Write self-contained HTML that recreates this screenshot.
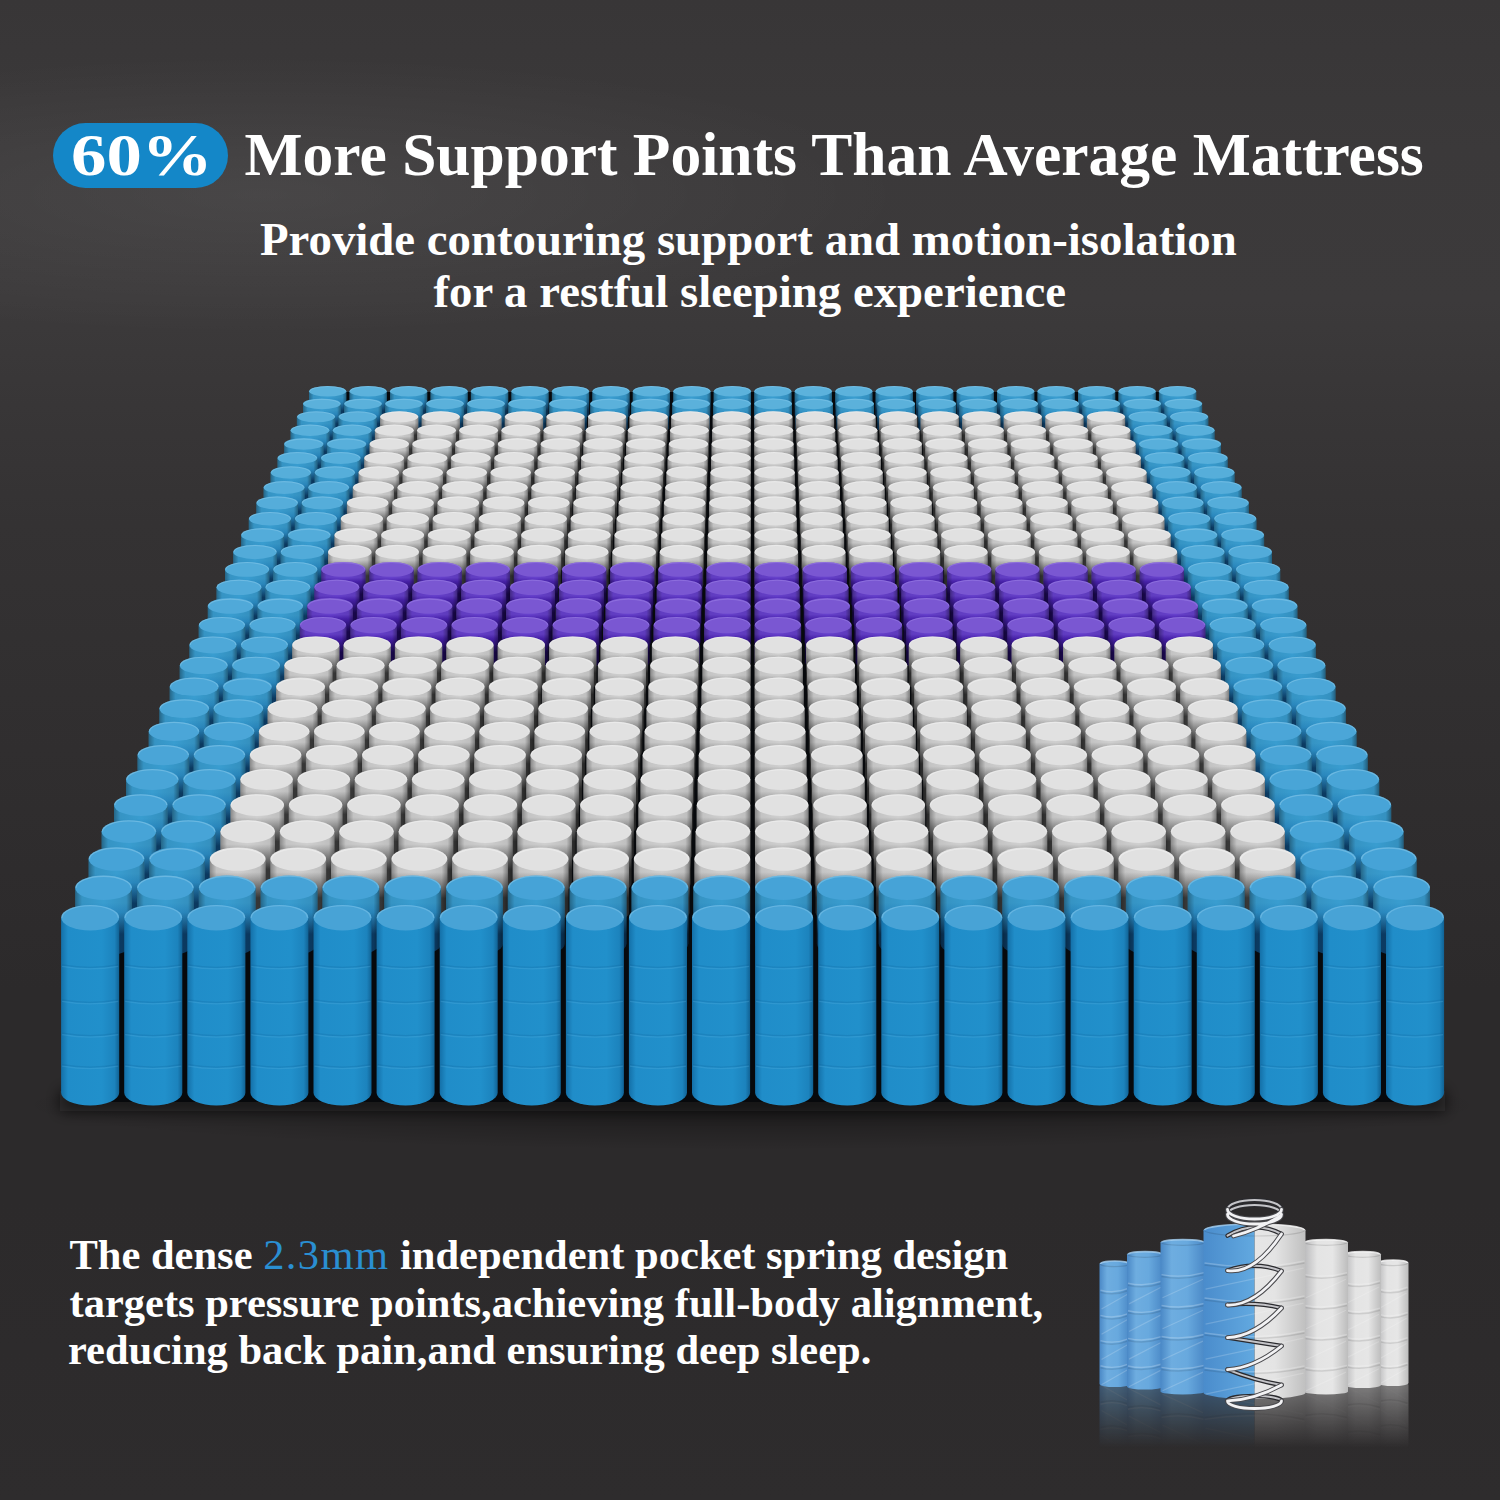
<!DOCTYPE html>
<html><head><meta charset="utf-8"><style>
html,body{margin:0;padding:0}
body{width:1500px;height:1500px;position:relative;overflow:hidden;
background:radial-gradient(ellipse 650px 140px at 260px 195px,rgba(255,255,255,0.065),rgba(255,255,255,0) 100%),linear-gradient(180deg,#383637 0%,#3b393a 10%,#3c3a3b 20%,#383637 27%,#343233 35%,#302e2f 50%,#2c2a2b 66%,#2c2a2b 80%,#2e2c2d 100%);
font-family:"Liberation Serif",serif;color:#fff}
.t{position:absolute;white-space:nowrap;font-weight:bold;line-height:1}
#pill{position:absolute;left:53px;top:123px;width:175px;height:65px;border-radius:33px;background:#1487c8}
</style></head><body>
<svg width="1500" height="1500" viewBox="0 0 1500 1500" style="position:absolute;left:0;top:0"><defs><linearGradient id="sb" x1="0" y1="0" x2="0" y2="1"><stop offset="0" stop-color="#399dd0"/><stop offset="0.22" stop-color="#399dd0"/><stop offset="0.36" stop-color="#2c8fc8"/><stop offset="0.68" stop-color="#0c3d66"/></linearGradient><linearGradient id="sw" x1="0" y1="0" x2="0" y2="1"><stop offset="0" stop-color="#d0d0d0"/><stop offset="0.2" stop-color="#d0d0d0"/><stop offset="0.3" stop-color="#ababab"/><stop offset="0.6" stop-color="#3a3a3a"/></linearGradient><linearGradient id="sp" x1="0" y1="0" x2="0" y2="1"><stop offset="0" stop-color="#6640cc"/><stop offset="0.2" stop-color="#6640cc"/><stop offset="0.3" stop-color="#4a22b0"/><stop offset="0.6" stop-color="#1a0850"/></linearGradient><linearGradient id="hs" x1="0" y1="0" x2="1" y2="0"><stop offset="0" stop-color="#000" stop-opacity="0.35"/><stop offset="0.12" stop-color="#000" stop-opacity="0.06"/><stop offset="0.5" stop-color="#000" stop-opacity="0"/><stop offset="0.9" stop-color="#000" stop-opacity="0.08"/><stop offset="1" stop-color="#000" stop-opacity="0.4"/></linearGradient><linearGradient id="fr" x1="0" y1="0" x2="1" y2="0"><stop offset="0" stop-color="#1470a8"/><stop offset="0.12" stop-color="#208dc9"/><stop offset="0.7" stop-color="#2190cb"/><stop offset="0.92" stop-color="#1c83bd"/><stop offset="1" stop-color="#116294"/></linearGradient><linearGradient id="ib" x1="0" y1="0" x2="1" y2="0"><stop offset="0" stop-color="#4a88c6"/><stop offset="0.25" stop-color="#6eade0"/><stop offset="0.6" stop-color="#68a9de"/><stop offset="1" stop-color="#4a88c6"/></linearGradient><linearGradient id="iw" x1="0" y1="0" x2="1" y2="0"><stop offset="0" stop-color="#b9b9bb"/><stop offset="0.3" stop-color="#e4e4e4"/><stop offset="0.65" stop-color="#e6e6e6"/><stop offset="1" stop-color="#bdbdbd"/></linearGradient><linearGradient id="ibh" x1="0" y1="0" x2="1" y2="0"><stop offset="0" stop-color="#4a8ccc"/><stop offset="0.5" stop-color="#62a9e0"/><stop offset="1" stop-color="#7ab6e4"/></linearGradient><linearGradient id="iwh" x1="0" y1="0" x2="1" y2="0"><stop offset="0" stop-color="#c9c9cb"/><stop offset="0.3" stop-color="#e8e8e8"/><stop offset="0.7" stop-color="#e4e4e4"/><stop offset="1" stop-color="#c0c0c0"/></linearGradient><linearGradient id="rf" x1="0" y1="0" x2="0" y2="1"><stop offset="0.1" stop-color="#fff" stop-opacity="0.42"/><stop offset="0.85" stop-color="#fff" stop-opacity="0"/></linearGradient><mask id="rfm" maskUnits="userSpaceOnUse" x="1090" y="1380" width="330" height="80"><rect x="1090" y="1380" width="330" height="80" fill="url(#rf)"/></mask><linearGradient id="spr" x1="0" y1="0" x2="1" y2="0"><stop offset="0" stop-color="#8a8a8c"/><stop offset="0.3" stop-color="#f2f2f2"/><stop offset="0.6" stop-color="#cfcfd1"/><stop offset="1" stop-color="#7d7d80"/></linearGradient><filter id="blur6" x="-10%" y="-100%" width="120%" height="300%"><feGaussianBlur stdDeviation="7.5"/></filter><radialGradient id="shadow" cx="0.5" cy="0.5" r="0.5"><stop offset="0" stop-color="#000" stop-opacity="0.38"/><stop offset="1" stop-color="#000" stop-opacity="0"/></radialGradient></defs><ellipse cx="752" cy="1105" rx="740" ry="45" fill="url(#shadow)"/><rect x="60.2" y="1090.9" width="1384.9" height="20" fill="#0e0d0e" fill-opacity="0.75" filter="url(#blur6)"/><polygon points="327.7,391.9 1177.5,391.9 1415.0,924.9 1415.0,1101.9 90.2,1101.9 90.2,924.9" fill="#07090c"/><path d="M309.0,391.2L309.0,414.9A18.6,5.2 0 0 0 346.3,414.9L346.3,391.2Z" fill="url(#sb)"/><path d="M309.0,391.2L309.0,414.9A18.6,5.2 0 0 0 346.3,414.9L346.3,391.2Z" fill="url(#hs)"/><ellipse cx="327.7" cy="391.2" rx="18.6" ry="5.2" fill="#5cb2dc"/><path d="M309.8,391.2A17.8,4.6 0 0 1 345.5,391.2" fill="none" stroke="#86c8ea" stroke-opacity="0.55" stroke-width="0.90"/><path d="M349.5,391.2L349.5,414.9A18.6,5.2 0 0 0 386.8,414.9L386.8,391.2Z" fill="url(#sb)"/><path d="M349.5,391.2L349.5,414.9A18.6,5.2 0 0 0 386.8,414.9L386.8,391.2Z" fill="url(#hs)"/><ellipse cx="368.1" cy="391.2" rx="18.6" ry="5.2" fill="#5cb2dc"/><path d="M350.3,391.2A17.8,4.6 0 0 1 386.0,391.2" fill="none" stroke="#86c8ea" stroke-opacity="0.55" stroke-width="0.90"/><path d="M390.0,391.2L390.0,414.9A18.6,5.2 0 0 0 427.2,414.9L427.2,391.2Z" fill="url(#sb)"/><path d="M390.0,391.2L390.0,414.9A18.6,5.2 0 0 0 427.2,414.9L427.2,391.2Z" fill="url(#hs)"/><ellipse cx="408.6" cy="391.2" rx="18.6" ry="5.2" fill="#5cb2dc"/><path d="M390.8,391.2A17.8,4.6 0 0 1 426.4,391.2" fill="none" stroke="#86c8ea" stroke-opacity="0.55" stroke-width="0.90"/><path d="M430.5,391.2L430.5,414.9A18.6,5.2 0 0 0 467.7,414.9L467.7,391.2Z" fill="url(#sb)"/><path d="M430.5,391.2L430.5,414.9A18.6,5.2 0 0 0 467.7,414.9L467.7,391.2Z" fill="url(#hs)"/><ellipse cx="449.1" cy="391.2" rx="18.6" ry="5.2" fill="#5cb2dc"/><path d="M431.3,391.2A17.8,4.6 0 0 1 466.9,391.2" fill="none" stroke="#86c8ea" stroke-opacity="0.55" stroke-width="0.90"/><path d="M470.9,391.2L470.9,414.9A18.6,5.2 0 0 0 508.2,414.9L508.2,391.2Z" fill="url(#sb)"/><path d="M470.9,391.2L470.9,414.9A18.6,5.2 0 0 0 508.2,414.9L508.2,391.2Z" fill="url(#hs)"/><ellipse cx="489.5" cy="391.2" rx="18.6" ry="5.2" fill="#5cb2dc"/><path d="M471.7,391.2A17.8,4.6 0 0 1 507.4,391.2" fill="none" stroke="#86c8ea" stroke-opacity="0.55" stroke-width="0.90"/><path d="M511.4,391.2L511.4,414.9A18.6,5.2 0 0 0 548.6,414.9L548.6,391.2Z" fill="url(#sb)"/><path d="M511.4,391.2L511.4,414.9A18.6,5.2 0 0 0 548.6,414.9L548.6,391.2Z" fill="url(#hs)"/><ellipse cx="530.0" cy="391.2" rx="18.6" ry="5.2" fill="#5cb2dc"/><path d="M512.2,391.2A17.8,4.6 0 0 1 547.8,391.2" fill="none" stroke="#86c8ea" stroke-opacity="0.55" stroke-width="0.90"/><path d="M551.9,391.2L551.9,414.9A18.6,5.2 0 0 0 589.1,414.9L589.1,391.2Z" fill="url(#sb)"/><path d="M551.9,391.2L551.9,414.9A18.6,5.2 0 0 0 589.1,414.9L589.1,391.2Z" fill="url(#hs)"/><ellipse cx="570.5" cy="391.2" rx="18.6" ry="5.2" fill="#5cb2dc"/><path d="M552.7,391.2A17.8,4.6 0 0 1 588.3,391.2" fill="none" stroke="#86c8ea" stroke-opacity="0.55" stroke-width="0.90"/><path d="M592.3,391.2L592.3,414.9A18.6,5.2 0 0 0 629.6,414.9L629.6,391.2Z" fill="url(#sb)"/><path d="M592.3,391.2L592.3,414.9A18.6,5.2 0 0 0 629.6,414.9L629.6,391.2Z" fill="url(#hs)"/><ellipse cx="611.0" cy="391.2" rx="18.6" ry="5.2" fill="#5cb2dc"/><path d="M593.1,391.2A17.8,4.6 0 0 1 628.8,391.2" fill="none" stroke="#86c8ea" stroke-opacity="0.55" stroke-width="0.90"/><path d="M632.8,391.2L632.8,414.9A18.6,5.2 0 0 0 670.0,414.9L670.0,391.2Z" fill="url(#sb)"/><path d="M632.8,391.2L632.8,414.9A18.6,5.2 0 0 0 670.0,414.9L670.0,391.2Z" fill="url(#hs)"/><ellipse cx="651.4" cy="391.2" rx="18.6" ry="5.2" fill="#5cb2dc"/><path d="M633.6,391.2A17.8,4.6 0 0 1 669.2,391.2" fill="none" stroke="#86c8ea" stroke-opacity="0.55" stroke-width="0.90"/><path d="M673.3,391.2L673.3,414.9A18.6,5.2 0 0 0 710.5,414.9L710.5,391.2Z" fill="url(#sb)"/><path d="M673.3,391.2L673.3,414.9A18.6,5.2 0 0 0 710.5,414.9L710.5,391.2Z" fill="url(#hs)"/><ellipse cx="691.9" cy="391.2" rx="18.6" ry="5.2" fill="#5cb2dc"/><path d="M674.1,391.2A17.8,4.6 0 0 1 709.7,391.2" fill="none" stroke="#86c8ea" stroke-opacity="0.55" stroke-width="0.90"/><path d="M713.7,391.2L713.7,414.9A18.6,5.2 0 0 0 751.0,414.9L751.0,391.2Z" fill="url(#sb)"/><path d="M713.7,391.2L713.7,414.9A18.6,5.2 0 0 0 751.0,414.9L751.0,391.2Z" fill="url(#hs)"/><ellipse cx="732.4" cy="391.2" rx="18.6" ry="5.2" fill="#5cb2dc"/><path d="M714.5,391.2A17.8,4.6 0 0 1 750.2,391.2" fill="none" stroke="#86c8ea" stroke-opacity="0.55" stroke-width="0.90"/><path d="M754.2,391.2L754.2,414.9A18.6,5.2 0 0 0 791.5,414.9L791.5,391.2Z" fill="url(#sb)"/><path d="M754.2,391.2L754.2,414.9A18.6,5.2 0 0 0 791.5,414.9L791.5,391.2Z" fill="url(#hs)"/><ellipse cx="772.8" cy="391.2" rx="18.6" ry="5.2" fill="#5cb2dc"/><path d="M755.0,391.2A17.8,4.6 0 0 1 790.7,391.2" fill="none" stroke="#86c8ea" stroke-opacity="0.55" stroke-width="0.90"/><path d="M794.7,391.2L794.7,414.9A18.6,5.2 0 0 0 831.9,414.9L831.9,391.2Z" fill="url(#sb)"/><path d="M794.7,391.2L794.7,414.9A18.6,5.2 0 0 0 831.9,414.9L831.9,391.2Z" fill="url(#hs)"/><ellipse cx="813.3" cy="391.2" rx="18.6" ry="5.2" fill="#5cb2dc"/><path d="M795.5,391.2A17.8,4.6 0 0 1 831.1,391.2" fill="none" stroke="#86c8ea" stroke-opacity="0.55" stroke-width="0.90"/><path d="M835.2,391.2L835.2,414.9A18.6,5.2 0 0 0 872.4,414.9L872.4,391.2Z" fill="url(#sb)"/><path d="M835.2,391.2L835.2,414.9A18.6,5.2 0 0 0 872.4,414.9L872.4,391.2Z" fill="url(#hs)"/><ellipse cx="853.8" cy="391.2" rx="18.6" ry="5.2" fill="#5cb2dc"/><path d="M836.0,391.2A17.8,4.6 0 0 1 871.6,391.2" fill="none" stroke="#86c8ea" stroke-opacity="0.55" stroke-width="0.90"/><path d="M875.6,391.2L875.6,414.9A18.6,5.2 0 0 0 912.9,414.9L912.9,391.2Z" fill="url(#sb)"/><path d="M875.6,391.2L875.6,414.9A18.6,5.2 0 0 0 912.9,414.9L912.9,391.2Z" fill="url(#hs)"/><ellipse cx="894.2" cy="391.2" rx="18.6" ry="5.2" fill="#5cb2dc"/><path d="M876.4,391.2A17.8,4.6 0 0 1 912.1,391.2" fill="none" stroke="#86c8ea" stroke-opacity="0.55" stroke-width="0.90"/><path d="M916.1,391.2L916.1,414.9A18.6,5.2 0 0 0 953.3,414.9L953.3,391.2Z" fill="url(#sb)"/><path d="M916.1,391.2L916.1,414.9A18.6,5.2 0 0 0 953.3,414.9L953.3,391.2Z" fill="url(#hs)"/><ellipse cx="934.7" cy="391.2" rx="18.6" ry="5.2" fill="#5cb2dc"/><path d="M916.9,391.2A17.8,4.6 0 0 1 952.5,391.2" fill="none" stroke="#86c8ea" stroke-opacity="0.55" stroke-width="0.90"/><path d="M956.6,391.2L956.6,414.9A18.6,5.2 0 0 0 993.8,414.9L993.8,391.2Z" fill="url(#sb)"/><path d="M956.6,391.2L956.6,414.9A18.6,5.2 0 0 0 993.8,414.9L993.8,391.2Z" fill="url(#hs)"/><ellipse cx="975.2" cy="391.2" rx="18.6" ry="5.2" fill="#5cb2dc"/><path d="M957.4,391.2A17.8,4.6 0 0 1 993.0,391.2" fill="none" stroke="#86c8ea" stroke-opacity="0.55" stroke-width="0.90"/><path d="M997.0,391.2L997.0,414.9A18.6,5.2 0 0 0 1034.3,414.9L1034.3,391.2Z" fill="url(#sb)"/><path d="M997.0,391.2L997.0,414.9A18.6,5.2 0 0 0 1034.3,414.9L1034.3,391.2Z" fill="url(#hs)"/><ellipse cx="1015.7" cy="391.2" rx="18.6" ry="5.2" fill="#5cb2dc"/><path d="M997.8,391.2A17.8,4.6 0 0 1 1033.5,391.2" fill="none" stroke="#86c8ea" stroke-opacity="0.55" stroke-width="0.90"/><path d="M1037.5,391.2L1037.5,414.9A18.6,5.2 0 0 0 1074.7,414.9L1074.7,391.2Z" fill="url(#sb)"/><path d="M1037.5,391.2L1037.5,414.9A18.6,5.2 0 0 0 1074.7,414.9L1074.7,391.2Z" fill="url(#hs)"/><ellipse cx="1056.1" cy="391.2" rx="18.6" ry="5.2" fill="#5cb2dc"/><path d="M1038.3,391.2A17.8,4.6 0 0 1 1073.9,391.2" fill="none" stroke="#86c8ea" stroke-opacity="0.55" stroke-width="0.90"/><path d="M1078.0,391.2L1078.0,414.9A18.6,5.2 0 0 0 1115.2,414.9L1115.2,391.2Z" fill="url(#sb)"/><path d="M1078.0,391.2L1078.0,414.9A18.6,5.2 0 0 0 1115.2,414.9L1115.2,391.2Z" fill="url(#hs)"/><ellipse cx="1096.6" cy="391.2" rx="18.6" ry="5.2" fill="#5cb2dc"/><path d="M1078.8,391.2A17.8,4.6 0 0 1 1114.4,391.2" fill="none" stroke="#86c8ea" stroke-opacity="0.55" stroke-width="0.90"/><path d="M1118.4,391.2L1118.4,414.9A18.6,5.2 0 0 0 1155.7,414.9L1155.7,391.2Z" fill="url(#sb)"/><path d="M1118.4,391.2L1118.4,414.9A18.6,5.2 0 0 0 1155.7,414.9L1155.7,391.2Z" fill="url(#hs)"/><ellipse cx="1137.1" cy="391.2" rx="18.6" ry="5.2" fill="#5cb2dc"/><path d="M1119.2,391.2A17.8,4.6 0 0 1 1154.9,391.2" fill="none" stroke="#86c8ea" stroke-opacity="0.55" stroke-width="0.90"/><path d="M1158.9,391.2L1158.9,414.9A18.6,5.2 0 0 0 1196.2,414.9L1196.2,391.2Z" fill="url(#sb)"/><path d="M1158.9,391.2L1158.9,414.9A18.6,5.2 0 0 0 1196.2,414.9L1196.2,391.2Z" fill="url(#hs)"/><ellipse cx="1177.5" cy="391.2" rx="18.6" ry="5.2" fill="#5cb2dc"/><path d="M1159.7,391.2A17.8,4.6 0 0 1 1195.4,391.2" fill="none" stroke="#86c8ea" stroke-opacity="0.55" stroke-width="0.90"/><path d="M303.1,403.8L303.1,428.2A18.9,5.4 0 0 0 340.8,428.2L340.8,403.8Z" fill="url(#sb)"/><path d="M303.1,403.8L303.1,428.2A18.9,5.4 0 0 0 340.8,428.2L340.8,403.8Z" fill="url(#hs)"/><ellipse cx="321.9" cy="403.8" rx="18.9" ry="5.4" fill="#5bb1db"/><path d="M303.9,403.8A18.1,4.8 0 0 1 340.0,403.8" fill="none" stroke="#86c8ea" stroke-opacity="0.55" stroke-width="0.91"/><path d="M344.1,403.8L344.1,428.2A18.9,5.4 0 0 0 381.8,428.2L381.8,403.8Z" fill="url(#sb)"/><path d="M344.1,403.8L344.1,428.2A18.9,5.4 0 0 0 381.8,428.2L381.8,403.8Z" fill="url(#hs)"/><ellipse cx="363.0" cy="403.8" rx="18.9" ry="5.4" fill="#5bb1db"/><path d="M344.9,403.8A18.1,4.8 0 0 1 381.0,403.8" fill="none" stroke="#86c8ea" stroke-opacity="0.55" stroke-width="0.91"/><path d="M385.1,403.8L385.1,428.2A18.9,5.4 0 0 0 422.8,428.2L422.8,403.8Z" fill="url(#sb)"/><path d="M385.1,403.8L385.1,428.2A18.9,5.4 0 0 0 422.8,428.2L422.8,403.8Z" fill="url(#hs)"/><ellipse cx="404.0" cy="403.8" rx="18.9" ry="5.4" fill="#5bb1db"/><path d="M385.9,403.8A18.1,4.8 0 0 1 422.0,403.8" fill="none" stroke="#86c8ea" stroke-opacity="0.55" stroke-width="0.91"/><path d="M426.1,403.8L426.1,428.2A18.9,5.4 0 0 0 463.9,428.2L463.9,403.8Z" fill="url(#sb)"/><path d="M426.1,403.8L426.1,428.2A18.9,5.4 0 0 0 463.9,428.2L463.9,403.8Z" fill="url(#hs)"/><ellipse cx="445.0" cy="403.8" rx="18.9" ry="5.4" fill="#5bb1db"/><path d="M426.9,403.8A18.1,4.8 0 0 1 463.1,403.8" fill="none" stroke="#86c8ea" stroke-opacity="0.55" stroke-width="0.91"/><path d="M467.1,403.8L467.1,428.2A18.9,5.4 0 0 0 504.9,428.2L504.9,403.8Z" fill="url(#sb)"/><path d="M467.1,403.8L467.1,428.2A18.9,5.4 0 0 0 504.9,428.2L504.9,403.8Z" fill="url(#hs)"/><ellipse cx="486.0" cy="403.8" rx="18.9" ry="5.4" fill="#5bb1db"/><path d="M467.9,403.8A18.1,4.8 0 0 1 504.1,403.8" fill="none" stroke="#86c8ea" stroke-opacity="0.55" stroke-width="0.91"/><path d="M508.2,403.8L508.2,428.2A18.9,5.4 0 0 0 545.9,428.2L545.9,403.8Z" fill="url(#sb)"/><path d="M508.2,403.8L508.2,428.2A18.9,5.4 0 0 0 545.9,428.2L545.9,403.8Z" fill="url(#hs)"/><ellipse cx="527.0" cy="403.8" rx="18.9" ry="5.4" fill="#5bb1db"/><path d="M509.0,403.8A18.1,4.8 0 0 1 545.1,403.8" fill="none" stroke="#86c8ea" stroke-opacity="0.55" stroke-width="0.91"/><path d="M549.2,403.8L549.2,428.2A18.9,5.4 0 0 0 586.9,428.2L586.9,403.8Z" fill="url(#sb)"/><path d="M549.2,403.8L549.2,428.2A18.9,5.4 0 0 0 586.9,428.2L586.9,403.8Z" fill="url(#hs)"/><ellipse cx="568.0" cy="403.8" rx="18.9" ry="5.4" fill="#5bb1db"/><path d="M550.0,403.8A18.1,4.8 0 0 1 586.1,403.8" fill="none" stroke="#86c8ea" stroke-opacity="0.55" stroke-width="0.91"/><path d="M590.2,403.8L590.2,428.2A18.9,5.4 0 0 0 627.9,428.2L627.9,403.8Z" fill="url(#sb)"/><path d="M590.2,403.8L590.2,428.2A18.9,5.4 0 0 0 627.9,428.2L627.9,403.8Z" fill="url(#hs)"/><ellipse cx="609.0" cy="403.8" rx="18.9" ry="5.4" fill="#5bb1db"/><path d="M591.0,403.8A18.1,4.8 0 0 1 627.1,403.8" fill="none" stroke="#86c8ea" stroke-opacity="0.55" stroke-width="0.91"/><path d="M631.2,403.8L631.2,428.2A18.9,5.4 0 0 0 668.9,428.2L668.9,403.8Z" fill="url(#sb)"/><path d="M631.2,403.8L631.2,428.2A18.9,5.4 0 0 0 668.9,428.2L668.9,403.8Z" fill="url(#hs)"/><ellipse cx="650.1" cy="403.8" rx="18.9" ry="5.4" fill="#5bb1db"/><path d="M632.0,403.8A18.1,4.8 0 0 1 668.1,403.8" fill="none" stroke="#86c8ea" stroke-opacity="0.55" stroke-width="0.91"/><path d="M672.2,403.8L672.2,428.2A18.9,5.4 0 0 0 709.9,428.2L709.9,403.8Z" fill="url(#sb)"/><path d="M672.2,403.8L672.2,428.2A18.9,5.4 0 0 0 709.9,428.2L709.9,403.8Z" fill="url(#hs)"/><ellipse cx="691.1" cy="403.8" rx="18.9" ry="5.4" fill="#5bb1db"/><path d="M673.0,403.8A18.1,4.8 0 0 1 709.1,403.8" fill="none" stroke="#86c8ea" stroke-opacity="0.55" stroke-width="0.91"/><path d="M713.2,403.8L713.2,428.2A18.9,5.4 0 0 0 751.0,428.2L751.0,403.8Z" fill="url(#sb)"/><path d="M713.2,403.8L713.2,428.2A18.9,5.4 0 0 0 751.0,428.2L751.0,403.8Z" fill="url(#hs)"/><ellipse cx="732.1" cy="403.8" rx="18.9" ry="5.4" fill="#5bb1db"/><path d="M714.0,403.8A18.1,4.8 0 0 1 750.2,403.8" fill="none" stroke="#86c8ea" stroke-opacity="0.55" stroke-width="0.91"/><path d="M754.2,403.8L754.2,428.2A18.9,5.4 0 0 0 792.0,428.2L792.0,403.8Z" fill="url(#sb)"/><path d="M754.2,403.8L754.2,428.2A18.9,5.4 0 0 0 792.0,428.2L792.0,403.8Z" fill="url(#hs)"/><ellipse cx="773.1" cy="403.8" rx="18.9" ry="5.4" fill="#5bb1db"/><path d="M755.0,403.8A18.1,4.8 0 0 1 791.2,403.8" fill="none" stroke="#86c8ea" stroke-opacity="0.55" stroke-width="0.91"/><path d="M795.3,403.8L795.3,428.2A18.9,5.4 0 0 0 833.0,428.2L833.0,403.8Z" fill="url(#sb)"/><path d="M795.3,403.8L795.3,428.2A18.9,5.4 0 0 0 833.0,428.2L833.0,403.8Z" fill="url(#hs)"/><ellipse cx="814.1" cy="403.8" rx="18.9" ry="5.4" fill="#5bb1db"/><path d="M796.1,403.8A18.1,4.8 0 0 1 832.2,403.8" fill="none" stroke="#86c8ea" stroke-opacity="0.55" stroke-width="0.91"/><path d="M836.3,403.8L836.3,428.2A18.9,5.4 0 0 0 874.0,428.2L874.0,403.8Z" fill="url(#sb)"/><path d="M836.3,403.8L836.3,428.2A18.9,5.4 0 0 0 874.0,428.2L874.0,403.8Z" fill="url(#hs)"/><ellipse cx="855.1" cy="403.8" rx="18.9" ry="5.4" fill="#5bb1db"/><path d="M837.1,403.8A18.1,4.8 0 0 1 873.2,403.8" fill="none" stroke="#86c8ea" stroke-opacity="0.55" stroke-width="0.91"/><path d="M877.3,403.8L877.3,428.2A18.9,5.4 0 0 0 915.0,428.2L915.0,403.8Z" fill="url(#sb)"/><path d="M877.3,403.8L877.3,428.2A18.9,5.4 0 0 0 915.0,428.2L915.0,403.8Z" fill="url(#hs)"/><ellipse cx="896.2" cy="403.8" rx="18.9" ry="5.4" fill="#5bb1db"/><path d="M878.1,403.8A18.1,4.8 0 0 1 914.2,403.8" fill="none" stroke="#86c8ea" stroke-opacity="0.55" stroke-width="0.91"/><path d="M918.3,403.8L918.3,428.2A18.9,5.4 0 0 0 956.0,428.2L956.0,403.8Z" fill="url(#sb)"/><path d="M918.3,403.8L918.3,428.2A18.9,5.4 0 0 0 956.0,428.2L956.0,403.8Z" fill="url(#hs)"/><ellipse cx="937.2" cy="403.8" rx="18.9" ry="5.4" fill="#5bb1db"/><path d="M919.1,403.8A18.1,4.8 0 0 1 955.2,403.8" fill="none" stroke="#86c8ea" stroke-opacity="0.55" stroke-width="0.91"/><path d="M959.3,403.8L959.3,428.2A18.9,5.4 0 0 0 997.0,428.2L997.0,403.8Z" fill="url(#sb)"/><path d="M959.3,403.8L959.3,428.2A18.9,5.4 0 0 0 997.0,428.2L997.0,403.8Z" fill="url(#hs)"/><ellipse cx="978.2" cy="403.8" rx="18.9" ry="5.4" fill="#5bb1db"/><path d="M960.1,403.8A18.1,4.8 0 0 1 996.2,403.8" fill="none" stroke="#86c8ea" stroke-opacity="0.55" stroke-width="0.91"/><path d="M1000.3,403.8L1000.3,428.2A18.9,5.4 0 0 0 1038.1,428.2L1038.1,403.8Z" fill="url(#sb)"/><path d="M1000.3,403.8L1000.3,428.2A18.9,5.4 0 0 0 1038.1,428.2L1038.1,403.8Z" fill="url(#hs)"/><ellipse cx="1019.2" cy="403.8" rx="18.9" ry="5.4" fill="#5bb1db"/><path d="M1001.1,403.8A18.1,4.8 0 0 1 1037.3,403.8" fill="none" stroke="#86c8ea" stroke-opacity="0.55" stroke-width="0.91"/><path d="M1041.3,403.8L1041.3,428.2A18.9,5.4 0 0 0 1079.1,428.2L1079.1,403.8Z" fill="url(#sb)"/><path d="M1041.3,403.8L1041.3,428.2A18.9,5.4 0 0 0 1079.1,428.2L1079.1,403.8Z" fill="url(#hs)"/><ellipse cx="1060.2" cy="403.8" rx="18.9" ry="5.4" fill="#5bb1db"/><path d="M1042.1,403.8A18.1,4.8 0 0 1 1078.3,403.8" fill="none" stroke="#86c8ea" stroke-opacity="0.55" stroke-width="0.91"/><path d="M1082.4,403.8L1082.4,428.2A18.9,5.4 0 0 0 1120.1,428.2L1120.1,403.8Z" fill="url(#sb)"/><path d="M1082.4,403.8L1082.4,428.2A18.9,5.4 0 0 0 1120.1,428.2L1120.1,403.8Z" fill="url(#hs)"/><ellipse cx="1101.2" cy="403.8" rx="18.9" ry="5.4" fill="#5bb1db"/><path d="M1083.2,403.8A18.1,4.8 0 0 1 1119.3,403.8" fill="none" stroke="#86c8ea" stroke-opacity="0.55" stroke-width="0.91"/><path d="M1123.4,403.8L1123.4,428.2A18.9,5.4 0 0 0 1161.1,428.2L1161.1,403.8Z" fill="url(#sb)"/><path d="M1123.4,403.8L1123.4,428.2A18.9,5.4 0 0 0 1161.1,428.2L1161.1,403.8Z" fill="url(#hs)"/><ellipse cx="1142.2" cy="403.8" rx="18.9" ry="5.4" fill="#5bb1db"/><path d="M1124.2,403.8A18.1,4.8 0 0 1 1160.3,403.8" fill="none" stroke="#86c8ea" stroke-opacity="0.55" stroke-width="0.91"/><path d="M1164.4,403.8L1164.4,428.2A18.9,5.4 0 0 0 1202.1,428.2L1202.1,403.8Z" fill="url(#sb)"/><path d="M1164.4,403.8L1164.4,428.2A18.9,5.4 0 0 0 1202.1,428.2L1202.1,403.8Z" fill="url(#hs)"/><ellipse cx="1183.3" cy="403.8" rx="18.9" ry="5.4" fill="#5bb1db"/><path d="M1165.2,403.8A18.1,4.8 0 0 1 1201.3,403.8" fill="none" stroke="#86c8ea" stroke-opacity="0.55" stroke-width="0.91"/><path d="M296.9,416.8L296.9,441.9A19.1,5.5 0 0 0 335.2,441.9L335.2,416.8Z" fill="url(#sb)"/><path d="M296.9,416.8L296.9,441.9A19.1,5.5 0 0 0 335.2,441.9L335.2,416.8Z" fill="url(#hs)"/><ellipse cx="316.1" cy="416.8" rx="19.1" ry="5.5" fill="#5ab0db"/><path d="M297.7,416.8A18.3,4.9 0 0 1 334.4,416.8" fill="none" stroke="#86c8ea" stroke-opacity="0.55" stroke-width="0.92"/><path d="M338.5,416.8L338.5,441.9A19.1,5.5 0 0 0 376.8,441.9L376.8,416.8Z" fill="url(#sb)"/><path d="M338.5,416.8L338.5,441.9A19.1,5.5 0 0 0 376.8,441.9L376.8,416.8Z" fill="url(#hs)"/><ellipse cx="357.6" cy="416.8" rx="19.1" ry="5.5" fill="#5ab0db"/><path d="M339.3,416.8A18.3,4.9 0 0 1 376.0,416.8" fill="none" stroke="#86c8ea" stroke-opacity="0.55" stroke-width="0.92"/><path d="M380.1,416.8L380.1,441.9A19.1,5.5 0 0 0 418.3,441.9L418.3,416.8Z" fill="url(#sw)"/><path d="M380.1,416.8L380.1,441.9A19.1,5.5 0 0 0 418.3,441.9L418.3,416.8Z" fill="url(#hs)"/><ellipse cx="399.2" cy="416.8" rx="19.1" ry="5.5" fill="#e1e1e1"/><path d="M380.9,416.8A18.3,4.9 0 0 1 417.5,416.8" fill="none" stroke="#f2f2f2" stroke-opacity="0.55" stroke-width="0.92"/><path d="M421.7,416.8L421.7,441.9A19.1,5.5 0 0 0 459.9,441.9L459.9,416.8Z" fill="url(#sw)"/><path d="M421.7,416.8L421.7,441.9A19.1,5.5 0 0 0 459.9,441.9L459.9,416.8Z" fill="url(#hs)"/><ellipse cx="440.8" cy="416.8" rx="19.1" ry="5.5" fill="#e1e1e1"/><path d="M422.5,416.8A18.3,4.9 0 0 1 459.1,416.8" fill="none" stroke="#f2f2f2" stroke-opacity="0.55" stroke-width="0.92"/><path d="M463.2,416.8L463.2,441.9A19.1,5.5 0 0 0 501.5,441.9L501.5,416.8Z" fill="url(#sw)"/><path d="M463.2,416.8L463.2,441.9A19.1,5.5 0 0 0 501.5,441.9L501.5,416.8Z" fill="url(#hs)"/><ellipse cx="482.4" cy="416.8" rx="19.1" ry="5.5" fill="#e1e1e1"/><path d="M464.0,416.8A18.3,4.9 0 0 1 500.7,416.8" fill="none" stroke="#f2f2f2" stroke-opacity="0.55" stroke-width="0.92"/><path d="M504.8,416.8L504.8,441.9A19.1,5.5 0 0 0 543.1,441.9L543.1,416.8Z" fill="url(#sw)"/><path d="M504.8,416.8L504.8,441.9A19.1,5.5 0 0 0 543.1,441.9L543.1,416.8Z" fill="url(#hs)"/><ellipse cx="523.9" cy="416.8" rx="19.1" ry="5.5" fill="#e1e1e1"/><path d="M505.6,416.8A18.3,4.9 0 0 1 542.3,416.8" fill="none" stroke="#f2f2f2" stroke-opacity="0.55" stroke-width="0.92"/><path d="M546.4,416.8L546.4,441.9A19.1,5.5 0 0 0 584.6,441.9L584.6,416.8Z" fill="url(#sw)"/><path d="M546.4,416.8L546.4,441.9A19.1,5.5 0 0 0 584.6,441.9L584.6,416.8Z" fill="url(#hs)"/><ellipse cx="565.5" cy="416.8" rx="19.1" ry="5.5" fill="#e1e1e1"/><path d="M547.2,416.8A18.3,4.9 0 0 1 583.8,416.8" fill="none" stroke="#f2f2f2" stroke-opacity="0.55" stroke-width="0.92"/><path d="M588.0,416.8L588.0,441.9A19.1,5.5 0 0 0 626.2,441.9L626.2,416.8Z" fill="url(#sw)"/><path d="M588.0,416.8L588.0,441.9A19.1,5.5 0 0 0 626.2,441.9L626.2,416.8Z" fill="url(#hs)"/><ellipse cx="607.1" cy="416.8" rx="19.1" ry="5.5" fill="#e1e1e1"/><path d="M588.8,416.8A18.3,4.9 0 0 1 625.4,416.8" fill="none" stroke="#f2f2f2" stroke-opacity="0.55" stroke-width="0.92"/><path d="M629.5,416.8L629.5,441.9A19.1,5.5 0 0 0 667.8,441.9L667.8,416.8Z" fill="url(#sw)"/><path d="M629.5,416.8L629.5,441.9A19.1,5.5 0 0 0 667.8,441.9L667.8,416.8Z" fill="url(#hs)"/><ellipse cx="648.7" cy="416.8" rx="19.1" ry="5.5" fill="#e1e1e1"/><path d="M630.3,416.8A18.3,4.9 0 0 1 667.0,416.8" fill="none" stroke="#f2f2f2" stroke-opacity="0.55" stroke-width="0.92"/><path d="M671.1,416.8L671.1,441.9A19.1,5.5 0 0 0 709.4,441.9L709.4,416.8Z" fill="url(#sw)"/><path d="M671.1,416.8L671.1,441.9A19.1,5.5 0 0 0 709.4,441.9L709.4,416.8Z" fill="url(#hs)"/><ellipse cx="690.2" cy="416.8" rx="19.1" ry="5.5" fill="#e1e1e1"/><path d="M671.9,416.8A18.3,4.9 0 0 1 708.6,416.8" fill="none" stroke="#f2f2f2" stroke-opacity="0.55" stroke-width="0.92"/><path d="M712.7,416.8L712.7,441.9A19.1,5.5 0 0 0 750.9,441.9L750.9,416.8Z" fill="url(#sw)"/><path d="M712.7,416.8L712.7,441.9A19.1,5.5 0 0 0 750.9,441.9L750.9,416.8Z" fill="url(#hs)"/><ellipse cx="731.8" cy="416.8" rx="19.1" ry="5.5" fill="#e1e1e1"/><path d="M713.5,416.8A18.3,4.9 0 0 1 750.1,416.8" fill="none" stroke="#f2f2f2" stroke-opacity="0.55" stroke-width="0.92"/><path d="M754.3,416.8L754.3,441.9A19.1,5.5 0 0 0 792.5,441.9L792.5,416.8Z" fill="url(#sw)"/><path d="M754.3,416.8L754.3,441.9A19.1,5.5 0 0 0 792.5,441.9L792.5,416.8Z" fill="url(#hs)"/><ellipse cx="773.4" cy="416.8" rx="19.1" ry="5.5" fill="#e1e1e1"/><path d="M755.1,416.8A18.3,4.9 0 0 1 791.7,416.8" fill="none" stroke="#f2f2f2" stroke-opacity="0.55" stroke-width="0.92"/><path d="M795.8,416.8L795.8,441.9A19.1,5.5 0 0 0 834.1,441.9L834.1,416.8Z" fill="url(#sw)"/><path d="M795.8,416.8L795.8,441.9A19.1,5.5 0 0 0 834.1,441.9L834.1,416.8Z" fill="url(#hs)"/><ellipse cx="815.0" cy="416.8" rx="19.1" ry="5.5" fill="#e1e1e1"/><path d="M796.6,416.8A18.3,4.9 0 0 1 833.3,416.8" fill="none" stroke="#f2f2f2" stroke-opacity="0.55" stroke-width="0.92"/><path d="M837.4,416.8L837.4,441.9A19.1,5.5 0 0 0 875.7,441.9L875.7,416.8Z" fill="url(#sw)"/><path d="M837.4,416.8L837.4,441.9A19.1,5.5 0 0 0 875.7,441.9L875.7,416.8Z" fill="url(#hs)"/><ellipse cx="856.5" cy="416.8" rx="19.1" ry="5.5" fill="#e1e1e1"/><path d="M838.2,416.8A18.3,4.9 0 0 1 874.9,416.8" fill="none" stroke="#f2f2f2" stroke-opacity="0.55" stroke-width="0.92"/><path d="M879.0,416.8L879.0,441.9A19.1,5.5 0 0 0 917.2,441.9L917.2,416.8Z" fill="url(#sw)"/><path d="M879.0,416.8L879.0,441.9A19.1,5.5 0 0 0 917.2,441.9L917.2,416.8Z" fill="url(#hs)"/><ellipse cx="898.1" cy="416.8" rx="19.1" ry="5.5" fill="#e1e1e1"/><path d="M879.8,416.8A18.3,4.9 0 0 1 916.4,416.8" fill="none" stroke="#f2f2f2" stroke-opacity="0.55" stroke-width="0.92"/><path d="M920.6,416.8L920.6,441.9A19.1,5.5 0 0 0 958.8,441.9L958.8,416.8Z" fill="url(#sw)"/><path d="M920.6,416.8L920.6,441.9A19.1,5.5 0 0 0 958.8,441.9L958.8,416.8Z" fill="url(#hs)"/><ellipse cx="939.7" cy="416.8" rx="19.1" ry="5.5" fill="#e1e1e1"/><path d="M921.4,416.8A18.3,4.9 0 0 1 958.0,416.8" fill="none" stroke="#f2f2f2" stroke-opacity="0.55" stroke-width="0.92"/><path d="M962.1,416.8L962.1,441.9A19.1,5.5 0 0 0 1000.4,441.9L1000.4,416.8Z" fill="url(#sw)"/><path d="M962.1,416.8L962.1,441.9A19.1,5.5 0 0 0 1000.4,441.9L1000.4,416.8Z" fill="url(#hs)"/><ellipse cx="981.3" cy="416.8" rx="19.1" ry="5.5" fill="#e1e1e1"/><path d="M962.9,416.8A18.3,4.9 0 0 1 999.6,416.8" fill="none" stroke="#f2f2f2" stroke-opacity="0.55" stroke-width="0.92"/><path d="M1003.7,416.8L1003.7,441.9A19.1,5.5 0 0 0 1042.0,441.9L1042.0,416.8Z" fill="url(#sw)"/><path d="M1003.7,416.8L1003.7,441.9A19.1,5.5 0 0 0 1042.0,441.9L1042.0,416.8Z" fill="url(#hs)"/><ellipse cx="1022.8" cy="416.8" rx="19.1" ry="5.5" fill="#e1e1e1"/><path d="M1004.5,416.8A18.3,4.9 0 0 1 1041.2,416.8" fill="none" stroke="#f2f2f2" stroke-opacity="0.55" stroke-width="0.92"/><path d="M1045.3,416.8L1045.3,441.9A19.1,5.5 0 0 0 1083.5,441.9L1083.5,416.8Z" fill="url(#sw)"/><path d="M1045.3,416.8L1045.3,441.9A19.1,5.5 0 0 0 1083.5,441.9L1083.5,416.8Z" fill="url(#hs)"/><ellipse cx="1064.4" cy="416.8" rx="19.1" ry="5.5" fill="#e1e1e1"/><path d="M1046.1,416.8A18.3,4.9 0 0 1 1082.7,416.8" fill="none" stroke="#f2f2f2" stroke-opacity="0.55" stroke-width="0.92"/><path d="M1086.9,416.8L1086.9,441.9A19.1,5.5 0 0 0 1125.1,441.9L1125.1,416.8Z" fill="url(#sw)"/><path d="M1086.9,416.8L1086.9,441.9A19.1,5.5 0 0 0 1125.1,441.9L1125.1,416.8Z" fill="url(#hs)"/><ellipse cx="1106.0" cy="416.8" rx="19.1" ry="5.5" fill="#e1e1e1"/><path d="M1087.7,416.8A18.3,4.9 0 0 1 1124.3,416.8" fill="none" stroke="#f2f2f2" stroke-opacity="0.55" stroke-width="0.92"/><path d="M1128.4,416.8L1128.4,441.9A19.1,5.5 0 0 0 1166.7,441.9L1166.7,416.8Z" fill="url(#sb)"/><path d="M1128.4,416.8L1128.4,441.9A19.1,5.5 0 0 0 1166.7,441.9L1166.7,416.8Z" fill="url(#hs)"/><ellipse cx="1147.6" cy="416.8" rx="19.1" ry="5.5" fill="#5ab0db"/><path d="M1129.2,416.8A18.3,4.9 0 0 1 1165.9,416.8" fill="none" stroke="#86c8ea" stroke-opacity="0.55" stroke-width="0.92"/><path d="M1170.0,416.8L1170.0,441.9A19.1,5.5 0 0 0 1208.3,441.9L1208.3,416.8Z" fill="url(#sb)"/><path d="M1170.0,416.8L1170.0,441.9A19.1,5.5 0 0 0 1208.3,441.9L1208.3,416.8Z" fill="url(#hs)"/><ellipse cx="1189.1" cy="416.8" rx="19.1" ry="5.5" fill="#5ab0db"/><path d="M1170.8,416.8A18.3,4.9 0 0 1 1207.5,416.8" fill="none" stroke="#86c8ea" stroke-opacity="0.55" stroke-width="0.92"/><path d="M290.6,430.2L290.6,455.9A19.4,5.7 0 0 0 329.4,455.9L329.4,430.2Z" fill="url(#sb)"/><path d="M290.6,430.2L290.6,455.9A19.4,5.7 0 0 0 329.4,455.9L329.4,430.2Z" fill="url(#hs)"/><ellipse cx="310.0" cy="430.2" rx="19.4" ry="5.7" fill="#59b0db"/><path d="M291.4,430.2A18.6,5.1 0 0 1 328.6,430.2" fill="none" stroke="#86c8ea" stroke-opacity="0.55" stroke-width="0.94"/><path d="M332.8,430.2L332.8,455.9A19.4,5.7 0 0 0 371.6,455.9L371.6,430.2Z" fill="url(#sb)"/><path d="M332.8,430.2L332.8,455.9A19.4,5.7 0 0 0 371.6,455.9L371.6,430.2Z" fill="url(#hs)"/><ellipse cx="352.2" cy="430.2" rx="19.4" ry="5.7" fill="#59b0db"/><path d="M333.6,430.2A18.6,5.1 0 0 1 370.8,430.2" fill="none" stroke="#86c8ea" stroke-opacity="0.55" stroke-width="0.94"/><path d="M374.9,430.2L374.9,455.9A19.4,5.7 0 0 0 413.7,455.9L413.7,430.2Z" fill="url(#sw)"/><path d="M374.9,430.2L374.9,455.9A19.4,5.7 0 0 0 413.7,455.9L413.7,430.2Z" fill="url(#hs)"/><ellipse cx="394.3" cy="430.2" rx="19.4" ry="5.7" fill="#e1e1e1"/><path d="M375.7,430.2A18.6,5.1 0 0 1 412.9,430.2" fill="none" stroke="#f2f2f2" stroke-opacity="0.55" stroke-width="0.94"/><path d="M417.1,430.2L417.1,455.9A19.4,5.7 0 0 0 455.9,455.9L455.9,430.2Z" fill="url(#sw)"/><path d="M417.1,430.2L417.1,455.9A19.4,5.7 0 0 0 455.9,455.9L455.9,430.2Z" fill="url(#hs)"/><ellipse cx="436.5" cy="430.2" rx="19.4" ry="5.7" fill="#e1e1e1"/><path d="M417.9,430.2A18.6,5.1 0 0 1 455.1,430.2" fill="none" stroke="#f2f2f2" stroke-opacity="0.55" stroke-width="0.94"/><path d="M459.2,430.2L459.2,455.9A19.4,5.7 0 0 0 498.0,455.9L498.0,430.2Z" fill="url(#sw)"/><path d="M459.2,430.2L459.2,455.9A19.4,5.7 0 0 0 498.0,455.9L498.0,430.2Z" fill="url(#hs)"/><ellipse cx="478.6" cy="430.2" rx="19.4" ry="5.7" fill="#e1e1e1"/><path d="M460.0,430.2A18.6,5.1 0 0 1 497.2,430.2" fill="none" stroke="#f2f2f2" stroke-opacity="0.55" stroke-width="0.94"/><path d="M501.4,430.2L501.4,455.9A19.4,5.7 0 0 0 540.2,455.9L540.2,430.2Z" fill="url(#sw)"/><path d="M501.4,430.2L501.4,455.9A19.4,5.7 0 0 0 540.2,455.9L540.2,430.2Z" fill="url(#hs)"/><ellipse cx="520.8" cy="430.2" rx="19.4" ry="5.7" fill="#e1e1e1"/><path d="M502.2,430.2A18.6,5.1 0 0 1 539.4,430.2" fill="none" stroke="#f2f2f2" stroke-opacity="0.55" stroke-width="0.94"/><path d="M543.5,430.2L543.5,455.9A19.4,5.7 0 0 0 582.3,455.9L582.3,430.2Z" fill="url(#sw)"/><path d="M543.5,430.2L543.5,455.9A19.4,5.7 0 0 0 582.3,455.9L582.3,430.2Z" fill="url(#hs)"/><ellipse cx="562.9" cy="430.2" rx="19.4" ry="5.7" fill="#e1e1e1"/><path d="M544.3,430.2A18.6,5.1 0 0 1 581.5,430.2" fill="none" stroke="#f2f2f2" stroke-opacity="0.55" stroke-width="0.94"/><path d="M585.7,430.2L585.7,455.9A19.4,5.7 0 0 0 624.5,455.9L624.5,430.2Z" fill="url(#sw)"/><path d="M585.7,430.2L585.7,455.9A19.4,5.7 0 0 0 624.5,455.9L624.5,430.2Z" fill="url(#hs)"/><ellipse cx="605.1" cy="430.2" rx="19.4" ry="5.7" fill="#e1e1e1"/><path d="M586.5,430.2A18.6,5.1 0 0 1 623.7,430.2" fill="none" stroke="#f2f2f2" stroke-opacity="0.55" stroke-width="0.94"/><path d="M627.8,430.2L627.8,455.9A19.4,5.7 0 0 0 666.6,455.9L666.6,430.2Z" fill="url(#sw)"/><path d="M627.8,430.2L627.8,455.9A19.4,5.7 0 0 0 666.6,455.9L666.6,430.2Z" fill="url(#hs)"/><ellipse cx="647.2" cy="430.2" rx="19.4" ry="5.7" fill="#e1e1e1"/><path d="M628.6,430.2A18.6,5.1 0 0 1 665.8,430.2" fill="none" stroke="#f2f2f2" stroke-opacity="0.55" stroke-width="0.94"/><path d="M670.0,430.2L670.0,455.9A19.4,5.7 0 0 0 708.8,455.9L708.8,430.2Z" fill="url(#sw)"/><path d="M670.0,430.2L670.0,455.9A19.4,5.7 0 0 0 708.8,455.9L708.8,430.2Z" fill="url(#hs)"/><ellipse cx="689.4" cy="430.2" rx="19.4" ry="5.7" fill="#e1e1e1"/><path d="M670.8,430.2A18.6,5.1 0 0 1 708.0,430.2" fill="none" stroke="#f2f2f2" stroke-opacity="0.55" stroke-width="0.94"/><path d="M712.1,430.2L712.1,455.9A19.4,5.7 0 0 0 750.9,455.9L750.9,430.2Z" fill="url(#sw)"/><path d="M712.1,430.2L712.1,455.9A19.4,5.7 0 0 0 750.9,455.9L750.9,430.2Z" fill="url(#hs)"/><ellipse cx="731.5" cy="430.2" rx="19.4" ry="5.7" fill="#e1e1e1"/><path d="M712.9,430.2A18.6,5.1 0 0 1 750.1,430.2" fill="none" stroke="#f2f2f2" stroke-opacity="0.55" stroke-width="0.94"/><path d="M754.3,430.2L754.3,455.9A19.4,5.7 0 0 0 793.1,455.9L793.1,430.2Z" fill="url(#sw)"/><path d="M754.3,430.2L754.3,455.9A19.4,5.7 0 0 0 793.1,455.9L793.1,430.2Z" fill="url(#hs)"/><ellipse cx="773.7" cy="430.2" rx="19.4" ry="5.7" fill="#e1e1e1"/><path d="M755.1,430.2A18.6,5.1 0 0 1 792.3,430.2" fill="none" stroke="#f2f2f2" stroke-opacity="0.55" stroke-width="0.94"/><path d="M796.4,430.2L796.4,455.9A19.4,5.7 0 0 0 835.2,455.9L835.2,430.2Z" fill="url(#sw)"/><path d="M796.4,430.2L796.4,455.9A19.4,5.7 0 0 0 835.2,455.9L835.2,430.2Z" fill="url(#hs)"/><ellipse cx="815.8" cy="430.2" rx="19.4" ry="5.7" fill="#e1e1e1"/><path d="M797.2,430.2A18.6,5.1 0 0 1 834.4,430.2" fill="none" stroke="#f2f2f2" stroke-opacity="0.55" stroke-width="0.94"/><path d="M838.6,430.2L838.6,455.9A19.4,5.7 0 0 0 877.4,455.9L877.4,430.2Z" fill="url(#sw)"/><path d="M838.6,430.2L838.6,455.9A19.4,5.7 0 0 0 877.4,455.9L877.4,430.2Z" fill="url(#hs)"/><ellipse cx="858.0" cy="430.2" rx="19.4" ry="5.7" fill="#e1e1e1"/><path d="M839.4,430.2A18.6,5.1 0 0 1 876.6,430.2" fill="none" stroke="#f2f2f2" stroke-opacity="0.55" stroke-width="0.94"/><path d="M880.7,430.2L880.7,455.9A19.4,5.7 0 0 0 919.5,455.9L919.5,430.2Z" fill="url(#sw)"/><path d="M880.7,430.2L880.7,455.9A19.4,5.7 0 0 0 919.5,455.9L919.5,430.2Z" fill="url(#hs)"/><ellipse cx="900.1" cy="430.2" rx="19.4" ry="5.7" fill="#e1e1e1"/><path d="M881.5,430.2A18.6,5.1 0 0 1 918.7,430.2" fill="none" stroke="#f2f2f2" stroke-opacity="0.55" stroke-width="0.94"/><path d="M922.9,430.2L922.9,455.9A19.4,5.7 0 0 0 961.7,455.9L961.7,430.2Z" fill="url(#sw)"/><path d="M922.9,430.2L922.9,455.9A19.4,5.7 0 0 0 961.7,455.9L961.7,430.2Z" fill="url(#hs)"/><ellipse cx="942.3" cy="430.2" rx="19.4" ry="5.7" fill="#e1e1e1"/><path d="M923.7,430.2A18.6,5.1 0 0 1 960.9,430.2" fill="none" stroke="#f2f2f2" stroke-opacity="0.55" stroke-width="0.94"/><path d="M965.0,430.2L965.0,455.9A19.4,5.7 0 0 0 1003.8,455.9L1003.8,430.2Z" fill="url(#sw)"/><path d="M965.0,430.2L965.0,455.9A19.4,5.7 0 0 0 1003.8,455.9L1003.8,430.2Z" fill="url(#hs)"/><ellipse cx="984.4" cy="430.2" rx="19.4" ry="5.7" fill="#e1e1e1"/><path d="M965.8,430.2A18.6,5.1 0 0 1 1003.0,430.2" fill="none" stroke="#f2f2f2" stroke-opacity="0.55" stroke-width="0.94"/><path d="M1007.2,430.2L1007.2,455.9A19.4,5.7 0 0 0 1046.0,455.9L1046.0,430.2Z" fill="url(#sw)"/><path d="M1007.2,430.2L1007.2,455.9A19.4,5.7 0 0 0 1046.0,455.9L1046.0,430.2Z" fill="url(#hs)"/><ellipse cx="1026.6" cy="430.2" rx="19.4" ry="5.7" fill="#e1e1e1"/><path d="M1008.0,430.2A18.6,5.1 0 0 1 1045.2,430.2" fill="none" stroke="#f2f2f2" stroke-opacity="0.55" stroke-width="0.94"/><path d="M1049.3,430.2L1049.3,455.9A19.4,5.7 0 0 0 1088.1,455.9L1088.1,430.2Z" fill="url(#sw)"/><path d="M1049.3,430.2L1049.3,455.9A19.4,5.7 0 0 0 1088.1,455.9L1088.1,430.2Z" fill="url(#hs)"/><ellipse cx="1068.7" cy="430.2" rx="19.4" ry="5.7" fill="#e1e1e1"/><path d="M1050.1,430.2A18.6,5.1 0 0 1 1087.3,430.2" fill="none" stroke="#f2f2f2" stroke-opacity="0.55" stroke-width="0.94"/><path d="M1091.5,430.2L1091.5,455.9A19.4,5.7 0 0 0 1130.3,455.9L1130.3,430.2Z" fill="url(#sw)"/><path d="M1091.5,430.2L1091.5,455.9A19.4,5.7 0 0 0 1130.3,455.9L1130.3,430.2Z" fill="url(#hs)"/><ellipse cx="1110.9" cy="430.2" rx="19.4" ry="5.7" fill="#e1e1e1"/><path d="M1092.3,430.2A18.6,5.1 0 0 1 1129.5,430.2" fill="none" stroke="#f2f2f2" stroke-opacity="0.55" stroke-width="0.94"/><path d="M1133.6,430.2L1133.6,455.9A19.4,5.7 0 0 0 1172.4,455.9L1172.4,430.2Z" fill="url(#sb)"/><path d="M1133.6,430.2L1133.6,455.9A19.4,5.7 0 0 0 1172.4,455.9L1172.4,430.2Z" fill="url(#hs)"/><ellipse cx="1153.0" cy="430.2" rx="19.4" ry="5.7" fill="#59b0db"/><path d="M1134.4,430.2A18.6,5.1 0 0 1 1171.6,430.2" fill="none" stroke="#86c8ea" stroke-opacity="0.55" stroke-width="0.94"/><path d="M1175.8,430.2L1175.8,455.9A19.4,5.7 0 0 0 1214.6,455.9L1214.6,430.2Z" fill="url(#sb)"/><path d="M1175.8,430.2L1175.8,455.9A19.4,5.7 0 0 0 1214.6,455.9L1214.6,430.2Z" fill="url(#hs)"/><ellipse cx="1195.2" cy="430.2" rx="19.4" ry="5.7" fill="#59b0db"/><path d="M1176.6,430.2A18.6,5.1 0 0 1 1213.8,430.2" fill="none" stroke="#86c8ea" stroke-opacity="0.55" stroke-width="0.94"/><path d="M284.2,443.9L284.2,470.4A19.7,5.8 0 0 0 323.5,470.4L323.5,443.9Z" fill="url(#sb)"/><path d="M284.2,443.9L284.2,470.4A19.7,5.8 0 0 0 323.5,470.4L323.5,443.9Z" fill="url(#hs)"/><ellipse cx="303.8" cy="443.9" rx="19.7" ry="5.8" fill="#58afdb"/><path d="M285.0,443.9A18.9,5.2 0 0 1 322.7,443.9" fill="none" stroke="#86c8ea" stroke-opacity="0.55" stroke-width="0.95"/><path d="M326.9,443.9L326.9,470.4A19.7,5.8 0 0 0 366.2,470.4L366.2,443.9Z" fill="url(#sb)"/><path d="M326.9,443.9L326.9,470.4A19.7,5.8 0 0 0 366.2,470.4L366.2,443.9Z" fill="url(#hs)"/><ellipse cx="346.6" cy="443.9" rx="19.7" ry="5.8" fill="#58afdb"/><path d="M327.7,443.9A18.9,5.2 0 0 1 365.4,443.9" fill="none" stroke="#86c8ea" stroke-opacity="0.55" stroke-width="0.95"/><path d="M369.6,443.9L369.6,470.4A19.7,5.8 0 0 0 409.0,470.4L409.0,443.9Z" fill="url(#sw)"/><path d="M369.6,443.9L369.6,470.4A19.7,5.8 0 0 0 409.0,470.4L409.0,443.9Z" fill="url(#hs)"/><ellipse cx="389.3" cy="443.9" rx="19.7" ry="5.8" fill="#e1e1e1"/><path d="M370.4,443.9A18.9,5.2 0 0 1 408.2,443.9" fill="none" stroke="#f2f2f2" stroke-opacity="0.55" stroke-width="0.95"/><path d="M412.4,443.9L412.4,470.4A19.7,5.8 0 0 0 451.7,470.4L451.7,443.9Z" fill="url(#sw)"/><path d="M412.4,443.9L412.4,470.4A19.7,5.8 0 0 0 451.7,470.4L451.7,443.9Z" fill="url(#hs)"/><ellipse cx="432.0" cy="443.9" rx="19.7" ry="5.8" fill="#e1e1e1"/><path d="M413.2,443.9A18.9,5.2 0 0 1 450.9,443.9" fill="none" stroke="#f2f2f2" stroke-opacity="0.55" stroke-width="0.95"/><path d="M455.1,443.9L455.1,470.4A19.7,5.8 0 0 0 494.4,470.4L494.4,443.9Z" fill="url(#sw)"/><path d="M455.1,443.9L455.1,470.4A19.7,5.8 0 0 0 494.4,470.4L494.4,443.9Z" fill="url(#hs)"/><ellipse cx="474.8" cy="443.9" rx="19.7" ry="5.8" fill="#e1e1e1"/><path d="M455.9,443.9A18.9,5.2 0 0 1 493.6,443.9" fill="none" stroke="#f2f2f2" stroke-opacity="0.55" stroke-width="0.95"/><path d="M497.9,443.9L497.9,470.4A19.7,5.8 0 0 0 537.2,470.4L537.2,443.9Z" fill="url(#sw)"/><path d="M497.9,443.9L497.9,470.4A19.7,5.8 0 0 0 537.2,470.4L537.2,443.9Z" fill="url(#hs)"/><ellipse cx="517.5" cy="443.9" rx="19.7" ry="5.8" fill="#e1e1e1"/><path d="M498.7,443.9A18.9,5.2 0 0 1 536.4,443.9" fill="none" stroke="#f2f2f2" stroke-opacity="0.55" stroke-width="0.95"/><path d="M540.6,443.9L540.6,470.4A19.7,5.8 0 0 0 579.9,470.4L579.9,443.9Z" fill="url(#sw)"/><path d="M540.6,443.9L540.6,470.4A19.7,5.8 0 0 0 579.9,470.4L579.9,443.9Z" fill="url(#hs)"/><ellipse cx="560.3" cy="443.9" rx="19.7" ry="5.8" fill="#e1e1e1"/><path d="M541.4,443.9A18.9,5.2 0 0 1 579.1,443.9" fill="none" stroke="#f2f2f2" stroke-opacity="0.55" stroke-width="0.95"/><path d="M583.3,443.9L583.3,470.4A19.7,5.8 0 0 0 622.7,470.4L622.7,443.9Z" fill="url(#sw)"/><path d="M583.3,443.9L583.3,470.4A19.7,5.8 0 0 0 622.7,470.4L622.7,443.9Z" fill="url(#hs)"/><ellipse cx="603.0" cy="443.9" rx="19.7" ry="5.8" fill="#e1e1e1"/><path d="M584.1,443.9A18.9,5.2 0 0 1 621.9,443.9" fill="none" stroke="#f2f2f2" stroke-opacity="0.55" stroke-width="0.95"/><path d="M626.1,443.9L626.1,470.4A19.7,5.8 0 0 0 665.4,470.4L665.4,443.9Z" fill="url(#sw)"/><path d="M626.1,443.9L626.1,470.4A19.7,5.8 0 0 0 665.4,470.4L665.4,443.9Z" fill="url(#hs)"/><ellipse cx="645.7" cy="443.9" rx="19.7" ry="5.8" fill="#e1e1e1"/><path d="M626.9,443.9A18.9,5.2 0 0 1 664.6,443.9" fill="none" stroke="#f2f2f2" stroke-opacity="0.55" stroke-width="0.95"/><path d="M668.8,443.9L668.8,470.4A19.7,5.8 0 0 0 708.2,470.4L708.2,443.9Z" fill="url(#sw)"/><path d="M668.8,443.9L668.8,470.4A19.7,5.8 0 0 0 708.2,470.4L708.2,443.9Z" fill="url(#hs)"/><ellipse cx="688.5" cy="443.9" rx="19.7" ry="5.8" fill="#e1e1e1"/><path d="M669.6,443.9A18.9,5.2 0 0 1 707.4,443.9" fill="none" stroke="#f2f2f2" stroke-opacity="0.55" stroke-width="0.95"/><path d="M711.6,443.9L711.6,470.4A19.7,5.8 0 0 0 750.9,470.4L750.9,443.9Z" fill="url(#sw)"/><path d="M711.6,443.9L711.6,470.4A19.7,5.8 0 0 0 750.9,470.4L750.9,443.9Z" fill="url(#hs)"/><ellipse cx="731.2" cy="443.9" rx="19.7" ry="5.8" fill="#e1e1e1"/><path d="M712.4,443.9A18.9,5.2 0 0 1 750.1,443.9" fill="none" stroke="#f2f2f2" stroke-opacity="0.55" stroke-width="0.95"/><path d="M754.3,443.9L754.3,470.4A19.7,5.8 0 0 0 793.6,470.4L793.6,443.9Z" fill="url(#sw)"/><path d="M754.3,443.9L754.3,470.4A19.7,5.8 0 0 0 793.6,470.4L793.6,443.9Z" fill="url(#hs)"/><ellipse cx="774.0" cy="443.9" rx="19.7" ry="5.8" fill="#e1e1e1"/><path d="M755.1,443.9A18.9,5.2 0 0 1 792.8,443.9" fill="none" stroke="#f2f2f2" stroke-opacity="0.55" stroke-width="0.95"/><path d="M797.0,443.9L797.0,470.4A19.7,5.8 0 0 0 836.4,470.4L836.4,443.9Z" fill="url(#sw)"/><path d="M797.0,443.9L797.0,470.4A19.7,5.8 0 0 0 836.4,470.4L836.4,443.9Z" fill="url(#hs)"/><ellipse cx="816.7" cy="443.9" rx="19.7" ry="5.8" fill="#e1e1e1"/><path d="M797.8,443.9A18.9,5.2 0 0 1 835.6,443.9" fill="none" stroke="#f2f2f2" stroke-opacity="0.55" stroke-width="0.95"/><path d="M839.8,443.9L839.8,470.4A19.7,5.8 0 0 0 879.1,470.4L879.1,443.9Z" fill="url(#sw)"/><path d="M839.8,443.9L839.8,470.4A19.7,5.8 0 0 0 879.1,470.4L879.1,443.9Z" fill="url(#hs)"/><ellipse cx="859.5" cy="443.9" rx="19.7" ry="5.8" fill="#e1e1e1"/><path d="M840.6,443.9A18.9,5.2 0 0 1 878.3,443.9" fill="none" stroke="#f2f2f2" stroke-opacity="0.55" stroke-width="0.95"/><path d="M882.5,443.9L882.5,470.4A19.7,5.8 0 0 0 921.9,470.4L921.9,443.9Z" fill="url(#sw)"/><path d="M882.5,443.9L882.5,470.4A19.7,5.8 0 0 0 921.9,470.4L921.9,443.9Z" fill="url(#hs)"/><ellipse cx="902.2" cy="443.9" rx="19.7" ry="5.8" fill="#e1e1e1"/><path d="M883.3,443.9A18.9,5.2 0 0 1 921.1,443.9" fill="none" stroke="#f2f2f2" stroke-opacity="0.55" stroke-width="0.95"/><path d="M925.3,443.9L925.3,470.4A19.7,5.8 0 0 0 964.6,470.4L964.6,443.9Z" fill="url(#sw)"/><path d="M925.3,443.9L925.3,470.4A19.7,5.8 0 0 0 964.6,470.4L964.6,443.9Z" fill="url(#hs)"/><ellipse cx="944.9" cy="443.9" rx="19.7" ry="5.8" fill="#e1e1e1"/><path d="M926.1,443.9A18.9,5.2 0 0 1 963.8,443.9" fill="none" stroke="#f2f2f2" stroke-opacity="0.55" stroke-width="0.95"/><path d="M968.0,443.9L968.0,470.4A19.7,5.8 0 0 0 1007.3,470.4L1007.3,443.9Z" fill="url(#sw)"/><path d="M968.0,443.9L968.0,470.4A19.7,5.8 0 0 0 1007.3,470.4L1007.3,443.9Z" fill="url(#hs)"/><ellipse cx="987.7" cy="443.9" rx="19.7" ry="5.8" fill="#e1e1e1"/><path d="M968.8,443.9A18.9,5.2 0 0 1 1006.5,443.9" fill="none" stroke="#f2f2f2" stroke-opacity="0.55" stroke-width="0.95"/><path d="M1010.8,443.9L1010.8,470.4A19.7,5.8 0 0 0 1050.1,470.4L1050.1,443.9Z" fill="url(#sw)"/><path d="M1010.8,443.9L1010.8,470.4A19.7,5.8 0 0 0 1050.1,470.4L1050.1,443.9Z" fill="url(#hs)"/><ellipse cx="1030.4" cy="443.9" rx="19.7" ry="5.8" fill="#e1e1e1"/><path d="M1011.6,443.9A18.9,5.2 0 0 1 1049.3,443.9" fill="none" stroke="#f2f2f2" stroke-opacity="0.55" stroke-width="0.95"/><path d="M1053.5,443.9L1053.5,470.4A19.7,5.8 0 0 0 1092.8,470.4L1092.8,443.9Z" fill="url(#sw)"/><path d="M1053.5,443.9L1053.5,470.4A19.7,5.8 0 0 0 1092.8,470.4L1092.8,443.9Z" fill="url(#hs)"/><ellipse cx="1073.2" cy="443.9" rx="19.7" ry="5.8" fill="#e1e1e1"/><path d="M1054.3,443.9A18.9,5.2 0 0 1 1092.0,443.9" fill="none" stroke="#f2f2f2" stroke-opacity="0.55" stroke-width="0.95"/><path d="M1096.2,443.9L1096.2,470.4A19.7,5.8 0 0 0 1135.6,470.4L1135.6,443.9Z" fill="url(#sw)"/><path d="M1096.2,443.9L1096.2,470.4A19.7,5.8 0 0 0 1135.6,470.4L1135.6,443.9Z" fill="url(#hs)"/><ellipse cx="1115.9" cy="443.9" rx="19.7" ry="5.8" fill="#e1e1e1"/><path d="M1097.0,443.9A18.9,5.2 0 0 1 1134.8,443.9" fill="none" stroke="#f2f2f2" stroke-opacity="0.55" stroke-width="0.95"/><path d="M1139.0,443.9L1139.0,470.4A19.7,5.8 0 0 0 1178.3,470.4L1178.3,443.9Z" fill="url(#sb)"/><path d="M1139.0,443.9L1139.0,470.4A19.7,5.8 0 0 0 1178.3,470.4L1178.3,443.9Z" fill="url(#hs)"/><ellipse cx="1158.6" cy="443.9" rx="19.7" ry="5.8" fill="#58afdb"/><path d="M1139.8,443.9A18.9,5.2 0 0 1 1177.5,443.9" fill="none" stroke="#86c8ea" stroke-opacity="0.55" stroke-width="0.95"/><path d="M1181.7,443.9L1181.7,470.4A19.7,5.8 0 0 0 1221.0,470.4L1221.0,443.9Z" fill="url(#sb)"/><path d="M1181.7,443.9L1181.7,470.4A19.7,5.8 0 0 0 1221.0,470.4L1221.0,443.9Z" fill="url(#hs)"/><ellipse cx="1201.4" cy="443.9" rx="19.7" ry="5.8" fill="#58afdb"/><path d="M1182.5,443.9A18.9,5.2 0 0 1 1220.2,443.9" fill="none" stroke="#86c8ea" stroke-opacity="0.55" stroke-width="0.95"/><path d="M277.5,458.0L277.5,485.3A19.9,6.0 0 0 0 317.4,485.3L317.4,458.0Z" fill="url(#sb)"/><path d="M277.5,458.0L277.5,485.3A19.9,6.0 0 0 0 317.4,485.3L317.4,458.0Z" fill="url(#hs)"/><ellipse cx="297.4" cy="458.0" rx="19.9" ry="6.0" fill="#57afdb"/><path d="M278.3,458.0A19.1,5.4 0 0 1 316.6,458.0" fill="none" stroke="#86c8ea" stroke-opacity="0.55" stroke-width="0.96"/><path d="M320.9,458.0L320.9,485.3A19.9,6.0 0 0 0 360.7,485.3L360.7,458.0Z" fill="url(#sb)"/><path d="M320.9,458.0L320.9,485.3A19.9,6.0 0 0 0 360.7,485.3L360.7,458.0Z" fill="url(#hs)"/><ellipse cx="340.8" cy="458.0" rx="19.9" ry="6.0" fill="#57afdb"/><path d="M321.7,458.0A19.1,5.4 0 0 1 359.9,458.0" fill="none" stroke="#86c8ea" stroke-opacity="0.55" stroke-width="0.96"/><path d="M364.2,458.0L364.2,485.3A19.9,6.0 0 0 0 404.1,485.3L404.1,458.0Z" fill="url(#sw)"/><path d="M364.2,458.0L364.2,485.3A19.9,6.0 0 0 0 404.1,485.3L404.1,458.0Z" fill="url(#hs)"/><ellipse cx="384.1" cy="458.0" rx="19.9" ry="6.0" fill="#e1e1e1"/><path d="M365.0,458.0A19.1,5.4 0 0 1 403.3,458.0" fill="none" stroke="#f2f2f2" stroke-opacity="0.55" stroke-width="0.96"/><path d="M407.5,458.0L407.5,485.3A19.9,6.0 0 0 0 447.4,485.3L447.4,458.0Z" fill="url(#sw)"/><path d="M407.5,458.0L407.5,485.3A19.9,6.0 0 0 0 447.4,485.3L447.4,458.0Z" fill="url(#hs)"/><ellipse cx="427.5" cy="458.0" rx="19.9" ry="6.0" fill="#e1e1e1"/><path d="M408.3,458.0A19.1,5.4 0 0 1 446.6,458.0" fill="none" stroke="#f2f2f2" stroke-opacity="0.55" stroke-width="0.96"/><path d="M450.9,458.0L450.9,485.3A19.9,6.0 0 0 0 490.8,485.3L490.8,458.0Z" fill="url(#sw)"/><path d="M450.9,458.0L450.9,485.3A19.9,6.0 0 0 0 490.8,485.3L490.8,458.0Z" fill="url(#hs)"/><ellipse cx="470.8" cy="458.0" rx="19.9" ry="6.0" fill="#e1e1e1"/><path d="M451.7,458.0A19.1,5.4 0 0 1 490.0,458.0" fill="none" stroke="#f2f2f2" stroke-opacity="0.55" stroke-width="0.96"/><path d="M494.2,458.0L494.2,485.3A19.9,6.0 0 0 0 534.1,485.3L534.1,458.0Z" fill="url(#sw)"/><path d="M494.2,458.0L494.2,485.3A19.9,6.0 0 0 0 534.1,485.3L534.1,458.0Z" fill="url(#hs)"/><ellipse cx="514.2" cy="458.0" rx="19.9" ry="6.0" fill="#e1e1e1"/><path d="M495.0,458.0A19.1,5.4 0 0 1 533.3,458.0" fill="none" stroke="#f2f2f2" stroke-opacity="0.55" stroke-width="0.96"/><path d="M537.6,458.0L537.6,485.3A19.9,6.0 0 0 0 577.5,485.3L577.5,458.0Z" fill="url(#sw)"/><path d="M537.6,458.0L537.6,485.3A19.9,6.0 0 0 0 577.5,485.3L577.5,458.0Z" fill="url(#hs)"/><ellipse cx="557.5" cy="458.0" rx="19.9" ry="6.0" fill="#e1e1e1"/><path d="M538.4,458.0A19.1,5.4 0 0 1 576.7,458.0" fill="none" stroke="#f2f2f2" stroke-opacity="0.55" stroke-width="0.96"/><path d="M580.9,458.0L580.9,485.3A19.9,6.0 0 0 0 620.8,485.3L620.8,458.0Z" fill="url(#sw)"/><path d="M580.9,458.0L580.9,485.3A19.9,6.0 0 0 0 620.8,485.3L620.8,458.0Z" fill="url(#hs)"/><ellipse cx="600.9" cy="458.0" rx="19.9" ry="6.0" fill="#e1e1e1"/><path d="M581.7,458.0A19.1,5.4 0 0 1 620.0,458.0" fill="none" stroke="#f2f2f2" stroke-opacity="0.55" stroke-width="0.96"/><path d="M624.3,458.0L624.3,485.3A19.9,6.0 0 0 0 664.2,485.3L664.2,458.0Z" fill="url(#sw)"/><path d="M624.3,458.0L624.3,485.3A19.9,6.0 0 0 0 664.2,485.3L664.2,458.0Z" fill="url(#hs)"/><ellipse cx="644.2" cy="458.0" rx="19.9" ry="6.0" fill="#e1e1e1"/><path d="M625.1,458.0A19.1,5.4 0 0 1 663.4,458.0" fill="none" stroke="#f2f2f2" stroke-opacity="0.55" stroke-width="0.96"/><path d="M667.6,458.0L667.6,485.3A19.9,6.0 0 0 0 707.5,485.3L707.5,458.0Z" fill="url(#sw)"/><path d="M667.6,458.0L667.6,485.3A19.9,6.0 0 0 0 707.5,485.3L707.5,458.0Z" fill="url(#hs)"/><ellipse cx="687.6" cy="458.0" rx="19.9" ry="6.0" fill="#e1e1e1"/><path d="M668.4,458.0A19.1,5.4 0 0 1 706.7,458.0" fill="none" stroke="#f2f2f2" stroke-opacity="0.55" stroke-width="0.96"/><path d="M711.0,458.0L711.0,485.3A19.9,6.0 0 0 0 750.9,485.3L750.9,458.0Z" fill="url(#sw)"/><path d="M711.0,458.0L711.0,485.3A19.9,6.0 0 0 0 750.9,485.3L750.9,458.0Z" fill="url(#hs)"/><ellipse cx="730.9" cy="458.0" rx="19.9" ry="6.0" fill="#e1e1e1"/><path d="M711.8,458.0A19.1,5.4 0 0 1 750.1,458.0" fill="none" stroke="#f2f2f2" stroke-opacity="0.55" stroke-width="0.96"/><path d="M754.3,458.0L754.3,485.3A19.9,6.0 0 0 0 794.2,485.3L794.2,458.0Z" fill="url(#sw)"/><path d="M754.3,458.0L754.3,485.3A19.9,6.0 0 0 0 794.2,485.3L794.2,458.0Z" fill="url(#hs)"/><ellipse cx="774.3" cy="458.0" rx="19.9" ry="6.0" fill="#e1e1e1"/><path d="M755.1,458.0A19.1,5.4 0 0 1 793.4,458.0" fill="none" stroke="#f2f2f2" stroke-opacity="0.55" stroke-width="0.96"/><path d="M797.7,458.0L797.7,485.3A19.9,6.0 0 0 0 837.6,485.3L837.6,458.0Z" fill="url(#sw)"/><path d="M797.7,458.0L797.7,485.3A19.9,6.0 0 0 0 837.6,485.3L837.6,458.0Z" fill="url(#hs)"/><ellipse cx="817.6" cy="458.0" rx="19.9" ry="6.0" fill="#e1e1e1"/><path d="M798.5,458.0A19.1,5.4 0 0 1 836.8,458.0" fill="none" stroke="#f2f2f2" stroke-opacity="0.55" stroke-width="0.96"/><path d="M841.0,458.0L841.0,485.3A19.9,6.0 0 0 0 880.9,485.3L880.9,458.0Z" fill="url(#sw)"/><path d="M841.0,458.0L841.0,485.3A19.9,6.0 0 0 0 880.9,485.3L880.9,458.0Z" fill="url(#hs)"/><ellipse cx="861.0" cy="458.0" rx="19.9" ry="6.0" fill="#e1e1e1"/><path d="M841.8,458.0A19.1,5.4 0 0 1 880.1,458.0" fill="none" stroke="#f2f2f2" stroke-opacity="0.55" stroke-width="0.96"/><path d="M884.4,458.0L884.4,485.3A19.9,6.0 0 0 0 924.3,485.3L924.3,458.0Z" fill="url(#sw)"/><path d="M884.4,458.0L884.4,485.3A19.9,6.0 0 0 0 924.3,485.3L924.3,458.0Z" fill="url(#hs)"/><ellipse cx="904.3" cy="458.0" rx="19.9" ry="6.0" fill="#e1e1e1"/><path d="M885.2,458.0A19.1,5.4 0 0 1 923.5,458.0" fill="none" stroke="#f2f2f2" stroke-opacity="0.55" stroke-width="0.96"/><path d="M927.7,458.0L927.7,485.3A19.9,6.0 0 0 0 967.6,485.3L967.6,458.0Z" fill="url(#sw)"/><path d="M927.7,458.0L927.7,485.3A19.9,6.0 0 0 0 967.6,485.3L967.6,458.0Z" fill="url(#hs)"/><ellipse cx="947.7" cy="458.0" rx="19.9" ry="6.0" fill="#e1e1e1"/><path d="M928.5,458.0A19.1,5.4 0 0 1 966.8,458.0" fill="none" stroke="#f2f2f2" stroke-opacity="0.55" stroke-width="0.96"/><path d="M971.1,458.0L971.1,485.3A19.9,6.0 0 0 0 1011.0,485.3L1011.0,458.0Z" fill="url(#sw)"/><path d="M971.1,458.0L971.1,485.3A19.9,6.0 0 0 0 1011.0,485.3L1011.0,458.0Z" fill="url(#hs)"/><ellipse cx="991.0" cy="458.0" rx="19.9" ry="6.0" fill="#e1e1e1"/><path d="M971.9,458.0A19.1,5.4 0 0 1 1010.2,458.0" fill="none" stroke="#f2f2f2" stroke-opacity="0.55" stroke-width="0.96"/><path d="M1014.4,458.0L1014.4,485.3A19.9,6.0 0 0 0 1054.3,485.3L1054.3,458.0Z" fill="url(#sw)"/><path d="M1014.4,458.0L1014.4,485.3A19.9,6.0 0 0 0 1054.3,485.3L1054.3,458.0Z" fill="url(#hs)"/><ellipse cx="1034.4" cy="458.0" rx="19.9" ry="6.0" fill="#e1e1e1"/><path d="M1015.2,458.0A19.1,5.4 0 0 1 1053.5,458.0" fill="none" stroke="#f2f2f2" stroke-opacity="0.55" stroke-width="0.96"/><path d="M1057.8,458.0L1057.8,485.3A19.9,6.0 0 0 0 1097.7,485.3L1097.7,458.0Z" fill="url(#sw)"/><path d="M1057.8,458.0L1057.8,485.3A19.9,6.0 0 0 0 1097.7,485.3L1097.7,458.0Z" fill="url(#hs)"/><ellipse cx="1077.7" cy="458.0" rx="19.9" ry="6.0" fill="#e1e1e1"/><path d="M1058.6,458.0A19.1,5.4 0 0 1 1096.9,458.0" fill="none" stroke="#f2f2f2" stroke-opacity="0.55" stroke-width="0.96"/><path d="M1101.1,458.0L1101.1,485.3A19.9,6.0 0 0 0 1141.0,485.3L1141.0,458.0Z" fill="url(#sw)"/><path d="M1101.1,458.0L1101.1,485.3A19.9,6.0 0 0 0 1141.0,485.3L1141.0,458.0Z" fill="url(#hs)"/><ellipse cx="1121.1" cy="458.0" rx="19.9" ry="6.0" fill="#e1e1e1"/><path d="M1101.9,458.0A19.1,5.4 0 0 1 1140.2,458.0" fill="none" stroke="#f2f2f2" stroke-opacity="0.55" stroke-width="0.96"/><path d="M1144.5,458.0L1144.5,485.3A19.9,6.0 0 0 0 1184.3,485.3L1184.3,458.0Z" fill="url(#sb)"/><path d="M1144.5,458.0L1144.5,485.3A19.9,6.0 0 0 0 1184.3,485.3L1184.3,458.0Z" fill="url(#hs)"/><ellipse cx="1164.4" cy="458.0" rx="19.9" ry="6.0" fill="#57afdb"/><path d="M1145.3,458.0A19.1,5.4 0 0 1 1183.5,458.0" fill="none" stroke="#86c8ea" stroke-opacity="0.55" stroke-width="0.96"/><path d="M1187.8,458.0L1187.8,485.3A19.9,6.0 0 0 0 1227.7,485.3L1227.7,458.0Z" fill="url(#sb)"/><path d="M1187.8,458.0L1187.8,485.3A19.9,6.0 0 0 0 1227.7,485.3L1227.7,458.0Z" fill="url(#hs)"/><ellipse cx="1207.8" cy="458.0" rx="19.9" ry="6.0" fill="#57afdb"/><path d="M1188.6,458.0A19.1,5.4 0 0 1 1226.9,458.0" fill="none" stroke="#86c8ea" stroke-opacity="0.55" stroke-width="0.96"/><path d="M270.6,472.5L270.6,500.6A20.2,6.2 0 0 0 311.1,500.6L311.1,472.5Z" fill="url(#sb)"/><path d="M270.6,472.5L270.6,500.6A20.2,6.2 0 0 0 311.1,500.6L311.1,472.5Z" fill="url(#hs)"/><ellipse cx="290.9" cy="472.5" rx="20.2" ry="6.2" fill="#56aeda"/><path d="M271.4,472.5A19.4,5.6 0 0 1 310.3,472.5" fill="none" stroke="#86c8ea" stroke-opacity="0.55" stroke-width="0.98"/><path d="M314.6,472.5L314.6,500.6A20.2,6.2 0 0 0 355.1,500.6L355.1,472.5Z" fill="url(#sb)"/><path d="M314.6,472.5L314.6,500.6A20.2,6.2 0 0 0 355.1,500.6L355.1,472.5Z" fill="url(#hs)"/><ellipse cx="334.9" cy="472.5" rx="20.2" ry="6.2" fill="#56aeda"/><path d="M315.4,472.5A19.4,5.6 0 0 1 354.3,472.5" fill="none" stroke="#86c8ea" stroke-opacity="0.55" stroke-width="0.98"/><path d="M358.6,472.5L358.6,500.6A20.2,6.2 0 0 0 399.1,500.6L399.1,472.5Z" fill="url(#sw)"/><path d="M358.6,472.5L358.6,500.6A20.2,6.2 0 0 0 399.1,500.6L399.1,472.5Z" fill="url(#hs)"/><ellipse cx="378.8" cy="472.5" rx="20.2" ry="6.2" fill="#e1e1e1"/><path d="M359.4,472.5A19.4,5.6 0 0 1 398.3,472.5" fill="none" stroke="#f2f2f2" stroke-opacity="0.55" stroke-width="0.98"/><path d="M402.6,472.5L402.6,500.6A20.2,6.2 0 0 0 443.0,500.6L443.0,472.5Z" fill="url(#sw)"/><path d="M402.6,472.5L402.6,500.6A20.2,6.2 0 0 0 443.0,500.6L443.0,472.5Z" fill="url(#hs)"/><ellipse cx="422.8" cy="472.5" rx="20.2" ry="6.2" fill="#e1e1e1"/><path d="M403.4,472.5A19.4,5.6 0 0 1 442.2,472.5" fill="none" stroke="#f2f2f2" stroke-opacity="0.55" stroke-width="0.98"/><path d="M446.5,472.5L446.5,500.6A20.2,6.2 0 0 0 487.0,500.6L487.0,472.5Z" fill="url(#sw)"/><path d="M446.5,472.5L446.5,500.6A20.2,6.2 0 0 0 487.0,500.6L487.0,472.5Z" fill="url(#hs)"/><ellipse cx="466.8" cy="472.5" rx="20.2" ry="6.2" fill="#e1e1e1"/><path d="M447.3,472.5A19.4,5.6 0 0 1 486.2,472.5" fill="none" stroke="#f2f2f2" stroke-opacity="0.55" stroke-width="0.98"/><path d="M490.5,472.5L490.5,500.6A20.2,6.2 0 0 0 531.0,500.6L531.0,472.5Z" fill="url(#sw)"/><path d="M490.5,472.5L490.5,500.6A20.2,6.2 0 0 0 531.0,500.6L531.0,472.5Z" fill="url(#hs)"/><ellipse cx="510.7" cy="472.5" rx="20.2" ry="6.2" fill="#e1e1e1"/><path d="M491.3,472.5A19.4,5.6 0 0 1 530.2,472.5" fill="none" stroke="#f2f2f2" stroke-opacity="0.55" stroke-width="0.98"/><path d="M534.5,472.5L534.5,500.6A20.2,6.2 0 0 0 574.9,500.6L574.9,472.5Z" fill="url(#sw)"/><path d="M534.5,472.5L534.5,500.6A20.2,6.2 0 0 0 574.9,500.6L574.9,472.5Z" fill="url(#hs)"/><ellipse cx="554.7" cy="472.5" rx="20.2" ry="6.2" fill="#e1e1e1"/><path d="M535.3,472.5A19.4,5.6 0 0 1 574.1,472.5" fill="none" stroke="#f2f2f2" stroke-opacity="0.55" stroke-width="0.98"/><path d="M578.5,472.5L578.5,500.6A20.2,6.2 0 0 0 618.9,500.6L618.9,472.5Z" fill="url(#sw)"/><path d="M578.5,472.5L578.5,500.6A20.2,6.2 0 0 0 618.9,500.6L618.9,472.5Z" fill="url(#hs)"/><ellipse cx="598.7" cy="472.5" rx="20.2" ry="6.2" fill="#e1e1e1"/><path d="M579.3,472.5A19.4,5.6 0 0 1 618.1,472.5" fill="none" stroke="#f2f2f2" stroke-opacity="0.55" stroke-width="0.98"/><path d="M622.4,472.5L622.4,500.6A20.2,6.2 0 0 0 662.9,500.6L662.9,472.5Z" fill="url(#sw)"/><path d="M622.4,472.5L622.4,500.6A20.2,6.2 0 0 0 662.9,500.6L662.9,472.5Z" fill="url(#hs)"/><ellipse cx="642.7" cy="472.5" rx="20.2" ry="6.2" fill="#e1e1e1"/><path d="M623.2,472.5A19.4,5.6 0 0 1 662.1,472.5" fill="none" stroke="#f2f2f2" stroke-opacity="0.55" stroke-width="0.98"/><path d="M666.4,472.5L666.4,500.6A20.2,6.2 0 0 0 706.9,500.6L706.9,472.5Z" fill="url(#sw)"/><path d="M666.4,472.5L666.4,500.6A20.2,6.2 0 0 0 706.9,500.6L706.9,472.5Z" fill="url(#hs)"/><ellipse cx="686.6" cy="472.5" rx="20.2" ry="6.2" fill="#e1e1e1"/><path d="M667.2,472.5A19.4,5.6 0 0 1 706.1,472.5" fill="none" stroke="#f2f2f2" stroke-opacity="0.55" stroke-width="0.98"/><path d="M710.4,472.5L710.4,500.6A20.2,6.2 0 0 0 750.8,500.6L750.8,472.5Z" fill="url(#sw)"/><path d="M710.4,472.5L710.4,500.6A20.2,6.2 0 0 0 750.8,500.6L750.8,472.5Z" fill="url(#hs)"/><ellipse cx="730.6" cy="472.5" rx="20.2" ry="6.2" fill="#e1e1e1"/><path d="M711.2,472.5A19.4,5.6 0 0 1 750.0,472.5" fill="none" stroke="#f2f2f2" stroke-opacity="0.55" stroke-width="0.98"/><path d="M754.4,472.5L754.4,500.6A20.2,6.2 0 0 0 794.8,500.6L794.8,472.5Z" fill="url(#sw)"/><path d="M754.4,472.5L754.4,500.6A20.2,6.2 0 0 0 794.8,500.6L794.8,472.5Z" fill="url(#hs)"/><ellipse cx="774.6" cy="472.5" rx="20.2" ry="6.2" fill="#e1e1e1"/><path d="M755.2,472.5A19.4,5.6 0 0 1 794.0,472.5" fill="none" stroke="#f2f2f2" stroke-opacity="0.55" stroke-width="0.98"/><path d="M798.3,472.5L798.3,500.6A20.2,6.2 0 0 0 838.8,500.6L838.8,472.5Z" fill="url(#sw)"/><path d="M798.3,472.5L798.3,500.6A20.2,6.2 0 0 0 838.8,500.6L838.8,472.5Z" fill="url(#hs)"/><ellipse cx="818.6" cy="472.5" rx="20.2" ry="6.2" fill="#e1e1e1"/><path d="M799.1,472.5A19.4,5.6 0 0 1 838.0,472.5" fill="none" stroke="#f2f2f2" stroke-opacity="0.55" stroke-width="0.98"/><path d="M842.3,472.5L842.3,500.6A20.2,6.2 0 0 0 882.8,500.6L882.8,472.5Z" fill="url(#sw)"/><path d="M842.3,472.5L842.3,500.6A20.2,6.2 0 0 0 882.8,500.6L882.8,472.5Z" fill="url(#hs)"/><ellipse cx="862.5" cy="472.5" rx="20.2" ry="6.2" fill="#e1e1e1"/><path d="M843.1,472.5A19.4,5.6 0 0 1 882.0,472.5" fill="none" stroke="#f2f2f2" stroke-opacity="0.55" stroke-width="0.98"/><path d="M886.3,472.5L886.3,500.6A20.2,6.2 0 0 0 926.7,500.6L926.7,472.5Z" fill="url(#sw)"/><path d="M886.3,472.5L886.3,500.6A20.2,6.2 0 0 0 926.7,500.6L926.7,472.5Z" fill="url(#hs)"/><ellipse cx="906.5" cy="472.5" rx="20.2" ry="6.2" fill="#e1e1e1"/><path d="M887.1,472.5A19.4,5.6 0 0 1 925.9,472.5" fill="none" stroke="#f2f2f2" stroke-opacity="0.55" stroke-width="0.98"/><path d="M930.3,472.5L930.3,500.6A20.2,6.2 0 0 0 970.7,500.6L970.7,472.5Z" fill="url(#sw)"/><path d="M930.3,472.5L930.3,500.6A20.2,6.2 0 0 0 970.7,500.6L970.7,472.5Z" fill="url(#hs)"/><ellipse cx="950.5" cy="472.5" rx="20.2" ry="6.2" fill="#e1e1e1"/><path d="M931.1,472.5A19.4,5.6 0 0 1 969.9,472.5" fill="none" stroke="#f2f2f2" stroke-opacity="0.55" stroke-width="0.98"/><path d="M974.2,472.5L974.2,500.6A20.2,6.2 0 0 0 1014.7,500.6L1014.7,472.5Z" fill="url(#sw)"/><path d="M974.2,472.5L974.2,500.6A20.2,6.2 0 0 0 1014.7,500.6L1014.7,472.5Z" fill="url(#hs)"/><ellipse cx="994.5" cy="472.5" rx="20.2" ry="6.2" fill="#e1e1e1"/><path d="M975.0,472.5A19.4,5.6 0 0 1 1013.9,472.5" fill="none" stroke="#f2f2f2" stroke-opacity="0.55" stroke-width="0.98"/><path d="M1018.2,472.5L1018.2,500.6A20.2,6.2 0 0 0 1058.7,500.6L1058.7,472.5Z" fill="url(#sw)"/><path d="M1018.2,472.5L1018.2,500.6A20.2,6.2 0 0 0 1058.7,500.6L1058.7,472.5Z" fill="url(#hs)"/><ellipse cx="1038.4" cy="472.5" rx="20.2" ry="6.2" fill="#e1e1e1"/><path d="M1019.0,472.5A19.4,5.6 0 0 1 1057.9,472.5" fill="none" stroke="#f2f2f2" stroke-opacity="0.55" stroke-width="0.98"/><path d="M1062.2,472.5L1062.2,500.6A20.2,6.2 0 0 0 1102.6,500.6L1102.6,472.5Z" fill="url(#sw)"/><path d="M1062.2,472.5L1062.2,500.6A20.2,6.2 0 0 0 1102.6,500.6L1102.6,472.5Z" fill="url(#hs)"/><ellipse cx="1082.4" cy="472.5" rx="20.2" ry="6.2" fill="#e1e1e1"/><path d="M1063.0,472.5A19.4,5.6 0 0 1 1101.8,472.5" fill="none" stroke="#f2f2f2" stroke-opacity="0.55" stroke-width="0.98"/><path d="M1106.1,472.5L1106.1,500.6A20.2,6.2 0 0 0 1146.6,500.6L1146.6,472.5Z" fill="url(#sw)"/><path d="M1106.1,472.5L1106.1,500.6A20.2,6.2 0 0 0 1146.6,500.6L1146.6,472.5Z" fill="url(#hs)"/><ellipse cx="1126.4" cy="472.5" rx="20.2" ry="6.2" fill="#e1e1e1"/><path d="M1106.9,472.5A19.4,5.6 0 0 1 1145.8,472.5" fill="none" stroke="#f2f2f2" stroke-opacity="0.55" stroke-width="0.98"/><path d="M1150.1,472.5L1150.1,500.6A20.2,6.2 0 0 0 1190.6,500.6L1190.6,472.5Z" fill="url(#sb)"/><path d="M1150.1,472.5L1150.1,500.6A20.2,6.2 0 0 0 1190.6,500.6L1190.6,472.5Z" fill="url(#hs)"/><ellipse cx="1170.3" cy="472.5" rx="20.2" ry="6.2" fill="#56aeda"/><path d="M1150.9,472.5A19.4,5.6 0 0 1 1189.8,472.5" fill="none" stroke="#86c8ea" stroke-opacity="0.55" stroke-width="0.98"/><path d="M1194.1,472.5L1194.1,500.6A20.2,6.2 0 0 0 1234.6,500.6L1234.6,472.5Z" fill="url(#sb)"/><path d="M1194.1,472.5L1194.1,500.6A20.2,6.2 0 0 0 1234.6,500.6L1234.6,472.5Z" fill="url(#hs)"/><ellipse cx="1214.3" cy="472.5" rx="20.2" ry="6.2" fill="#56aeda"/><path d="M1194.9,472.5A19.4,5.6 0 0 1 1233.8,472.5" fill="none" stroke="#86c8ea" stroke-opacity="0.55" stroke-width="0.98"/><path d="M263.6,487.5L263.6,516.4A20.5,6.4 0 0 0 304.6,516.4L304.6,487.5Z" fill="url(#sb)"/><path d="M263.6,487.5L263.6,516.4A20.5,6.4 0 0 0 304.6,516.4L304.6,487.5Z" fill="url(#hs)"/><ellipse cx="284.1" cy="487.5" rx="20.5" ry="6.4" fill="#56adda"/><path d="M264.4,487.5A19.7,5.8 0 0 1 303.8,487.5" fill="none" stroke="#86c8ea" stroke-opacity="0.55" stroke-width="0.99"/><path d="M308.2,487.5L308.2,516.4A20.5,6.4 0 0 0 349.3,516.4L349.3,487.5Z" fill="url(#sb)"/><path d="M308.2,487.5L308.2,516.4A20.5,6.4 0 0 0 349.3,516.4L349.3,487.5Z" fill="url(#hs)"/><ellipse cx="328.7" cy="487.5" rx="20.5" ry="6.4" fill="#56adda"/><path d="M309.0,487.5A19.7,5.8 0 0 1 348.5,487.5" fill="none" stroke="#86c8ea" stroke-opacity="0.55" stroke-width="0.99"/><path d="M352.8,487.5L352.8,516.4A20.5,6.4 0 0 0 393.9,516.4L393.9,487.5Z" fill="url(#sw)"/><path d="M352.8,487.5L352.8,516.4A20.5,6.4 0 0 0 393.9,516.4L393.9,487.5Z" fill="url(#hs)"/><ellipse cx="373.4" cy="487.5" rx="20.5" ry="6.4" fill="#e1e1e1"/><path d="M353.6,487.5A19.7,5.8 0 0 1 393.1,487.5" fill="none" stroke="#f2f2f2" stroke-opacity="0.55" stroke-width="0.99"/><path d="M397.4,487.5L397.4,516.4A20.5,6.4 0 0 0 438.5,516.4L438.5,487.5Z" fill="url(#sw)"/><path d="M397.4,487.5L397.4,516.4A20.5,6.4 0 0 0 438.5,516.4L438.5,487.5Z" fill="url(#hs)"/><ellipse cx="418.0" cy="487.5" rx="20.5" ry="6.4" fill="#e1e1e1"/><path d="M398.2,487.5A19.7,5.8 0 0 1 437.7,487.5" fill="none" stroke="#f2f2f2" stroke-opacity="0.55" stroke-width="0.99"/><path d="M442.1,487.5L442.1,516.4A20.5,6.4 0 0 0 483.1,516.4L483.1,487.5Z" fill="url(#sw)"/><path d="M442.1,487.5L442.1,516.4A20.5,6.4 0 0 0 483.1,516.4L483.1,487.5Z" fill="url(#hs)"/><ellipse cx="462.6" cy="487.5" rx="20.5" ry="6.4" fill="#e1e1e1"/><path d="M442.9,487.5A19.7,5.8 0 0 1 482.3,487.5" fill="none" stroke="#f2f2f2" stroke-opacity="0.55" stroke-width="0.99"/><path d="M486.7,487.5L486.7,516.4A20.5,6.4 0 0 0 527.7,516.4L527.7,487.5Z" fill="url(#sw)"/><path d="M486.7,487.5L486.7,516.4A20.5,6.4 0 0 0 527.7,516.4L527.7,487.5Z" fill="url(#hs)"/><ellipse cx="507.2" cy="487.5" rx="20.5" ry="6.4" fill="#e1e1e1"/><path d="M487.5,487.5A19.7,5.8 0 0 1 526.9,487.5" fill="none" stroke="#f2f2f2" stroke-opacity="0.55" stroke-width="0.99"/><path d="M531.3,487.5L531.3,516.4A20.5,6.4 0 0 0 572.3,516.4L572.3,487.5Z" fill="url(#sw)"/><path d="M531.3,487.5L531.3,516.4A20.5,6.4 0 0 0 572.3,516.4L572.3,487.5Z" fill="url(#hs)"/><ellipse cx="551.8" cy="487.5" rx="20.5" ry="6.4" fill="#e1e1e1"/><path d="M532.1,487.5A19.7,5.8 0 0 1 571.5,487.5" fill="none" stroke="#f2f2f2" stroke-opacity="0.55" stroke-width="0.99"/><path d="M575.9,487.5L575.9,516.4A20.5,6.4 0 0 0 617.0,516.4L617.0,487.5Z" fill="url(#sw)"/><path d="M575.9,487.5L575.9,516.4A20.5,6.4 0 0 0 617.0,516.4L617.0,487.5Z" fill="url(#hs)"/><ellipse cx="596.4" cy="487.5" rx="20.5" ry="6.4" fill="#e1e1e1"/><path d="M576.7,487.5A19.7,5.8 0 0 1 616.2,487.5" fill="none" stroke="#f2f2f2" stroke-opacity="0.55" stroke-width="0.99"/><path d="M620.5,487.5L620.5,516.4A20.5,6.4 0 0 0 661.6,516.4L661.6,487.5Z" fill="url(#sw)"/><path d="M620.5,487.5L620.5,516.4A20.5,6.4 0 0 0 661.6,516.4L661.6,487.5Z" fill="url(#hs)"/><ellipse cx="641.1" cy="487.5" rx="20.5" ry="6.4" fill="#e1e1e1"/><path d="M621.3,487.5A19.7,5.8 0 0 1 660.8,487.5" fill="none" stroke="#f2f2f2" stroke-opacity="0.55" stroke-width="0.99"/><path d="M665.2,487.5L665.2,516.4A20.5,6.4 0 0 0 706.2,516.4L706.2,487.5Z" fill="url(#sw)"/><path d="M665.2,487.5L665.2,516.4A20.5,6.4 0 0 0 706.2,516.4L706.2,487.5Z" fill="url(#hs)"/><ellipse cx="685.7" cy="487.5" rx="20.5" ry="6.4" fill="#e1e1e1"/><path d="M666.0,487.5A19.7,5.8 0 0 1 705.4,487.5" fill="none" stroke="#f2f2f2" stroke-opacity="0.55" stroke-width="0.99"/><path d="M709.8,487.5L709.8,516.4A20.5,6.4 0 0 0 750.8,516.4L750.8,487.5Z" fill="url(#sw)"/><path d="M709.8,487.5L709.8,516.4A20.5,6.4 0 0 0 750.8,516.4L750.8,487.5Z" fill="url(#hs)"/><ellipse cx="730.3" cy="487.5" rx="20.5" ry="6.4" fill="#e1e1e1"/><path d="M710.6,487.5A19.7,5.8 0 0 1 750.0,487.5" fill="none" stroke="#f2f2f2" stroke-opacity="0.55" stroke-width="0.99"/><path d="M754.4,487.5L754.4,516.4A20.5,6.4 0 0 0 795.4,516.4L795.4,487.5Z" fill="url(#sw)"/><path d="M754.4,487.5L754.4,516.4A20.5,6.4 0 0 0 795.4,516.4L795.4,487.5Z" fill="url(#hs)"/><ellipse cx="774.9" cy="487.5" rx="20.5" ry="6.4" fill="#e1e1e1"/><path d="M755.2,487.5A19.7,5.8 0 0 1 794.6,487.5" fill="none" stroke="#f2f2f2" stroke-opacity="0.55" stroke-width="0.99"/><path d="M799.0,487.5L799.0,516.4A20.5,6.4 0 0 0 840.0,516.4L840.0,487.5Z" fill="url(#sw)"/><path d="M799.0,487.5L799.0,516.4A20.5,6.4 0 0 0 840.0,516.4L840.0,487.5Z" fill="url(#hs)"/><ellipse cx="819.5" cy="487.5" rx="20.5" ry="6.4" fill="#e1e1e1"/><path d="M799.8,487.5A19.7,5.8 0 0 1 839.2,487.5" fill="none" stroke="#f2f2f2" stroke-opacity="0.55" stroke-width="0.99"/><path d="M843.6,487.5L843.6,516.4A20.5,6.4 0 0 0 884.7,516.4L884.7,487.5Z" fill="url(#sw)"/><path d="M843.6,487.5L843.6,516.4A20.5,6.4 0 0 0 884.7,516.4L884.7,487.5Z" fill="url(#hs)"/><ellipse cx="864.1" cy="487.5" rx="20.5" ry="6.4" fill="#e1e1e1"/><path d="M844.4,487.5A19.7,5.8 0 0 1 883.9,487.5" fill="none" stroke="#f2f2f2" stroke-opacity="0.55" stroke-width="0.99"/><path d="M888.2,487.5L888.2,516.4A20.5,6.4 0 0 0 929.3,516.4L929.3,487.5Z" fill="url(#sw)"/><path d="M888.2,487.5L888.2,516.4A20.5,6.4 0 0 0 929.3,516.4L929.3,487.5Z" fill="url(#hs)"/><ellipse cx="908.8" cy="487.5" rx="20.5" ry="6.4" fill="#e1e1e1"/><path d="M889.0,487.5A19.7,5.8 0 0 1 928.5,487.5" fill="none" stroke="#f2f2f2" stroke-opacity="0.55" stroke-width="0.99"/><path d="M932.9,487.5L932.9,516.4A20.5,6.4 0 0 0 973.9,516.4L973.9,487.5Z" fill="url(#sw)"/><path d="M932.9,487.5L932.9,516.4A20.5,6.4 0 0 0 973.9,516.4L973.9,487.5Z" fill="url(#hs)"/><ellipse cx="953.4" cy="487.5" rx="20.5" ry="6.4" fill="#e1e1e1"/><path d="M933.7,487.5A19.7,5.8 0 0 1 973.1,487.5" fill="none" stroke="#f2f2f2" stroke-opacity="0.55" stroke-width="0.99"/><path d="M977.5,487.5L977.5,516.4A20.5,6.4 0 0 0 1018.5,516.4L1018.5,487.5Z" fill="url(#sw)"/><path d="M977.5,487.5L977.5,516.4A20.5,6.4 0 0 0 1018.5,516.4L1018.5,487.5Z" fill="url(#hs)"/><ellipse cx="998.0" cy="487.5" rx="20.5" ry="6.4" fill="#e1e1e1"/><path d="M978.3,487.5A19.7,5.8 0 0 1 1017.7,487.5" fill="none" stroke="#f2f2f2" stroke-opacity="0.55" stroke-width="0.99"/><path d="M1022.1,487.5L1022.1,516.4A20.5,6.4 0 0 0 1063.1,516.4L1063.1,487.5Z" fill="url(#sw)"/><path d="M1022.1,487.5L1022.1,516.4A20.5,6.4 0 0 0 1063.1,516.4L1063.1,487.5Z" fill="url(#hs)"/><ellipse cx="1042.6" cy="487.5" rx="20.5" ry="6.4" fill="#e1e1e1"/><path d="M1022.9,487.5A19.7,5.8 0 0 1 1062.3,487.5" fill="none" stroke="#f2f2f2" stroke-opacity="0.55" stroke-width="0.99"/><path d="M1066.7,487.5L1066.7,516.4A20.5,6.4 0 0 0 1107.8,516.4L1107.8,487.5Z" fill="url(#sw)"/><path d="M1066.7,487.5L1066.7,516.4A20.5,6.4 0 0 0 1107.8,516.4L1107.8,487.5Z" fill="url(#hs)"/><ellipse cx="1087.2" cy="487.5" rx="20.5" ry="6.4" fill="#e1e1e1"/><path d="M1067.5,487.5A19.7,5.8 0 0 1 1107.0,487.5" fill="none" stroke="#f2f2f2" stroke-opacity="0.55" stroke-width="0.99"/><path d="M1111.3,487.5L1111.3,516.4A20.5,6.4 0 0 0 1152.4,516.4L1152.4,487.5Z" fill="url(#sw)"/><path d="M1111.3,487.5L1111.3,516.4A20.5,6.4 0 0 0 1152.4,516.4L1152.4,487.5Z" fill="url(#hs)"/><ellipse cx="1131.8" cy="487.5" rx="20.5" ry="6.4" fill="#e1e1e1"/><path d="M1112.1,487.5A19.7,5.8 0 0 1 1151.6,487.5" fill="none" stroke="#f2f2f2" stroke-opacity="0.55" stroke-width="0.99"/><path d="M1155.9,487.5L1155.9,516.4A20.5,6.4 0 0 0 1197.0,516.4L1197.0,487.5Z" fill="url(#sb)"/><path d="M1155.9,487.5L1155.9,516.4A20.5,6.4 0 0 0 1197.0,516.4L1197.0,487.5Z" fill="url(#hs)"/><ellipse cx="1176.5" cy="487.5" rx="20.5" ry="6.4" fill="#56adda"/><path d="M1156.7,487.5A19.7,5.8 0 0 1 1196.2,487.5" fill="none" stroke="#86c8ea" stroke-opacity="0.55" stroke-width="0.99"/><path d="M1200.6,487.5L1200.6,516.4A20.5,6.4 0 0 0 1241.6,516.4L1241.6,487.5Z" fill="url(#sb)"/><path d="M1200.6,487.5L1200.6,516.4A20.5,6.4 0 0 0 1241.6,516.4L1241.6,487.5Z" fill="url(#hs)"/><ellipse cx="1221.1" cy="487.5" rx="20.5" ry="6.4" fill="#56adda"/><path d="M1201.4,487.5A19.7,5.8 0 0 1 1240.8,487.5" fill="none" stroke="#86c8ea" stroke-opacity="0.55" stroke-width="0.99"/><path d="M256.3,502.9L256.3,532.6A20.8,6.6 0 0 0 298.0,532.6L298.0,502.9Z" fill="url(#sb)"/><path d="M256.3,502.9L256.3,532.6A20.8,6.6 0 0 0 298.0,532.6L298.0,502.9Z" fill="url(#hs)"/><ellipse cx="277.2" cy="502.9" rx="20.8" ry="6.6" fill="#55adda"/><path d="M257.1,502.9A20.0,6.0 0 0 1 297.2,502.9" fill="none" stroke="#86c8ea" stroke-opacity="0.55" stroke-width="1.01"/><path d="M301.6,502.9L301.6,532.6A20.8,6.6 0 0 0 343.3,532.6L343.3,502.9Z" fill="url(#sb)"/><path d="M301.6,502.9L301.6,532.6A20.8,6.6 0 0 0 343.3,532.6L343.3,502.9Z" fill="url(#hs)"/><ellipse cx="322.4" cy="502.9" rx="20.8" ry="6.6" fill="#55adda"/><path d="M302.4,502.9A20.0,6.0 0 0 1 342.5,502.9" fill="none" stroke="#86c8ea" stroke-opacity="0.55" stroke-width="1.01"/><path d="M346.9,502.9L346.9,532.6A20.8,6.6 0 0 0 388.5,532.6L388.5,502.9Z" fill="url(#sw)"/><path d="M346.9,502.9L346.9,532.6A20.8,6.6 0 0 0 388.5,532.6L388.5,502.9Z" fill="url(#hs)"/><ellipse cx="367.7" cy="502.9" rx="20.8" ry="6.6" fill="#e1e1e1"/><path d="M347.7,502.9A20.0,6.0 0 0 1 387.7,502.9" fill="none" stroke="#f2f2f2" stroke-opacity="0.55" stroke-width="1.01"/><path d="M392.2,502.9L392.2,532.6A20.8,6.6 0 0 0 433.8,532.6L433.8,502.9Z" fill="url(#sw)"/><path d="M392.2,502.9L392.2,532.6A20.8,6.6 0 0 0 433.8,532.6L433.8,502.9Z" fill="url(#hs)"/><ellipse cx="413.0" cy="502.9" rx="20.8" ry="6.6" fill="#e1e1e1"/><path d="M393.0,502.9A20.0,6.0 0 0 1 433.0,502.9" fill="none" stroke="#f2f2f2" stroke-opacity="0.55" stroke-width="1.01"/><path d="M437.4,502.9L437.4,532.6A20.8,6.6 0 0 0 479.1,532.6L479.1,502.9Z" fill="url(#sw)"/><path d="M437.4,502.9L437.4,532.6A20.8,6.6 0 0 0 479.1,532.6L479.1,502.9Z" fill="url(#hs)"/><ellipse cx="458.3" cy="502.9" rx="20.8" ry="6.6" fill="#e1e1e1"/><path d="M438.2,502.9A20.0,6.0 0 0 1 478.3,502.9" fill="none" stroke="#f2f2f2" stroke-opacity="0.55" stroke-width="1.01"/><path d="M482.7,502.9L482.7,532.6A20.8,6.6 0 0 0 524.4,532.6L524.4,502.9Z" fill="url(#sw)"/><path d="M482.7,502.9L482.7,532.6A20.8,6.6 0 0 0 524.4,532.6L524.4,502.9Z" fill="url(#hs)"/><ellipse cx="503.6" cy="502.9" rx="20.8" ry="6.6" fill="#e1e1e1"/><path d="M483.5,502.9A20.0,6.0 0 0 1 523.6,502.9" fill="none" stroke="#f2f2f2" stroke-opacity="0.55" stroke-width="1.01"/><path d="M528.0,502.9L528.0,532.6A20.8,6.6 0 0 0 569.7,532.6L569.7,502.9Z" fill="url(#sw)"/><path d="M528.0,502.9L528.0,532.6A20.8,6.6 0 0 0 569.7,532.6L569.7,502.9Z" fill="url(#hs)"/><ellipse cx="548.8" cy="502.9" rx="20.8" ry="6.6" fill="#e1e1e1"/><path d="M528.8,502.9A20.0,6.0 0 0 1 568.9,502.9" fill="none" stroke="#f2f2f2" stroke-opacity="0.55" stroke-width="1.01"/><path d="M573.3,502.9L573.3,532.6A20.8,6.6 0 0 0 614.9,532.6L614.9,502.9Z" fill="url(#sw)"/><path d="M573.3,502.9L573.3,532.6A20.8,6.6 0 0 0 614.9,532.6L614.9,502.9Z" fill="url(#hs)"/><ellipse cx="594.1" cy="502.9" rx="20.8" ry="6.6" fill="#e1e1e1"/><path d="M574.1,502.9A20.0,6.0 0 0 1 614.1,502.9" fill="none" stroke="#f2f2f2" stroke-opacity="0.55" stroke-width="1.01"/><path d="M618.6,502.9L618.6,532.6A20.8,6.6 0 0 0 660.2,532.6L660.2,502.9Z" fill="url(#sw)"/><path d="M618.6,502.9L618.6,532.6A20.8,6.6 0 0 0 660.2,532.6L660.2,502.9Z" fill="url(#hs)"/><ellipse cx="639.4" cy="502.9" rx="20.8" ry="6.6" fill="#e1e1e1"/><path d="M619.4,502.9A20.0,6.0 0 0 1 659.4,502.9" fill="none" stroke="#f2f2f2" stroke-opacity="0.55" stroke-width="1.01"/><path d="M663.9,502.9L663.9,532.6A20.8,6.6 0 0 0 705.5,532.6L705.5,502.9Z" fill="url(#sw)"/><path d="M663.9,502.9L663.9,532.6A20.8,6.6 0 0 0 705.5,532.6L705.5,502.9Z" fill="url(#hs)"/><ellipse cx="684.7" cy="502.9" rx="20.8" ry="6.6" fill="#e1e1e1"/><path d="M664.7,502.9A20.0,6.0 0 0 1 704.7,502.9" fill="none" stroke="#f2f2f2" stroke-opacity="0.55" stroke-width="1.01"/><path d="M709.1,502.9L709.1,532.6A20.8,6.6 0 0 0 750.8,532.6L750.8,502.9Z" fill="url(#sw)"/><path d="M709.1,502.9L709.1,532.6A20.8,6.6 0 0 0 750.8,532.6L750.8,502.9Z" fill="url(#hs)"/><ellipse cx="730.0" cy="502.9" rx="20.8" ry="6.6" fill="#e1e1e1"/><path d="M709.9,502.9A20.0,6.0 0 0 1 750.0,502.9" fill="none" stroke="#f2f2f2" stroke-opacity="0.55" stroke-width="1.01"/><path d="M754.4,502.9L754.4,532.6A20.8,6.6 0 0 0 796.1,532.6L796.1,502.9Z" fill="url(#sw)"/><path d="M754.4,502.9L754.4,532.6A20.8,6.6 0 0 0 796.1,532.6L796.1,502.9Z" fill="url(#hs)"/><ellipse cx="775.2" cy="502.9" rx="20.8" ry="6.6" fill="#e1e1e1"/><path d="M755.2,502.9A20.0,6.0 0 0 1 795.3,502.9" fill="none" stroke="#f2f2f2" stroke-opacity="0.55" stroke-width="1.01"/><path d="M799.7,502.9L799.7,532.6A20.8,6.6 0 0 0 841.3,532.6L841.3,502.9Z" fill="url(#sw)"/><path d="M799.7,502.9L799.7,532.6A20.8,6.6 0 0 0 841.3,532.6L841.3,502.9Z" fill="url(#hs)"/><ellipse cx="820.5" cy="502.9" rx="20.8" ry="6.6" fill="#e1e1e1"/><path d="M800.5,502.9A20.0,6.0 0 0 1 840.5,502.9" fill="none" stroke="#f2f2f2" stroke-opacity="0.55" stroke-width="1.01"/><path d="M845.0,502.9L845.0,532.6A20.8,6.6 0 0 0 886.6,532.6L886.6,502.9Z" fill="url(#sw)"/><path d="M845.0,502.9L845.0,532.6A20.8,6.6 0 0 0 886.6,532.6L886.6,502.9Z" fill="url(#hs)"/><ellipse cx="865.8" cy="502.9" rx="20.8" ry="6.6" fill="#e1e1e1"/><path d="M845.8,502.9A20.0,6.0 0 0 1 885.8,502.9" fill="none" stroke="#f2f2f2" stroke-opacity="0.55" stroke-width="1.01"/><path d="M890.3,502.9L890.3,532.6A20.8,6.6 0 0 0 931.9,532.6L931.9,502.9Z" fill="url(#sw)"/><path d="M890.3,502.9L890.3,532.6A20.8,6.6 0 0 0 931.9,532.6L931.9,502.9Z" fill="url(#hs)"/><ellipse cx="911.1" cy="502.9" rx="20.8" ry="6.6" fill="#e1e1e1"/><path d="M891.1,502.9A20.0,6.0 0 0 1 931.1,502.9" fill="none" stroke="#f2f2f2" stroke-opacity="0.55" stroke-width="1.01"/><path d="M935.5,502.9L935.5,532.6A20.8,6.6 0 0 0 977.2,532.6L977.2,502.9Z" fill="url(#sw)"/><path d="M935.5,502.9L935.5,532.6A20.8,6.6 0 0 0 977.2,532.6L977.2,502.9Z" fill="url(#hs)"/><ellipse cx="956.4" cy="502.9" rx="20.8" ry="6.6" fill="#e1e1e1"/><path d="M936.3,502.9A20.0,6.0 0 0 1 976.4,502.9" fill="none" stroke="#f2f2f2" stroke-opacity="0.55" stroke-width="1.01"/><path d="M980.8,502.9L980.8,532.6A20.8,6.6 0 0 0 1022.5,532.6L1022.5,502.9Z" fill="url(#sw)"/><path d="M980.8,502.9L980.8,532.6A20.8,6.6 0 0 0 1022.5,532.6L1022.5,502.9Z" fill="url(#hs)"/><ellipse cx="1001.6" cy="502.9" rx="20.8" ry="6.6" fill="#e1e1e1"/><path d="M981.6,502.9A20.0,6.0 0 0 1 1021.7,502.9" fill="none" stroke="#f2f2f2" stroke-opacity="0.55" stroke-width="1.01"/><path d="M1026.1,502.9L1026.1,532.6A20.8,6.6 0 0 0 1067.8,532.6L1067.8,502.9Z" fill="url(#sw)"/><path d="M1026.1,502.9L1026.1,532.6A20.8,6.6 0 0 0 1067.8,532.6L1067.8,502.9Z" fill="url(#hs)"/><ellipse cx="1046.9" cy="502.9" rx="20.8" ry="6.6" fill="#e1e1e1"/><path d="M1026.9,502.9A20.0,6.0 0 0 1 1067.0,502.9" fill="none" stroke="#f2f2f2" stroke-opacity="0.55" stroke-width="1.01"/><path d="M1071.4,502.9L1071.4,532.6A20.8,6.6 0 0 0 1113.0,532.6L1113.0,502.9Z" fill="url(#sw)"/><path d="M1071.4,502.9L1071.4,532.6A20.8,6.6 0 0 0 1113.0,532.6L1113.0,502.9Z" fill="url(#hs)"/><ellipse cx="1092.2" cy="502.9" rx="20.8" ry="6.6" fill="#e1e1e1"/><path d="M1072.2,502.9A20.0,6.0 0 0 1 1112.2,502.9" fill="none" stroke="#f2f2f2" stroke-opacity="0.55" stroke-width="1.01"/><path d="M1116.7,502.9L1116.7,532.6A20.8,6.6 0 0 0 1158.3,532.6L1158.3,502.9Z" fill="url(#sw)"/><path d="M1116.7,502.9L1116.7,532.6A20.8,6.6 0 0 0 1158.3,532.6L1158.3,502.9Z" fill="url(#hs)"/><ellipse cx="1137.5" cy="502.9" rx="20.8" ry="6.6" fill="#e1e1e1"/><path d="M1117.5,502.9A20.0,6.0 0 0 1 1157.5,502.9" fill="none" stroke="#f2f2f2" stroke-opacity="0.55" stroke-width="1.01"/><path d="M1161.9,502.9L1161.9,532.6A20.8,6.6 0 0 0 1203.6,532.6L1203.6,502.9Z" fill="url(#sb)"/><path d="M1161.9,502.9L1161.9,532.6A20.8,6.6 0 0 0 1203.6,532.6L1203.6,502.9Z" fill="url(#hs)"/><ellipse cx="1182.8" cy="502.9" rx="20.8" ry="6.6" fill="#55adda"/><path d="M1162.7,502.9A20.0,6.0 0 0 1 1202.8,502.9" fill="none" stroke="#86c8ea" stroke-opacity="0.55" stroke-width="1.01"/><path d="M1207.2,502.9L1207.2,532.6A20.8,6.6 0 0 0 1248.9,532.6L1248.9,502.9Z" fill="url(#sb)"/><path d="M1207.2,502.9L1207.2,532.6A20.8,6.6 0 0 0 1248.9,532.6L1248.9,502.9Z" fill="url(#hs)"/><ellipse cx="1228.0" cy="502.9" rx="20.8" ry="6.6" fill="#55adda"/><path d="M1208.0,502.9A20.0,6.0 0 0 1 1248.1,502.9" fill="none" stroke="#86c8ea" stroke-opacity="0.55" stroke-width="1.01"/><path d="M248.8,518.7L248.8,549.4A21.1,6.8 0 0 0 291.1,549.4L291.1,518.7Z" fill="url(#sb)"/><path d="M248.8,518.7L248.8,549.4A21.1,6.8 0 0 0 291.1,549.4L291.1,518.7Z" fill="url(#hs)"/><ellipse cx="270.0" cy="518.7" rx="21.1" ry="6.8" fill="#54acda"/><path d="M249.6,518.7A20.3,6.2 0 0 1 290.3,518.7" fill="none" stroke="#86c8ea" stroke-opacity="0.55" stroke-width="1.02"/><path d="M294.8,518.7L294.8,549.4A21.1,6.8 0 0 0 337.1,549.4L337.1,518.7Z" fill="url(#sb)"/><path d="M294.8,518.7L294.8,549.4A21.1,6.8 0 0 0 337.1,549.4L337.1,518.7Z" fill="url(#hs)"/><ellipse cx="316.0" cy="518.7" rx="21.1" ry="6.8" fill="#54acda"/><path d="M295.6,518.7A20.3,6.2 0 0 1 336.3,518.7" fill="none" stroke="#86c8ea" stroke-opacity="0.55" stroke-width="1.02"/><path d="M340.8,518.7L340.8,549.4A21.1,6.8 0 0 0 383.1,549.4L383.1,518.7Z" fill="url(#sw)"/><path d="M340.8,518.7L340.8,549.4A21.1,6.8 0 0 0 383.1,549.4L383.1,518.7Z" fill="url(#hs)"/><ellipse cx="361.9" cy="518.7" rx="21.1" ry="6.8" fill="#e1e1e1"/><path d="M341.6,518.7A20.3,6.2 0 0 1 382.3,518.7" fill="none" stroke="#f2f2f2" stroke-opacity="0.55" stroke-width="1.02"/><path d="M386.7,518.7L386.7,549.4A21.1,6.8 0 0 0 429.0,549.4L429.0,518.7Z" fill="url(#sw)"/><path d="M386.7,518.7L386.7,549.4A21.1,6.8 0 0 0 429.0,549.4L429.0,518.7Z" fill="url(#hs)"/><ellipse cx="407.9" cy="518.7" rx="21.1" ry="6.8" fill="#e1e1e1"/><path d="M387.5,518.7A20.3,6.2 0 0 1 428.2,518.7" fill="none" stroke="#f2f2f2" stroke-opacity="0.55" stroke-width="1.02"/><path d="M432.7,518.7L432.7,549.4A21.1,6.8 0 0 0 475.0,549.4L475.0,518.7Z" fill="url(#sw)"/><path d="M432.7,518.7L432.7,549.4A21.1,6.8 0 0 0 475.0,549.4L475.0,518.7Z" fill="url(#hs)"/><ellipse cx="453.8" cy="518.7" rx="21.1" ry="6.8" fill="#e1e1e1"/><path d="M433.5,518.7A20.3,6.2 0 0 1 474.2,518.7" fill="none" stroke="#f2f2f2" stroke-opacity="0.55" stroke-width="1.02"/><path d="M478.7,518.7L478.7,549.4A21.1,6.8 0 0 0 520.9,549.4L520.9,518.7Z" fill="url(#sw)"/><path d="M478.7,518.7L478.7,549.4A21.1,6.8 0 0 0 520.9,549.4L520.9,518.7Z" fill="url(#hs)"/><ellipse cx="499.8" cy="518.7" rx="21.1" ry="6.8" fill="#e1e1e1"/><path d="M479.5,518.7A20.3,6.2 0 0 1 520.1,518.7" fill="none" stroke="#f2f2f2" stroke-opacity="0.55" stroke-width="1.02"/><path d="M524.6,518.7L524.6,549.4A21.1,6.8 0 0 0 566.9,549.4L566.9,518.7Z" fill="url(#sw)"/><path d="M524.6,518.7L524.6,549.4A21.1,6.8 0 0 0 566.9,549.4L566.9,518.7Z" fill="url(#hs)"/><ellipse cx="545.8" cy="518.7" rx="21.1" ry="6.8" fill="#e1e1e1"/><path d="M525.4,518.7A20.3,6.2 0 0 1 566.1,518.7" fill="none" stroke="#f2f2f2" stroke-opacity="0.55" stroke-width="1.02"/><path d="M570.6,518.7L570.6,549.4A21.1,6.8 0 0 0 612.9,549.4L612.9,518.7Z" fill="url(#sw)"/><path d="M570.6,518.7L570.6,549.4A21.1,6.8 0 0 0 612.9,549.4L612.9,518.7Z" fill="url(#hs)"/><ellipse cx="591.7" cy="518.7" rx="21.1" ry="6.8" fill="#e1e1e1"/><path d="M571.4,518.7A20.3,6.2 0 0 1 612.1,518.7" fill="none" stroke="#f2f2f2" stroke-opacity="0.55" stroke-width="1.02"/><path d="M616.5,518.7L616.5,549.4A21.1,6.8 0 0 0 658.8,549.4L658.8,518.7Z" fill="url(#sw)"/><path d="M616.5,518.7L616.5,549.4A21.1,6.8 0 0 0 658.8,549.4L658.8,518.7Z" fill="url(#hs)"/><ellipse cx="637.7" cy="518.7" rx="21.1" ry="6.8" fill="#e1e1e1"/><path d="M617.3,518.7A20.3,6.2 0 0 1 658.0,518.7" fill="none" stroke="#f2f2f2" stroke-opacity="0.55" stroke-width="1.02"/><path d="M662.5,518.7L662.5,549.4A21.1,6.8 0 0 0 704.8,549.4L704.8,518.7Z" fill="url(#sw)"/><path d="M662.5,518.7L662.5,549.4A21.1,6.8 0 0 0 704.8,549.4L704.8,518.7Z" fill="url(#hs)"/><ellipse cx="683.7" cy="518.7" rx="21.1" ry="6.8" fill="#e1e1e1"/><path d="M663.3,518.7A20.3,6.2 0 0 1 704.0,518.7" fill="none" stroke="#f2f2f2" stroke-opacity="0.55" stroke-width="1.02"/><path d="M708.5,518.7L708.5,549.4A21.1,6.8 0 0 0 750.8,549.4L750.8,518.7Z" fill="url(#sw)"/><path d="M708.5,518.7L708.5,549.4A21.1,6.8 0 0 0 750.8,549.4L750.8,518.7Z" fill="url(#hs)"/><ellipse cx="729.6" cy="518.7" rx="21.1" ry="6.8" fill="#e1e1e1"/><path d="M709.3,518.7A20.3,6.2 0 0 1 750.0,518.7" fill="none" stroke="#f2f2f2" stroke-opacity="0.55" stroke-width="1.02"/><path d="M754.4,518.7L754.4,549.4A21.1,6.8 0 0 0 796.7,549.4L796.7,518.7Z" fill="url(#sw)"/><path d="M754.4,518.7L754.4,549.4A21.1,6.8 0 0 0 796.7,549.4L796.7,518.7Z" fill="url(#hs)"/><ellipse cx="775.6" cy="518.7" rx="21.1" ry="6.8" fill="#e1e1e1"/><path d="M755.2,518.7A20.3,6.2 0 0 1 795.9,518.7" fill="none" stroke="#f2f2f2" stroke-opacity="0.55" stroke-width="1.02"/><path d="M800.4,518.7L800.4,549.4A21.1,6.8 0 0 0 842.7,549.4L842.7,518.7Z" fill="url(#sw)"/><path d="M800.4,518.7L800.4,549.4A21.1,6.8 0 0 0 842.7,549.4L842.7,518.7Z" fill="url(#hs)"/><ellipse cx="821.5" cy="518.7" rx="21.1" ry="6.8" fill="#e1e1e1"/><path d="M801.2,518.7A20.3,6.2 0 0 1 841.9,518.7" fill="none" stroke="#f2f2f2" stroke-opacity="0.55" stroke-width="1.02"/><path d="M846.4,518.7L846.4,549.4A21.1,6.8 0 0 0 888.7,549.4L888.7,518.7Z" fill="url(#sw)"/><path d="M846.4,518.7L846.4,549.4A21.1,6.8 0 0 0 888.7,549.4L888.7,518.7Z" fill="url(#hs)"/><ellipse cx="867.5" cy="518.7" rx="21.1" ry="6.8" fill="#e1e1e1"/><path d="M847.2,518.7A20.3,6.2 0 0 1 887.9,518.7" fill="none" stroke="#f2f2f2" stroke-opacity="0.55" stroke-width="1.02"/><path d="M892.3,518.7L892.3,549.4A21.1,6.8 0 0 0 934.6,549.4L934.6,518.7Z" fill="url(#sw)"/><path d="M892.3,518.7L892.3,549.4A21.1,6.8 0 0 0 934.6,549.4L934.6,518.7Z" fill="url(#hs)"/><ellipse cx="913.5" cy="518.7" rx="21.1" ry="6.8" fill="#e1e1e1"/><path d="M893.1,518.7A20.3,6.2 0 0 1 933.8,518.7" fill="none" stroke="#f2f2f2" stroke-opacity="0.55" stroke-width="1.02"/><path d="M938.3,518.7L938.3,549.4A21.1,6.8 0 0 0 980.6,549.4L980.6,518.7Z" fill="url(#sw)"/><path d="M938.3,518.7L938.3,549.4A21.1,6.8 0 0 0 980.6,549.4L980.6,518.7Z" fill="url(#hs)"/><ellipse cx="959.4" cy="518.7" rx="21.1" ry="6.8" fill="#e1e1e1"/><path d="M939.1,518.7A20.3,6.2 0 0 1 979.8,518.7" fill="none" stroke="#f2f2f2" stroke-opacity="0.55" stroke-width="1.02"/><path d="M984.3,518.7L984.3,549.4A21.1,6.8 0 0 0 1026.5,549.4L1026.5,518.7Z" fill="url(#sw)"/><path d="M984.3,518.7L984.3,549.4A21.1,6.8 0 0 0 1026.5,549.4L1026.5,518.7Z" fill="url(#hs)"/><ellipse cx="1005.4" cy="518.7" rx="21.1" ry="6.8" fill="#e1e1e1"/><path d="M985.1,518.7A20.3,6.2 0 0 1 1025.7,518.7" fill="none" stroke="#f2f2f2" stroke-opacity="0.55" stroke-width="1.02"/><path d="M1030.2,518.7L1030.2,549.4A21.1,6.8 0 0 0 1072.5,549.4L1072.5,518.7Z" fill="url(#sw)"/><path d="M1030.2,518.7L1030.2,549.4A21.1,6.8 0 0 0 1072.5,549.4L1072.5,518.7Z" fill="url(#hs)"/><ellipse cx="1051.4" cy="518.7" rx="21.1" ry="6.8" fill="#e1e1e1"/><path d="M1031.0,518.7A20.3,6.2 0 0 1 1071.7,518.7" fill="none" stroke="#f2f2f2" stroke-opacity="0.55" stroke-width="1.02"/><path d="M1076.2,518.7L1076.2,549.4A21.1,6.8 0 0 0 1118.5,549.4L1118.5,518.7Z" fill="url(#sw)"/><path d="M1076.2,518.7L1076.2,549.4A21.1,6.8 0 0 0 1118.5,549.4L1118.5,518.7Z" fill="url(#hs)"/><ellipse cx="1097.3" cy="518.7" rx="21.1" ry="6.8" fill="#e1e1e1"/><path d="M1077.0,518.7A20.3,6.2 0 0 1 1117.7,518.7" fill="none" stroke="#f2f2f2" stroke-opacity="0.55" stroke-width="1.02"/><path d="M1122.1,518.7L1122.1,549.4A21.1,6.8 0 0 0 1164.4,549.4L1164.4,518.7Z" fill="url(#sw)"/><path d="M1122.1,518.7L1122.1,549.4A21.1,6.8 0 0 0 1164.4,549.4L1164.4,518.7Z" fill="url(#hs)"/><ellipse cx="1143.3" cy="518.7" rx="21.1" ry="6.8" fill="#e1e1e1"/><path d="M1122.9,518.7A20.3,6.2 0 0 1 1163.6,518.7" fill="none" stroke="#f2f2f2" stroke-opacity="0.55" stroke-width="1.02"/><path d="M1168.1,518.7L1168.1,549.4A21.1,6.8 0 0 0 1210.4,549.4L1210.4,518.7Z" fill="url(#sb)"/><path d="M1168.1,518.7L1168.1,549.4A21.1,6.8 0 0 0 1210.4,549.4L1210.4,518.7Z" fill="url(#hs)"/><ellipse cx="1189.2" cy="518.7" rx="21.1" ry="6.8" fill="#54acda"/><path d="M1168.9,518.7A20.3,6.2 0 0 1 1209.6,518.7" fill="none" stroke="#86c8ea" stroke-opacity="0.55" stroke-width="1.02"/><path d="M1214.1,518.7L1214.1,549.4A21.1,6.8 0 0 0 1256.4,549.4L1256.4,518.7Z" fill="url(#sb)"/><path d="M1214.1,518.7L1214.1,549.4A21.1,6.8 0 0 0 1256.4,549.4L1256.4,518.7Z" fill="url(#hs)"/><ellipse cx="1235.2" cy="518.7" rx="21.1" ry="6.8" fill="#54acda"/><path d="M1214.9,518.7A20.3,6.2 0 0 1 1255.6,518.7" fill="none" stroke="#86c8ea" stroke-opacity="0.55" stroke-width="1.02"/><path d="M241.1,535.1L241.1,566.7A21.5,7.0 0 0 0 284.1,566.7L284.1,535.1Z" fill="url(#sb)"/><path d="M241.1,535.1L241.1,566.7A21.5,7.0 0 0 0 284.1,566.7L284.1,535.1Z" fill="url(#hs)"/><ellipse cx="262.6" cy="535.1" rx="21.5" ry="7.0" fill="#53acda"/><path d="M241.9,535.1A20.7,6.4 0 0 1 283.3,535.1" fill="none" stroke="#86c8ea" stroke-opacity="0.55" stroke-width="1.04"/><path d="M287.8,535.1L287.8,566.7A21.5,7.0 0 0 0 330.7,566.7L330.7,535.1Z" fill="url(#sb)"/><path d="M287.8,535.1L287.8,566.7A21.5,7.0 0 0 0 330.7,566.7L330.7,535.1Z" fill="url(#hs)"/><ellipse cx="309.3" cy="535.1" rx="21.5" ry="7.0" fill="#53acda"/><path d="M288.6,535.1A20.7,6.4 0 0 1 329.9,535.1" fill="none" stroke="#86c8ea" stroke-opacity="0.55" stroke-width="1.04"/><path d="M334.5,535.1L334.5,566.7A21.5,7.0 0 0 0 377.4,566.7L377.4,535.1Z" fill="url(#sw)"/><path d="M334.5,535.1L334.5,566.7A21.5,7.0 0 0 0 377.4,566.7L377.4,535.1Z" fill="url(#hs)"/><ellipse cx="355.9" cy="535.1" rx="21.5" ry="7.0" fill="#e1e1e1"/><path d="M335.3,535.1A20.7,6.4 0 0 1 376.6,535.1" fill="none" stroke="#f2f2f2" stroke-opacity="0.55" stroke-width="1.04"/><path d="M381.1,535.1L381.1,566.7A21.5,7.0 0 0 0 424.1,566.7L424.1,535.1Z" fill="url(#sw)"/><path d="M381.1,535.1L381.1,566.7A21.5,7.0 0 0 0 424.1,566.7L424.1,535.1Z" fill="url(#hs)"/><ellipse cx="402.6" cy="535.1" rx="21.5" ry="7.0" fill="#e1e1e1"/><path d="M381.9,535.1A20.7,6.4 0 0 1 423.3,535.1" fill="none" stroke="#f2f2f2" stroke-opacity="0.55" stroke-width="1.04"/><path d="M427.8,535.1L427.8,566.7A21.5,7.0 0 0 0 470.7,566.7L470.7,535.1Z" fill="url(#sw)"/><path d="M427.8,535.1L427.8,566.7A21.5,7.0 0 0 0 470.7,566.7L470.7,535.1Z" fill="url(#hs)"/><ellipse cx="449.3" cy="535.1" rx="21.5" ry="7.0" fill="#e1e1e1"/><path d="M428.6,535.1A20.7,6.4 0 0 1 469.9,535.1" fill="none" stroke="#f2f2f2" stroke-opacity="0.55" stroke-width="1.04"/><path d="M474.5,535.1L474.5,566.7A21.5,7.0 0 0 0 517.4,566.7L517.4,535.1Z" fill="url(#sw)"/><path d="M474.5,535.1L474.5,566.7A21.5,7.0 0 0 0 517.4,566.7L517.4,535.1Z" fill="url(#hs)"/><ellipse cx="495.9" cy="535.1" rx="21.5" ry="7.0" fill="#e1e1e1"/><path d="M475.3,535.1A20.7,6.4 0 0 1 516.6,535.1" fill="none" stroke="#f2f2f2" stroke-opacity="0.55" stroke-width="1.04"/><path d="M521.1,535.1L521.1,566.7A21.5,7.0 0 0 0 564.1,566.7L564.1,535.1Z" fill="url(#sw)"/><path d="M521.1,535.1L521.1,566.7A21.5,7.0 0 0 0 564.1,566.7L564.1,535.1Z" fill="url(#hs)"/><ellipse cx="542.6" cy="535.1" rx="21.5" ry="7.0" fill="#e1e1e1"/><path d="M521.9,535.1A20.7,6.4 0 0 1 563.3,535.1" fill="none" stroke="#f2f2f2" stroke-opacity="0.55" stroke-width="1.04"/><path d="M567.8,535.1L567.8,566.7A21.5,7.0 0 0 0 610.7,566.7L610.7,535.1Z" fill="url(#sw)"/><path d="M567.8,535.1L567.8,566.7A21.5,7.0 0 0 0 610.7,566.7L610.7,535.1Z" fill="url(#hs)"/><ellipse cx="589.3" cy="535.1" rx="21.5" ry="7.0" fill="#e1e1e1"/><path d="M568.6,535.1A20.7,6.4 0 0 1 609.9,535.1" fill="none" stroke="#f2f2f2" stroke-opacity="0.55" stroke-width="1.04"/><path d="M614.5,535.1L614.5,566.7A21.5,7.0 0 0 0 657.4,566.7L657.4,535.1Z" fill="url(#sw)"/><path d="M614.5,535.1L614.5,566.7A21.5,7.0 0 0 0 657.4,566.7L657.4,535.1Z" fill="url(#hs)"/><ellipse cx="635.9" cy="535.1" rx="21.5" ry="7.0" fill="#e1e1e1"/><path d="M615.3,535.1A20.7,6.4 0 0 1 656.6,535.1" fill="none" stroke="#f2f2f2" stroke-opacity="0.55" stroke-width="1.04"/><path d="M661.1,535.1L661.1,566.7A21.5,7.0 0 0 0 704.1,566.7L704.1,535.1Z" fill="url(#sw)"/><path d="M661.1,535.1L661.1,566.7A21.5,7.0 0 0 0 704.1,566.7L704.1,535.1Z" fill="url(#hs)"/><ellipse cx="682.6" cy="535.1" rx="21.5" ry="7.0" fill="#e1e1e1"/><path d="M661.9,535.1A20.7,6.4 0 0 1 703.3,535.1" fill="none" stroke="#f2f2f2" stroke-opacity="0.55" stroke-width="1.04"/><path d="M707.8,535.1L707.8,566.7A21.5,7.0 0 0 0 750.7,566.7L750.7,535.1Z" fill="url(#sw)"/><path d="M707.8,535.1L707.8,566.7A21.5,7.0 0 0 0 750.7,566.7L750.7,535.1Z" fill="url(#hs)"/><ellipse cx="729.3" cy="535.1" rx="21.5" ry="7.0" fill="#e1e1e1"/><path d="M708.6,535.1A20.7,6.4 0 0 1 749.9,535.1" fill="none" stroke="#f2f2f2" stroke-opacity="0.55" stroke-width="1.04"/><path d="M754.5,535.1L754.5,566.7A21.5,7.0 0 0 0 797.4,566.7L797.4,535.1Z" fill="url(#sw)"/><path d="M754.5,535.1L754.5,566.7A21.5,7.0 0 0 0 797.4,566.7L797.4,535.1Z" fill="url(#hs)"/><ellipse cx="775.9" cy="535.1" rx="21.5" ry="7.0" fill="#e1e1e1"/><path d="M755.3,535.1A20.7,6.4 0 0 1 796.6,535.1" fill="none" stroke="#f2f2f2" stroke-opacity="0.55" stroke-width="1.04"/><path d="M801.1,535.1L801.1,566.7A21.5,7.0 0 0 0 844.1,566.7L844.1,535.1Z" fill="url(#sw)"/><path d="M801.1,535.1L801.1,566.7A21.5,7.0 0 0 0 844.1,566.7L844.1,535.1Z" fill="url(#hs)"/><ellipse cx="822.6" cy="535.1" rx="21.5" ry="7.0" fill="#e1e1e1"/><path d="M801.9,535.1A20.7,6.4 0 0 1 843.3,535.1" fill="none" stroke="#f2f2f2" stroke-opacity="0.55" stroke-width="1.04"/><path d="M847.8,535.1L847.8,566.7A21.5,7.0 0 0 0 890.7,566.7L890.7,535.1Z" fill="url(#sw)"/><path d="M847.8,535.1L847.8,566.7A21.5,7.0 0 0 0 890.7,566.7L890.7,535.1Z" fill="url(#hs)"/><ellipse cx="869.3" cy="535.1" rx="21.5" ry="7.0" fill="#e1e1e1"/><path d="M848.6,535.1A20.7,6.4 0 0 1 889.9,535.1" fill="none" stroke="#f2f2f2" stroke-opacity="0.55" stroke-width="1.04"/><path d="M894.5,535.1L894.5,566.7A21.5,7.0 0 0 0 937.4,566.7L937.4,535.1Z" fill="url(#sw)"/><path d="M894.5,535.1L894.5,566.7A21.5,7.0 0 0 0 937.4,566.7L937.4,535.1Z" fill="url(#hs)"/><ellipse cx="915.9" cy="535.1" rx="21.5" ry="7.0" fill="#e1e1e1"/><path d="M895.3,535.1A20.7,6.4 0 0 1 936.6,535.1" fill="none" stroke="#f2f2f2" stroke-opacity="0.55" stroke-width="1.04"/><path d="M941.1,535.1L941.1,566.7A21.5,7.0 0 0 0 984.1,566.7L984.1,535.1Z" fill="url(#sw)"/><path d="M941.1,535.1L941.1,566.7A21.5,7.0 0 0 0 984.1,566.7L984.1,535.1Z" fill="url(#hs)"/><ellipse cx="962.6" cy="535.1" rx="21.5" ry="7.0" fill="#e1e1e1"/><path d="M941.9,535.1A20.7,6.4 0 0 1 983.3,535.1" fill="none" stroke="#f2f2f2" stroke-opacity="0.55" stroke-width="1.04"/><path d="M987.8,535.1L987.8,566.7A21.5,7.0 0 0 0 1030.7,566.7L1030.7,535.1Z" fill="url(#sw)"/><path d="M987.8,535.1L987.8,566.7A21.5,7.0 0 0 0 1030.7,566.7L1030.7,535.1Z" fill="url(#hs)"/><ellipse cx="1009.3" cy="535.1" rx="21.5" ry="7.0" fill="#e1e1e1"/><path d="M988.6,535.1A20.7,6.4 0 0 1 1029.9,535.1" fill="none" stroke="#f2f2f2" stroke-opacity="0.55" stroke-width="1.04"/><path d="M1034.5,535.1L1034.5,566.7A21.5,7.0 0 0 0 1077.4,566.7L1077.4,535.1Z" fill="url(#sw)"/><path d="M1034.5,535.1L1034.5,566.7A21.5,7.0 0 0 0 1077.4,566.7L1077.4,535.1Z" fill="url(#hs)"/><ellipse cx="1055.9" cy="535.1" rx="21.5" ry="7.0" fill="#e1e1e1"/><path d="M1035.3,535.1A20.7,6.4 0 0 1 1076.6,535.1" fill="none" stroke="#f2f2f2" stroke-opacity="0.55" stroke-width="1.04"/><path d="M1081.1,535.1L1081.1,566.7A21.5,7.0 0 0 0 1124.1,566.7L1124.1,535.1Z" fill="url(#sw)"/><path d="M1081.1,535.1L1081.1,566.7A21.5,7.0 0 0 0 1124.1,566.7L1124.1,535.1Z" fill="url(#hs)"/><ellipse cx="1102.6" cy="535.1" rx="21.5" ry="7.0" fill="#e1e1e1"/><path d="M1081.9,535.1A20.7,6.4 0 0 1 1123.3,535.1" fill="none" stroke="#f2f2f2" stroke-opacity="0.55" stroke-width="1.04"/><path d="M1127.8,535.1L1127.8,566.7A21.5,7.0 0 0 0 1170.7,566.7L1170.7,535.1Z" fill="url(#sw)"/><path d="M1127.8,535.1L1127.8,566.7A21.5,7.0 0 0 0 1170.7,566.7L1170.7,535.1Z" fill="url(#hs)"/><ellipse cx="1149.3" cy="535.1" rx="21.5" ry="7.0" fill="#e1e1e1"/><path d="M1128.6,535.1A20.7,6.4 0 0 1 1169.9,535.1" fill="none" stroke="#f2f2f2" stroke-opacity="0.55" stroke-width="1.04"/><path d="M1174.5,535.1L1174.5,566.7A21.5,7.0 0 0 0 1217.4,566.7L1217.4,535.1Z" fill="url(#sb)"/><path d="M1174.5,535.1L1174.5,566.7A21.5,7.0 0 0 0 1217.4,566.7L1217.4,535.1Z" fill="url(#hs)"/><ellipse cx="1195.9" cy="535.1" rx="21.5" ry="7.0" fill="#53acda"/><path d="M1175.3,535.1A20.7,6.4 0 0 1 1216.6,535.1" fill="none" stroke="#86c8ea" stroke-opacity="0.55" stroke-width="1.04"/><path d="M1221.1,535.1L1221.1,566.7A21.5,7.0 0 0 0 1264.1,566.7L1264.1,535.1Z" fill="url(#sb)"/><path d="M1221.1,535.1L1221.1,566.7A21.5,7.0 0 0 0 1264.1,566.7L1264.1,535.1Z" fill="url(#hs)"/><ellipse cx="1242.6" cy="535.1" rx="21.5" ry="7.0" fill="#53acda"/><path d="M1221.9,535.1A20.7,6.4 0 0 1 1263.3,535.1" fill="none" stroke="#86c8ea" stroke-opacity="0.55" stroke-width="1.04"/><path d="M233.2,552.0L233.2,584.6A21.8,7.2 0 0 0 276.8,584.6L276.8,552.0Z" fill="url(#sb)"/><path d="M233.2,552.0L233.2,584.6A21.8,7.2 0 0 0 276.8,584.6L276.8,552.0Z" fill="url(#hs)"/><ellipse cx="255.0" cy="552.0" rx="21.8" ry="7.2" fill="#52abd9"/><path d="M234.0,552.0A21.0,6.6 0 0 1 276.0,552.0" fill="none" stroke="#86c8ea" stroke-opacity="0.55" stroke-width="1.05"/><path d="M280.6,552.0L280.6,584.6A21.8,7.2 0 0 0 324.2,584.6L324.2,552.0Z" fill="url(#sb)"/><path d="M280.6,552.0L280.6,584.6A21.8,7.2 0 0 0 324.2,584.6L324.2,552.0Z" fill="url(#hs)"/><ellipse cx="302.4" cy="552.0" rx="21.8" ry="7.2" fill="#52abd9"/><path d="M281.4,552.0A21.0,6.6 0 0 1 323.4,552.0" fill="none" stroke="#86c8ea" stroke-opacity="0.55" stroke-width="1.05"/><path d="M328.0,552.0L328.0,584.6A21.8,7.2 0 0 0 371.6,584.6L371.6,552.0Z" fill="url(#sw)"/><path d="M328.0,552.0L328.0,584.6A21.8,7.2 0 0 0 371.6,584.6L371.6,552.0Z" fill="url(#hs)"/><ellipse cx="349.8" cy="552.0" rx="21.8" ry="7.2" fill="#e1e1e1"/><path d="M328.8,552.0A21.0,6.6 0 0 1 370.8,552.0" fill="none" stroke="#f2f2f2" stroke-opacity="0.55" stroke-width="1.05"/><path d="M375.4,552.0L375.4,584.6A21.8,7.2 0 0 0 419.0,584.6L419.0,552.0Z" fill="url(#sw)"/><path d="M375.4,552.0L375.4,584.6A21.8,7.2 0 0 0 419.0,584.6L419.0,552.0Z" fill="url(#hs)"/><ellipse cx="397.2" cy="552.0" rx="21.8" ry="7.2" fill="#e1e1e1"/><path d="M376.2,552.0A21.0,6.6 0 0 1 418.2,552.0" fill="none" stroke="#f2f2f2" stroke-opacity="0.55" stroke-width="1.05"/><path d="M422.7,552.0L422.7,584.6A21.8,7.2 0 0 0 466.3,584.6L466.3,552.0Z" fill="url(#sw)"/><path d="M422.7,552.0L422.7,584.6A21.8,7.2 0 0 0 466.3,584.6L466.3,552.0Z" fill="url(#hs)"/><ellipse cx="444.5" cy="552.0" rx="21.8" ry="7.2" fill="#e1e1e1"/><path d="M423.5,552.0A21.0,6.6 0 0 1 465.5,552.0" fill="none" stroke="#f2f2f2" stroke-opacity="0.55" stroke-width="1.05"/><path d="M470.1,552.0L470.1,584.6A21.8,7.2 0 0 0 513.7,584.6L513.7,552.0Z" fill="url(#sw)"/><path d="M470.1,552.0L470.1,584.6A21.8,7.2 0 0 0 513.7,584.6L513.7,552.0Z" fill="url(#hs)"/><ellipse cx="491.9" cy="552.0" rx="21.8" ry="7.2" fill="#e1e1e1"/><path d="M470.9,552.0A21.0,6.6 0 0 1 512.9,552.0" fill="none" stroke="#f2f2f2" stroke-opacity="0.55" stroke-width="1.05"/><path d="M517.5,552.0L517.5,584.6A21.8,7.2 0 0 0 561.1,584.6L561.1,552.0Z" fill="url(#sw)"/><path d="M517.5,552.0L517.5,584.6A21.8,7.2 0 0 0 561.1,584.6L561.1,552.0Z" fill="url(#hs)"/><ellipse cx="539.3" cy="552.0" rx="21.8" ry="7.2" fill="#e1e1e1"/><path d="M518.3,552.0A21.0,6.6 0 0 1 560.3,552.0" fill="none" stroke="#f2f2f2" stroke-opacity="0.55" stroke-width="1.05"/><path d="M564.9,552.0L564.9,584.6A21.8,7.2 0 0 0 608.5,584.6L608.5,552.0Z" fill="url(#sw)"/><path d="M564.9,552.0L564.9,584.6A21.8,7.2 0 0 0 608.5,584.6L608.5,552.0Z" fill="url(#hs)"/><ellipse cx="586.7" cy="552.0" rx="21.8" ry="7.2" fill="#e1e1e1"/><path d="M565.7,552.0A21.0,6.6 0 0 1 607.7,552.0" fill="none" stroke="#f2f2f2" stroke-opacity="0.55" stroke-width="1.05"/><path d="M612.3,552.0L612.3,584.6A21.8,7.2 0 0 0 655.9,584.6L655.9,552.0Z" fill="url(#sw)"/><path d="M612.3,552.0L612.3,584.6A21.8,7.2 0 0 0 655.9,584.6L655.9,552.0Z" fill="url(#hs)"/><ellipse cx="634.1" cy="552.0" rx="21.8" ry="7.2" fill="#e1e1e1"/><path d="M613.1,552.0A21.0,6.6 0 0 1 655.1,552.0" fill="none" stroke="#f2f2f2" stroke-opacity="0.55" stroke-width="1.05"/><path d="M659.7,552.0L659.7,584.6A21.8,7.2 0 0 0 703.3,584.6L703.3,552.0Z" fill="url(#sw)"/><path d="M659.7,552.0L659.7,584.6A21.8,7.2 0 0 0 703.3,584.6L703.3,552.0Z" fill="url(#hs)"/><ellipse cx="681.5" cy="552.0" rx="21.8" ry="7.2" fill="#e1e1e1"/><path d="M660.5,552.0A21.0,6.6 0 0 1 702.5,552.0" fill="none" stroke="#f2f2f2" stroke-opacity="0.55" stroke-width="1.05"/><path d="M707.1,552.0L707.1,584.6A21.8,7.2 0 0 0 750.7,584.6L750.7,552.0Z" fill="url(#sw)"/><path d="M707.1,552.0L707.1,584.6A21.8,7.2 0 0 0 750.7,584.6L750.7,552.0Z" fill="url(#hs)"/><ellipse cx="728.9" cy="552.0" rx="21.8" ry="7.2" fill="#e1e1e1"/><path d="M707.9,552.0A21.0,6.6 0 0 1 749.9,552.0" fill="none" stroke="#f2f2f2" stroke-opacity="0.55" stroke-width="1.05"/><path d="M754.5,552.0L754.5,584.6A21.8,7.2 0 0 0 798.1,584.6L798.1,552.0Z" fill="url(#sw)"/><path d="M754.5,552.0L754.5,584.6A21.8,7.2 0 0 0 798.1,584.6L798.1,552.0Z" fill="url(#hs)"/><ellipse cx="776.3" cy="552.0" rx="21.8" ry="7.2" fill="#e1e1e1"/><path d="M755.3,552.0A21.0,6.6 0 0 1 797.3,552.0" fill="none" stroke="#f2f2f2" stroke-opacity="0.55" stroke-width="1.05"/><path d="M801.9,552.0L801.9,584.6A21.8,7.2 0 0 0 845.5,584.6L845.5,552.0Z" fill="url(#sw)"/><path d="M801.9,552.0L801.9,584.6A21.8,7.2 0 0 0 845.5,584.6L845.5,552.0Z" fill="url(#hs)"/><ellipse cx="823.7" cy="552.0" rx="21.8" ry="7.2" fill="#e1e1e1"/><path d="M802.7,552.0A21.0,6.6 0 0 1 844.7,552.0" fill="none" stroke="#f2f2f2" stroke-opacity="0.55" stroke-width="1.05"/><path d="M849.3,552.0L849.3,584.6A21.8,7.2 0 0 0 892.9,584.6L892.9,552.0Z" fill="url(#sw)"/><path d="M849.3,552.0L849.3,584.6A21.8,7.2 0 0 0 892.9,584.6L892.9,552.0Z" fill="url(#hs)"/><ellipse cx="871.1" cy="552.0" rx="21.8" ry="7.2" fill="#e1e1e1"/><path d="M850.1,552.0A21.0,6.6 0 0 1 892.1,552.0" fill="none" stroke="#f2f2f2" stroke-opacity="0.55" stroke-width="1.05"/><path d="M896.7,552.0L896.7,584.6A21.8,7.2 0 0 0 940.3,584.6L940.3,552.0Z" fill="url(#sw)"/><path d="M896.7,552.0L896.7,584.6A21.8,7.2 0 0 0 940.3,584.6L940.3,552.0Z" fill="url(#hs)"/><ellipse cx="918.5" cy="552.0" rx="21.8" ry="7.2" fill="#e1e1e1"/><path d="M897.5,552.0A21.0,6.6 0 0 1 939.5,552.0" fill="none" stroke="#f2f2f2" stroke-opacity="0.55" stroke-width="1.05"/><path d="M944.1,552.0L944.1,584.6A21.8,7.2 0 0 0 987.7,584.6L987.7,552.0Z" fill="url(#sw)"/><path d="M944.1,552.0L944.1,584.6A21.8,7.2 0 0 0 987.7,584.6L987.7,552.0Z" fill="url(#hs)"/><ellipse cx="965.9" cy="552.0" rx="21.8" ry="7.2" fill="#e1e1e1"/><path d="M944.9,552.0A21.0,6.6 0 0 1 986.9,552.0" fill="none" stroke="#f2f2f2" stroke-opacity="0.55" stroke-width="1.05"/><path d="M991.5,552.0L991.5,584.6A21.8,7.2 0 0 0 1035.1,584.6L1035.1,552.0Z" fill="url(#sw)"/><path d="M991.5,552.0L991.5,584.6A21.8,7.2 0 0 0 1035.1,584.6L1035.1,552.0Z" fill="url(#hs)"/><ellipse cx="1013.3" cy="552.0" rx="21.8" ry="7.2" fill="#e1e1e1"/><path d="M992.3,552.0A21.0,6.6 0 0 1 1034.3,552.0" fill="none" stroke="#f2f2f2" stroke-opacity="0.55" stroke-width="1.05"/><path d="M1038.9,552.0L1038.9,584.6A21.8,7.2 0 0 0 1082.5,584.6L1082.5,552.0Z" fill="url(#sw)"/><path d="M1038.9,552.0L1038.9,584.6A21.8,7.2 0 0 0 1082.5,584.6L1082.5,552.0Z" fill="url(#hs)"/><ellipse cx="1060.7" cy="552.0" rx="21.8" ry="7.2" fill="#e1e1e1"/><path d="M1039.7,552.0A21.0,6.6 0 0 1 1081.7,552.0" fill="none" stroke="#f2f2f2" stroke-opacity="0.55" stroke-width="1.05"/><path d="M1086.2,552.0L1086.2,584.6A21.8,7.2 0 0 0 1129.8,584.6L1129.8,552.0Z" fill="url(#sw)"/><path d="M1086.2,552.0L1086.2,584.6A21.8,7.2 0 0 0 1129.8,584.6L1129.8,552.0Z" fill="url(#hs)"/><ellipse cx="1108.0" cy="552.0" rx="21.8" ry="7.2" fill="#e1e1e1"/><path d="M1087.0,552.0A21.0,6.6 0 0 1 1129.0,552.0" fill="none" stroke="#f2f2f2" stroke-opacity="0.55" stroke-width="1.05"/><path d="M1133.6,552.0L1133.6,584.6A21.8,7.2 0 0 0 1177.2,584.6L1177.2,552.0Z" fill="url(#sw)"/><path d="M1133.6,552.0L1133.6,584.6A21.8,7.2 0 0 0 1177.2,584.6L1177.2,552.0Z" fill="url(#hs)"/><ellipse cx="1155.4" cy="552.0" rx="21.8" ry="7.2" fill="#e1e1e1"/><path d="M1134.4,552.0A21.0,6.6 0 0 1 1176.4,552.0" fill="none" stroke="#f2f2f2" stroke-opacity="0.55" stroke-width="1.05"/><path d="M1181.0,552.0L1181.0,584.6A21.8,7.2 0 0 0 1224.6,584.6L1224.6,552.0Z" fill="url(#sb)"/><path d="M1181.0,552.0L1181.0,584.6A21.8,7.2 0 0 0 1224.6,584.6L1224.6,552.0Z" fill="url(#hs)"/><ellipse cx="1202.8" cy="552.0" rx="21.8" ry="7.2" fill="#52abd9"/><path d="M1181.8,552.0A21.0,6.6 0 0 1 1223.8,552.0" fill="none" stroke="#86c8ea" stroke-opacity="0.55" stroke-width="1.05"/><path d="M1228.4,552.0L1228.4,584.6A21.8,7.2 0 0 0 1272.0,584.6L1272.0,552.0Z" fill="url(#sb)"/><path d="M1228.4,552.0L1228.4,584.6A21.8,7.2 0 0 0 1272.0,584.6L1272.0,552.0Z" fill="url(#hs)"/><ellipse cx="1250.2" cy="552.0" rx="21.8" ry="7.2" fill="#52abd9"/><path d="M1229.2,552.0A21.0,6.6 0 0 1 1271.2,552.0" fill="none" stroke="#86c8ea" stroke-opacity="0.55" stroke-width="1.05"/><path d="M225.0,569.4L225.0,603.1A22.1,7.4 0 0 0 269.3,603.1L269.3,569.4Z" fill="url(#sb)"/><path d="M225.0,569.4L225.0,603.1A22.1,7.4 0 0 0 269.3,603.1L269.3,569.4Z" fill="url(#hs)"/><ellipse cx="247.1" cy="569.4" rx="22.1" ry="7.4" fill="#51abd9"/><path d="M225.8,569.4A21.3,6.8 0 0 1 268.5,569.4" fill="none" stroke="#86c8ea" stroke-opacity="0.55" stroke-width="1.07"/><path d="M273.1,569.4L273.1,603.1A22.1,7.4 0 0 0 317.4,603.1L317.4,569.4Z" fill="url(#sb)"/><path d="M273.1,569.4L273.1,603.1A22.1,7.4 0 0 0 317.4,603.1L317.4,569.4Z" fill="url(#hs)"/><ellipse cx="295.3" cy="569.4" rx="22.1" ry="7.4" fill="#51abd9"/><path d="M273.9,569.4A21.3,6.8 0 0 1 316.6,569.4" fill="none" stroke="#86c8ea" stroke-opacity="0.55" stroke-width="1.07"/><path d="M321.3,569.4L321.3,603.1A22.1,7.4 0 0 0 365.5,603.1L365.5,569.4Z" fill="url(#sp)"/><path d="M321.3,569.4L321.3,603.1A22.1,7.4 0 0 0 365.5,603.1L365.5,569.4Z" fill="url(#hs)"/><ellipse cx="343.4" cy="569.4" rx="22.1" ry="7.4" fill="#7a57d2"/><path d="M322.1,569.4A21.3,6.8 0 0 1 364.7,569.4" fill="none" stroke="#9a80e6" stroke-opacity="0.55" stroke-width="1.07"/><path d="M369.4,569.4L369.4,603.1A22.1,7.4 0 0 0 413.7,603.1L413.7,569.4Z" fill="url(#sp)"/><path d="M369.4,569.4L369.4,603.1A22.1,7.4 0 0 0 413.7,603.1L413.7,569.4Z" fill="url(#hs)"/><ellipse cx="391.5" cy="569.4" rx="22.1" ry="7.4" fill="#7a57d2"/><path d="M370.2,569.4A21.3,6.8 0 0 1 412.9,569.4" fill="none" stroke="#9a80e6" stroke-opacity="0.55" stroke-width="1.07"/><path d="M417.5,569.4L417.5,603.1A22.1,7.4 0 0 0 461.8,603.1L461.8,569.4Z" fill="url(#sp)"/><path d="M417.5,569.4L417.5,603.1A22.1,7.4 0 0 0 461.8,603.1L461.8,569.4Z" fill="url(#hs)"/><ellipse cx="439.7" cy="569.4" rx="22.1" ry="7.4" fill="#7a57d2"/><path d="M418.3,569.4A21.3,6.8 0 0 1 461.0,569.4" fill="none" stroke="#9a80e6" stroke-opacity="0.55" stroke-width="1.07"/><path d="M465.7,569.4L465.7,603.1A22.1,7.4 0 0 0 510.0,603.1L510.0,569.4Z" fill="url(#sp)"/><path d="M465.7,569.4L465.7,603.1A22.1,7.4 0 0 0 510.0,603.1L510.0,569.4Z" fill="url(#hs)"/><ellipse cx="487.8" cy="569.4" rx="22.1" ry="7.4" fill="#7a57d2"/><path d="M466.5,569.4A21.3,6.8 0 0 1 509.2,569.4" fill="none" stroke="#9a80e6" stroke-opacity="0.55" stroke-width="1.07"/><path d="M513.8,569.4L513.8,603.1A22.1,7.4 0 0 0 558.1,603.1L558.1,569.4Z" fill="url(#sp)"/><path d="M513.8,569.4L513.8,603.1A22.1,7.4 0 0 0 558.1,603.1L558.1,569.4Z" fill="url(#hs)"/><ellipse cx="536.0" cy="569.4" rx="22.1" ry="7.4" fill="#7a57d2"/><path d="M514.6,569.4A21.3,6.8 0 0 1 557.3,569.4" fill="none" stroke="#9a80e6" stroke-opacity="0.55" stroke-width="1.07"/><path d="M562.0,569.4L562.0,603.1A22.1,7.4 0 0 0 606.3,603.1L606.3,569.4Z" fill="url(#sp)"/><path d="M562.0,569.4L562.0,603.1A22.1,7.4 0 0 0 606.3,603.1L606.3,569.4Z" fill="url(#hs)"/><ellipse cx="584.1" cy="569.4" rx="22.1" ry="7.4" fill="#7a57d2"/><path d="M562.8,569.4A21.3,6.8 0 0 1 605.5,569.4" fill="none" stroke="#9a80e6" stroke-opacity="0.55" stroke-width="1.07"/><path d="M610.1,569.4L610.1,603.1A22.1,7.4 0 0 0 654.4,603.1L654.4,569.4Z" fill="url(#sp)"/><path d="M610.1,569.4L610.1,603.1A22.1,7.4 0 0 0 654.4,603.1L654.4,569.4Z" fill="url(#hs)"/><ellipse cx="632.2" cy="569.4" rx="22.1" ry="7.4" fill="#7a57d2"/><path d="M610.9,569.4A21.3,6.8 0 0 1 653.6,569.4" fill="none" stroke="#9a80e6" stroke-opacity="0.55" stroke-width="1.07"/><path d="M658.2,569.4L658.2,603.1A22.1,7.4 0 0 0 702.5,603.1L702.5,569.4Z" fill="url(#sp)"/><path d="M658.2,569.4L658.2,603.1A22.1,7.4 0 0 0 702.5,603.1L702.5,569.4Z" fill="url(#hs)"/><ellipse cx="680.4" cy="569.4" rx="22.1" ry="7.4" fill="#7a57d2"/><path d="M659.0,569.4A21.3,6.8 0 0 1 701.7,569.4" fill="none" stroke="#9a80e6" stroke-opacity="0.55" stroke-width="1.07"/><path d="M706.4,569.4L706.4,603.1A22.1,7.4 0 0 0 750.7,603.1L750.7,569.4Z" fill="url(#sp)"/><path d="M706.4,569.4L706.4,603.1A22.1,7.4 0 0 0 750.7,603.1L750.7,569.4Z" fill="url(#hs)"/><ellipse cx="728.5" cy="569.4" rx="22.1" ry="7.4" fill="#7a57d2"/><path d="M707.2,569.4A21.3,6.8 0 0 1 749.9,569.4" fill="none" stroke="#9a80e6" stroke-opacity="0.55" stroke-width="1.07"/><path d="M754.5,569.4L754.5,603.1A22.1,7.4 0 0 0 798.8,603.1L798.8,569.4Z" fill="url(#sp)"/><path d="M754.5,569.4L754.5,603.1A22.1,7.4 0 0 0 798.8,603.1L798.8,569.4Z" fill="url(#hs)"/><ellipse cx="776.7" cy="569.4" rx="22.1" ry="7.4" fill="#7a57d2"/><path d="M755.3,569.4A21.3,6.8 0 0 1 798.0,569.4" fill="none" stroke="#9a80e6" stroke-opacity="0.55" stroke-width="1.07"/><path d="M802.7,569.4L802.7,603.1A22.1,7.4 0 0 0 847.0,603.1L847.0,569.4Z" fill="url(#sp)"/><path d="M802.7,569.4L802.7,603.1A22.1,7.4 0 0 0 847.0,603.1L847.0,569.4Z" fill="url(#hs)"/><ellipse cx="824.8" cy="569.4" rx="22.1" ry="7.4" fill="#7a57d2"/><path d="M803.5,569.4A21.3,6.8 0 0 1 846.2,569.4" fill="none" stroke="#9a80e6" stroke-opacity="0.55" stroke-width="1.07"/><path d="M850.8,569.4L850.8,603.1A22.1,7.4 0 0 0 895.1,603.1L895.1,569.4Z" fill="url(#sp)"/><path d="M850.8,569.4L850.8,603.1A22.1,7.4 0 0 0 895.1,603.1L895.1,569.4Z" fill="url(#hs)"/><ellipse cx="873.0" cy="569.4" rx="22.1" ry="7.4" fill="#7a57d2"/><path d="M851.6,569.4A21.3,6.8 0 0 1 894.3,569.4" fill="none" stroke="#9a80e6" stroke-opacity="0.55" stroke-width="1.07"/><path d="M898.9,569.4L898.9,603.1A22.1,7.4 0 0 0 943.2,603.1L943.2,569.4Z" fill="url(#sp)"/><path d="M898.9,569.4L898.9,603.1A22.1,7.4 0 0 0 943.2,603.1L943.2,569.4Z" fill="url(#hs)"/><ellipse cx="921.1" cy="569.4" rx="22.1" ry="7.4" fill="#7a57d2"/><path d="M899.7,569.4A21.3,6.8 0 0 1 942.4,569.4" fill="none" stroke="#9a80e6" stroke-opacity="0.55" stroke-width="1.07"/><path d="M947.1,569.4L947.1,603.1A22.1,7.4 0 0 0 991.4,603.1L991.4,569.4Z" fill="url(#sp)"/><path d="M947.1,569.4L947.1,603.1A22.1,7.4 0 0 0 991.4,603.1L991.4,569.4Z" fill="url(#hs)"/><ellipse cx="969.2" cy="569.4" rx="22.1" ry="7.4" fill="#7a57d2"/><path d="M947.9,569.4A21.3,6.8 0 0 1 990.6,569.4" fill="none" stroke="#9a80e6" stroke-opacity="0.55" stroke-width="1.07"/><path d="M995.2,569.4L995.2,603.1A22.1,7.4 0 0 0 1039.5,603.1L1039.5,569.4Z" fill="url(#sp)"/><path d="M995.2,569.4L995.2,603.1A22.1,7.4 0 0 0 1039.5,603.1L1039.5,569.4Z" fill="url(#hs)"/><ellipse cx="1017.4" cy="569.4" rx="22.1" ry="7.4" fill="#7a57d2"/><path d="M996.0,569.4A21.3,6.8 0 0 1 1038.7,569.4" fill="none" stroke="#9a80e6" stroke-opacity="0.55" stroke-width="1.07"/><path d="M1043.4,569.4L1043.4,603.1A22.1,7.4 0 0 0 1087.7,603.1L1087.7,569.4Z" fill="url(#sp)"/><path d="M1043.4,569.4L1043.4,603.1A22.1,7.4 0 0 0 1087.7,603.1L1087.7,569.4Z" fill="url(#hs)"/><ellipse cx="1065.5" cy="569.4" rx="22.1" ry="7.4" fill="#7a57d2"/><path d="M1044.2,569.4A21.3,6.8 0 0 1 1086.9,569.4" fill="none" stroke="#9a80e6" stroke-opacity="0.55" stroke-width="1.07"/><path d="M1091.5,569.4L1091.5,603.1A22.1,7.4 0 0 0 1135.8,603.1L1135.8,569.4Z" fill="url(#sp)"/><path d="M1091.5,569.4L1091.5,603.1A22.1,7.4 0 0 0 1135.8,603.1L1135.8,569.4Z" fill="url(#hs)"/><ellipse cx="1113.7" cy="569.4" rx="22.1" ry="7.4" fill="#7a57d2"/><path d="M1092.3,569.4A21.3,6.8 0 0 1 1135.0,569.4" fill="none" stroke="#9a80e6" stroke-opacity="0.55" stroke-width="1.07"/><path d="M1139.7,569.4L1139.7,603.1A22.1,7.4 0 0 0 1183.9,603.1L1183.9,569.4Z" fill="url(#sp)"/><path d="M1139.7,569.4L1139.7,603.1A22.1,7.4 0 0 0 1183.9,603.1L1183.9,569.4Z" fill="url(#hs)"/><ellipse cx="1161.8" cy="569.4" rx="22.1" ry="7.4" fill="#7a57d2"/><path d="M1140.5,569.4A21.3,6.8 0 0 1 1183.1,569.4" fill="none" stroke="#9a80e6" stroke-opacity="0.55" stroke-width="1.07"/><path d="M1187.8,569.4L1187.8,603.1A22.1,7.4 0 0 0 1232.1,603.1L1232.1,569.4Z" fill="url(#sb)"/><path d="M1187.8,569.4L1187.8,603.1A22.1,7.4 0 0 0 1232.1,603.1L1232.1,569.4Z" fill="url(#hs)"/><ellipse cx="1209.9" cy="569.4" rx="22.1" ry="7.4" fill="#51abd9"/><path d="M1188.6,569.4A21.3,6.8 0 0 1 1231.3,569.4" fill="none" stroke="#86c8ea" stroke-opacity="0.55" stroke-width="1.07"/><path d="M1235.9,569.4L1235.9,603.1A22.1,7.4 0 0 0 1280.2,603.1L1280.2,569.4Z" fill="url(#sb)"/><path d="M1235.9,569.4L1235.9,603.1A22.1,7.4 0 0 0 1280.2,603.1L1280.2,569.4Z" fill="url(#hs)"/><ellipse cx="1258.1" cy="569.4" rx="22.1" ry="7.4" fill="#51abd9"/><path d="M1236.7,569.4A21.3,6.8 0 0 1 1279.4,569.4" fill="none" stroke="#86c8ea" stroke-opacity="0.55" stroke-width="1.07"/><path d="M216.5,587.3L216.5,622.1A22.5,7.7 0 0 0 261.5,622.1L261.5,587.3Z" fill="url(#sb)"/><path d="M216.5,587.3L216.5,622.1A22.5,7.7 0 0 0 261.5,622.1L261.5,587.3Z" fill="url(#hs)"/><ellipse cx="239.0" cy="587.3" rx="22.5" ry="7.7" fill="#51aad9"/><path d="M217.3,587.3A21.7,7.1 0 0 1 260.7,587.3" fill="none" stroke="#86c8ea" stroke-opacity="0.55" stroke-width="1.09"/><path d="M265.4,587.3L265.4,622.1A22.5,7.7 0 0 0 310.4,622.1L310.4,587.3Z" fill="url(#sb)"/><path d="M265.4,587.3L265.4,622.1A22.5,7.7 0 0 0 310.4,622.1L310.4,587.3Z" fill="url(#hs)"/><ellipse cx="287.9" cy="587.3" rx="22.5" ry="7.7" fill="#51aad9"/><path d="M266.2,587.3A21.7,7.1 0 0 1 309.6,587.3" fill="none" stroke="#86c8ea" stroke-opacity="0.55" stroke-width="1.09"/><path d="M314.3,587.3L314.3,622.1A22.5,7.7 0 0 0 359.3,622.1L359.3,587.3Z" fill="url(#sp)"/><path d="M314.3,587.3L314.3,622.1A22.5,7.7 0 0 0 359.3,622.1L359.3,587.3Z" fill="url(#hs)"/><ellipse cx="336.8" cy="587.3" rx="22.5" ry="7.7" fill="#7a57d2"/><path d="M315.1,587.3A21.7,7.1 0 0 1 358.5,587.3" fill="none" stroke="#9a80e6" stroke-opacity="0.55" stroke-width="1.09"/><path d="M363.2,587.3L363.2,622.1A22.5,7.7 0 0 0 408.2,622.1L408.2,587.3Z" fill="url(#sp)"/><path d="M363.2,587.3L363.2,622.1A22.5,7.7 0 0 0 408.2,622.1L408.2,587.3Z" fill="url(#hs)"/><ellipse cx="385.7" cy="587.3" rx="22.5" ry="7.7" fill="#7a57d2"/><path d="M364.0,587.3A21.7,7.1 0 0 1 407.4,587.3" fill="none" stroke="#9a80e6" stroke-opacity="0.55" stroke-width="1.09"/><path d="M412.2,587.3L412.2,622.1A22.5,7.7 0 0 0 457.2,622.1L457.2,587.3Z" fill="url(#sp)"/><path d="M412.2,587.3L412.2,622.1A22.5,7.7 0 0 0 457.2,622.1L457.2,587.3Z" fill="url(#hs)"/><ellipse cx="434.7" cy="587.3" rx="22.5" ry="7.7" fill="#7a57d2"/><path d="M413.0,587.3A21.7,7.1 0 0 1 456.4,587.3" fill="none" stroke="#9a80e6" stroke-opacity="0.55" stroke-width="1.09"/><path d="M461.1,587.3L461.1,622.1A22.5,7.7 0 0 0 506.1,622.1L506.1,587.3Z" fill="url(#sp)"/><path d="M461.1,587.3L461.1,622.1A22.5,7.7 0 0 0 506.1,622.1L506.1,587.3Z" fill="url(#hs)"/><ellipse cx="483.6" cy="587.3" rx="22.5" ry="7.7" fill="#7a57d2"/><path d="M461.9,587.3A21.7,7.1 0 0 1 505.3,587.3" fill="none" stroke="#9a80e6" stroke-opacity="0.55" stroke-width="1.09"/><path d="M510.0,587.3L510.0,622.1A22.5,7.7 0 0 0 555.0,622.1L555.0,587.3Z" fill="url(#sp)"/><path d="M510.0,587.3L510.0,622.1A22.5,7.7 0 0 0 555.0,622.1L555.0,587.3Z" fill="url(#hs)"/><ellipse cx="532.5" cy="587.3" rx="22.5" ry="7.7" fill="#7a57d2"/><path d="M510.8,587.3A21.7,7.1 0 0 1 554.2,587.3" fill="none" stroke="#9a80e6" stroke-opacity="0.55" stroke-width="1.09"/><path d="M558.9,587.3L558.9,622.1A22.5,7.7 0 0 0 603.9,622.1L603.9,587.3Z" fill="url(#sp)"/><path d="M558.9,587.3L558.9,622.1A22.5,7.7 0 0 0 603.9,622.1L603.9,587.3Z" fill="url(#hs)"/><ellipse cx="581.4" cy="587.3" rx="22.5" ry="7.7" fill="#7a57d2"/><path d="M559.7,587.3A21.7,7.1 0 0 1 603.1,587.3" fill="none" stroke="#9a80e6" stroke-opacity="0.55" stroke-width="1.09"/><path d="M607.8,587.3L607.8,622.1A22.5,7.7 0 0 0 652.8,622.1L652.8,587.3Z" fill="url(#sp)"/><path d="M607.8,587.3L607.8,622.1A22.5,7.7 0 0 0 652.8,622.1L652.8,587.3Z" fill="url(#hs)"/><ellipse cx="630.3" cy="587.3" rx="22.5" ry="7.7" fill="#7a57d2"/><path d="M608.6,587.3A21.7,7.1 0 0 1 652.0,587.3" fill="none" stroke="#9a80e6" stroke-opacity="0.55" stroke-width="1.09"/><path d="M656.7,587.3L656.7,622.1A22.5,7.7 0 0 0 701.7,622.1L701.7,587.3Z" fill="url(#sp)"/><path d="M656.7,587.3L656.7,622.1A22.5,7.7 0 0 0 701.7,622.1L701.7,587.3Z" fill="url(#hs)"/><ellipse cx="679.2" cy="587.3" rx="22.5" ry="7.7" fill="#7a57d2"/><path d="M657.5,587.3A21.7,7.1 0 0 1 700.9,587.3" fill="none" stroke="#9a80e6" stroke-opacity="0.55" stroke-width="1.09"/><path d="M705.6,587.3L705.6,622.1A22.5,7.7 0 0 0 750.6,622.1L750.6,587.3Z" fill="url(#sp)"/><path d="M705.6,587.3L705.6,622.1A22.5,7.7 0 0 0 750.6,622.1L750.6,587.3Z" fill="url(#hs)"/><ellipse cx="728.1" cy="587.3" rx="22.5" ry="7.7" fill="#7a57d2"/><path d="M706.4,587.3A21.7,7.1 0 0 1 749.8,587.3" fill="none" stroke="#9a80e6" stroke-opacity="0.55" stroke-width="1.09"/><path d="M754.6,587.3L754.6,622.1A22.5,7.7 0 0 0 799.6,622.1L799.6,587.3Z" fill="url(#sp)"/><path d="M754.6,587.3L754.6,622.1A22.5,7.7 0 0 0 799.6,622.1L799.6,587.3Z" fill="url(#hs)"/><ellipse cx="777.1" cy="587.3" rx="22.5" ry="7.7" fill="#7a57d2"/><path d="M755.4,587.3A21.7,7.1 0 0 1 798.8,587.3" fill="none" stroke="#9a80e6" stroke-opacity="0.55" stroke-width="1.09"/><path d="M803.5,587.3L803.5,622.1A22.5,7.7 0 0 0 848.5,622.1L848.5,587.3Z" fill="url(#sp)"/><path d="M803.5,587.3L803.5,622.1A22.5,7.7 0 0 0 848.5,622.1L848.5,587.3Z" fill="url(#hs)"/><ellipse cx="826.0" cy="587.3" rx="22.5" ry="7.7" fill="#7a57d2"/><path d="M804.3,587.3A21.7,7.1 0 0 1 847.7,587.3" fill="none" stroke="#9a80e6" stroke-opacity="0.55" stroke-width="1.09"/><path d="M852.4,587.3L852.4,622.1A22.5,7.7 0 0 0 897.4,622.1L897.4,587.3Z" fill="url(#sp)"/><path d="M852.4,587.3L852.4,622.1A22.5,7.7 0 0 0 897.4,622.1L897.4,587.3Z" fill="url(#hs)"/><ellipse cx="874.9" cy="587.3" rx="22.5" ry="7.7" fill="#7a57d2"/><path d="M853.2,587.3A21.7,7.1 0 0 1 896.6,587.3" fill="none" stroke="#9a80e6" stroke-opacity="0.55" stroke-width="1.09"/><path d="M901.3,587.3L901.3,622.1A22.5,7.7 0 0 0 946.3,622.1L946.3,587.3Z" fill="url(#sp)"/><path d="M901.3,587.3L901.3,622.1A22.5,7.7 0 0 0 946.3,622.1L946.3,587.3Z" fill="url(#hs)"/><ellipse cx="923.8" cy="587.3" rx="22.5" ry="7.7" fill="#7a57d2"/><path d="M902.1,587.3A21.7,7.1 0 0 1 945.5,587.3" fill="none" stroke="#9a80e6" stroke-opacity="0.55" stroke-width="1.09"/><path d="M950.2,587.3L950.2,622.1A22.5,7.7 0 0 0 995.2,622.1L995.2,587.3Z" fill="url(#sp)"/><path d="M950.2,587.3L950.2,622.1A22.5,7.7 0 0 0 995.2,622.1L995.2,587.3Z" fill="url(#hs)"/><ellipse cx="972.7" cy="587.3" rx="22.5" ry="7.7" fill="#7a57d2"/><path d="M951.0,587.3A21.7,7.1 0 0 1 994.4,587.3" fill="none" stroke="#9a80e6" stroke-opacity="0.55" stroke-width="1.09"/><path d="M999.1,587.3L999.1,622.1A22.5,7.7 0 0 0 1044.1,622.1L1044.1,587.3Z" fill="url(#sp)"/><path d="M999.1,587.3L999.1,622.1A22.5,7.7 0 0 0 1044.1,622.1L1044.1,587.3Z" fill="url(#hs)"/><ellipse cx="1021.6" cy="587.3" rx="22.5" ry="7.7" fill="#7a57d2"/><path d="M999.9,587.3A21.7,7.1 0 0 1 1043.3,587.3" fill="none" stroke="#9a80e6" stroke-opacity="0.55" stroke-width="1.09"/><path d="M1048.0,587.3L1048.0,622.1A22.5,7.7 0 0 0 1093.0,622.1L1093.0,587.3Z" fill="url(#sp)"/><path d="M1048.0,587.3L1048.0,622.1A22.5,7.7 0 0 0 1093.0,622.1L1093.0,587.3Z" fill="url(#hs)"/><ellipse cx="1070.5" cy="587.3" rx="22.5" ry="7.7" fill="#7a57d2"/><path d="M1048.8,587.3A21.7,7.1 0 0 1 1092.2,587.3" fill="none" stroke="#9a80e6" stroke-opacity="0.55" stroke-width="1.09"/><path d="M1097.0,587.3L1097.0,622.1A22.5,7.7 0 0 0 1142.0,622.1L1142.0,587.3Z" fill="url(#sp)"/><path d="M1097.0,587.3L1097.0,622.1A22.5,7.7 0 0 0 1142.0,622.1L1142.0,587.3Z" fill="url(#hs)"/><ellipse cx="1119.5" cy="587.3" rx="22.5" ry="7.7" fill="#7a57d2"/><path d="M1097.8,587.3A21.7,7.1 0 0 1 1141.2,587.3" fill="none" stroke="#9a80e6" stroke-opacity="0.55" stroke-width="1.09"/><path d="M1145.9,587.3L1145.9,622.1A22.5,7.7 0 0 0 1190.9,622.1L1190.9,587.3Z" fill="url(#sp)"/><path d="M1145.9,587.3L1145.9,622.1A22.5,7.7 0 0 0 1190.9,622.1L1190.9,587.3Z" fill="url(#hs)"/><ellipse cx="1168.4" cy="587.3" rx="22.5" ry="7.7" fill="#7a57d2"/><path d="M1146.7,587.3A21.7,7.1 0 0 1 1190.1,587.3" fill="none" stroke="#9a80e6" stroke-opacity="0.55" stroke-width="1.09"/><path d="M1194.8,587.3L1194.8,622.1A22.5,7.7 0 0 0 1239.8,622.1L1239.8,587.3Z" fill="url(#sb)"/><path d="M1194.8,587.3L1194.8,622.1A22.5,7.7 0 0 0 1239.8,622.1L1239.8,587.3Z" fill="url(#hs)"/><ellipse cx="1217.3" cy="587.3" rx="22.5" ry="7.7" fill="#51aad9"/><path d="M1195.6,587.3A21.7,7.1 0 0 1 1239.0,587.3" fill="none" stroke="#86c8ea" stroke-opacity="0.55" stroke-width="1.09"/><path d="M1243.7,587.3L1243.7,622.1A22.5,7.7 0 0 0 1288.7,622.1L1288.7,587.3Z" fill="url(#sb)"/><path d="M1243.7,587.3L1243.7,622.1A22.5,7.7 0 0 0 1288.7,622.1L1288.7,587.3Z" fill="url(#hs)"/><ellipse cx="1266.2" cy="587.3" rx="22.5" ry="7.7" fill="#51aad9"/><path d="M1244.5,587.3A21.7,7.1 0 0 1 1287.9,587.3" fill="none" stroke="#86c8ea" stroke-opacity="0.55" stroke-width="1.09"/><path d="M207.8,605.9L207.8,641.8A22.9,7.9 0 0 0 253.5,641.8L253.5,605.9Z" fill="url(#sb)"/><path d="M207.8,605.9L207.8,641.8A22.9,7.9 0 0 0 253.5,641.8L253.5,605.9Z" fill="url(#hs)"/><ellipse cx="230.6" cy="605.9" rx="22.9" ry="7.9" fill="#50a9d9"/><path d="M208.6,605.9A22.1,7.3 0 0 1 252.7,605.9" fill="none" stroke="#86c8ea" stroke-opacity="0.55" stroke-width="1.10"/><path d="M257.5,605.9L257.5,641.8A22.9,7.9 0 0 0 303.2,641.8L303.2,605.9Z" fill="url(#sb)"/><path d="M257.5,605.9L257.5,641.8A22.9,7.9 0 0 0 303.2,641.8L303.2,605.9Z" fill="url(#hs)"/><ellipse cx="280.3" cy="605.9" rx="22.9" ry="7.9" fill="#50a9d9"/><path d="M258.3,605.9A22.1,7.3 0 0 1 302.4,605.9" fill="none" stroke="#86c8ea" stroke-opacity="0.55" stroke-width="1.10"/><path d="M307.2,605.9L307.2,641.8A22.9,7.9 0 0 0 352.9,641.8L352.9,605.9Z" fill="url(#sp)"/><path d="M307.2,605.9L307.2,641.8A22.9,7.9 0 0 0 352.9,641.8L352.9,605.9Z" fill="url(#hs)"/><ellipse cx="330.0" cy="605.9" rx="22.9" ry="7.9" fill="#7a57d2"/><path d="M308.0,605.9A22.1,7.3 0 0 1 352.1,605.9" fill="none" stroke="#9a80e6" stroke-opacity="0.55" stroke-width="1.10"/><path d="M356.9,605.9L356.9,641.8A22.9,7.9 0 0 0 402.6,641.8L402.6,605.9Z" fill="url(#sp)"/><path d="M356.9,605.9L356.9,641.8A22.9,7.9 0 0 0 402.6,641.8L402.6,605.9Z" fill="url(#hs)"/><ellipse cx="379.8" cy="605.9" rx="22.9" ry="7.9" fill="#7a57d2"/><path d="M357.7,605.9A22.1,7.3 0 0 1 401.8,605.9" fill="none" stroke="#9a80e6" stroke-opacity="0.55" stroke-width="1.10"/><path d="M406.6,605.9L406.6,641.8A22.9,7.9 0 0 0 452.3,641.8L452.3,605.9Z" fill="url(#sp)"/><path d="M406.6,605.9L406.6,641.8A22.9,7.9 0 0 0 452.3,641.8L452.3,605.9Z" fill="url(#hs)"/><ellipse cx="429.5" cy="605.9" rx="22.9" ry="7.9" fill="#7a57d2"/><path d="M407.4,605.9A22.1,7.3 0 0 1 451.5,605.9" fill="none" stroke="#9a80e6" stroke-opacity="0.55" stroke-width="1.10"/><path d="M456.3,605.9L456.3,641.8A22.9,7.9 0 0 0 502.1,641.8L502.1,605.9Z" fill="url(#sp)"/><path d="M456.3,605.9L456.3,641.8A22.9,7.9 0 0 0 502.1,641.8L502.1,605.9Z" fill="url(#hs)"/><ellipse cx="479.2" cy="605.9" rx="22.9" ry="7.9" fill="#7a57d2"/><path d="M457.1,605.9A22.1,7.3 0 0 1 501.3,605.9" fill="none" stroke="#9a80e6" stroke-opacity="0.55" stroke-width="1.10"/><path d="M506.0,605.9L506.0,641.8A22.9,7.9 0 0 0 551.8,641.8L551.8,605.9Z" fill="url(#sp)"/><path d="M506.0,605.9L506.0,641.8A22.9,7.9 0 0 0 551.8,641.8L551.8,605.9Z" fill="url(#hs)"/><ellipse cx="528.9" cy="605.9" rx="22.9" ry="7.9" fill="#7a57d2"/><path d="M506.8,605.9A22.1,7.3 0 0 1 551.0,605.9" fill="none" stroke="#9a80e6" stroke-opacity="0.55" stroke-width="1.10"/><path d="M555.7,605.9L555.7,641.8A22.9,7.9 0 0 0 601.5,641.8L601.5,605.9Z" fill="url(#sp)"/><path d="M555.7,605.9L555.7,641.8A22.9,7.9 0 0 0 601.5,641.8L601.5,605.9Z" fill="url(#hs)"/><ellipse cx="578.6" cy="605.9" rx="22.9" ry="7.9" fill="#7a57d2"/><path d="M556.5,605.9A22.1,7.3 0 0 1 600.7,605.9" fill="none" stroke="#9a80e6" stroke-opacity="0.55" stroke-width="1.10"/><path d="M605.5,605.9L605.5,641.8A22.9,7.9 0 0 0 651.2,641.8L651.2,605.9Z" fill="url(#sp)"/><path d="M605.5,605.9L605.5,641.8A22.9,7.9 0 0 0 651.2,641.8L651.2,605.9Z" fill="url(#hs)"/><ellipse cx="628.3" cy="605.9" rx="22.9" ry="7.9" fill="#7a57d2"/><path d="M606.3,605.9A22.1,7.3 0 0 1 650.4,605.9" fill="none" stroke="#9a80e6" stroke-opacity="0.55" stroke-width="1.10"/><path d="M655.2,605.9L655.2,641.8A22.9,7.9 0 0 0 700.9,641.8L700.9,605.9Z" fill="url(#sp)"/><path d="M655.2,605.9L655.2,641.8A22.9,7.9 0 0 0 700.9,641.8L700.9,605.9Z" fill="url(#hs)"/><ellipse cx="678.0" cy="605.9" rx="22.9" ry="7.9" fill="#7a57d2"/><path d="M656.0,605.9A22.1,7.3 0 0 1 700.1,605.9" fill="none" stroke="#9a80e6" stroke-opacity="0.55" stroke-width="1.10"/><path d="M704.9,605.9L704.9,641.8A22.9,7.9 0 0 0 750.6,641.8L750.6,605.9Z" fill="url(#sp)"/><path d="M704.9,605.9L704.9,641.8A22.9,7.9 0 0 0 750.6,641.8L750.6,605.9Z" fill="url(#hs)"/><ellipse cx="727.7" cy="605.9" rx="22.9" ry="7.9" fill="#7a57d2"/><path d="M705.7,605.9A22.1,7.3 0 0 1 749.8,605.9" fill="none" stroke="#9a80e6" stroke-opacity="0.55" stroke-width="1.10"/><path d="M754.6,605.9L754.6,641.8A22.9,7.9 0 0 0 800.3,641.8L800.3,605.9Z" fill="url(#sp)"/><path d="M754.6,605.9L754.6,641.8A22.9,7.9 0 0 0 800.3,641.8L800.3,605.9Z" fill="url(#hs)"/><ellipse cx="777.5" cy="605.9" rx="22.9" ry="7.9" fill="#7a57d2"/><path d="M755.4,605.9A22.1,7.3 0 0 1 799.5,605.9" fill="none" stroke="#9a80e6" stroke-opacity="0.55" stroke-width="1.10"/><path d="M804.3,605.9L804.3,641.8A22.9,7.9 0 0 0 850.0,641.8L850.0,605.9Z" fill="url(#sp)"/><path d="M804.3,605.9L804.3,641.8A22.9,7.9 0 0 0 850.0,641.8L850.0,605.9Z" fill="url(#hs)"/><ellipse cx="827.2" cy="605.9" rx="22.9" ry="7.9" fill="#7a57d2"/><path d="M805.1,605.9A22.1,7.3 0 0 1 849.2,605.9" fill="none" stroke="#9a80e6" stroke-opacity="0.55" stroke-width="1.10"/><path d="M854.0,605.9L854.0,641.8A22.9,7.9 0 0 0 899.7,641.8L899.7,605.9Z" fill="url(#sp)"/><path d="M854.0,605.9L854.0,641.8A22.9,7.9 0 0 0 899.7,641.8L899.7,605.9Z" fill="url(#hs)"/><ellipse cx="876.9" cy="605.9" rx="22.9" ry="7.9" fill="#7a57d2"/><path d="M854.8,605.9A22.1,7.3 0 0 1 898.9,605.9" fill="none" stroke="#9a80e6" stroke-opacity="0.55" stroke-width="1.10"/><path d="M903.7,605.9L903.7,641.8A22.9,7.9 0 0 0 949.5,641.8L949.5,605.9Z" fill="url(#sp)"/><path d="M903.7,605.9L903.7,641.8A22.9,7.9 0 0 0 949.5,641.8L949.5,605.9Z" fill="url(#hs)"/><ellipse cx="926.6" cy="605.9" rx="22.9" ry="7.9" fill="#7a57d2"/><path d="M904.5,605.9A22.1,7.3 0 0 1 948.7,605.9" fill="none" stroke="#9a80e6" stroke-opacity="0.55" stroke-width="1.10"/><path d="M953.4,605.9L953.4,641.8A22.9,7.9 0 0 0 999.2,641.8L999.2,605.9Z" fill="url(#sp)"/><path d="M953.4,605.9L953.4,641.8A22.9,7.9 0 0 0 999.2,641.8L999.2,605.9Z" fill="url(#hs)"/><ellipse cx="976.3" cy="605.9" rx="22.9" ry="7.9" fill="#7a57d2"/><path d="M954.2,605.9A22.1,7.3 0 0 1 998.4,605.9" fill="none" stroke="#9a80e6" stroke-opacity="0.55" stroke-width="1.10"/><path d="M1003.1,605.9L1003.1,641.8A22.9,7.9 0 0 0 1048.9,641.8L1048.9,605.9Z" fill="url(#sp)"/><path d="M1003.1,605.9L1003.1,641.8A22.9,7.9 0 0 0 1048.9,641.8L1048.9,605.9Z" fill="url(#hs)"/><ellipse cx="1026.0" cy="605.9" rx="22.9" ry="7.9" fill="#7a57d2"/><path d="M1003.9,605.9A22.1,7.3 0 0 1 1048.1,605.9" fill="none" stroke="#9a80e6" stroke-opacity="0.55" stroke-width="1.10"/><path d="M1052.9,605.9L1052.9,641.8A22.9,7.9 0 0 0 1098.6,641.8L1098.6,605.9Z" fill="url(#sp)"/><path d="M1052.9,605.9L1052.9,641.8A22.9,7.9 0 0 0 1098.6,641.8L1098.6,605.9Z" fill="url(#hs)"/><ellipse cx="1075.7" cy="605.9" rx="22.9" ry="7.9" fill="#7a57d2"/><path d="M1053.7,605.9A22.1,7.3 0 0 1 1097.8,605.9" fill="none" stroke="#9a80e6" stroke-opacity="0.55" stroke-width="1.10"/><path d="M1102.6,605.9L1102.6,641.8A22.9,7.9 0 0 0 1148.3,641.8L1148.3,605.9Z" fill="url(#sp)"/><path d="M1102.6,605.9L1102.6,641.8A22.9,7.9 0 0 0 1148.3,641.8L1148.3,605.9Z" fill="url(#hs)"/><ellipse cx="1125.4" cy="605.9" rx="22.9" ry="7.9" fill="#7a57d2"/><path d="M1103.4,605.9A22.1,7.3 0 0 1 1147.5,605.9" fill="none" stroke="#9a80e6" stroke-opacity="0.55" stroke-width="1.10"/><path d="M1152.3,605.9L1152.3,641.8A22.9,7.9 0 0 0 1198.0,641.8L1198.0,605.9Z" fill="url(#sp)"/><path d="M1152.3,605.9L1152.3,641.8A22.9,7.9 0 0 0 1198.0,641.8L1198.0,605.9Z" fill="url(#hs)"/><ellipse cx="1175.2" cy="605.9" rx="22.9" ry="7.9" fill="#7a57d2"/><path d="M1153.1,605.9A22.1,7.3 0 0 1 1197.2,605.9" fill="none" stroke="#9a80e6" stroke-opacity="0.55" stroke-width="1.10"/><path d="M1202.0,605.9L1202.0,641.8A22.9,7.9 0 0 0 1247.7,641.8L1247.7,605.9Z" fill="url(#sb)"/><path d="M1202.0,605.9L1202.0,641.8A22.9,7.9 0 0 0 1247.7,641.8L1247.7,605.9Z" fill="url(#hs)"/><ellipse cx="1224.9" cy="605.9" rx="22.9" ry="7.9" fill="#50a9d9"/><path d="M1202.8,605.9A22.1,7.3 0 0 1 1246.9,605.9" fill="none" stroke="#86c8ea" stroke-opacity="0.55" stroke-width="1.10"/><path d="M1251.7,605.9L1251.7,641.8A22.9,7.9 0 0 0 1297.4,641.8L1297.4,605.9Z" fill="url(#sb)"/><path d="M1251.7,605.9L1251.7,641.8A22.9,7.9 0 0 0 1297.4,641.8L1297.4,605.9Z" fill="url(#hs)"/><ellipse cx="1274.6" cy="605.9" rx="22.9" ry="7.9" fill="#50a9d9"/><path d="M1252.5,605.9A22.1,7.3 0 0 1 1296.6,605.9" fill="none" stroke="#86c8ea" stroke-opacity="0.55" stroke-width="1.10"/><path d="M198.7,625.1L198.7,662.2A23.2,8.2 0 0 0 245.2,662.2L245.2,625.1Z" fill="url(#sb)"/><path d="M198.7,625.1L198.7,662.2A23.2,8.2 0 0 0 245.2,662.2L245.2,625.1Z" fill="url(#hs)"/><ellipse cx="222.0" cy="625.1" rx="23.2" ry="8.2" fill="#4fa9d9"/><path d="M199.5,625.1A22.4,7.6 0 0 1 244.4,625.1" fill="none" stroke="#86c8ea" stroke-opacity="0.55" stroke-width="1.12"/><path d="M249.3,625.1L249.3,662.2A23.2,8.2 0 0 0 295.8,662.2L295.8,625.1Z" fill="url(#sb)"/><path d="M249.3,625.1L249.3,662.2A23.2,8.2 0 0 0 295.8,662.2L295.8,625.1Z" fill="url(#hs)"/><ellipse cx="272.5" cy="625.1" rx="23.2" ry="8.2" fill="#4fa9d9"/><path d="M250.1,625.1A22.4,7.6 0 0 1 295.0,625.1" fill="none" stroke="#86c8ea" stroke-opacity="0.55" stroke-width="1.12"/><path d="M299.8,625.1L299.8,662.2A23.2,8.2 0 0 0 346.3,662.2L346.3,625.1Z" fill="url(#sp)"/><path d="M299.8,625.1L299.8,662.2A23.2,8.2 0 0 0 346.3,662.2L346.3,625.1Z" fill="url(#hs)"/><ellipse cx="323.0" cy="625.1" rx="23.2" ry="8.2" fill="#7a57d2"/><path d="M300.6,625.1A22.4,7.6 0 0 1 345.5,625.1" fill="none" stroke="#9a80e6" stroke-opacity="0.55" stroke-width="1.12"/><path d="M350.3,625.1L350.3,662.2A23.2,8.2 0 0 0 396.8,662.2L396.8,625.1Z" fill="url(#sp)"/><path d="M350.3,625.1L350.3,662.2A23.2,8.2 0 0 0 396.8,662.2L396.8,625.1Z" fill="url(#hs)"/><ellipse cx="373.6" cy="625.1" rx="23.2" ry="8.2" fill="#7a57d2"/><path d="M351.1,625.1A22.4,7.6 0 0 1 396.0,625.1" fill="none" stroke="#9a80e6" stroke-opacity="0.55" stroke-width="1.12"/><path d="M400.9,625.1L400.9,662.2A23.2,8.2 0 0 0 447.4,662.2L447.4,625.1Z" fill="url(#sp)"/><path d="M400.9,625.1L400.9,662.2A23.2,8.2 0 0 0 447.4,662.2L447.4,625.1Z" fill="url(#hs)"/><ellipse cx="424.1" cy="625.1" rx="23.2" ry="8.2" fill="#7a57d2"/><path d="M401.7,625.1A22.4,7.6 0 0 1 446.6,625.1" fill="none" stroke="#9a80e6" stroke-opacity="0.55" stroke-width="1.12"/><path d="M451.4,625.1L451.4,662.2A23.2,8.2 0 0 0 497.9,662.2L497.9,625.1Z" fill="url(#sp)"/><path d="M451.4,625.1L451.4,662.2A23.2,8.2 0 0 0 497.9,662.2L497.9,625.1Z" fill="url(#hs)"/><ellipse cx="474.7" cy="625.1" rx="23.2" ry="8.2" fill="#7a57d2"/><path d="M452.2,625.1A22.4,7.6 0 0 1 497.1,625.1" fill="none" stroke="#9a80e6" stroke-opacity="0.55" stroke-width="1.12"/><path d="M501.9,625.1L501.9,662.2A23.2,8.2 0 0 0 548.4,662.2L548.4,625.1Z" fill="url(#sp)"/><path d="M501.9,625.1L501.9,662.2A23.2,8.2 0 0 0 548.4,662.2L548.4,625.1Z" fill="url(#hs)"/><ellipse cx="525.2" cy="625.1" rx="23.2" ry="8.2" fill="#7a57d2"/><path d="M502.7,625.1A22.4,7.6 0 0 1 547.6,625.1" fill="none" stroke="#9a80e6" stroke-opacity="0.55" stroke-width="1.12"/><path d="M552.5,625.1L552.5,662.2A23.2,8.2 0 0 0 599.0,662.2L599.0,625.1Z" fill="url(#sp)"/><path d="M552.5,625.1L552.5,662.2A23.2,8.2 0 0 0 599.0,662.2L599.0,625.1Z" fill="url(#hs)"/><ellipse cx="575.7" cy="625.1" rx="23.2" ry="8.2" fill="#7a57d2"/><path d="M553.3,625.1A22.4,7.6 0 0 1 598.2,625.1" fill="none" stroke="#9a80e6" stroke-opacity="0.55" stroke-width="1.12"/><path d="M603.0,625.1L603.0,662.2A23.2,8.2 0 0 0 649.5,662.2L649.5,625.1Z" fill="url(#sp)"/><path d="M603.0,625.1L603.0,662.2A23.2,8.2 0 0 0 649.5,662.2L649.5,625.1Z" fill="url(#hs)"/><ellipse cx="626.3" cy="625.1" rx="23.2" ry="8.2" fill="#7a57d2"/><path d="M603.8,625.1A22.4,7.6 0 0 1 648.7,625.1" fill="none" stroke="#9a80e6" stroke-opacity="0.55" stroke-width="1.12"/><path d="M653.5,625.1L653.5,662.2A23.2,8.2 0 0 0 700.0,662.2L700.0,625.1Z" fill="url(#sp)"/><path d="M653.5,625.1L653.5,662.2A23.2,8.2 0 0 0 700.0,662.2L700.0,625.1Z" fill="url(#hs)"/><ellipse cx="676.8" cy="625.1" rx="23.2" ry="8.2" fill="#7a57d2"/><path d="M654.3,625.1A22.4,7.6 0 0 1 699.2,625.1" fill="none" stroke="#9a80e6" stroke-opacity="0.55" stroke-width="1.12"/><path d="M704.1,625.1L704.1,662.2A23.2,8.2 0 0 0 750.6,662.2L750.6,625.1Z" fill="url(#sp)"/><path d="M704.1,625.1L704.1,662.2A23.2,8.2 0 0 0 750.6,662.2L750.6,625.1Z" fill="url(#hs)"/><ellipse cx="727.3" cy="625.1" rx="23.2" ry="8.2" fill="#7a57d2"/><path d="M704.9,625.1A22.4,7.6 0 0 1 749.8,625.1" fill="none" stroke="#9a80e6" stroke-opacity="0.55" stroke-width="1.12"/><path d="M754.6,625.1L754.6,662.2A23.2,8.2 0 0 0 801.1,662.2L801.1,625.1Z" fill="url(#sp)"/><path d="M754.6,625.1L754.6,662.2A23.2,8.2 0 0 0 801.1,662.2L801.1,625.1Z" fill="url(#hs)"/><ellipse cx="777.9" cy="625.1" rx="23.2" ry="8.2" fill="#7a57d2"/><path d="M755.4,625.1A22.4,7.6 0 0 1 800.3,625.1" fill="none" stroke="#9a80e6" stroke-opacity="0.55" stroke-width="1.12"/><path d="M805.2,625.1L805.2,662.2A23.2,8.2 0 0 0 851.7,662.2L851.7,625.1Z" fill="url(#sp)"/><path d="M805.2,625.1L805.2,662.2A23.2,8.2 0 0 0 851.7,662.2L851.7,625.1Z" fill="url(#hs)"/><ellipse cx="828.4" cy="625.1" rx="23.2" ry="8.2" fill="#7a57d2"/><path d="M806.0,625.1A22.4,7.6 0 0 1 850.9,625.1" fill="none" stroke="#9a80e6" stroke-opacity="0.55" stroke-width="1.12"/><path d="M855.7,625.1L855.7,662.2A23.2,8.2 0 0 0 902.2,662.2L902.2,625.1Z" fill="url(#sp)"/><path d="M855.7,625.1L855.7,662.2A23.2,8.2 0 0 0 902.2,662.2L902.2,625.1Z" fill="url(#hs)"/><ellipse cx="878.9" cy="625.1" rx="23.2" ry="8.2" fill="#7a57d2"/><path d="M856.5,625.1A22.4,7.6 0 0 1 901.4,625.1" fill="none" stroke="#9a80e6" stroke-opacity="0.55" stroke-width="1.12"/><path d="M906.2,625.1L906.2,662.2A23.2,8.2 0 0 0 952.7,662.2L952.7,625.1Z" fill="url(#sp)"/><path d="M906.2,625.1L906.2,662.2A23.2,8.2 0 0 0 952.7,662.2L952.7,625.1Z" fill="url(#hs)"/><ellipse cx="929.5" cy="625.1" rx="23.2" ry="8.2" fill="#7a57d2"/><path d="M907.0,625.1A22.4,7.6 0 0 1 951.9,625.1" fill="none" stroke="#9a80e6" stroke-opacity="0.55" stroke-width="1.12"/><path d="M956.8,625.1L956.8,662.2A23.2,8.2 0 0 0 1003.3,662.2L1003.3,625.1Z" fill="url(#sp)"/><path d="M956.8,625.1L956.8,662.2A23.2,8.2 0 0 0 1003.3,662.2L1003.3,625.1Z" fill="url(#hs)"/><ellipse cx="980.0" cy="625.1" rx="23.2" ry="8.2" fill="#7a57d2"/><path d="M957.6,625.1A22.4,7.6 0 0 1 1002.5,625.1" fill="none" stroke="#9a80e6" stroke-opacity="0.55" stroke-width="1.12"/><path d="M1007.3,625.1L1007.3,662.2A23.2,8.2 0 0 0 1053.8,662.2L1053.8,625.1Z" fill="url(#sp)"/><path d="M1007.3,625.1L1007.3,662.2A23.2,8.2 0 0 0 1053.8,662.2L1053.8,625.1Z" fill="url(#hs)"/><ellipse cx="1030.5" cy="625.1" rx="23.2" ry="8.2" fill="#7a57d2"/><path d="M1008.1,625.1A22.4,7.6 0 0 1 1053.0,625.1" fill="none" stroke="#9a80e6" stroke-opacity="0.55" stroke-width="1.12"/><path d="M1057.8,625.1L1057.8,662.2A23.2,8.2 0 0 0 1104.3,662.2L1104.3,625.1Z" fill="url(#sp)"/><path d="M1057.8,625.1L1057.8,662.2A23.2,8.2 0 0 0 1104.3,662.2L1104.3,625.1Z" fill="url(#hs)"/><ellipse cx="1081.1" cy="625.1" rx="23.2" ry="8.2" fill="#7a57d2"/><path d="M1058.6,625.1A22.4,7.6 0 0 1 1103.5,625.1" fill="none" stroke="#9a80e6" stroke-opacity="0.55" stroke-width="1.12"/><path d="M1108.4,625.1L1108.4,662.2A23.2,8.2 0 0 0 1154.9,662.2L1154.9,625.1Z" fill="url(#sp)"/><path d="M1108.4,625.1L1108.4,662.2A23.2,8.2 0 0 0 1154.9,662.2L1154.9,625.1Z" fill="url(#hs)"/><ellipse cx="1131.6" cy="625.1" rx="23.2" ry="8.2" fill="#7a57d2"/><path d="M1109.2,625.1A22.4,7.6 0 0 1 1154.1,625.1" fill="none" stroke="#9a80e6" stroke-opacity="0.55" stroke-width="1.12"/><path d="M1158.9,625.1L1158.9,662.2A23.2,8.2 0 0 0 1205.4,662.2L1205.4,625.1Z" fill="url(#sp)"/><path d="M1158.9,625.1L1158.9,662.2A23.2,8.2 0 0 0 1205.4,662.2L1205.4,625.1Z" fill="url(#hs)"/><ellipse cx="1182.2" cy="625.1" rx="23.2" ry="8.2" fill="#7a57d2"/><path d="M1159.7,625.1A22.4,7.6 0 0 1 1204.6,625.1" fill="none" stroke="#9a80e6" stroke-opacity="0.55" stroke-width="1.12"/><path d="M1209.4,625.1L1209.4,662.2A23.2,8.2 0 0 0 1255.9,662.2L1255.9,625.1Z" fill="url(#sb)"/><path d="M1209.4,625.1L1209.4,662.2A23.2,8.2 0 0 0 1255.9,662.2L1255.9,625.1Z" fill="url(#hs)"/><ellipse cx="1232.7" cy="625.1" rx="23.2" ry="8.2" fill="#4fa9d9"/><path d="M1210.2,625.1A22.4,7.6 0 0 1 1255.1,625.1" fill="none" stroke="#86c8ea" stroke-opacity="0.55" stroke-width="1.12"/><path d="M1260.0,625.1L1260.0,662.2A23.2,8.2 0 0 0 1306.5,662.2L1306.5,625.1Z" fill="url(#sb)"/><path d="M1260.0,625.1L1260.0,662.2A23.2,8.2 0 0 0 1306.5,662.2L1306.5,625.1Z" fill="url(#hs)"/><ellipse cx="1283.2" cy="625.1" rx="23.2" ry="8.2" fill="#4fa9d9"/><path d="M1260.8,625.1A22.4,7.6 0 0 1 1305.7,625.1" fill="none" stroke="#86c8ea" stroke-opacity="0.55" stroke-width="1.12"/><path d="M189.4,644.9L189.4,683.3A23.6,8.5 0 0 0 236.7,683.3L236.7,644.9Z" fill="url(#sb)"/><path d="M189.4,644.9L189.4,683.3A23.6,8.5 0 0 0 236.7,683.3L236.7,644.9Z" fill="url(#hs)"/><ellipse cx="213.0" cy="644.9" rx="23.6" ry="8.5" fill="#4ea8d8"/><path d="M190.2,644.9A22.8,7.9 0 0 1 235.9,644.9" fill="none" stroke="#86c8ea" stroke-opacity="0.55" stroke-width="1.14"/><path d="M240.8,644.9L240.8,683.3A23.6,8.5 0 0 0 288.1,683.3L288.1,644.9Z" fill="url(#sb)"/><path d="M240.8,644.9L240.8,683.3A23.6,8.5 0 0 0 288.1,683.3L288.1,644.9Z" fill="url(#hs)"/><ellipse cx="264.4" cy="644.9" rx="23.6" ry="8.5" fill="#4ea8d8"/><path d="M241.6,644.9A22.8,7.9 0 0 1 287.3,644.9" fill="none" stroke="#86c8ea" stroke-opacity="0.55" stroke-width="1.14"/><path d="M292.2,644.9L292.2,683.3A23.6,8.5 0 0 0 339.4,683.3L339.4,644.9Z" fill="url(#sw)"/><path d="M292.2,644.9L292.2,683.3A23.6,8.5 0 0 0 339.4,683.3L339.4,644.9Z" fill="url(#hs)"/><ellipse cx="315.8" cy="644.9" rx="23.6" ry="8.5" fill="#e1e1e1"/><path d="M293.0,644.9A22.8,7.9 0 0 1 338.6,644.9" fill="none" stroke="#f2f2f2" stroke-opacity="0.55" stroke-width="1.14"/><path d="M343.5,644.9L343.5,683.3A23.6,8.5 0 0 0 390.8,683.3L390.8,644.9Z" fill="url(#sw)"/><path d="M343.5,644.9L343.5,683.3A23.6,8.5 0 0 0 390.8,683.3L390.8,644.9Z" fill="url(#hs)"/><ellipse cx="367.2" cy="644.9" rx="23.6" ry="8.5" fill="#e1e1e1"/><path d="M344.3,644.9A22.8,7.9 0 0 1 390.0,644.9" fill="none" stroke="#f2f2f2" stroke-opacity="0.55" stroke-width="1.14"/><path d="M394.9,644.9L394.9,683.3A23.6,8.5 0 0 0 442.2,683.3L442.2,644.9Z" fill="url(#sw)"/><path d="M394.9,644.9L394.9,683.3A23.6,8.5 0 0 0 442.2,683.3L442.2,644.9Z" fill="url(#hs)"/><ellipse cx="418.6" cy="644.9" rx="23.6" ry="8.5" fill="#e1e1e1"/><path d="M395.7,644.9A22.8,7.9 0 0 1 441.4,644.9" fill="none" stroke="#f2f2f2" stroke-opacity="0.55" stroke-width="1.14"/><path d="M446.3,644.9L446.3,683.3A23.6,8.5 0 0 0 493.6,683.3L493.6,644.9Z" fill="url(#sw)"/><path d="M446.3,644.9L446.3,683.3A23.6,8.5 0 0 0 493.6,683.3L493.6,644.9Z" fill="url(#hs)"/><ellipse cx="470.0" cy="644.9" rx="23.6" ry="8.5" fill="#e1e1e1"/><path d="M447.1,644.9A22.8,7.9 0 0 1 492.8,644.9" fill="none" stroke="#f2f2f2" stroke-opacity="0.55" stroke-width="1.14"/><path d="M497.7,644.9L497.7,683.3A23.6,8.5 0 0 0 545.0,683.3L545.0,644.9Z" fill="url(#sw)"/><path d="M497.7,644.9L497.7,683.3A23.6,8.5 0 0 0 545.0,683.3L545.0,644.9Z" fill="url(#hs)"/><ellipse cx="521.4" cy="644.9" rx="23.6" ry="8.5" fill="#e1e1e1"/><path d="M498.5,644.9A22.8,7.9 0 0 1 544.2,644.9" fill="none" stroke="#f2f2f2" stroke-opacity="0.55" stroke-width="1.14"/><path d="M549.1,644.9L549.1,683.3A23.6,8.5 0 0 0 596.4,683.3L596.4,644.9Z" fill="url(#sw)"/><path d="M549.1,644.9L549.1,683.3A23.6,8.5 0 0 0 596.4,683.3L596.4,644.9Z" fill="url(#hs)"/><ellipse cx="572.7" cy="644.9" rx="23.6" ry="8.5" fill="#e1e1e1"/><path d="M549.9,644.9A22.8,7.9 0 0 1 595.6,644.9" fill="none" stroke="#f2f2f2" stroke-opacity="0.55" stroke-width="1.14"/><path d="M600.5,644.9L600.5,683.3A23.6,8.5 0 0 0 647.8,683.3L647.8,644.9Z" fill="url(#sw)"/><path d="M600.5,644.9L600.5,683.3A23.6,8.5 0 0 0 647.8,683.3L647.8,644.9Z" fill="url(#hs)"/><ellipse cx="624.1" cy="644.9" rx="23.6" ry="8.5" fill="#e1e1e1"/><path d="M601.3,644.9A22.8,7.9 0 0 1 647.0,644.9" fill="none" stroke="#f2f2f2" stroke-opacity="0.55" stroke-width="1.14"/><path d="M651.9,644.9L651.9,683.3A23.6,8.5 0 0 0 699.2,683.3L699.2,644.9Z" fill="url(#sw)"/><path d="M651.9,644.9L651.9,683.3A23.6,8.5 0 0 0 699.2,683.3L699.2,644.9Z" fill="url(#hs)"/><ellipse cx="675.5" cy="644.9" rx="23.6" ry="8.5" fill="#e1e1e1"/><path d="M652.7,644.9A22.8,7.9 0 0 1 698.4,644.9" fill="none" stroke="#f2f2f2" stroke-opacity="0.55" stroke-width="1.14"/><path d="M703.3,644.9L703.3,683.3A23.6,8.5 0 0 0 750.5,683.3L750.5,644.9Z" fill="url(#sw)"/><path d="M703.3,644.9L703.3,683.3A23.6,8.5 0 0 0 750.5,683.3L750.5,644.9Z" fill="url(#hs)"/><ellipse cx="726.9" cy="644.9" rx="23.6" ry="8.5" fill="#e1e1e1"/><path d="M704.1,644.9A22.8,7.9 0 0 1 749.7,644.9" fill="none" stroke="#f2f2f2" stroke-opacity="0.55" stroke-width="1.14"/><path d="M754.7,644.9L754.7,683.3A23.6,8.5 0 0 0 801.9,683.3L801.9,644.9Z" fill="url(#sw)"/><path d="M754.7,644.9L754.7,683.3A23.6,8.5 0 0 0 801.9,683.3L801.9,644.9Z" fill="url(#hs)"/><ellipse cx="778.3" cy="644.9" rx="23.6" ry="8.5" fill="#e1e1e1"/><path d="M755.5,644.9A22.8,7.9 0 0 1 801.1,644.9" fill="none" stroke="#f2f2f2" stroke-opacity="0.55" stroke-width="1.14"/><path d="M806.0,644.9L806.0,683.3A23.6,8.5 0 0 0 853.3,683.3L853.3,644.9Z" fill="url(#sw)"/><path d="M806.0,644.9L806.0,683.3A23.6,8.5 0 0 0 853.3,683.3L853.3,644.9Z" fill="url(#hs)"/><ellipse cx="829.7" cy="644.9" rx="23.6" ry="8.5" fill="#e1e1e1"/><path d="M806.8,644.9A22.8,7.9 0 0 1 852.5,644.9" fill="none" stroke="#f2f2f2" stroke-opacity="0.55" stroke-width="1.14"/><path d="M857.4,644.9L857.4,683.3A23.6,8.5 0 0 0 904.7,683.3L904.7,644.9Z" fill="url(#sw)"/><path d="M857.4,644.9L857.4,683.3A23.6,8.5 0 0 0 904.7,683.3L904.7,644.9Z" fill="url(#hs)"/><ellipse cx="881.1" cy="644.9" rx="23.6" ry="8.5" fill="#e1e1e1"/><path d="M858.2,644.9A22.8,7.9 0 0 1 903.9,644.9" fill="none" stroke="#f2f2f2" stroke-opacity="0.55" stroke-width="1.14"/><path d="M908.8,644.9L908.8,683.3A23.6,8.5 0 0 0 956.1,683.3L956.1,644.9Z" fill="url(#sw)"/><path d="M908.8,644.9L908.8,683.3A23.6,8.5 0 0 0 956.1,683.3L956.1,644.9Z" fill="url(#hs)"/><ellipse cx="932.5" cy="644.9" rx="23.6" ry="8.5" fill="#e1e1e1"/><path d="M909.6,644.9A22.8,7.9 0 0 1 955.3,644.9" fill="none" stroke="#f2f2f2" stroke-opacity="0.55" stroke-width="1.14"/><path d="M960.2,644.9L960.2,683.3A23.6,8.5 0 0 0 1007.5,683.3L1007.5,644.9Z" fill="url(#sw)"/><path d="M960.2,644.9L960.2,683.3A23.6,8.5 0 0 0 1007.5,683.3L1007.5,644.9Z" fill="url(#hs)"/><ellipse cx="983.8" cy="644.9" rx="23.6" ry="8.5" fill="#e1e1e1"/><path d="M961.0,644.9A22.8,7.9 0 0 1 1006.7,644.9" fill="none" stroke="#f2f2f2" stroke-opacity="0.55" stroke-width="1.14"/><path d="M1011.6,644.9L1011.6,683.3A23.6,8.5 0 0 0 1058.9,683.3L1058.9,644.9Z" fill="url(#sw)"/><path d="M1011.6,644.9L1011.6,683.3A23.6,8.5 0 0 0 1058.9,683.3L1058.9,644.9Z" fill="url(#hs)"/><ellipse cx="1035.2" cy="644.9" rx="23.6" ry="8.5" fill="#e1e1e1"/><path d="M1012.4,644.9A22.8,7.9 0 0 1 1058.1,644.9" fill="none" stroke="#f2f2f2" stroke-opacity="0.55" stroke-width="1.14"/><path d="M1063.0,644.9L1063.0,683.3A23.6,8.5 0 0 0 1110.3,683.3L1110.3,644.9Z" fill="url(#sw)"/><path d="M1063.0,644.9L1063.0,683.3A23.6,8.5 0 0 0 1110.3,683.3L1110.3,644.9Z" fill="url(#hs)"/><ellipse cx="1086.6" cy="644.9" rx="23.6" ry="8.5" fill="#e1e1e1"/><path d="M1063.8,644.9A22.8,7.9 0 0 1 1109.5,644.9" fill="none" stroke="#f2f2f2" stroke-opacity="0.55" stroke-width="1.14"/><path d="M1114.4,644.9L1114.4,683.3A23.6,8.5 0 0 0 1161.7,683.3L1161.7,644.9Z" fill="url(#sw)"/><path d="M1114.4,644.9L1114.4,683.3A23.6,8.5 0 0 0 1161.7,683.3L1161.7,644.9Z" fill="url(#hs)"/><ellipse cx="1138.0" cy="644.9" rx="23.6" ry="8.5" fill="#e1e1e1"/><path d="M1115.2,644.9A22.8,7.9 0 0 1 1160.9,644.9" fill="none" stroke="#f2f2f2" stroke-opacity="0.55" stroke-width="1.14"/><path d="M1165.8,644.9L1165.8,683.3A23.6,8.5 0 0 0 1213.0,683.3L1213.0,644.9Z" fill="url(#sw)"/><path d="M1165.8,644.9L1165.8,683.3A23.6,8.5 0 0 0 1213.0,683.3L1213.0,644.9Z" fill="url(#hs)"/><ellipse cx="1189.4" cy="644.9" rx="23.6" ry="8.5" fill="#e1e1e1"/><path d="M1166.6,644.9A22.8,7.9 0 0 1 1212.2,644.9" fill="none" stroke="#f2f2f2" stroke-opacity="0.55" stroke-width="1.14"/><path d="M1217.1,644.9L1217.1,683.3A23.6,8.5 0 0 0 1264.4,683.3L1264.4,644.9Z" fill="url(#sb)"/><path d="M1217.1,644.9L1217.1,683.3A23.6,8.5 0 0 0 1264.4,683.3L1264.4,644.9Z" fill="url(#hs)"/><ellipse cx="1240.8" cy="644.9" rx="23.6" ry="8.5" fill="#4ea8d8"/><path d="M1217.9,644.9A22.8,7.9 0 0 1 1263.6,644.9" fill="none" stroke="#86c8ea" stroke-opacity="0.55" stroke-width="1.14"/><path d="M1268.5,644.9L1268.5,683.3A23.6,8.5 0 0 0 1315.8,683.3L1315.8,644.9Z" fill="url(#sb)"/><path d="M1268.5,644.9L1268.5,683.3A23.6,8.5 0 0 0 1315.8,683.3L1315.8,644.9Z" fill="url(#hs)"/><ellipse cx="1292.2" cy="644.9" rx="23.6" ry="8.5" fill="#4ea8d8"/><path d="M1269.3,644.9A22.8,7.9 0 0 1 1315.0,644.9" fill="none" stroke="#86c8ea" stroke-opacity="0.55" stroke-width="1.14"/><path d="M179.7,665.4L179.7,705.2A24.0,8.7 0 0 0 227.8,705.2L227.8,665.4Z" fill="url(#sb)"/><path d="M179.7,665.4L179.7,705.2A24.0,8.7 0 0 0 227.8,705.2L227.8,665.4Z" fill="url(#hs)"/><ellipse cx="203.8" cy="665.4" rx="24.0" ry="8.7" fill="#4da8d8"/><path d="M180.5,665.4A23.2,8.1 0 0 1 227.0,665.4" fill="none" stroke="#86c8ea" stroke-opacity="0.55" stroke-width="1.16"/><path d="M232.0,665.4L232.0,705.2A24.0,8.7 0 0 0 280.1,705.2L280.1,665.4Z" fill="url(#sb)"/><path d="M232.0,665.4L232.0,705.2A24.0,8.7 0 0 0 280.1,705.2L280.1,665.4Z" fill="url(#hs)"/><ellipse cx="256.0" cy="665.4" rx="24.0" ry="8.7" fill="#4da8d8"/><path d="M232.8,665.4A23.2,8.1 0 0 1 279.3,665.4" fill="none" stroke="#86c8ea" stroke-opacity="0.55" stroke-width="1.16"/><path d="M284.3,665.4L284.3,705.2A24.0,8.7 0 0 0 332.4,705.2L332.4,665.4Z" fill="url(#sw)"/><path d="M284.3,665.4L284.3,705.2A24.0,8.7 0 0 0 332.4,705.2L332.4,665.4Z" fill="url(#hs)"/><ellipse cx="308.3" cy="665.4" rx="24.0" ry="8.7" fill="#e1e1e1"/><path d="M285.1,665.4A23.2,8.1 0 0 1 331.6,665.4" fill="none" stroke="#f2f2f2" stroke-opacity="0.55" stroke-width="1.16"/><path d="M336.5,665.4L336.5,705.2A24.0,8.7 0 0 0 384.6,705.2L384.6,665.4Z" fill="url(#sw)"/><path d="M336.5,665.4L336.5,705.2A24.0,8.7 0 0 0 384.6,705.2L384.6,665.4Z" fill="url(#hs)"/><ellipse cx="360.6" cy="665.4" rx="24.0" ry="8.7" fill="#e1e1e1"/><path d="M337.3,665.4A23.2,8.1 0 0 1 383.8,665.4" fill="none" stroke="#f2f2f2" stroke-opacity="0.55" stroke-width="1.16"/><path d="M388.8,665.4L388.8,705.2A24.0,8.7 0 0 0 436.9,705.2L436.9,665.4Z" fill="url(#sw)"/><path d="M388.8,665.4L388.8,705.2A24.0,8.7 0 0 0 436.9,705.2L436.9,665.4Z" fill="url(#hs)"/><ellipse cx="412.8" cy="665.4" rx="24.0" ry="8.7" fill="#e1e1e1"/><path d="M389.6,665.4A23.2,8.1 0 0 1 436.1,665.4" fill="none" stroke="#f2f2f2" stroke-opacity="0.55" stroke-width="1.16"/><path d="M441.1,665.4L441.1,705.2A24.0,8.7 0 0 0 489.2,705.2L489.2,665.4Z" fill="url(#sw)"/><path d="M441.1,665.4L441.1,705.2A24.0,8.7 0 0 0 489.2,705.2L489.2,665.4Z" fill="url(#hs)"/><ellipse cx="465.1" cy="665.4" rx="24.0" ry="8.7" fill="#e1e1e1"/><path d="M441.9,665.4A23.2,8.1 0 0 1 488.4,665.4" fill="none" stroke="#f2f2f2" stroke-opacity="0.55" stroke-width="1.16"/><path d="M493.3,665.4L493.3,705.2A24.0,8.7 0 0 0 541.4,705.2L541.4,665.4Z" fill="url(#sw)"/><path d="M493.3,665.4L493.3,705.2A24.0,8.7 0 0 0 541.4,705.2L541.4,665.4Z" fill="url(#hs)"/><ellipse cx="517.4" cy="665.4" rx="24.0" ry="8.7" fill="#e1e1e1"/><path d="M494.1,665.4A23.2,8.1 0 0 1 540.6,665.4" fill="none" stroke="#f2f2f2" stroke-opacity="0.55" stroke-width="1.16"/><path d="M545.6,665.4L545.6,705.2A24.0,8.7 0 0 0 593.7,705.2L593.7,665.4Z" fill="url(#sw)"/><path d="M545.6,665.4L545.6,705.2A24.0,8.7 0 0 0 593.7,705.2L593.7,665.4Z" fill="url(#hs)"/><ellipse cx="569.7" cy="665.4" rx="24.0" ry="8.7" fill="#e1e1e1"/><path d="M546.4,665.4A23.2,8.1 0 0 1 592.9,665.4" fill="none" stroke="#f2f2f2" stroke-opacity="0.55" stroke-width="1.16"/><path d="M597.9,665.4L597.9,705.2A24.0,8.7 0 0 0 646.0,705.2L646.0,665.4Z" fill="url(#sw)"/><path d="M597.9,665.4L597.9,705.2A24.0,8.7 0 0 0 646.0,705.2L646.0,665.4Z" fill="url(#hs)"/><ellipse cx="621.9" cy="665.4" rx="24.0" ry="8.7" fill="#e1e1e1"/><path d="M598.7,665.4A23.2,8.1 0 0 1 645.2,665.4" fill="none" stroke="#f2f2f2" stroke-opacity="0.55" stroke-width="1.16"/><path d="M650.2,665.4L650.2,705.2A24.0,8.7 0 0 0 698.2,705.2L698.2,665.4Z" fill="url(#sw)"/><path d="M650.2,665.4L650.2,705.2A24.0,8.7 0 0 0 698.2,705.2L698.2,665.4Z" fill="url(#hs)"/><ellipse cx="674.2" cy="665.4" rx="24.0" ry="8.7" fill="#e1e1e1"/><path d="M651.0,665.4A23.2,8.1 0 0 1 697.4,665.4" fill="none" stroke="#f2f2f2" stroke-opacity="0.55" stroke-width="1.16"/><path d="M702.4,665.4L702.4,705.2A24.0,8.7 0 0 0 750.5,705.2L750.5,665.4Z" fill="url(#sw)"/><path d="M702.4,665.4L702.4,705.2A24.0,8.7 0 0 0 750.5,705.2L750.5,665.4Z" fill="url(#hs)"/><ellipse cx="726.5" cy="665.4" rx="24.0" ry="8.7" fill="#e1e1e1"/><path d="M703.2,665.4A23.2,8.1 0 0 1 749.7,665.4" fill="none" stroke="#f2f2f2" stroke-opacity="0.55" stroke-width="1.16"/><path d="M754.7,665.4L754.7,705.2A24.0,8.7 0 0 0 802.8,705.2L802.8,665.4Z" fill="url(#sw)"/><path d="M754.7,665.4L754.7,705.2A24.0,8.7 0 0 0 802.8,705.2L802.8,665.4Z" fill="url(#hs)"/><ellipse cx="778.7" cy="665.4" rx="24.0" ry="8.7" fill="#e1e1e1"/><path d="M755.5,665.4A23.2,8.1 0 0 1 802.0,665.4" fill="none" stroke="#f2f2f2" stroke-opacity="0.55" stroke-width="1.16"/><path d="M807.0,665.4L807.0,705.2A24.0,8.7 0 0 0 855.0,705.2L855.0,665.4Z" fill="url(#sw)"/><path d="M807.0,665.4L807.0,705.2A24.0,8.7 0 0 0 855.0,705.2L855.0,665.4Z" fill="url(#hs)"/><ellipse cx="831.0" cy="665.4" rx="24.0" ry="8.7" fill="#e1e1e1"/><path d="M807.8,665.4A23.2,8.1 0 0 1 854.2,665.4" fill="none" stroke="#f2f2f2" stroke-opacity="0.55" stroke-width="1.16"/><path d="M859.2,665.4L859.2,705.2A24.0,8.7 0 0 0 907.3,705.2L907.3,665.4Z" fill="url(#sw)"/><path d="M859.2,665.4L859.2,705.2A24.0,8.7 0 0 0 907.3,705.2L907.3,665.4Z" fill="url(#hs)"/><ellipse cx="883.3" cy="665.4" rx="24.0" ry="8.7" fill="#e1e1e1"/><path d="M860.0,665.4A23.2,8.1 0 0 1 906.5,665.4" fill="none" stroke="#f2f2f2" stroke-opacity="0.55" stroke-width="1.16"/><path d="M911.5,665.4L911.5,705.2A24.0,8.7 0 0 0 959.6,705.2L959.6,665.4Z" fill="url(#sw)"/><path d="M911.5,665.4L911.5,705.2A24.0,8.7 0 0 0 959.6,705.2L959.6,665.4Z" fill="url(#hs)"/><ellipse cx="935.5" cy="665.4" rx="24.0" ry="8.7" fill="#e1e1e1"/><path d="M912.3,665.4A23.2,8.1 0 0 1 958.8,665.4" fill="none" stroke="#f2f2f2" stroke-opacity="0.55" stroke-width="1.16"/><path d="M963.8,665.4L963.8,705.2A24.0,8.7 0 0 0 1011.9,705.2L1011.9,665.4Z" fill="url(#sw)"/><path d="M963.8,665.4L963.8,705.2A24.0,8.7 0 0 0 1011.9,705.2L1011.9,665.4Z" fill="url(#hs)"/><ellipse cx="987.8" cy="665.4" rx="24.0" ry="8.7" fill="#e1e1e1"/><path d="M964.6,665.4A23.2,8.1 0 0 1 1011.1,665.4" fill="none" stroke="#f2f2f2" stroke-opacity="0.55" stroke-width="1.16"/><path d="M1016.0,665.4L1016.0,705.2A24.0,8.7 0 0 0 1064.1,705.2L1064.1,665.4Z" fill="url(#sw)"/><path d="M1016.0,665.4L1016.0,705.2A24.0,8.7 0 0 0 1064.1,705.2L1064.1,665.4Z" fill="url(#hs)"/><ellipse cx="1040.1" cy="665.4" rx="24.0" ry="8.7" fill="#e1e1e1"/><path d="M1016.8,665.4A23.2,8.1 0 0 1 1063.3,665.4" fill="none" stroke="#f2f2f2" stroke-opacity="0.55" stroke-width="1.16"/><path d="M1068.3,665.4L1068.3,705.2A24.0,8.7 0 0 0 1116.4,705.2L1116.4,665.4Z" fill="url(#sw)"/><path d="M1068.3,665.4L1068.3,705.2A24.0,8.7 0 0 0 1116.4,705.2L1116.4,665.4Z" fill="url(#hs)"/><ellipse cx="1092.4" cy="665.4" rx="24.0" ry="8.7" fill="#e1e1e1"/><path d="M1069.1,665.4A23.2,8.1 0 0 1 1115.6,665.4" fill="none" stroke="#f2f2f2" stroke-opacity="0.55" stroke-width="1.16"/><path d="M1120.6,665.4L1120.6,705.2A24.0,8.7 0 0 0 1168.7,705.2L1168.7,665.4Z" fill="url(#sw)"/><path d="M1120.6,665.4L1120.6,705.2A24.0,8.7 0 0 0 1168.7,705.2L1168.7,665.4Z" fill="url(#hs)"/><ellipse cx="1144.6" cy="665.4" rx="24.0" ry="8.7" fill="#e1e1e1"/><path d="M1121.4,665.4A23.2,8.1 0 0 1 1167.9,665.4" fill="none" stroke="#f2f2f2" stroke-opacity="0.55" stroke-width="1.16"/><path d="M1172.8,665.4L1172.8,705.2A24.0,8.7 0 0 0 1220.9,705.2L1220.9,665.4Z" fill="url(#sw)"/><path d="M1172.8,665.4L1172.8,705.2A24.0,8.7 0 0 0 1220.9,705.2L1220.9,665.4Z" fill="url(#hs)"/><ellipse cx="1196.9" cy="665.4" rx="24.0" ry="8.7" fill="#e1e1e1"/><path d="M1173.6,665.4A23.2,8.1 0 0 1 1220.1,665.4" fill="none" stroke="#f2f2f2" stroke-opacity="0.55" stroke-width="1.16"/><path d="M1225.1,665.4L1225.1,705.2A24.0,8.7 0 0 0 1273.2,705.2L1273.2,665.4Z" fill="url(#sb)"/><path d="M1225.1,665.4L1225.1,705.2A24.0,8.7 0 0 0 1273.2,705.2L1273.2,665.4Z" fill="url(#hs)"/><ellipse cx="1249.2" cy="665.4" rx="24.0" ry="8.7" fill="#4da8d8"/><path d="M1225.9,665.4A23.2,8.1 0 0 1 1272.4,665.4" fill="none" stroke="#86c8ea" stroke-opacity="0.55" stroke-width="1.16"/><path d="M1277.4,665.4L1277.4,705.2A24.0,8.7 0 0 0 1325.5,705.2L1325.5,665.4Z" fill="url(#sb)"/><path d="M1277.4,665.4L1277.4,705.2A24.0,8.7 0 0 0 1325.5,705.2L1325.5,665.4Z" fill="url(#hs)"/><ellipse cx="1301.4" cy="665.4" rx="24.0" ry="8.7" fill="#4da8d8"/><path d="M1278.2,665.4A23.2,8.1 0 0 1 1324.7,665.4" fill="none" stroke="#86c8ea" stroke-opacity="0.55" stroke-width="1.16"/><path d="M169.7,686.7L169.7,727.8A24.5,9.1 0 0 0 218.7,727.8L218.7,686.7Z" fill="url(#sb)"/><path d="M169.7,686.7L169.7,727.8A24.5,9.1 0 0 0 218.7,727.8L218.7,686.7Z" fill="url(#hs)"/><ellipse cx="194.2" cy="686.7" rx="24.5" ry="9.1" fill="#4ca7d8"/><path d="M170.5,686.7A23.7,8.5 0 0 1 217.9,686.7" fill="none" stroke="#86c8ea" stroke-opacity="0.55" stroke-width="1.18"/><path d="M222.9,686.7L222.9,727.8A24.5,9.1 0 0 0 271.8,727.8L271.8,686.7Z" fill="url(#sb)"/><path d="M222.9,686.7L222.9,727.8A24.5,9.1 0 0 0 271.8,727.8L271.8,686.7Z" fill="url(#hs)"/><ellipse cx="247.4" cy="686.7" rx="24.5" ry="9.1" fill="#4ca7d8"/><path d="M223.7,686.7A23.7,8.5 0 0 1 271.0,686.7" fill="none" stroke="#86c8ea" stroke-opacity="0.55" stroke-width="1.18"/><path d="M276.1,686.7L276.1,727.8A24.5,9.1 0 0 0 325.0,727.8L325.0,686.7Z" fill="url(#sw)"/><path d="M276.1,686.7L276.1,727.8A24.5,9.1 0 0 0 325.0,727.8L325.0,686.7Z" fill="url(#hs)"/><ellipse cx="300.6" cy="686.7" rx="24.5" ry="9.1" fill="#e1e1e1"/><path d="M276.9,686.7A23.7,8.5 0 0 1 324.2,686.7" fill="none" stroke="#f2f2f2" stroke-opacity="0.55" stroke-width="1.18"/><path d="M329.3,686.7L329.3,727.8A24.5,9.1 0 0 0 378.2,727.8L378.2,686.7Z" fill="url(#sw)"/><path d="M329.3,686.7L329.3,727.8A24.5,9.1 0 0 0 378.2,727.8L378.2,686.7Z" fill="url(#hs)"/><ellipse cx="353.7" cy="686.7" rx="24.5" ry="9.1" fill="#e1e1e1"/><path d="M330.1,686.7A23.7,8.5 0 0 1 377.4,686.7" fill="none" stroke="#f2f2f2" stroke-opacity="0.55" stroke-width="1.18"/><path d="M382.5,686.7L382.5,727.8A24.5,9.1 0 0 0 431.4,727.8L431.4,686.7Z" fill="url(#sw)"/><path d="M382.5,686.7L382.5,727.8A24.5,9.1 0 0 0 431.4,727.8L431.4,686.7Z" fill="url(#hs)"/><ellipse cx="406.9" cy="686.7" rx="24.5" ry="9.1" fill="#e1e1e1"/><path d="M383.3,686.7A23.7,8.5 0 0 1 430.6,686.7" fill="none" stroke="#f2f2f2" stroke-opacity="0.55" stroke-width="1.18"/><path d="M435.6,686.7L435.6,727.8A24.5,9.1 0 0 0 484.6,727.8L484.6,686.7Z" fill="url(#sw)"/><path d="M435.6,686.7L435.6,727.8A24.5,9.1 0 0 0 484.6,727.8L484.6,686.7Z" fill="url(#hs)"/><ellipse cx="460.1" cy="686.7" rx="24.5" ry="9.1" fill="#e1e1e1"/><path d="M436.4,686.7A23.7,8.5 0 0 1 483.8,686.7" fill="none" stroke="#f2f2f2" stroke-opacity="0.55" stroke-width="1.18"/><path d="M488.8,686.7L488.8,727.8A24.5,9.1 0 0 0 537.7,727.8L537.7,686.7Z" fill="url(#sw)"/><path d="M488.8,686.7L488.8,727.8A24.5,9.1 0 0 0 537.7,727.8L537.7,686.7Z" fill="url(#hs)"/><ellipse cx="513.3" cy="686.7" rx="24.5" ry="9.1" fill="#e1e1e1"/><path d="M489.6,686.7A23.7,8.5 0 0 1 536.9,686.7" fill="none" stroke="#f2f2f2" stroke-opacity="0.55" stroke-width="1.18"/><path d="M542.0,686.7L542.0,727.8A24.5,9.1 0 0 0 590.9,727.8L590.9,686.7Z" fill="url(#sw)"/><path d="M542.0,686.7L542.0,727.8A24.5,9.1 0 0 0 590.9,727.8L590.9,686.7Z" fill="url(#hs)"/><ellipse cx="566.5" cy="686.7" rx="24.5" ry="9.1" fill="#e1e1e1"/><path d="M542.8,686.7A23.7,8.5 0 0 1 590.1,686.7" fill="none" stroke="#f2f2f2" stroke-opacity="0.55" stroke-width="1.18"/><path d="M595.2,686.7L595.2,727.8A24.5,9.1 0 0 0 644.1,727.8L644.1,686.7Z" fill="url(#sw)"/><path d="M595.2,686.7L595.2,727.8A24.5,9.1 0 0 0 644.1,727.8L644.1,686.7Z" fill="url(#hs)"/><ellipse cx="619.6" cy="686.7" rx="24.5" ry="9.1" fill="#e1e1e1"/><path d="M596.0,686.7A23.7,8.5 0 0 1 643.3,686.7" fill="none" stroke="#f2f2f2" stroke-opacity="0.55" stroke-width="1.18"/><path d="M648.4,686.7L648.4,727.8A24.5,9.1 0 0 0 697.3,727.8L697.3,686.7Z" fill="url(#sw)"/><path d="M648.4,686.7L648.4,727.8A24.5,9.1 0 0 0 697.3,727.8L697.3,686.7Z" fill="url(#hs)"/><ellipse cx="672.8" cy="686.7" rx="24.5" ry="9.1" fill="#e1e1e1"/><path d="M649.2,686.7A23.7,8.5 0 0 1 696.5,686.7" fill="none" stroke="#f2f2f2" stroke-opacity="0.55" stroke-width="1.18"/><path d="M701.5,686.7L701.5,727.8A24.5,9.1 0 0 0 750.5,727.8L750.5,686.7Z" fill="url(#sw)"/><path d="M701.5,686.7L701.5,727.8A24.5,9.1 0 0 0 750.5,727.8L750.5,686.7Z" fill="url(#hs)"/><ellipse cx="726.0" cy="686.7" rx="24.5" ry="9.1" fill="#e1e1e1"/><path d="M702.3,686.7A23.7,8.5 0 0 1 749.7,686.7" fill="none" stroke="#f2f2f2" stroke-opacity="0.55" stroke-width="1.18"/><path d="M754.7,686.7L754.7,727.8A24.5,9.1 0 0 0 803.7,727.8L803.7,686.7Z" fill="url(#sw)"/><path d="M754.7,686.7L754.7,727.8A24.5,9.1 0 0 0 803.7,727.8L803.7,686.7Z" fill="url(#hs)"/><ellipse cx="779.2" cy="686.7" rx="24.5" ry="9.1" fill="#e1e1e1"/><path d="M755.5,686.7A23.7,8.5 0 0 1 802.9,686.7" fill="none" stroke="#f2f2f2" stroke-opacity="0.55" stroke-width="1.18"/><path d="M807.9,686.7L807.9,727.8A24.5,9.1 0 0 0 856.8,727.8L856.8,686.7Z" fill="url(#sw)"/><path d="M807.9,686.7L807.9,727.8A24.5,9.1 0 0 0 856.8,727.8L856.8,686.7Z" fill="url(#hs)"/><ellipse cx="832.4" cy="686.7" rx="24.5" ry="9.1" fill="#e1e1e1"/><path d="M808.7,686.7A23.7,8.5 0 0 1 856.0,686.7" fill="none" stroke="#f2f2f2" stroke-opacity="0.55" stroke-width="1.18"/><path d="M861.1,686.7L861.1,727.8A24.5,9.1 0 0 0 910.0,727.8L910.0,686.7Z" fill="url(#sw)"/><path d="M861.1,686.7L861.1,727.8A24.5,9.1 0 0 0 910.0,727.8L910.0,686.7Z" fill="url(#hs)"/><ellipse cx="885.6" cy="686.7" rx="24.5" ry="9.1" fill="#e1e1e1"/><path d="M861.9,686.7A23.7,8.5 0 0 1 909.2,686.7" fill="none" stroke="#f2f2f2" stroke-opacity="0.55" stroke-width="1.18"/><path d="M914.3,686.7L914.3,727.8A24.5,9.1 0 0 0 963.2,727.8L963.2,686.7Z" fill="url(#sw)"/><path d="M914.3,686.7L914.3,727.8A24.5,9.1 0 0 0 963.2,727.8L963.2,686.7Z" fill="url(#hs)"/><ellipse cx="938.7" cy="686.7" rx="24.5" ry="9.1" fill="#e1e1e1"/><path d="M915.1,686.7A23.7,8.5 0 0 1 962.4,686.7" fill="none" stroke="#f2f2f2" stroke-opacity="0.55" stroke-width="1.18"/><path d="M967.5,686.7L967.5,727.8A24.5,9.1 0 0 0 1016.4,727.8L1016.4,686.7Z" fill="url(#sw)"/><path d="M967.5,686.7L967.5,727.8A24.5,9.1 0 0 0 1016.4,727.8L1016.4,686.7Z" fill="url(#hs)"/><ellipse cx="991.9" cy="686.7" rx="24.5" ry="9.1" fill="#e1e1e1"/><path d="M968.3,686.7A23.7,8.5 0 0 1 1015.6,686.7" fill="none" stroke="#f2f2f2" stroke-opacity="0.55" stroke-width="1.18"/><path d="M1020.6,686.7L1020.6,727.8A24.5,9.1 0 0 0 1069.6,727.8L1069.6,686.7Z" fill="url(#sw)"/><path d="M1020.6,686.7L1020.6,727.8A24.5,9.1 0 0 0 1069.6,727.8L1069.6,686.7Z" fill="url(#hs)"/><ellipse cx="1045.1" cy="686.7" rx="24.5" ry="9.1" fill="#e1e1e1"/><path d="M1021.4,686.7A23.7,8.5 0 0 1 1068.8,686.7" fill="none" stroke="#f2f2f2" stroke-opacity="0.55" stroke-width="1.18"/><path d="M1073.8,686.7L1073.8,727.8A24.5,9.1 0 0 0 1122.7,727.8L1122.7,686.7Z" fill="url(#sw)"/><path d="M1073.8,686.7L1073.8,727.8A24.5,9.1 0 0 0 1122.7,727.8L1122.7,686.7Z" fill="url(#hs)"/><ellipse cx="1098.3" cy="686.7" rx="24.5" ry="9.1" fill="#e1e1e1"/><path d="M1074.6,686.7A23.7,8.5 0 0 1 1121.9,686.7" fill="none" stroke="#f2f2f2" stroke-opacity="0.55" stroke-width="1.18"/><path d="M1127.0,686.7L1127.0,727.8A24.5,9.1 0 0 0 1175.9,727.8L1175.9,686.7Z" fill="url(#sw)"/><path d="M1127.0,686.7L1127.0,727.8A24.5,9.1 0 0 0 1175.9,727.8L1175.9,686.7Z" fill="url(#hs)"/><ellipse cx="1151.5" cy="686.7" rx="24.5" ry="9.1" fill="#e1e1e1"/><path d="M1127.8,686.7A23.7,8.5 0 0 1 1175.1,686.7" fill="none" stroke="#f2f2f2" stroke-opacity="0.55" stroke-width="1.18"/><path d="M1180.2,686.7L1180.2,727.8A24.5,9.1 0 0 0 1229.1,727.8L1229.1,686.7Z" fill="url(#sw)"/><path d="M1180.2,686.7L1180.2,727.8A24.5,9.1 0 0 0 1229.1,727.8L1229.1,686.7Z" fill="url(#hs)"/><ellipse cx="1204.6" cy="686.7" rx="24.5" ry="9.1" fill="#e1e1e1"/><path d="M1181.0,686.7A23.7,8.5 0 0 1 1228.3,686.7" fill="none" stroke="#f2f2f2" stroke-opacity="0.55" stroke-width="1.18"/><path d="M1233.4,686.7L1233.4,727.8A24.5,9.1 0 0 0 1282.3,727.8L1282.3,686.7Z" fill="url(#sb)"/><path d="M1233.4,686.7L1233.4,727.8A24.5,9.1 0 0 0 1282.3,727.8L1282.3,686.7Z" fill="url(#hs)"/><ellipse cx="1257.8" cy="686.7" rx="24.5" ry="9.1" fill="#4ca7d8"/><path d="M1234.2,686.7A23.7,8.5 0 0 1 1281.5,686.7" fill="none" stroke="#86c8ea" stroke-opacity="0.55" stroke-width="1.18"/><path d="M1286.5,686.7L1286.5,727.8A24.5,9.1 0 0 0 1335.5,727.8L1335.5,686.7Z" fill="url(#sb)"/><path d="M1286.5,686.7L1286.5,727.8A24.5,9.1 0 0 0 1335.5,727.8L1335.5,686.7Z" fill="url(#hs)"/><ellipse cx="1311.0" cy="686.7" rx="24.5" ry="9.1" fill="#4ca7d8"/><path d="M1287.3,686.7A23.7,8.5 0 0 1 1334.7,686.7" fill="none" stroke="#86c8ea" stroke-opacity="0.55" stroke-width="1.18"/><path d="M159.4,708.6L159.4,751.3A24.9,9.4 0 0 0 209.2,751.3L209.2,708.6Z" fill="url(#sb)"/><path d="M159.4,708.6L159.4,751.3A24.9,9.4 0 0 0 209.2,751.3L209.2,708.6Z" fill="url(#hs)"/><ellipse cx="184.3" cy="708.6" rx="24.9" ry="9.4" fill="#4ba7d8"/><path d="M160.2,708.6A24.1,8.8 0 0 1 208.4,708.6" fill="none" stroke="#86c8ea" stroke-opacity="0.55" stroke-width="1.20"/><path d="M213.5,708.6L213.5,751.3A24.9,9.4 0 0 0 263.3,751.3L263.3,708.6Z" fill="url(#sb)"/><path d="M213.5,708.6L213.5,751.3A24.9,9.4 0 0 0 263.3,751.3L263.3,708.6Z" fill="url(#hs)"/><ellipse cx="238.4" cy="708.6" rx="24.9" ry="9.4" fill="#4ba7d8"/><path d="M214.3,708.6A24.1,8.8 0 0 1 262.5,708.6" fill="none" stroke="#86c8ea" stroke-opacity="0.55" stroke-width="1.20"/><path d="M267.6,708.6L267.6,751.3A24.9,9.4 0 0 0 317.4,751.3L317.4,708.6Z" fill="url(#sw)"/><path d="M267.6,708.6L267.6,751.3A24.9,9.4 0 0 0 317.4,751.3L317.4,708.6Z" fill="url(#hs)"/><ellipse cx="292.5" cy="708.6" rx="24.9" ry="9.4" fill="#e1e1e1"/><path d="M268.4,708.6A24.1,8.8 0 0 1 316.6,708.6" fill="none" stroke="#f2f2f2" stroke-opacity="0.55" stroke-width="1.20"/><path d="M321.8,708.6L321.8,751.3A24.9,9.4 0 0 0 371.6,751.3L371.6,708.6Z" fill="url(#sw)"/><path d="M321.8,708.6L321.8,751.3A24.9,9.4 0 0 0 371.6,751.3L371.6,708.6Z" fill="url(#hs)"/><ellipse cx="346.7" cy="708.6" rx="24.9" ry="9.4" fill="#e1e1e1"/><path d="M322.6,708.6A24.1,8.8 0 0 1 370.8,708.6" fill="none" stroke="#f2f2f2" stroke-opacity="0.55" stroke-width="1.20"/><path d="M375.9,708.6L375.9,751.3A24.9,9.4 0 0 0 425.7,751.3L425.7,708.6Z" fill="url(#sw)"/><path d="M375.9,708.6L375.9,751.3A24.9,9.4 0 0 0 425.7,751.3L425.7,708.6Z" fill="url(#hs)"/><ellipse cx="400.8" cy="708.6" rx="24.9" ry="9.4" fill="#e1e1e1"/><path d="M376.7,708.6A24.1,8.8 0 0 1 424.9,708.6" fill="none" stroke="#f2f2f2" stroke-opacity="0.55" stroke-width="1.20"/><path d="M430.0,708.6L430.0,751.3A24.9,9.4 0 0 0 479.8,751.3L479.8,708.6Z" fill="url(#sw)"/><path d="M430.0,708.6L430.0,751.3A24.9,9.4 0 0 0 479.8,751.3L479.8,708.6Z" fill="url(#hs)"/><ellipse cx="454.9" cy="708.6" rx="24.9" ry="9.4" fill="#e1e1e1"/><path d="M430.8,708.6A24.1,8.8 0 0 1 479.0,708.6" fill="none" stroke="#f2f2f2" stroke-opacity="0.55" stroke-width="1.20"/><path d="M484.1,708.6L484.1,751.3A24.9,9.4 0 0 0 533.9,751.3L533.9,708.6Z" fill="url(#sw)"/><path d="M484.1,708.6L484.1,751.3A24.9,9.4 0 0 0 533.9,751.3L533.9,708.6Z" fill="url(#hs)"/><ellipse cx="509.0" cy="708.6" rx="24.9" ry="9.4" fill="#e1e1e1"/><path d="M484.9,708.6A24.1,8.8 0 0 1 533.1,708.6" fill="none" stroke="#f2f2f2" stroke-opacity="0.55" stroke-width="1.20"/><path d="M538.3,708.6L538.3,751.3A24.9,9.4 0 0 0 588.1,751.3L588.1,708.6Z" fill="url(#sw)"/><path d="M538.3,708.6L538.3,751.3A24.9,9.4 0 0 0 588.1,751.3L588.1,708.6Z" fill="url(#hs)"/><ellipse cx="563.2" cy="708.6" rx="24.9" ry="9.4" fill="#e1e1e1"/><path d="M539.1,708.6A24.1,8.8 0 0 1 587.3,708.6" fill="none" stroke="#f2f2f2" stroke-opacity="0.55" stroke-width="1.20"/><path d="M592.4,708.6L592.4,751.3A24.9,9.4 0 0 0 642.2,751.3L642.2,708.6Z" fill="url(#sw)"/><path d="M592.4,708.6L592.4,751.3A24.9,9.4 0 0 0 642.2,751.3L642.2,708.6Z" fill="url(#hs)"/><ellipse cx="617.3" cy="708.6" rx="24.9" ry="9.4" fill="#e1e1e1"/><path d="M593.2,708.6A24.1,8.8 0 0 1 641.4,708.6" fill="none" stroke="#f2f2f2" stroke-opacity="0.55" stroke-width="1.20"/><path d="M646.5,708.6L646.5,751.3A24.9,9.4 0 0 0 696.3,751.3L696.3,708.6Z" fill="url(#sw)"/><path d="M646.5,708.6L646.5,751.3A24.9,9.4 0 0 0 696.3,751.3L696.3,708.6Z" fill="url(#hs)"/><ellipse cx="671.4" cy="708.6" rx="24.9" ry="9.4" fill="#e1e1e1"/><path d="M647.3,708.6A24.1,8.8 0 0 1 695.5,708.6" fill="none" stroke="#f2f2f2" stroke-opacity="0.55" stroke-width="1.20"/><path d="M700.6,708.6L700.6,751.3A24.9,9.4 0 0 0 750.4,751.3L750.4,708.6Z" fill="url(#sw)"/><path d="M700.6,708.6L700.6,751.3A24.9,9.4 0 0 0 750.4,751.3L750.4,708.6Z" fill="url(#hs)"/><ellipse cx="725.5" cy="708.6" rx="24.9" ry="9.4" fill="#e1e1e1"/><path d="M701.4,708.6A24.1,8.8 0 0 1 749.6,708.6" fill="none" stroke="#f2f2f2" stroke-opacity="0.55" stroke-width="1.20"/><path d="M754.8,708.6L754.8,751.3A24.9,9.4 0 0 0 804.6,751.3L804.6,708.6Z" fill="url(#sw)"/><path d="M754.8,708.6L754.8,751.3A24.9,9.4 0 0 0 804.6,751.3L804.6,708.6Z" fill="url(#hs)"/><ellipse cx="779.7" cy="708.6" rx="24.9" ry="9.4" fill="#e1e1e1"/><path d="M755.6,708.6A24.1,8.8 0 0 1 803.8,708.6" fill="none" stroke="#f2f2f2" stroke-opacity="0.55" stroke-width="1.20"/><path d="M808.9,708.6L808.9,751.3A24.9,9.4 0 0 0 858.7,751.3L858.7,708.6Z" fill="url(#sw)"/><path d="M808.9,708.6L808.9,751.3A24.9,9.4 0 0 0 858.7,751.3L858.7,708.6Z" fill="url(#hs)"/><ellipse cx="833.8" cy="708.6" rx="24.9" ry="9.4" fill="#e1e1e1"/><path d="M809.7,708.6A24.1,8.8 0 0 1 857.9,708.6" fill="none" stroke="#f2f2f2" stroke-opacity="0.55" stroke-width="1.20"/><path d="M863.0,708.6L863.0,751.3A24.9,9.4 0 0 0 912.8,751.3L912.8,708.6Z" fill="url(#sw)"/><path d="M863.0,708.6L863.0,751.3A24.9,9.4 0 0 0 912.8,751.3L912.8,708.6Z" fill="url(#hs)"/><ellipse cx="887.9" cy="708.6" rx="24.9" ry="9.4" fill="#e1e1e1"/><path d="M863.8,708.6A24.1,8.8 0 0 1 912.0,708.6" fill="none" stroke="#f2f2f2" stroke-opacity="0.55" stroke-width="1.20"/><path d="M917.1,708.6L917.1,751.3A24.9,9.4 0 0 0 966.9,751.3L966.9,708.6Z" fill="url(#sw)"/><path d="M917.1,708.6L917.1,751.3A24.9,9.4 0 0 0 966.9,751.3L966.9,708.6Z" fill="url(#hs)"/><ellipse cx="942.0" cy="708.6" rx="24.9" ry="9.4" fill="#e1e1e1"/><path d="M917.9,708.6A24.1,8.8 0 0 1 966.1,708.6" fill="none" stroke="#f2f2f2" stroke-opacity="0.55" stroke-width="1.20"/><path d="M971.3,708.6L971.3,751.3A24.9,9.4 0 0 0 1021.1,751.3L1021.1,708.6Z" fill="url(#sw)"/><path d="M971.3,708.6L971.3,751.3A24.9,9.4 0 0 0 1021.1,751.3L1021.1,708.6Z" fill="url(#hs)"/><ellipse cx="996.2" cy="708.6" rx="24.9" ry="9.4" fill="#e1e1e1"/><path d="M972.1,708.6A24.1,8.8 0 0 1 1020.3,708.6" fill="none" stroke="#f2f2f2" stroke-opacity="0.55" stroke-width="1.20"/><path d="M1025.4,708.6L1025.4,751.3A24.9,9.4 0 0 0 1075.2,751.3L1075.2,708.6Z" fill="url(#sw)"/><path d="M1025.4,708.6L1025.4,751.3A24.9,9.4 0 0 0 1075.2,751.3L1075.2,708.6Z" fill="url(#hs)"/><ellipse cx="1050.3" cy="708.6" rx="24.9" ry="9.4" fill="#e1e1e1"/><path d="M1026.2,708.6A24.1,8.8 0 0 1 1074.4,708.6" fill="none" stroke="#f2f2f2" stroke-opacity="0.55" stroke-width="1.20"/><path d="M1079.5,708.6L1079.5,751.3A24.9,9.4 0 0 0 1129.3,751.3L1129.3,708.6Z" fill="url(#sw)"/><path d="M1079.5,708.6L1079.5,751.3A24.9,9.4 0 0 0 1129.3,751.3L1129.3,708.6Z" fill="url(#hs)"/><ellipse cx="1104.4" cy="708.6" rx="24.9" ry="9.4" fill="#e1e1e1"/><path d="M1080.3,708.6A24.1,8.8 0 0 1 1128.5,708.6" fill="none" stroke="#f2f2f2" stroke-opacity="0.55" stroke-width="1.20"/><path d="M1133.6,708.6L1133.6,751.3A24.9,9.4 0 0 0 1183.4,751.3L1183.4,708.6Z" fill="url(#sw)"/><path d="M1133.6,708.6L1133.6,751.3A24.9,9.4 0 0 0 1183.4,751.3L1183.4,708.6Z" fill="url(#hs)"/><ellipse cx="1158.5" cy="708.6" rx="24.9" ry="9.4" fill="#e1e1e1"/><path d="M1134.4,708.6A24.1,8.8 0 0 1 1182.6,708.6" fill="none" stroke="#f2f2f2" stroke-opacity="0.55" stroke-width="1.20"/><path d="M1187.8,708.6L1187.8,751.3A24.9,9.4 0 0 0 1237.6,751.3L1237.6,708.6Z" fill="url(#sw)"/><path d="M1187.8,708.6L1187.8,751.3A24.9,9.4 0 0 0 1237.6,751.3L1237.6,708.6Z" fill="url(#hs)"/><ellipse cx="1212.7" cy="708.6" rx="24.9" ry="9.4" fill="#e1e1e1"/><path d="M1188.6,708.6A24.1,8.8 0 0 1 1236.8,708.6" fill="none" stroke="#f2f2f2" stroke-opacity="0.55" stroke-width="1.20"/><path d="M1241.9,708.6L1241.9,751.3A24.9,9.4 0 0 0 1291.7,751.3L1291.7,708.6Z" fill="url(#sb)"/><path d="M1241.9,708.6L1241.9,751.3A24.9,9.4 0 0 0 1291.7,751.3L1291.7,708.6Z" fill="url(#hs)"/><ellipse cx="1266.8" cy="708.6" rx="24.9" ry="9.4" fill="#4ba7d8"/><path d="M1242.7,708.6A24.1,8.8 0 0 1 1290.9,708.6" fill="none" stroke="#86c8ea" stroke-opacity="0.55" stroke-width="1.20"/><path d="M1296.0,708.6L1296.0,751.3A24.9,9.4 0 0 0 1345.8,751.3L1345.8,708.6Z" fill="url(#sb)"/><path d="M1296.0,708.6L1296.0,751.3A24.9,9.4 0 0 0 1345.8,751.3L1345.8,708.6Z" fill="url(#hs)"/><ellipse cx="1320.9" cy="708.6" rx="24.9" ry="9.4" fill="#4ba7d8"/><path d="M1296.8,708.6A24.1,8.8 0 0 1 1345.0,708.6" fill="none" stroke="#86c8ea" stroke-opacity="0.55" stroke-width="1.20"/><path d="M148.7,731.4L148.7,775.7A25.3,9.7 0 0 0 199.3,775.7L199.3,731.4Z" fill="url(#sb)"/><path d="M148.7,731.4L148.7,775.7A25.3,9.7 0 0 0 199.3,775.7L199.3,731.4Z" fill="url(#hs)"/><ellipse cx="174.0" cy="731.4" rx="25.3" ry="9.7" fill="#4ba6d8"/><path d="M149.5,731.4A24.5,9.1 0 0 1 198.5,731.4" fill="none" stroke="#86c8ea" stroke-opacity="0.55" stroke-width="1.22"/><path d="M203.8,731.4L203.8,775.7A25.3,9.7 0 0 0 254.5,775.7L254.5,731.4Z" fill="url(#sb)"/><path d="M203.8,731.4L203.8,775.7A25.3,9.7 0 0 0 254.5,775.7L254.5,731.4Z" fill="url(#hs)"/><ellipse cx="229.1" cy="731.4" rx="25.3" ry="9.7" fill="#4ba6d8"/><path d="M204.6,731.4A24.5,9.1 0 0 1 253.7,731.4" fill="none" stroke="#86c8ea" stroke-opacity="0.55" stroke-width="1.22"/><path d="M258.9,731.4L258.9,775.7A25.3,9.7 0 0 0 309.6,775.7L309.6,731.4Z" fill="url(#sw)"/><path d="M258.9,731.4L258.9,775.7A25.3,9.7 0 0 0 309.6,775.7L309.6,731.4Z" fill="url(#hs)"/><ellipse cx="284.2" cy="731.4" rx="25.3" ry="9.7" fill="#e1e1e1"/><path d="M259.7,731.4A24.5,9.1 0 0 1 308.8,731.4" fill="none" stroke="#f2f2f2" stroke-opacity="0.55" stroke-width="1.22"/><path d="M314.0,731.4L314.0,775.7A25.3,9.7 0 0 0 364.7,775.7L364.7,731.4Z" fill="url(#sw)"/><path d="M314.0,731.4L314.0,775.7A25.3,9.7 0 0 0 364.7,775.7L364.7,731.4Z" fill="url(#hs)"/><ellipse cx="339.3" cy="731.4" rx="25.3" ry="9.7" fill="#e1e1e1"/><path d="M314.8,731.4A24.5,9.1 0 0 1 363.9,731.4" fill="none" stroke="#f2f2f2" stroke-opacity="0.55" stroke-width="1.22"/><path d="M369.1,731.4L369.1,775.7A25.3,9.7 0 0 0 419.8,775.7L419.8,731.4Z" fill="url(#sw)"/><path d="M369.1,731.4L369.1,775.7A25.3,9.7 0 0 0 419.8,775.7L419.8,731.4Z" fill="url(#hs)"/><ellipse cx="394.4" cy="731.4" rx="25.3" ry="9.7" fill="#e1e1e1"/><path d="M369.9,731.4A24.5,9.1 0 0 1 419.0,731.4" fill="none" stroke="#f2f2f2" stroke-opacity="0.55" stroke-width="1.22"/><path d="M424.2,731.4L424.2,775.7A25.3,9.7 0 0 0 474.9,775.7L474.9,731.4Z" fill="url(#sw)"/><path d="M424.2,731.4L424.2,775.7A25.3,9.7 0 0 0 474.9,775.7L474.9,731.4Z" fill="url(#hs)"/><ellipse cx="449.5" cy="731.4" rx="25.3" ry="9.7" fill="#e1e1e1"/><path d="M425.0,731.4A24.5,9.1 0 0 1 474.1,731.4" fill="none" stroke="#f2f2f2" stroke-opacity="0.55" stroke-width="1.22"/><path d="M479.3,731.4L479.3,775.7A25.3,9.7 0 0 0 530.0,775.7L530.0,731.4Z" fill="url(#sw)"/><path d="M479.3,731.4L479.3,775.7A25.3,9.7 0 0 0 530.0,775.7L530.0,731.4Z" fill="url(#hs)"/><ellipse cx="504.6" cy="731.4" rx="25.3" ry="9.7" fill="#e1e1e1"/><path d="M480.1,731.4A24.5,9.1 0 0 1 529.2,731.4" fill="none" stroke="#f2f2f2" stroke-opacity="0.55" stroke-width="1.22"/><path d="M534.4,731.4L534.4,775.7A25.3,9.7 0 0 0 585.1,775.7L585.1,731.4Z" fill="url(#sw)"/><path d="M534.4,731.4L534.4,775.7A25.3,9.7 0 0 0 585.1,775.7L585.1,731.4Z" fill="url(#hs)"/><ellipse cx="559.7" cy="731.4" rx="25.3" ry="9.7" fill="#e1e1e1"/><path d="M535.2,731.4A24.5,9.1 0 0 1 584.3,731.4" fill="none" stroke="#f2f2f2" stroke-opacity="0.55" stroke-width="1.22"/><path d="M589.5,731.4L589.5,775.7A25.3,9.7 0 0 0 640.2,775.7L640.2,731.4Z" fill="url(#sw)"/><path d="M589.5,731.4L589.5,775.7A25.3,9.7 0 0 0 640.2,775.7L640.2,731.4Z" fill="url(#hs)"/><ellipse cx="614.8" cy="731.4" rx="25.3" ry="9.7" fill="#e1e1e1"/><path d="M590.3,731.4A24.5,9.1 0 0 1 639.4,731.4" fill="none" stroke="#f2f2f2" stroke-opacity="0.55" stroke-width="1.22"/><path d="M644.6,731.4L644.6,775.7A25.3,9.7 0 0 0 695.3,775.7L695.3,731.4Z" fill="url(#sw)"/><path d="M644.6,731.4L644.6,775.7A25.3,9.7 0 0 0 695.3,775.7L695.3,731.4Z" fill="url(#hs)"/><ellipse cx="669.9" cy="731.4" rx="25.3" ry="9.7" fill="#e1e1e1"/><path d="M645.4,731.4A24.5,9.1 0 0 1 694.5,731.4" fill="none" stroke="#f2f2f2" stroke-opacity="0.55" stroke-width="1.22"/><path d="M699.7,731.4L699.7,775.7A25.3,9.7 0 0 0 750.4,775.7L750.4,731.4Z" fill="url(#sw)"/><path d="M699.7,731.4L699.7,775.7A25.3,9.7 0 0 0 750.4,775.7L750.4,731.4Z" fill="url(#hs)"/><ellipse cx="725.0" cy="731.4" rx="25.3" ry="9.7" fill="#e1e1e1"/><path d="M700.5,731.4A24.5,9.1 0 0 1 749.6,731.4" fill="none" stroke="#f2f2f2" stroke-opacity="0.55" stroke-width="1.22"/><path d="M754.8,731.4L754.8,775.7A25.3,9.7 0 0 0 805.5,775.7L805.5,731.4Z" fill="url(#sw)"/><path d="M754.8,731.4L754.8,775.7A25.3,9.7 0 0 0 805.5,775.7L805.5,731.4Z" fill="url(#hs)"/><ellipse cx="780.2" cy="731.4" rx="25.3" ry="9.7" fill="#e1e1e1"/><path d="M755.6,731.4A24.5,9.1 0 0 1 804.7,731.4" fill="none" stroke="#f2f2f2" stroke-opacity="0.55" stroke-width="1.22"/><path d="M809.9,731.4L809.9,775.7A25.3,9.7 0 0 0 860.6,775.7L860.6,731.4Z" fill="url(#sw)"/><path d="M809.9,731.4L809.9,775.7A25.3,9.7 0 0 0 860.6,775.7L860.6,731.4Z" fill="url(#hs)"/><ellipse cx="835.3" cy="731.4" rx="25.3" ry="9.7" fill="#e1e1e1"/><path d="M810.7,731.4A24.5,9.1 0 0 1 859.8,731.4" fill="none" stroke="#f2f2f2" stroke-opacity="0.55" stroke-width="1.22"/><path d="M865.0,731.4L865.0,775.7A25.3,9.7 0 0 0 915.7,775.7L915.7,731.4Z" fill="url(#sw)"/><path d="M865.0,731.4L865.0,775.7A25.3,9.7 0 0 0 915.7,775.7L915.7,731.4Z" fill="url(#hs)"/><ellipse cx="890.4" cy="731.4" rx="25.3" ry="9.7" fill="#e1e1e1"/><path d="M865.8,731.4A24.5,9.1 0 0 1 914.9,731.4" fill="none" stroke="#f2f2f2" stroke-opacity="0.55" stroke-width="1.22"/><path d="M920.1,731.4L920.1,775.7A25.3,9.7 0 0 0 970.8,775.7L970.8,731.4Z" fill="url(#sw)"/><path d="M920.1,731.4L920.1,775.7A25.3,9.7 0 0 0 970.8,775.7L970.8,731.4Z" fill="url(#hs)"/><ellipse cx="945.5" cy="731.4" rx="25.3" ry="9.7" fill="#e1e1e1"/><path d="M920.9,731.4A24.5,9.1 0 0 1 970.0,731.4" fill="none" stroke="#f2f2f2" stroke-opacity="0.55" stroke-width="1.22"/><path d="M975.2,731.4L975.2,775.7A25.3,9.7 0 0 0 1025.9,775.7L1025.9,731.4Z" fill="url(#sw)"/><path d="M975.2,731.4L975.2,775.7A25.3,9.7 0 0 0 1025.9,775.7L1025.9,731.4Z" fill="url(#hs)"/><ellipse cx="1000.6" cy="731.4" rx="25.3" ry="9.7" fill="#e1e1e1"/><path d="M976.0,731.4A24.5,9.1 0 0 1 1025.1,731.4" fill="none" stroke="#f2f2f2" stroke-opacity="0.55" stroke-width="1.22"/><path d="M1030.3,731.4L1030.3,775.7A25.3,9.7 0 0 0 1081.0,775.7L1081.0,731.4Z" fill="url(#sw)"/><path d="M1030.3,731.4L1030.3,775.7A25.3,9.7 0 0 0 1081.0,775.7L1081.0,731.4Z" fill="url(#hs)"/><ellipse cx="1055.7" cy="731.4" rx="25.3" ry="9.7" fill="#e1e1e1"/><path d="M1031.1,731.4A24.5,9.1 0 0 1 1080.2,731.4" fill="none" stroke="#f2f2f2" stroke-opacity="0.55" stroke-width="1.22"/><path d="M1085.4,731.4L1085.4,775.7A25.3,9.7 0 0 0 1136.1,775.7L1136.1,731.4Z" fill="url(#sw)"/><path d="M1085.4,731.4L1085.4,775.7A25.3,9.7 0 0 0 1136.1,775.7L1136.1,731.4Z" fill="url(#hs)"/><ellipse cx="1110.8" cy="731.4" rx="25.3" ry="9.7" fill="#e1e1e1"/><path d="M1086.2,731.4A24.5,9.1 0 0 1 1135.3,731.4" fill="none" stroke="#f2f2f2" stroke-opacity="0.55" stroke-width="1.22"/><path d="M1140.5,731.4L1140.5,775.7A25.3,9.7 0 0 0 1191.2,775.7L1191.2,731.4Z" fill="url(#sw)"/><path d="M1140.5,731.4L1140.5,775.7A25.3,9.7 0 0 0 1191.2,775.7L1191.2,731.4Z" fill="url(#hs)"/><ellipse cx="1165.9" cy="731.4" rx="25.3" ry="9.7" fill="#e1e1e1"/><path d="M1141.3,731.4A24.5,9.1 0 0 1 1190.4,731.4" fill="none" stroke="#f2f2f2" stroke-opacity="0.55" stroke-width="1.22"/><path d="M1195.6,731.4L1195.6,775.7A25.3,9.7 0 0 0 1246.3,775.7L1246.3,731.4Z" fill="url(#sw)"/><path d="M1195.6,731.4L1195.6,775.7A25.3,9.7 0 0 0 1246.3,775.7L1246.3,731.4Z" fill="url(#hs)"/><ellipse cx="1221.0" cy="731.4" rx="25.3" ry="9.7" fill="#e1e1e1"/><path d="M1196.4,731.4A24.5,9.1 0 0 1 1245.5,731.4" fill="none" stroke="#f2f2f2" stroke-opacity="0.55" stroke-width="1.22"/><path d="M1250.7,731.4L1250.7,775.7A25.3,9.7 0 0 0 1301.4,775.7L1301.4,731.4Z" fill="url(#sb)"/><path d="M1250.7,731.4L1250.7,775.7A25.3,9.7 0 0 0 1301.4,775.7L1301.4,731.4Z" fill="url(#hs)"/><ellipse cx="1276.1" cy="731.4" rx="25.3" ry="9.7" fill="#4ba6d8"/><path d="M1251.5,731.4A24.5,9.1 0 0 1 1300.6,731.4" fill="none" stroke="#86c8ea" stroke-opacity="0.55" stroke-width="1.22"/><path d="M1305.9,731.4L1305.9,775.7A25.3,9.7 0 0 0 1356.5,775.7L1356.5,731.4Z" fill="url(#sb)"/><path d="M1305.9,731.4L1305.9,775.7A25.3,9.7 0 0 0 1356.5,775.7L1356.5,731.4Z" fill="url(#hs)"/><ellipse cx="1331.2" cy="731.4" rx="25.3" ry="9.7" fill="#4ba6d8"/><path d="M1306.7,731.4A24.5,9.1 0 0 1 1355.7,731.4" fill="none" stroke="#86c8ea" stroke-opacity="0.55" stroke-width="1.22"/><path d="M137.5,755.1L137.5,801.0A25.8,10.1 0 0 0 189.2,801.0L189.2,755.1Z" fill="url(#sb)"/><path d="M137.5,755.1L137.5,801.0A25.8,10.1 0 0 0 189.2,801.0L189.2,755.1Z" fill="url(#hs)"/><ellipse cx="163.3" cy="755.1" rx="25.8" ry="10.1" fill="#4aa5d7"/><path d="M138.3,755.1A25.0,9.5 0 0 1 188.4,755.1" fill="none" stroke="#86c8ea" stroke-opacity="0.55" stroke-width="1.25"/><path d="M193.6,755.1L193.6,801.0A25.8,10.1 0 0 0 245.3,801.0L245.3,755.1Z" fill="url(#sb)"/><path d="M193.6,755.1L193.6,801.0A25.8,10.1 0 0 0 245.3,801.0L245.3,755.1Z" fill="url(#hs)"/><ellipse cx="219.5" cy="755.1" rx="25.8" ry="10.1" fill="#4aa5d7"/><path d="M194.4,755.1A25.0,9.5 0 0 1 244.5,755.1" fill="none" stroke="#86c8ea" stroke-opacity="0.55" stroke-width="1.25"/><path d="M249.8,755.1L249.8,801.0A25.8,10.1 0 0 0 301.4,801.0L301.4,755.1Z" fill="url(#sw)"/><path d="M249.8,755.1L249.8,801.0A25.8,10.1 0 0 0 301.4,801.0L301.4,755.1Z" fill="url(#hs)"/><ellipse cx="275.6" cy="755.1" rx="25.8" ry="10.1" fill="#e1e1e1"/><path d="M250.6,755.1A25.0,9.5 0 0 1 300.6,755.1" fill="none" stroke="#f2f2f2" stroke-opacity="0.55" stroke-width="1.25"/><path d="M305.9,755.1L305.9,801.0A25.8,10.1 0 0 0 357.5,801.0L357.5,755.1Z" fill="url(#sw)"/><path d="M305.9,755.1L305.9,801.0A25.8,10.1 0 0 0 357.5,801.0L357.5,755.1Z" fill="url(#hs)"/><ellipse cx="331.7" cy="755.1" rx="25.8" ry="10.1" fill="#e1e1e1"/><path d="M306.7,755.1A25.0,9.5 0 0 1 356.7,755.1" fill="none" stroke="#f2f2f2" stroke-opacity="0.55" stroke-width="1.25"/><path d="M362.0,755.1L362.0,801.0A25.8,10.1 0 0 0 413.6,801.0L413.6,755.1Z" fill="url(#sw)"/><path d="M362.0,755.1L362.0,801.0A25.8,10.1 0 0 0 413.6,801.0L413.6,755.1Z" fill="url(#hs)"/><ellipse cx="387.8" cy="755.1" rx="25.8" ry="10.1" fill="#e1e1e1"/><path d="M362.8,755.1A25.0,9.5 0 0 1 412.8,755.1" fill="none" stroke="#f2f2f2" stroke-opacity="0.55" stroke-width="1.25"/><path d="M418.1,755.1L418.1,801.0A25.8,10.1 0 0 0 469.8,801.0L469.8,755.1Z" fill="url(#sw)"/><path d="M418.1,755.1L418.1,801.0A25.8,10.1 0 0 0 469.8,801.0L469.8,755.1Z" fill="url(#hs)"/><ellipse cx="443.9" cy="755.1" rx="25.8" ry="10.1" fill="#e1e1e1"/><path d="M418.9,755.1A25.0,9.5 0 0 1 469.0,755.1" fill="none" stroke="#f2f2f2" stroke-opacity="0.55" stroke-width="1.25"/><path d="M474.2,755.1L474.2,801.0A25.8,10.1 0 0 0 525.9,801.0L525.9,755.1Z" fill="url(#sw)"/><path d="M474.2,755.1L474.2,801.0A25.8,10.1 0 0 0 525.9,801.0L525.9,755.1Z" fill="url(#hs)"/><ellipse cx="500.1" cy="755.1" rx="25.8" ry="10.1" fill="#e1e1e1"/><path d="M475.0,755.1A25.0,9.5 0 0 1 525.1,755.1" fill="none" stroke="#f2f2f2" stroke-opacity="0.55" stroke-width="1.25"/><path d="M530.4,755.1L530.4,801.0A25.8,10.1 0 0 0 582.0,801.0L582.0,755.1Z" fill="url(#sw)"/><path d="M530.4,755.1L530.4,801.0A25.8,10.1 0 0 0 582.0,801.0L582.0,755.1Z" fill="url(#hs)"/><ellipse cx="556.2" cy="755.1" rx="25.8" ry="10.1" fill="#e1e1e1"/><path d="M531.2,755.1A25.0,9.5 0 0 1 581.2,755.1" fill="none" stroke="#f2f2f2" stroke-opacity="0.55" stroke-width="1.25"/><path d="M586.5,755.1L586.5,801.0A25.8,10.1 0 0 0 638.1,801.0L638.1,755.1Z" fill="url(#sw)"/><path d="M586.5,755.1L586.5,801.0A25.8,10.1 0 0 0 638.1,801.0L638.1,755.1Z" fill="url(#hs)"/><ellipse cx="612.3" cy="755.1" rx="25.8" ry="10.1" fill="#e1e1e1"/><path d="M587.3,755.1A25.0,9.5 0 0 1 637.3,755.1" fill="none" stroke="#f2f2f2" stroke-opacity="0.55" stroke-width="1.25"/><path d="M642.6,755.1L642.6,801.0A25.8,10.1 0 0 0 694.2,801.0L694.2,755.1Z" fill="url(#sw)"/><path d="M642.6,755.1L642.6,801.0A25.8,10.1 0 0 0 694.2,801.0L694.2,755.1Z" fill="url(#hs)"/><ellipse cx="668.4" cy="755.1" rx="25.8" ry="10.1" fill="#e1e1e1"/><path d="M643.4,755.1A25.0,9.5 0 0 1 693.4,755.1" fill="none" stroke="#f2f2f2" stroke-opacity="0.55" stroke-width="1.25"/><path d="M698.7,755.1L698.7,801.0A25.8,10.1 0 0 0 750.4,801.0L750.4,755.1Z" fill="url(#sw)"/><path d="M698.7,755.1L698.7,801.0A25.8,10.1 0 0 0 750.4,801.0L750.4,755.1Z" fill="url(#hs)"/><ellipse cx="724.5" cy="755.1" rx="25.8" ry="10.1" fill="#e1e1e1"/><path d="M699.5,755.1A25.0,9.5 0 0 1 749.6,755.1" fill="none" stroke="#f2f2f2" stroke-opacity="0.55" stroke-width="1.25"/><path d="M754.8,755.1L754.8,801.0A25.8,10.1 0 0 0 806.5,801.0L806.5,755.1Z" fill="url(#sw)"/><path d="M754.8,755.1L754.8,801.0A25.8,10.1 0 0 0 806.5,801.0L806.5,755.1Z" fill="url(#hs)"/><ellipse cx="780.7" cy="755.1" rx="25.8" ry="10.1" fill="#e1e1e1"/><path d="M755.6,755.1A25.0,9.5 0 0 1 805.7,755.1" fill="none" stroke="#f2f2f2" stroke-opacity="0.55" stroke-width="1.25"/><path d="M811.0,755.1L811.0,801.0A25.8,10.1 0 0 0 862.6,801.0L862.6,755.1Z" fill="url(#sw)"/><path d="M811.0,755.1L811.0,801.0A25.8,10.1 0 0 0 862.6,801.0L862.6,755.1Z" fill="url(#hs)"/><ellipse cx="836.8" cy="755.1" rx="25.8" ry="10.1" fill="#e1e1e1"/><path d="M811.8,755.1A25.0,9.5 0 0 1 861.8,755.1" fill="none" stroke="#f2f2f2" stroke-opacity="0.55" stroke-width="1.25"/><path d="M867.1,755.1L867.1,801.0A25.8,10.1 0 0 0 918.7,801.0L918.7,755.1Z" fill="url(#sw)"/><path d="M867.1,755.1L867.1,801.0A25.8,10.1 0 0 0 918.7,801.0L918.7,755.1Z" fill="url(#hs)"/><ellipse cx="892.9" cy="755.1" rx="25.8" ry="10.1" fill="#e1e1e1"/><path d="M867.9,755.1A25.0,9.5 0 0 1 917.9,755.1" fill="none" stroke="#f2f2f2" stroke-opacity="0.55" stroke-width="1.25"/><path d="M923.2,755.1L923.2,801.0A25.8,10.1 0 0 0 974.8,801.0L974.8,755.1Z" fill="url(#sw)"/><path d="M923.2,755.1L923.2,801.0A25.8,10.1 0 0 0 974.8,801.0L974.8,755.1Z" fill="url(#hs)"/><ellipse cx="949.0" cy="755.1" rx="25.8" ry="10.1" fill="#e1e1e1"/><path d="M924.0,755.1A25.0,9.5 0 0 1 974.0,755.1" fill="none" stroke="#f2f2f2" stroke-opacity="0.55" stroke-width="1.25"/><path d="M979.3,755.1L979.3,801.0A25.8,10.1 0 0 0 1031.0,801.0L1031.0,755.1Z" fill="url(#sw)"/><path d="M979.3,755.1L979.3,801.0A25.8,10.1 0 0 0 1031.0,801.0L1031.0,755.1Z" fill="url(#hs)"/><ellipse cx="1005.1" cy="755.1" rx="25.8" ry="10.1" fill="#e1e1e1"/><path d="M980.1,755.1A25.0,9.5 0 0 1 1030.2,755.1" fill="none" stroke="#f2f2f2" stroke-opacity="0.55" stroke-width="1.25"/><path d="M1035.4,755.1L1035.4,801.0A25.8,10.1 0 0 0 1087.1,801.0L1087.1,755.1Z" fill="url(#sw)"/><path d="M1035.4,755.1L1035.4,801.0A25.8,10.1 0 0 0 1087.1,801.0L1087.1,755.1Z" fill="url(#hs)"/><ellipse cx="1061.3" cy="755.1" rx="25.8" ry="10.1" fill="#e1e1e1"/><path d="M1036.2,755.1A25.0,9.5 0 0 1 1086.3,755.1" fill="none" stroke="#f2f2f2" stroke-opacity="0.55" stroke-width="1.25"/><path d="M1091.6,755.1L1091.6,801.0A25.8,10.1 0 0 0 1143.2,801.0L1143.2,755.1Z" fill="url(#sw)"/><path d="M1091.6,755.1L1091.6,801.0A25.8,10.1 0 0 0 1143.2,801.0L1143.2,755.1Z" fill="url(#hs)"/><ellipse cx="1117.4" cy="755.1" rx="25.8" ry="10.1" fill="#e1e1e1"/><path d="M1092.4,755.1A25.0,9.5 0 0 1 1142.4,755.1" fill="none" stroke="#f2f2f2" stroke-opacity="0.55" stroke-width="1.25"/><path d="M1147.7,755.1L1147.7,801.0A25.8,10.1 0 0 0 1199.3,801.0L1199.3,755.1Z" fill="url(#sw)"/><path d="M1147.7,755.1L1147.7,801.0A25.8,10.1 0 0 0 1199.3,801.0L1199.3,755.1Z" fill="url(#hs)"/><ellipse cx="1173.5" cy="755.1" rx="25.8" ry="10.1" fill="#e1e1e1"/><path d="M1148.5,755.1A25.0,9.5 0 0 1 1198.5,755.1" fill="none" stroke="#f2f2f2" stroke-opacity="0.55" stroke-width="1.25"/><path d="M1203.8,755.1L1203.8,801.0A25.8,10.1 0 0 0 1255.4,801.0L1255.4,755.1Z" fill="url(#sw)"/><path d="M1203.8,755.1L1203.8,801.0A25.8,10.1 0 0 0 1255.4,801.0L1255.4,755.1Z" fill="url(#hs)"/><ellipse cx="1229.6" cy="755.1" rx="25.8" ry="10.1" fill="#e1e1e1"/><path d="M1204.6,755.1A25.0,9.5 0 0 1 1254.6,755.1" fill="none" stroke="#f2f2f2" stroke-opacity="0.55" stroke-width="1.25"/><path d="M1259.9,755.1L1259.9,801.0A25.8,10.1 0 0 0 1311.6,801.0L1311.6,755.1Z" fill="url(#sb)"/><path d="M1259.9,755.1L1259.9,801.0A25.8,10.1 0 0 0 1311.6,801.0L1311.6,755.1Z" fill="url(#hs)"/><ellipse cx="1285.7" cy="755.1" rx="25.8" ry="10.1" fill="#4aa5d7"/><path d="M1260.7,755.1A25.0,9.5 0 0 1 1310.8,755.1" fill="none" stroke="#86c8ea" stroke-opacity="0.55" stroke-width="1.25"/><path d="M1316.0,755.1L1316.0,801.0A25.8,10.1 0 0 0 1367.7,801.0L1367.7,755.1Z" fill="url(#sb)"/><path d="M1316.0,755.1L1316.0,801.0A25.8,10.1 0 0 0 1367.7,801.0L1367.7,755.1Z" fill="url(#hs)"/><ellipse cx="1341.9" cy="755.1" rx="25.8" ry="10.1" fill="#4aa5d7"/><path d="M1316.8,755.1A25.0,9.5 0 0 1 1366.9,755.1" fill="none" stroke="#86c8ea" stroke-opacity="0.55" stroke-width="1.25"/><path d="M126.0,779.6L126.0,827.3A26.3,10.5 0 0 0 178.6,827.3L178.6,779.6Z" fill="url(#sb)"/><path d="M126.0,779.6L126.0,827.3A26.3,10.5 0 0 0 178.6,827.3L178.6,779.6Z" fill="url(#hs)"/><ellipse cx="152.3" cy="779.6" rx="26.3" ry="10.5" fill="#49a5d7"/><path d="M126.8,779.6A25.5,9.9 0 0 1 177.8,779.6" fill="none" stroke="#86c8ea" stroke-opacity="0.55" stroke-width="1.27"/><path d="M183.2,779.6L183.2,827.3A26.3,10.5 0 0 0 235.8,827.3L235.8,779.6Z" fill="url(#sb)"/><path d="M183.2,779.6L183.2,827.3A26.3,10.5 0 0 0 235.8,827.3L235.8,779.6Z" fill="url(#hs)"/><ellipse cx="209.5" cy="779.6" rx="26.3" ry="10.5" fill="#49a5d7"/><path d="M184.0,779.6A25.5,9.9 0 0 1 235.0,779.6" fill="none" stroke="#86c8ea" stroke-opacity="0.55" stroke-width="1.27"/><path d="M240.3,779.6L240.3,827.3A26.3,10.5 0 0 0 292.9,827.3L292.9,779.6Z" fill="url(#sw)"/><path d="M240.3,779.6L240.3,827.3A26.3,10.5 0 0 0 292.9,827.3L292.9,779.6Z" fill="url(#hs)"/><ellipse cx="266.6" cy="779.6" rx="26.3" ry="10.5" fill="#e1e1e1"/><path d="M241.1,779.6A25.5,9.9 0 0 1 292.1,779.6" fill="none" stroke="#f2f2f2" stroke-opacity="0.55" stroke-width="1.27"/><path d="M297.5,779.6L297.5,827.3A26.3,10.5 0 0 0 350.1,827.3L350.1,779.6Z" fill="url(#sw)"/><path d="M297.5,779.6L297.5,827.3A26.3,10.5 0 0 0 350.1,827.3L350.1,779.6Z" fill="url(#hs)"/><ellipse cx="323.8" cy="779.6" rx="26.3" ry="10.5" fill="#e1e1e1"/><path d="M298.3,779.6A25.5,9.9 0 0 1 349.3,779.6" fill="none" stroke="#f2f2f2" stroke-opacity="0.55" stroke-width="1.27"/><path d="M354.7,779.6L354.7,827.3A26.3,10.5 0 0 0 407.3,827.3L407.3,779.6Z" fill="url(#sw)"/><path d="M354.7,779.6L354.7,827.3A26.3,10.5 0 0 0 407.3,827.3L407.3,779.6Z" fill="url(#hs)"/><ellipse cx="381.0" cy="779.6" rx="26.3" ry="10.5" fill="#e1e1e1"/><path d="M355.5,779.6A25.5,9.9 0 0 1 406.5,779.6" fill="none" stroke="#f2f2f2" stroke-opacity="0.55" stroke-width="1.27"/><path d="M411.9,779.6L411.9,827.3A26.3,10.5 0 0 0 464.5,827.3L464.5,779.6Z" fill="url(#sw)"/><path d="M411.9,779.6L411.9,827.3A26.3,10.5 0 0 0 464.5,827.3L464.5,779.6Z" fill="url(#hs)"/><ellipse cx="438.2" cy="779.6" rx="26.3" ry="10.5" fill="#e1e1e1"/><path d="M412.7,779.6A25.5,9.9 0 0 1 463.7,779.6" fill="none" stroke="#f2f2f2" stroke-opacity="0.55" stroke-width="1.27"/><path d="M469.0,779.6L469.0,827.3A26.3,10.5 0 0 0 521.6,827.3L521.6,779.6Z" fill="url(#sw)"/><path d="M469.0,779.6L469.0,827.3A26.3,10.5 0 0 0 521.6,827.3L521.6,779.6Z" fill="url(#hs)"/><ellipse cx="495.3" cy="779.6" rx="26.3" ry="10.5" fill="#e1e1e1"/><path d="M469.8,779.6A25.5,9.9 0 0 1 520.8,779.6" fill="none" stroke="#f2f2f2" stroke-opacity="0.55" stroke-width="1.27"/><path d="M526.2,779.6L526.2,827.3A26.3,10.5 0 0 0 578.8,827.3L578.8,779.6Z" fill="url(#sw)"/><path d="M526.2,779.6L526.2,827.3A26.3,10.5 0 0 0 578.8,827.3L578.8,779.6Z" fill="url(#hs)"/><ellipse cx="552.5" cy="779.6" rx="26.3" ry="10.5" fill="#e1e1e1"/><path d="M527.0,779.6A25.5,9.9 0 0 1 578.0,779.6" fill="none" stroke="#f2f2f2" stroke-opacity="0.55" stroke-width="1.27"/><path d="M583.4,779.6L583.4,827.3A26.3,10.5 0 0 0 636.0,827.3L636.0,779.6Z" fill="url(#sw)"/><path d="M583.4,779.6L583.4,827.3A26.3,10.5 0 0 0 636.0,827.3L636.0,779.6Z" fill="url(#hs)"/><ellipse cx="609.7" cy="779.6" rx="26.3" ry="10.5" fill="#e1e1e1"/><path d="M584.2,779.6A25.5,9.9 0 0 1 635.2,779.6" fill="none" stroke="#f2f2f2" stroke-opacity="0.55" stroke-width="1.27"/><path d="M640.5,779.6L640.5,827.3A26.3,10.5 0 0 0 693.1,827.3L693.1,779.6Z" fill="url(#sw)"/><path d="M640.5,779.6L640.5,827.3A26.3,10.5 0 0 0 693.1,827.3L693.1,779.6Z" fill="url(#hs)"/><ellipse cx="666.8" cy="779.6" rx="26.3" ry="10.5" fill="#e1e1e1"/><path d="M641.3,779.6A25.5,9.9 0 0 1 692.3,779.6" fill="none" stroke="#f2f2f2" stroke-opacity="0.55" stroke-width="1.27"/><path d="M697.7,779.6L697.7,827.3A26.3,10.5 0 0 0 750.3,827.3L750.3,779.6Z" fill="url(#sw)"/><path d="M697.7,779.6L697.7,827.3A26.3,10.5 0 0 0 750.3,827.3L750.3,779.6Z" fill="url(#hs)"/><ellipse cx="724.0" cy="779.6" rx="26.3" ry="10.5" fill="#e1e1e1"/><path d="M698.5,779.6A25.5,9.9 0 0 1 749.5,779.6" fill="none" stroke="#f2f2f2" stroke-opacity="0.55" stroke-width="1.27"/><path d="M754.9,779.6L754.9,827.3A26.3,10.5 0 0 0 807.5,827.3L807.5,779.6Z" fill="url(#sw)"/><path d="M754.9,779.6L754.9,827.3A26.3,10.5 0 0 0 807.5,827.3L807.5,779.6Z" fill="url(#hs)"/><ellipse cx="781.2" cy="779.6" rx="26.3" ry="10.5" fill="#e1e1e1"/><path d="M755.7,779.6A25.5,9.9 0 0 1 806.7,779.6" fill="none" stroke="#f2f2f2" stroke-opacity="0.55" stroke-width="1.27"/><path d="M812.1,779.6L812.1,827.3A26.3,10.5 0 0 0 864.7,827.3L864.7,779.6Z" fill="url(#sw)"/><path d="M812.1,779.6L812.1,827.3A26.3,10.5 0 0 0 864.7,827.3L864.7,779.6Z" fill="url(#hs)"/><ellipse cx="838.4" cy="779.6" rx="26.3" ry="10.5" fill="#e1e1e1"/><path d="M812.9,779.6A25.5,9.9 0 0 1 863.9,779.6" fill="none" stroke="#f2f2f2" stroke-opacity="0.55" stroke-width="1.27"/><path d="M869.2,779.6L869.2,827.3A26.3,10.5 0 0 0 921.8,827.3L921.8,779.6Z" fill="url(#sw)"/><path d="M869.2,779.6L869.2,827.3A26.3,10.5 0 0 0 921.8,827.3L921.8,779.6Z" fill="url(#hs)"/><ellipse cx="895.5" cy="779.6" rx="26.3" ry="10.5" fill="#e1e1e1"/><path d="M870.0,779.6A25.5,9.9 0 0 1 921.0,779.6" fill="none" stroke="#f2f2f2" stroke-opacity="0.55" stroke-width="1.27"/><path d="M926.4,779.6L926.4,827.3A26.3,10.5 0 0 0 979.0,827.3L979.0,779.6Z" fill="url(#sw)"/><path d="M926.4,779.6L926.4,827.3A26.3,10.5 0 0 0 979.0,827.3L979.0,779.6Z" fill="url(#hs)"/><ellipse cx="952.7" cy="779.6" rx="26.3" ry="10.5" fill="#e1e1e1"/><path d="M927.2,779.6A25.5,9.9 0 0 1 978.2,779.6" fill="none" stroke="#f2f2f2" stroke-opacity="0.55" stroke-width="1.27"/><path d="M983.6,779.6L983.6,827.3A26.3,10.5 0 0 0 1036.2,827.3L1036.2,779.6Z" fill="url(#sw)"/><path d="M983.6,779.6L983.6,827.3A26.3,10.5 0 0 0 1036.2,827.3L1036.2,779.6Z" fill="url(#hs)"/><ellipse cx="1009.9" cy="779.6" rx="26.3" ry="10.5" fill="#e1e1e1"/><path d="M984.4,779.6A25.5,9.9 0 0 1 1035.4,779.6" fill="none" stroke="#f2f2f2" stroke-opacity="0.55" stroke-width="1.27"/><path d="M1040.7,779.6L1040.7,827.3A26.3,10.5 0 0 0 1093.3,827.3L1093.3,779.6Z" fill="url(#sw)"/><path d="M1040.7,779.6L1040.7,827.3A26.3,10.5 0 0 0 1093.3,827.3L1093.3,779.6Z" fill="url(#hs)"/><ellipse cx="1067.0" cy="779.6" rx="26.3" ry="10.5" fill="#e1e1e1"/><path d="M1041.5,779.6A25.5,9.9 0 0 1 1092.5,779.6" fill="none" stroke="#f2f2f2" stroke-opacity="0.55" stroke-width="1.27"/><path d="M1097.9,779.6L1097.9,827.3A26.3,10.5 0 0 0 1150.5,827.3L1150.5,779.6Z" fill="url(#sw)"/><path d="M1097.9,779.6L1097.9,827.3A26.3,10.5 0 0 0 1150.5,827.3L1150.5,779.6Z" fill="url(#hs)"/><ellipse cx="1124.2" cy="779.6" rx="26.3" ry="10.5" fill="#e1e1e1"/><path d="M1098.7,779.6A25.5,9.9 0 0 1 1149.7,779.6" fill="none" stroke="#f2f2f2" stroke-opacity="0.55" stroke-width="1.27"/><path d="M1155.1,779.6L1155.1,827.3A26.3,10.5 0 0 0 1207.7,827.3L1207.7,779.6Z" fill="url(#sw)"/><path d="M1155.1,779.6L1155.1,827.3A26.3,10.5 0 0 0 1207.7,827.3L1207.7,779.6Z" fill="url(#hs)"/><ellipse cx="1181.4" cy="779.6" rx="26.3" ry="10.5" fill="#e1e1e1"/><path d="M1155.9,779.6A25.5,9.9 0 0 1 1206.9,779.6" fill="none" stroke="#f2f2f2" stroke-opacity="0.55" stroke-width="1.27"/><path d="M1212.3,779.6L1212.3,827.3A26.3,10.5 0 0 0 1264.9,827.3L1264.9,779.6Z" fill="url(#sw)"/><path d="M1212.3,779.6L1212.3,827.3A26.3,10.5 0 0 0 1264.9,827.3L1264.9,779.6Z" fill="url(#hs)"/><ellipse cx="1238.6" cy="779.6" rx="26.3" ry="10.5" fill="#e1e1e1"/><path d="M1213.1,779.6A25.5,9.9 0 0 1 1264.1,779.6" fill="none" stroke="#f2f2f2" stroke-opacity="0.55" stroke-width="1.27"/><path d="M1269.4,779.6L1269.4,827.3A26.3,10.5 0 0 0 1322.0,827.3L1322.0,779.6Z" fill="url(#sb)"/><path d="M1269.4,779.6L1269.4,827.3A26.3,10.5 0 0 0 1322.0,827.3L1322.0,779.6Z" fill="url(#hs)"/><ellipse cx="1295.7" cy="779.6" rx="26.3" ry="10.5" fill="#49a5d7"/><path d="M1270.2,779.6A25.5,9.9 0 0 1 1321.2,779.6" fill="none" stroke="#86c8ea" stroke-opacity="0.55" stroke-width="1.27"/><path d="M1326.6,779.6L1326.6,827.3A26.3,10.5 0 0 0 1379.2,827.3L1379.2,779.6Z" fill="url(#sb)"/><path d="M1326.6,779.6L1326.6,827.3A26.3,10.5 0 0 0 1379.2,827.3L1379.2,779.6Z" fill="url(#hs)"/><ellipse cx="1352.9" cy="779.6" rx="26.3" ry="10.5" fill="#49a5d7"/><path d="M1327.4,779.6A25.5,9.9 0 0 1 1378.4,779.6" fill="none" stroke="#86c8ea" stroke-opacity="0.55" stroke-width="1.27"/><path d="M114.0,805.1L114.0,854.6A26.8,10.9 0 0 0 167.6,854.6L167.6,805.1Z" fill="url(#sb)"/><path d="M114.0,805.1L114.0,854.6A26.8,10.9 0 0 0 167.6,854.6L167.6,805.1Z" fill="url(#hs)"/><ellipse cx="140.8" cy="805.1" rx="26.8" ry="10.9" fill="#48a4d7"/><path d="M114.8,805.1A26.0,10.3 0 0 1 166.8,805.1" fill="none" stroke="#86c8ea" stroke-opacity="0.55" stroke-width="1.29"/><path d="M172.3,805.1L172.3,854.6A26.8,10.9 0 0 0 225.9,854.6L225.9,805.1Z" fill="url(#sb)"/><path d="M172.3,805.1L172.3,854.6A26.8,10.9 0 0 0 225.9,854.6L225.9,805.1Z" fill="url(#hs)"/><ellipse cx="199.1" cy="805.1" rx="26.8" ry="10.9" fill="#48a4d7"/><path d="M173.1,805.1A26.0,10.3 0 0 1 225.1,805.1" fill="none" stroke="#86c8ea" stroke-opacity="0.55" stroke-width="1.29"/><path d="M230.5,805.1L230.5,854.6A26.8,10.9 0 0 0 284.1,854.6L284.1,805.1Z" fill="url(#sw)"/><path d="M230.5,805.1L230.5,854.6A26.8,10.9 0 0 0 284.1,854.6L284.1,805.1Z" fill="url(#hs)"/><ellipse cx="257.3" cy="805.1" rx="26.8" ry="10.9" fill="#e1e1e1"/><path d="M231.3,805.1A26.0,10.3 0 0 1 283.3,805.1" fill="none" stroke="#f2f2f2" stroke-opacity="0.55" stroke-width="1.29"/><path d="M288.8,805.1L288.8,854.6A26.8,10.9 0 0 0 342.4,854.6L342.4,805.1Z" fill="url(#sw)"/><path d="M288.8,805.1L288.8,854.6A26.8,10.9 0 0 0 342.4,854.6L342.4,805.1Z" fill="url(#hs)"/><ellipse cx="315.6" cy="805.1" rx="26.8" ry="10.9" fill="#e1e1e1"/><path d="M289.6,805.1A26.0,10.3 0 0 1 341.6,805.1" fill="none" stroke="#f2f2f2" stroke-opacity="0.55" stroke-width="1.29"/><path d="M347.1,805.1L347.1,854.6A26.8,10.9 0 0 0 400.7,854.6L400.7,805.1Z" fill="url(#sw)"/><path d="M347.1,805.1L347.1,854.6A26.8,10.9 0 0 0 400.7,854.6L400.7,805.1Z" fill="url(#hs)"/><ellipse cx="373.9" cy="805.1" rx="26.8" ry="10.9" fill="#e1e1e1"/><path d="M347.9,805.1A26.0,10.3 0 0 1 399.9,805.1" fill="none" stroke="#f2f2f2" stroke-opacity="0.55" stroke-width="1.29"/><path d="M405.3,805.1L405.3,854.6A26.8,10.9 0 0 0 458.9,854.6L458.9,805.1Z" fill="url(#sw)"/><path d="M405.3,805.1L405.3,854.6A26.8,10.9 0 0 0 458.9,854.6L458.9,805.1Z" fill="url(#hs)"/><ellipse cx="432.1" cy="805.1" rx="26.8" ry="10.9" fill="#e1e1e1"/><path d="M406.1,805.1A26.0,10.3 0 0 1 458.1,805.1" fill="none" stroke="#f2f2f2" stroke-opacity="0.55" stroke-width="1.29"/><path d="M463.6,805.1L463.6,854.6A26.8,10.9 0 0 0 517.2,854.6L517.2,805.1Z" fill="url(#sw)"/><path d="M463.6,805.1L463.6,854.6A26.8,10.9 0 0 0 517.2,854.6L517.2,805.1Z" fill="url(#hs)"/><ellipse cx="490.4" cy="805.1" rx="26.8" ry="10.9" fill="#e1e1e1"/><path d="M464.4,805.1A26.0,10.3 0 0 1 516.4,805.1" fill="none" stroke="#f2f2f2" stroke-opacity="0.55" stroke-width="1.29"/><path d="M521.9,805.1L521.9,854.6A26.8,10.9 0 0 0 575.5,854.6L575.5,805.1Z" fill="url(#sw)"/><path d="M521.9,805.1L521.9,854.6A26.8,10.9 0 0 0 575.5,854.6L575.5,805.1Z" fill="url(#hs)"/><ellipse cx="548.7" cy="805.1" rx="26.8" ry="10.9" fill="#e1e1e1"/><path d="M522.7,805.1A26.0,10.3 0 0 1 574.7,805.1" fill="none" stroke="#f2f2f2" stroke-opacity="0.55" stroke-width="1.29"/><path d="M580.1,805.1L580.1,854.6A26.8,10.9 0 0 0 633.7,854.6L633.7,805.1Z" fill="url(#sw)"/><path d="M580.1,805.1L580.1,854.6A26.8,10.9 0 0 0 633.7,854.6L633.7,805.1Z" fill="url(#hs)"/><ellipse cx="606.9" cy="805.1" rx="26.8" ry="10.9" fill="#e1e1e1"/><path d="M580.9,805.1A26.0,10.3 0 0 1 632.9,805.1" fill="none" stroke="#f2f2f2" stroke-opacity="0.55" stroke-width="1.29"/><path d="M638.4,805.1L638.4,854.6A26.8,10.9 0 0 0 692.0,854.6L692.0,805.1Z" fill="url(#sw)"/><path d="M638.4,805.1L638.4,854.6A26.8,10.9 0 0 0 692.0,854.6L692.0,805.1Z" fill="url(#hs)"/><ellipse cx="665.2" cy="805.1" rx="26.8" ry="10.9" fill="#e1e1e1"/><path d="M639.2,805.1A26.0,10.3 0 0 1 691.2,805.1" fill="none" stroke="#f2f2f2" stroke-opacity="0.55" stroke-width="1.29"/><path d="M696.7,805.1L696.7,854.6A26.8,10.9 0 0 0 750.3,854.6L750.3,805.1Z" fill="url(#sw)"/><path d="M696.7,805.1L696.7,854.6A26.8,10.9 0 0 0 750.3,854.6L750.3,805.1Z" fill="url(#hs)"/><ellipse cx="723.5" cy="805.1" rx="26.8" ry="10.9" fill="#e1e1e1"/><path d="M697.5,805.1A26.0,10.3 0 0 1 749.5,805.1" fill="none" stroke="#f2f2f2" stroke-opacity="0.55" stroke-width="1.29"/><path d="M754.9,805.1L754.9,854.6A26.8,10.9 0 0 0 808.5,854.6L808.5,805.1Z" fill="url(#sw)"/><path d="M754.9,805.1L754.9,854.6A26.8,10.9 0 0 0 808.5,854.6L808.5,805.1Z" fill="url(#hs)"/><ellipse cx="781.7" cy="805.1" rx="26.8" ry="10.9" fill="#e1e1e1"/><path d="M755.7,805.1A26.0,10.3 0 0 1 807.7,805.1" fill="none" stroke="#f2f2f2" stroke-opacity="0.55" stroke-width="1.29"/><path d="M813.2,805.1L813.2,854.6A26.8,10.9 0 0 0 866.8,854.6L866.8,805.1Z" fill="url(#sw)"/><path d="M813.2,805.1L813.2,854.6A26.8,10.9 0 0 0 866.8,854.6L866.8,805.1Z" fill="url(#hs)"/><ellipse cx="840.0" cy="805.1" rx="26.8" ry="10.9" fill="#e1e1e1"/><path d="M814.0,805.1A26.0,10.3 0 0 1 866.0,805.1" fill="none" stroke="#f2f2f2" stroke-opacity="0.55" stroke-width="1.29"/><path d="M871.5,805.1L871.5,854.6A26.8,10.9 0 0 0 925.1,854.6L925.1,805.1Z" fill="url(#sw)"/><path d="M871.5,805.1L871.5,854.6A26.8,10.9 0 0 0 925.1,854.6L925.1,805.1Z" fill="url(#hs)"/><ellipse cx="898.3" cy="805.1" rx="26.8" ry="10.9" fill="#e1e1e1"/><path d="M872.3,805.1A26.0,10.3 0 0 1 924.3,805.1" fill="none" stroke="#f2f2f2" stroke-opacity="0.55" stroke-width="1.29"/><path d="M929.7,805.1L929.7,854.6A26.8,10.9 0 0 0 983.3,854.6L983.3,805.1Z" fill="url(#sw)"/><path d="M929.7,805.1L929.7,854.6A26.8,10.9 0 0 0 983.3,854.6L983.3,805.1Z" fill="url(#hs)"/><ellipse cx="956.5" cy="805.1" rx="26.8" ry="10.9" fill="#e1e1e1"/><path d="M930.5,805.1A26.0,10.3 0 0 1 982.5,805.1" fill="none" stroke="#f2f2f2" stroke-opacity="0.55" stroke-width="1.29"/><path d="M988.0,805.1L988.0,854.6A26.8,10.9 0 0 0 1041.6,854.6L1041.6,805.1Z" fill="url(#sw)"/><path d="M988.0,805.1L988.0,854.6A26.8,10.9 0 0 0 1041.6,854.6L1041.6,805.1Z" fill="url(#hs)"/><ellipse cx="1014.8" cy="805.1" rx="26.8" ry="10.9" fill="#e1e1e1"/><path d="M988.8,805.1A26.0,10.3 0 0 1 1040.8,805.1" fill="none" stroke="#f2f2f2" stroke-opacity="0.55" stroke-width="1.29"/><path d="M1046.3,805.1L1046.3,854.6A26.8,10.9 0 0 0 1099.9,854.6L1099.9,805.1Z" fill="url(#sw)"/><path d="M1046.3,805.1L1046.3,854.6A26.8,10.9 0 0 0 1099.9,854.6L1099.9,805.1Z" fill="url(#hs)"/><ellipse cx="1073.1" cy="805.1" rx="26.8" ry="10.9" fill="#e1e1e1"/><path d="M1047.1,805.1A26.0,10.3 0 0 1 1099.1,805.1" fill="none" stroke="#f2f2f2" stroke-opacity="0.55" stroke-width="1.29"/><path d="M1104.5,805.1L1104.5,854.6A26.8,10.9 0 0 0 1158.1,854.6L1158.1,805.1Z" fill="url(#sw)"/><path d="M1104.5,805.1L1104.5,854.6A26.8,10.9 0 0 0 1158.1,854.6L1158.1,805.1Z" fill="url(#hs)"/><ellipse cx="1131.3" cy="805.1" rx="26.8" ry="10.9" fill="#e1e1e1"/><path d="M1105.3,805.1A26.0,10.3 0 0 1 1157.3,805.1" fill="none" stroke="#f2f2f2" stroke-opacity="0.55" stroke-width="1.29"/><path d="M1162.8,805.1L1162.8,854.6A26.8,10.9 0 0 0 1216.4,854.6L1216.4,805.1Z" fill="url(#sw)"/><path d="M1162.8,805.1L1162.8,854.6A26.8,10.9 0 0 0 1216.4,854.6L1216.4,805.1Z" fill="url(#hs)"/><ellipse cx="1189.6" cy="805.1" rx="26.8" ry="10.9" fill="#e1e1e1"/><path d="M1163.6,805.1A26.0,10.3 0 0 1 1215.6,805.1" fill="none" stroke="#f2f2f2" stroke-opacity="0.55" stroke-width="1.29"/><path d="M1221.1,805.1L1221.1,854.6A26.8,10.9 0 0 0 1274.7,854.6L1274.7,805.1Z" fill="url(#sw)"/><path d="M1221.1,805.1L1221.1,854.6A26.8,10.9 0 0 0 1274.7,854.6L1274.7,805.1Z" fill="url(#hs)"/><ellipse cx="1247.9" cy="805.1" rx="26.8" ry="10.9" fill="#e1e1e1"/><path d="M1221.9,805.1A26.0,10.3 0 0 1 1273.9,805.1" fill="none" stroke="#f2f2f2" stroke-opacity="0.55" stroke-width="1.29"/><path d="M1279.3,805.1L1279.3,854.6A26.8,10.9 0 0 0 1332.9,854.6L1332.9,805.1Z" fill="url(#sb)"/><path d="M1279.3,805.1L1279.3,854.6A26.8,10.9 0 0 0 1332.9,854.6L1332.9,805.1Z" fill="url(#hs)"/><ellipse cx="1306.1" cy="805.1" rx="26.8" ry="10.9" fill="#48a4d7"/><path d="M1280.1,805.1A26.0,10.3 0 0 1 1332.1,805.1" fill="none" stroke="#86c8ea" stroke-opacity="0.55" stroke-width="1.29"/><path d="M1337.6,805.1L1337.6,854.6A26.8,10.9 0 0 0 1391.2,854.6L1391.2,805.1Z" fill="url(#sb)"/><path d="M1337.6,805.1L1337.6,854.6A26.8,10.9 0 0 0 1391.2,854.6L1391.2,805.1Z" fill="url(#hs)"/><ellipse cx="1364.4" cy="805.1" rx="26.8" ry="10.9" fill="#48a4d7"/><path d="M1338.4,805.1A26.0,10.3 0 0 1 1390.4,805.1" fill="none" stroke="#86c8ea" stroke-opacity="0.55" stroke-width="1.29"/><path d="M101.6,831.6L101.6,883.1A27.3,11.3 0 0 0 156.2,883.1L156.2,831.6Z" fill="url(#sb)"/><path d="M101.6,831.6L101.6,883.1A27.3,11.3 0 0 0 156.2,883.1L156.2,831.6Z" fill="url(#hs)"/><ellipse cx="128.9" cy="831.6" rx="27.3" ry="11.3" fill="#47a4d7"/><path d="M102.4,831.6A26.5,10.7 0 0 1 155.4,831.6" fill="none" stroke="#86c8ea" stroke-opacity="0.55" stroke-width="1.32"/><path d="M161.0,831.6L161.0,883.1A27.3,11.3 0 0 0 215.6,883.1L215.6,831.6Z" fill="url(#sb)"/><path d="M161.0,831.6L161.0,883.1A27.3,11.3 0 0 0 215.6,883.1L215.6,831.6Z" fill="url(#hs)"/><ellipse cx="188.3" cy="831.6" rx="27.3" ry="11.3" fill="#47a4d7"/><path d="M161.8,831.6A26.5,10.7 0 0 1 214.8,831.6" fill="none" stroke="#86c8ea" stroke-opacity="0.55" stroke-width="1.32"/><path d="M220.4,831.6L220.4,883.1A27.3,11.3 0 0 0 275.0,883.1L275.0,831.6Z" fill="url(#sw)"/><path d="M220.4,831.6L220.4,883.1A27.3,11.3 0 0 0 275.0,883.1L275.0,831.6Z" fill="url(#hs)"/><ellipse cx="247.7" cy="831.6" rx="27.3" ry="11.3" fill="#e1e1e1"/><path d="M221.2,831.6A26.5,10.7 0 0 1 274.2,831.6" fill="none" stroke="#f2f2f2" stroke-opacity="0.55" stroke-width="1.32"/><path d="M279.8,831.6L279.8,883.1A27.3,11.3 0 0 0 334.4,883.1L334.4,831.6Z" fill="url(#sw)"/><path d="M279.8,831.6L279.8,883.1A27.3,11.3 0 0 0 334.4,883.1L334.4,831.6Z" fill="url(#hs)"/><ellipse cx="307.1" cy="831.6" rx="27.3" ry="11.3" fill="#e1e1e1"/><path d="M280.6,831.6A26.5,10.7 0 0 1 333.6,831.6" fill="none" stroke="#f2f2f2" stroke-opacity="0.55" stroke-width="1.32"/><path d="M339.2,831.6L339.2,883.1A27.3,11.3 0 0 0 393.8,883.1L393.8,831.6Z" fill="url(#sw)"/><path d="M339.2,831.6L339.2,883.1A27.3,11.3 0 0 0 393.8,883.1L393.8,831.6Z" fill="url(#hs)"/><ellipse cx="366.5" cy="831.6" rx="27.3" ry="11.3" fill="#e1e1e1"/><path d="M340.0,831.6A26.5,10.7 0 0 1 393.0,831.6" fill="none" stroke="#f2f2f2" stroke-opacity="0.55" stroke-width="1.32"/><path d="M398.6,831.6L398.6,883.1A27.3,11.3 0 0 0 453.2,883.1L453.2,831.6Z" fill="url(#sw)"/><path d="M398.6,831.6L398.6,883.1A27.3,11.3 0 0 0 453.2,883.1L453.2,831.6Z" fill="url(#hs)"/><ellipse cx="425.9" cy="831.6" rx="27.3" ry="11.3" fill="#e1e1e1"/><path d="M399.4,831.6A26.5,10.7 0 0 1 452.4,831.6" fill="none" stroke="#f2f2f2" stroke-opacity="0.55" stroke-width="1.32"/><path d="M458.0,831.6L458.0,883.1A27.3,11.3 0 0 0 512.6,883.1L512.6,831.6Z" fill="url(#sw)"/><path d="M458.0,831.6L458.0,883.1A27.3,11.3 0 0 0 512.6,883.1L512.6,831.6Z" fill="url(#hs)"/><ellipse cx="485.3" cy="831.6" rx="27.3" ry="11.3" fill="#e1e1e1"/><path d="M458.8,831.6A26.5,10.7 0 0 1 511.8,831.6" fill="none" stroke="#f2f2f2" stroke-opacity="0.55" stroke-width="1.32"/><path d="M517.4,831.6L517.4,883.1A27.3,11.3 0 0 0 572.0,883.1L572.0,831.6Z" fill="url(#sw)"/><path d="M517.4,831.6L517.4,883.1A27.3,11.3 0 0 0 572.0,883.1L572.0,831.6Z" fill="url(#hs)"/><ellipse cx="544.7" cy="831.6" rx="27.3" ry="11.3" fill="#e1e1e1"/><path d="M518.2,831.6A26.5,10.7 0 0 1 571.2,831.6" fill="none" stroke="#f2f2f2" stroke-opacity="0.55" stroke-width="1.32"/><path d="M576.8,831.6L576.8,883.1A27.3,11.3 0 0 0 631.4,883.1L631.4,831.6Z" fill="url(#sw)"/><path d="M576.8,831.6L576.8,883.1A27.3,11.3 0 0 0 631.4,883.1L631.4,831.6Z" fill="url(#hs)"/><ellipse cx="604.1" cy="831.6" rx="27.3" ry="11.3" fill="#e1e1e1"/><path d="M577.6,831.6A26.5,10.7 0 0 1 630.6,831.6" fill="none" stroke="#f2f2f2" stroke-opacity="0.55" stroke-width="1.32"/><path d="M636.2,831.6L636.2,883.1A27.3,11.3 0 0 0 690.8,883.1L690.8,831.6Z" fill="url(#sw)"/><path d="M636.2,831.6L636.2,883.1A27.3,11.3 0 0 0 690.8,883.1L690.8,831.6Z" fill="url(#hs)"/><ellipse cx="663.5" cy="831.6" rx="27.3" ry="11.3" fill="#e1e1e1"/><path d="M637.0,831.6A26.5,10.7 0 0 1 690.0,831.6" fill="none" stroke="#f2f2f2" stroke-opacity="0.55" stroke-width="1.32"/><path d="M695.6,831.6L695.6,883.1A27.3,11.3 0 0 0 750.2,883.1L750.2,831.6Z" fill="url(#sw)"/><path d="M695.6,831.6L695.6,883.1A27.3,11.3 0 0 0 750.2,883.1L750.2,831.6Z" fill="url(#hs)"/><ellipse cx="722.9" cy="831.6" rx="27.3" ry="11.3" fill="#e1e1e1"/><path d="M696.4,831.6A26.5,10.7 0 0 1 749.4,831.6" fill="none" stroke="#f2f2f2" stroke-opacity="0.55" stroke-width="1.32"/><path d="M755.0,831.6L755.0,883.1A27.3,11.3 0 0 0 809.6,883.1L809.6,831.6Z" fill="url(#sw)"/><path d="M755.0,831.6L755.0,883.1A27.3,11.3 0 0 0 809.6,883.1L809.6,831.6Z" fill="url(#hs)"/><ellipse cx="782.3" cy="831.6" rx="27.3" ry="11.3" fill="#e1e1e1"/><path d="M755.8,831.6A26.5,10.7 0 0 1 808.8,831.6" fill="none" stroke="#f2f2f2" stroke-opacity="0.55" stroke-width="1.32"/><path d="M814.4,831.6L814.4,883.1A27.3,11.3 0 0 0 869.0,883.1L869.0,831.6Z" fill="url(#sw)"/><path d="M814.4,831.6L814.4,883.1A27.3,11.3 0 0 0 869.0,883.1L869.0,831.6Z" fill="url(#hs)"/><ellipse cx="841.7" cy="831.6" rx="27.3" ry="11.3" fill="#e1e1e1"/><path d="M815.2,831.6A26.5,10.7 0 0 1 868.2,831.6" fill="none" stroke="#f2f2f2" stroke-opacity="0.55" stroke-width="1.32"/><path d="M873.8,831.6L873.8,883.1A27.3,11.3 0 0 0 928.4,883.1L928.4,831.6Z" fill="url(#sw)"/><path d="M873.8,831.6L873.8,883.1A27.3,11.3 0 0 0 928.4,883.1L928.4,831.6Z" fill="url(#hs)"/><ellipse cx="901.1" cy="831.6" rx="27.3" ry="11.3" fill="#e1e1e1"/><path d="M874.6,831.6A26.5,10.7 0 0 1 927.6,831.6" fill="none" stroke="#f2f2f2" stroke-opacity="0.55" stroke-width="1.32"/><path d="M933.2,831.6L933.2,883.1A27.3,11.3 0 0 0 987.8,883.1L987.8,831.6Z" fill="url(#sw)"/><path d="M933.2,831.6L933.2,883.1A27.3,11.3 0 0 0 987.8,883.1L987.8,831.6Z" fill="url(#hs)"/><ellipse cx="960.5" cy="831.6" rx="27.3" ry="11.3" fill="#e1e1e1"/><path d="M934.0,831.6A26.5,10.7 0 0 1 987.0,831.6" fill="none" stroke="#f2f2f2" stroke-opacity="0.55" stroke-width="1.32"/><path d="M992.6,831.6L992.6,883.1A27.3,11.3 0 0 0 1047.2,883.1L1047.2,831.6Z" fill="url(#sw)"/><path d="M992.6,831.6L992.6,883.1A27.3,11.3 0 0 0 1047.2,883.1L1047.2,831.6Z" fill="url(#hs)"/><ellipse cx="1019.9" cy="831.6" rx="27.3" ry="11.3" fill="#e1e1e1"/><path d="M993.4,831.6A26.5,10.7 0 0 1 1046.4,831.6" fill="none" stroke="#f2f2f2" stroke-opacity="0.55" stroke-width="1.32"/><path d="M1052.0,831.6L1052.0,883.1A27.3,11.3 0 0 0 1106.6,883.1L1106.6,831.6Z" fill="url(#sw)"/><path d="M1052.0,831.6L1052.0,883.1A27.3,11.3 0 0 0 1106.6,883.1L1106.6,831.6Z" fill="url(#hs)"/><ellipse cx="1079.3" cy="831.6" rx="27.3" ry="11.3" fill="#e1e1e1"/><path d="M1052.8,831.6A26.5,10.7 0 0 1 1105.8,831.6" fill="none" stroke="#f2f2f2" stroke-opacity="0.55" stroke-width="1.32"/><path d="M1111.4,831.6L1111.4,883.1A27.3,11.3 0 0 0 1166.0,883.1L1166.0,831.6Z" fill="url(#sw)"/><path d="M1111.4,831.6L1111.4,883.1A27.3,11.3 0 0 0 1166.0,883.1L1166.0,831.6Z" fill="url(#hs)"/><ellipse cx="1138.7" cy="831.6" rx="27.3" ry="11.3" fill="#e1e1e1"/><path d="M1112.2,831.6A26.5,10.7 0 0 1 1165.2,831.6" fill="none" stroke="#f2f2f2" stroke-opacity="0.55" stroke-width="1.32"/><path d="M1170.8,831.6L1170.8,883.1A27.3,11.3 0 0 0 1225.4,883.1L1225.4,831.6Z" fill="url(#sw)"/><path d="M1170.8,831.6L1170.8,883.1A27.3,11.3 0 0 0 1225.4,883.1L1225.4,831.6Z" fill="url(#hs)"/><ellipse cx="1198.1" cy="831.6" rx="27.3" ry="11.3" fill="#e1e1e1"/><path d="M1171.6,831.6A26.5,10.7 0 0 1 1224.6,831.6" fill="none" stroke="#f2f2f2" stroke-opacity="0.55" stroke-width="1.32"/><path d="M1230.2,831.6L1230.2,883.1A27.3,11.3 0 0 0 1284.8,883.1L1284.8,831.6Z" fill="url(#sw)"/><path d="M1230.2,831.6L1230.2,883.1A27.3,11.3 0 0 0 1284.8,883.1L1284.8,831.6Z" fill="url(#hs)"/><ellipse cx="1257.5" cy="831.6" rx="27.3" ry="11.3" fill="#e1e1e1"/><path d="M1231.0,831.6A26.5,10.7 0 0 1 1284.0,831.6" fill="none" stroke="#f2f2f2" stroke-opacity="0.55" stroke-width="1.32"/><path d="M1289.6,831.6L1289.6,883.1A27.3,11.3 0 0 0 1344.2,883.1L1344.2,831.6Z" fill="url(#sb)"/><path d="M1289.6,831.6L1289.6,883.1A27.3,11.3 0 0 0 1344.2,883.1L1344.2,831.6Z" fill="url(#hs)"/><ellipse cx="1316.9" cy="831.6" rx="27.3" ry="11.3" fill="#47a4d7"/><path d="M1290.4,831.6A26.5,10.7 0 0 1 1343.4,831.6" fill="none" stroke="#86c8ea" stroke-opacity="0.55" stroke-width="1.32"/><path d="M1349.0,831.6L1349.0,883.1A27.3,11.3 0 0 0 1403.6,883.1L1403.6,831.6Z" fill="url(#sb)"/><path d="M1349.0,831.6L1349.0,883.1A27.3,11.3 0 0 0 1403.6,883.1L1403.6,831.6Z" fill="url(#hs)"/><ellipse cx="1376.3" cy="831.6" rx="27.3" ry="11.3" fill="#47a4d7"/><path d="M1349.8,831.6A26.5,10.7 0 0 1 1402.8,831.6" fill="none" stroke="#86c8ea" stroke-opacity="0.55" stroke-width="1.32"/><path d="M88.6,859.1L88.6,912.7A27.9,11.7 0 0 0 144.4,912.7L144.4,859.1Z" fill="url(#sb)"/><path d="M88.6,859.1L88.6,912.7A27.9,11.7 0 0 0 144.4,912.7L144.4,859.1Z" fill="url(#hs)"/><ellipse cx="116.5" cy="859.1" rx="27.9" ry="11.7" fill="#46a3d7"/><path d="M89.4,859.1A27.1,11.1 0 0 1 143.6,859.1" fill="none" stroke="#86c8ea" stroke-opacity="0.55" stroke-width="1.35"/><path d="M149.2,859.1L149.2,912.7A27.9,11.7 0 0 0 204.9,912.7L204.9,859.1Z" fill="url(#sb)"/><path d="M149.2,859.1L149.2,912.7A27.9,11.7 0 0 0 204.9,912.7L204.9,859.1Z" fill="url(#hs)"/><ellipse cx="177.1" cy="859.1" rx="27.9" ry="11.7" fill="#46a3d7"/><path d="M150.0,859.1A27.1,11.1 0 0 1 204.1,859.1" fill="none" stroke="#86c8ea" stroke-opacity="0.55" stroke-width="1.35"/><path d="M209.8,859.1L209.8,912.7A27.9,11.7 0 0 0 265.5,912.7L265.5,859.1Z" fill="url(#sw)"/><path d="M209.8,859.1L209.8,912.7A27.9,11.7 0 0 0 265.5,912.7L265.5,859.1Z" fill="url(#hs)"/><ellipse cx="237.7" cy="859.1" rx="27.9" ry="11.7" fill="#e1e1e1"/><path d="M210.6,859.1A27.1,11.1 0 0 1 264.7,859.1" fill="none" stroke="#f2f2f2" stroke-opacity="0.55" stroke-width="1.35"/><path d="M270.4,859.1L270.4,912.7A27.9,11.7 0 0 0 326.1,912.7L326.1,859.1Z" fill="url(#sw)"/><path d="M270.4,859.1L270.4,912.7A27.9,11.7 0 0 0 326.1,912.7L326.1,859.1Z" fill="url(#hs)"/><ellipse cx="298.2" cy="859.1" rx="27.9" ry="11.7" fill="#e1e1e1"/><path d="M271.2,859.1A27.1,11.1 0 0 1 325.3,859.1" fill="none" stroke="#f2f2f2" stroke-opacity="0.55" stroke-width="1.35"/><path d="M331.0,859.1L331.0,912.7A27.9,11.7 0 0 0 386.7,912.7L386.7,859.1Z" fill="url(#sw)"/><path d="M331.0,859.1L331.0,912.7A27.9,11.7 0 0 0 386.7,912.7L386.7,859.1Z" fill="url(#hs)"/><ellipse cx="358.8" cy="859.1" rx="27.9" ry="11.7" fill="#e1e1e1"/><path d="M331.8,859.1A27.1,11.1 0 0 1 385.9,859.1" fill="none" stroke="#f2f2f2" stroke-opacity="0.55" stroke-width="1.35"/><path d="M391.5,859.1L391.5,912.7A27.9,11.7 0 0 0 447.3,912.7L447.3,859.1Z" fill="url(#sw)"/><path d="M391.5,859.1L391.5,912.7A27.9,11.7 0 0 0 447.3,912.7L447.3,859.1Z" fill="url(#hs)"/><ellipse cx="419.4" cy="859.1" rx="27.9" ry="11.7" fill="#e1e1e1"/><path d="M392.3,859.1A27.1,11.1 0 0 1 446.5,859.1" fill="none" stroke="#f2f2f2" stroke-opacity="0.55" stroke-width="1.35"/><path d="M452.1,859.1L452.1,912.7A27.9,11.7 0 0 0 507.8,912.7L507.8,859.1Z" fill="url(#sw)"/><path d="M452.1,859.1L452.1,912.7A27.9,11.7 0 0 0 507.8,912.7L507.8,859.1Z" fill="url(#hs)"/><ellipse cx="480.0" cy="859.1" rx="27.9" ry="11.7" fill="#e1e1e1"/><path d="M452.9,859.1A27.1,11.1 0 0 1 507.0,859.1" fill="none" stroke="#f2f2f2" stroke-opacity="0.55" stroke-width="1.35"/><path d="M512.7,859.1L512.7,912.7A27.9,11.7 0 0 0 568.4,912.7L568.4,859.1Z" fill="url(#sw)"/><path d="M512.7,859.1L512.7,912.7A27.9,11.7 0 0 0 568.4,912.7L568.4,859.1Z" fill="url(#hs)"/><ellipse cx="540.6" cy="859.1" rx="27.9" ry="11.7" fill="#e1e1e1"/><path d="M513.5,859.1A27.1,11.1 0 0 1 567.6,859.1" fill="none" stroke="#f2f2f2" stroke-opacity="0.55" stroke-width="1.35"/><path d="M573.3,859.1L573.3,912.7A27.9,11.7 0 0 0 629.0,912.7L629.0,859.1Z" fill="url(#sw)"/><path d="M573.3,859.1L573.3,912.7A27.9,11.7 0 0 0 629.0,912.7L629.0,859.1Z" fill="url(#hs)"/><ellipse cx="601.1" cy="859.1" rx="27.9" ry="11.7" fill="#e1e1e1"/><path d="M574.1,859.1A27.1,11.1 0 0 1 628.2,859.1" fill="none" stroke="#f2f2f2" stroke-opacity="0.55" stroke-width="1.35"/><path d="M633.9,859.1L633.9,912.7A27.9,11.7 0 0 0 689.6,912.7L689.6,859.1Z" fill="url(#sw)"/><path d="M633.9,859.1L633.9,912.7A27.9,11.7 0 0 0 689.6,912.7L689.6,859.1Z" fill="url(#hs)"/><ellipse cx="661.7" cy="859.1" rx="27.9" ry="11.7" fill="#e1e1e1"/><path d="M634.7,859.1A27.1,11.1 0 0 1 688.8,859.1" fill="none" stroke="#f2f2f2" stroke-opacity="0.55" stroke-width="1.35"/><path d="M694.4,859.1L694.4,912.7A27.9,11.7 0 0 0 750.2,912.7L750.2,859.1Z" fill="url(#sw)"/><path d="M694.4,859.1L694.4,912.7A27.9,11.7 0 0 0 750.2,912.7L750.2,859.1Z" fill="url(#hs)"/><ellipse cx="722.3" cy="859.1" rx="27.9" ry="11.7" fill="#e1e1e1"/><path d="M695.2,859.1A27.1,11.1 0 0 1 749.4,859.1" fill="none" stroke="#f2f2f2" stroke-opacity="0.55" stroke-width="1.35"/><path d="M755.0,859.1L755.0,912.7A27.9,11.7 0 0 0 810.8,912.7L810.8,859.1Z" fill="url(#sw)"/><path d="M755.0,859.1L755.0,912.7A27.9,11.7 0 0 0 810.8,912.7L810.8,859.1Z" fill="url(#hs)"/><ellipse cx="782.9" cy="859.1" rx="27.9" ry="11.7" fill="#e1e1e1"/><path d="M755.8,859.1A27.1,11.1 0 0 1 810.0,859.1" fill="none" stroke="#f2f2f2" stroke-opacity="0.55" stroke-width="1.35"/><path d="M815.6,859.1L815.6,912.7A27.9,11.7 0 0 0 871.3,912.7L871.3,859.1Z" fill="url(#sw)"/><path d="M815.6,859.1L815.6,912.7A27.9,11.7 0 0 0 871.3,912.7L871.3,859.1Z" fill="url(#hs)"/><ellipse cx="843.5" cy="859.1" rx="27.9" ry="11.7" fill="#e1e1e1"/><path d="M816.4,859.1A27.1,11.1 0 0 1 870.5,859.1" fill="none" stroke="#f2f2f2" stroke-opacity="0.55" stroke-width="1.35"/><path d="M876.2,859.1L876.2,912.7A27.9,11.7 0 0 0 931.9,912.7L931.9,859.1Z" fill="url(#sw)"/><path d="M876.2,859.1L876.2,912.7A27.9,11.7 0 0 0 931.9,912.7L931.9,859.1Z" fill="url(#hs)"/><ellipse cx="904.1" cy="859.1" rx="27.9" ry="11.7" fill="#e1e1e1"/><path d="M877.0,859.1A27.1,11.1 0 0 1 931.1,859.1" fill="none" stroke="#f2f2f2" stroke-opacity="0.55" stroke-width="1.35"/><path d="M936.8,859.1L936.8,912.7A27.9,11.7 0 0 0 992.5,912.7L992.5,859.1Z" fill="url(#sw)"/><path d="M936.8,859.1L936.8,912.7A27.9,11.7 0 0 0 992.5,912.7L992.5,859.1Z" fill="url(#hs)"/><ellipse cx="964.6" cy="859.1" rx="27.9" ry="11.7" fill="#e1e1e1"/><path d="M937.6,859.1A27.1,11.1 0 0 1 991.7,859.1" fill="none" stroke="#f2f2f2" stroke-opacity="0.55" stroke-width="1.35"/><path d="M997.4,859.1L997.4,912.7A27.9,11.7 0 0 0 1053.1,912.7L1053.1,859.1Z" fill="url(#sw)"/><path d="M997.4,859.1L997.4,912.7A27.9,11.7 0 0 0 1053.1,912.7L1053.1,859.1Z" fill="url(#hs)"/><ellipse cx="1025.2" cy="859.1" rx="27.9" ry="11.7" fill="#e1e1e1"/><path d="M998.2,859.1A27.1,11.1 0 0 1 1052.3,859.1" fill="none" stroke="#f2f2f2" stroke-opacity="0.55" stroke-width="1.35"/><path d="M1057.9,859.1L1057.9,912.7A27.9,11.7 0 0 0 1113.7,912.7L1113.7,859.1Z" fill="url(#sw)"/><path d="M1057.9,859.1L1057.9,912.7A27.9,11.7 0 0 0 1113.7,912.7L1113.7,859.1Z" fill="url(#hs)"/><ellipse cx="1085.8" cy="859.1" rx="27.9" ry="11.7" fill="#e1e1e1"/><path d="M1058.7,859.1A27.1,11.1 0 0 1 1112.9,859.1" fill="none" stroke="#f2f2f2" stroke-opacity="0.55" stroke-width="1.35"/><path d="M1118.5,859.1L1118.5,912.7A27.9,11.7 0 0 0 1174.2,912.7L1174.2,859.1Z" fill="url(#sw)"/><path d="M1118.5,859.1L1118.5,912.7A27.9,11.7 0 0 0 1174.2,912.7L1174.2,859.1Z" fill="url(#hs)"/><ellipse cx="1146.4" cy="859.1" rx="27.9" ry="11.7" fill="#e1e1e1"/><path d="M1119.3,859.1A27.1,11.1 0 0 1 1173.4,859.1" fill="none" stroke="#f2f2f2" stroke-opacity="0.55" stroke-width="1.35"/><path d="M1179.1,859.1L1179.1,912.7A27.9,11.7 0 0 0 1234.8,912.7L1234.8,859.1Z" fill="url(#sw)"/><path d="M1179.1,859.1L1179.1,912.7A27.9,11.7 0 0 0 1234.8,912.7L1234.8,859.1Z" fill="url(#hs)"/><ellipse cx="1207.0" cy="859.1" rx="27.9" ry="11.7" fill="#e1e1e1"/><path d="M1179.9,859.1A27.1,11.1 0 0 1 1234.0,859.1" fill="none" stroke="#f2f2f2" stroke-opacity="0.55" stroke-width="1.35"/><path d="M1239.7,859.1L1239.7,912.7A27.9,11.7 0 0 0 1295.4,912.7L1295.4,859.1Z" fill="url(#sw)"/><path d="M1239.7,859.1L1239.7,912.7A27.9,11.7 0 0 0 1295.4,912.7L1295.4,859.1Z" fill="url(#hs)"/><ellipse cx="1267.5" cy="859.1" rx="27.9" ry="11.7" fill="#e1e1e1"/><path d="M1240.5,859.1A27.1,11.1 0 0 1 1294.6,859.1" fill="none" stroke="#f2f2f2" stroke-opacity="0.55" stroke-width="1.35"/><path d="M1300.3,859.1L1300.3,912.7A27.9,11.7 0 0 0 1356.0,912.7L1356.0,859.1Z" fill="url(#sb)"/><path d="M1300.3,859.1L1300.3,912.7A27.9,11.7 0 0 0 1356.0,912.7L1356.0,859.1Z" fill="url(#hs)"/><ellipse cx="1328.1" cy="859.1" rx="27.9" ry="11.7" fill="#46a3d7"/><path d="M1301.1,859.1A27.1,11.1 0 0 1 1355.2,859.1" fill="none" stroke="#86c8ea" stroke-opacity="0.55" stroke-width="1.35"/><path d="M1360.8,859.1L1360.8,912.7A27.9,11.7 0 0 0 1416.6,912.7L1416.6,859.1Z" fill="url(#sb)"/><path d="M1360.8,859.1L1360.8,912.7A27.9,11.7 0 0 0 1416.6,912.7L1416.6,859.1Z" fill="url(#hs)"/><ellipse cx="1388.7" cy="859.1" rx="27.9" ry="11.7" fill="#46a3d7"/><path d="M1361.6,859.1A27.1,11.1 0 0 1 1415.8,859.1" fill="none" stroke="#86c8ea" stroke-opacity="0.55" stroke-width="1.35"/><path d="M75.2,887.8L75.2,943.6A28.4,12.2 0 0 0 132.0,943.6L132.0,887.8Z" fill="url(#sb)"/><path d="M75.2,887.8L75.2,943.6A28.4,12.2 0 0 0 132.0,943.6L132.0,887.8Z" fill="url(#hs)"/><ellipse cx="103.6" cy="887.8" rx="28.4" ry="12.2" fill="#46a3d7"/><path d="M76.0,887.8A27.6,11.6 0 0 1 131.2,887.8" fill="none" stroke="#86c8ea" stroke-opacity="0.55" stroke-width="1.37"/><path d="M137.0,887.8L137.0,943.6A28.4,12.2 0 0 0 193.8,943.6L193.8,887.8Z" fill="url(#sb)"/><path d="M137.0,887.8L137.0,943.6A28.4,12.2 0 0 0 193.8,943.6L193.8,887.8Z" fill="url(#hs)"/><ellipse cx="165.4" cy="887.8" rx="28.4" ry="12.2" fill="#46a3d7"/><path d="M137.8,887.8A27.6,11.6 0 0 1 193.0,887.8" fill="none" stroke="#86c8ea" stroke-opacity="0.55" stroke-width="1.37"/><path d="M198.8,887.8L198.8,943.6A28.4,12.2 0 0 0 255.6,943.6L255.6,887.8Z" fill="url(#sb)"/><path d="M198.8,887.8L198.8,943.6A28.4,12.2 0 0 0 255.6,943.6L255.6,887.8Z" fill="url(#hs)"/><ellipse cx="227.2" cy="887.8" rx="28.4" ry="12.2" fill="#46a3d7"/><path d="M199.6,887.8A27.6,11.6 0 0 1 254.8,887.8" fill="none" stroke="#86c8ea" stroke-opacity="0.55" stroke-width="1.37"/><path d="M260.6,887.8L260.6,943.6A28.4,12.2 0 0 0 317.5,943.6L317.5,887.8Z" fill="url(#sb)"/><path d="M260.6,887.8L260.6,943.6A28.4,12.2 0 0 0 317.5,943.6L317.5,887.8Z" fill="url(#hs)"/><ellipse cx="289.0" cy="887.8" rx="28.4" ry="12.2" fill="#46a3d7"/><path d="M261.4,887.8A27.6,11.6 0 0 1 316.7,887.8" fill="none" stroke="#86c8ea" stroke-opacity="0.55" stroke-width="1.37"/><path d="M322.4,887.8L322.4,943.6A28.4,12.2 0 0 0 379.3,943.6L379.3,887.8Z" fill="url(#sb)"/><path d="M322.4,887.8L322.4,943.6A28.4,12.2 0 0 0 379.3,943.6L379.3,887.8Z" fill="url(#hs)"/><ellipse cx="350.8" cy="887.8" rx="28.4" ry="12.2" fill="#46a3d7"/><path d="M323.2,887.8A27.6,11.6 0 0 1 378.5,887.8" fill="none" stroke="#86c8ea" stroke-opacity="0.55" stroke-width="1.37"/><path d="M384.2,887.8L384.2,943.6A28.4,12.2 0 0 0 441.1,943.6L441.1,887.8Z" fill="url(#sb)"/><path d="M384.2,887.8L384.2,943.6A28.4,12.2 0 0 0 441.1,943.6L441.1,887.8Z" fill="url(#hs)"/><ellipse cx="412.6" cy="887.8" rx="28.4" ry="12.2" fill="#46a3d7"/><path d="M385.0,887.8A27.6,11.6 0 0 1 440.3,887.8" fill="none" stroke="#86c8ea" stroke-opacity="0.55" stroke-width="1.37"/><path d="M446.0,887.8L446.0,943.6A28.4,12.2 0 0 0 502.9,943.6L502.9,887.8Z" fill="url(#sb)"/><path d="M446.0,887.8L446.0,943.6A28.4,12.2 0 0 0 502.9,943.6L502.9,887.8Z" fill="url(#hs)"/><ellipse cx="474.5" cy="887.8" rx="28.4" ry="12.2" fill="#46a3d7"/><path d="M446.8,887.8A27.6,11.6 0 0 1 502.1,887.8" fill="none" stroke="#86c8ea" stroke-opacity="0.55" stroke-width="1.37"/><path d="M507.8,887.8L507.8,943.6A28.4,12.2 0 0 0 564.7,943.6L564.7,887.8Z" fill="url(#sb)"/><path d="M507.8,887.8L507.8,943.6A28.4,12.2 0 0 0 564.7,943.6L564.7,887.8Z" fill="url(#hs)"/><ellipse cx="536.3" cy="887.8" rx="28.4" ry="12.2" fill="#46a3d7"/><path d="M508.6,887.8A27.6,11.6 0 0 1 563.9,887.8" fill="none" stroke="#86c8ea" stroke-opacity="0.55" stroke-width="1.37"/><path d="M569.6,887.8L569.6,943.6A28.4,12.2 0 0 0 626.5,943.6L626.5,887.8Z" fill="url(#sb)"/><path d="M569.6,887.8L569.6,943.6A28.4,12.2 0 0 0 626.5,943.6L626.5,887.8Z" fill="url(#hs)"/><ellipse cx="598.1" cy="887.8" rx="28.4" ry="12.2" fill="#46a3d7"/><path d="M570.4,887.8A27.6,11.6 0 0 1 625.7,887.8" fill="none" stroke="#86c8ea" stroke-opacity="0.55" stroke-width="1.37"/><path d="M631.5,887.8L631.5,943.6A28.4,12.2 0 0 0 688.3,943.6L688.3,887.8Z" fill="url(#sb)"/><path d="M631.5,887.8L631.5,943.6A28.4,12.2 0 0 0 688.3,943.6L688.3,887.8Z" fill="url(#hs)"/><ellipse cx="659.9" cy="887.8" rx="28.4" ry="12.2" fill="#46a3d7"/><path d="M632.3,887.8A27.6,11.6 0 0 1 687.5,887.8" fill="none" stroke="#86c8ea" stroke-opacity="0.55" stroke-width="1.37"/><path d="M693.3,887.8L693.3,943.6A28.4,12.2 0 0 0 750.1,943.6L750.1,887.8Z" fill="url(#sb)"/><path d="M693.3,887.8L693.3,943.6A28.4,12.2 0 0 0 750.1,943.6L750.1,887.8Z" fill="url(#hs)"/><ellipse cx="721.7" cy="887.8" rx="28.4" ry="12.2" fill="#46a3d7"/><path d="M694.1,887.8A27.6,11.6 0 0 1 749.3,887.8" fill="none" stroke="#86c8ea" stroke-opacity="0.55" stroke-width="1.37"/><path d="M755.1,887.8L755.1,943.6A28.4,12.2 0 0 0 811.9,943.6L811.9,887.8Z" fill="url(#sb)"/><path d="M755.1,887.8L755.1,943.6A28.4,12.2 0 0 0 811.9,943.6L811.9,887.8Z" fill="url(#hs)"/><ellipse cx="783.5" cy="887.8" rx="28.4" ry="12.2" fill="#46a3d7"/><path d="M755.9,887.8A27.6,11.6 0 0 1 811.1,887.8" fill="none" stroke="#86c8ea" stroke-opacity="0.55" stroke-width="1.37"/><path d="M816.9,887.8L816.9,943.6A28.4,12.2 0 0 0 873.7,943.6L873.7,887.8Z" fill="url(#sb)"/><path d="M816.9,887.8L816.9,943.6A28.4,12.2 0 0 0 873.7,943.6L873.7,887.8Z" fill="url(#hs)"/><ellipse cx="845.3" cy="887.8" rx="28.4" ry="12.2" fill="#46a3d7"/><path d="M817.7,887.8A27.6,11.6 0 0 1 872.9,887.8" fill="none" stroke="#86c8ea" stroke-opacity="0.55" stroke-width="1.37"/><path d="M878.7,887.8L878.7,943.6A28.4,12.2 0 0 0 935.6,943.6L935.6,887.8Z" fill="url(#sb)"/><path d="M878.7,887.8L878.7,943.6A28.4,12.2 0 0 0 935.6,943.6L935.6,887.8Z" fill="url(#hs)"/><ellipse cx="907.1" cy="887.8" rx="28.4" ry="12.2" fill="#46a3d7"/><path d="M879.5,887.8A27.6,11.6 0 0 1 934.8,887.8" fill="none" stroke="#86c8ea" stroke-opacity="0.55" stroke-width="1.37"/><path d="M940.5,887.8L940.5,943.6A28.4,12.2 0 0 0 997.4,943.6L997.4,887.8Z" fill="url(#sb)"/><path d="M940.5,887.8L940.5,943.6A28.4,12.2 0 0 0 997.4,943.6L997.4,887.8Z" fill="url(#hs)"/><ellipse cx="968.9" cy="887.8" rx="28.4" ry="12.2" fill="#46a3d7"/><path d="M941.3,887.8A27.6,11.6 0 0 1 996.6,887.8" fill="none" stroke="#86c8ea" stroke-opacity="0.55" stroke-width="1.37"/><path d="M1002.3,887.8L1002.3,943.6A28.4,12.2 0 0 0 1059.2,943.6L1059.2,887.8Z" fill="url(#sb)"/><path d="M1002.3,887.8L1002.3,943.6A28.4,12.2 0 0 0 1059.2,943.6L1059.2,887.8Z" fill="url(#hs)"/><ellipse cx="1030.7" cy="887.8" rx="28.4" ry="12.2" fill="#46a3d7"/><path d="M1003.1,887.8A27.6,11.6 0 0 1 1058.4,887.8" fill="none" stroke="#86c8ea" stroke-opacity="0.55" stroke-width="1.37"/><path d="M1064.1,887.8L1064.1,943.6A28.4,12.2 0 0 0 1121.0,943.6L1121.0,887.8Z" fill="url(#sb)"/><path d="M1064.1,887.8L1064.1,943.6A28.4,12.2 0 0 0 1121.0,943.6L1121.0,887.8Z" fill="url(#hs)"/><ellipse cx="1092.6" cy="887.8" rx="28.4" ry="12.2" fill="#46a3d7"/><path d="M1064.9,887.8A27.6,11.6 0 0 1 1120.2,887.8" fill="none" stroke="#86c8ea" stroke-opacity="0.55" stroke-width="1.37"/><path d="M1125.9,887.8L1125.9,943.6A28.4,12.2 0 0 0 1182.8,943.6L1182.8,887.8Z" fill="url(#sb)"/><path d="M1125.9,887.8L1125.9,943.6A28.4,12.2 0 0 0 1182.8,943.6L1182.8,887.8Z" fill="url(#hs)"/><ellipse cx="1154.4" cy="887.8" rx="28.4" ry="12.2" fill="#46a3d7"/><path d="M1126.7,887.8A27.6,11.6 0 0 1 1182.0,887.8" fill="none" stroke="#86c8ea" stroke-opacity="0.55" stroke-width="1.37"/><path d="M1187.7,887.8L1187.7,943.6A28.4,12.2 0 0 0 1244.6,943.6L1244.6,887.8Z" fill="url(#sb)"/><path d="M1187.7,887.8L1187.7,943.6A28.4,12.2 0 0 0 1244.6,943.6L1244.6,887.8Z" fill="url(#hs)"/><ellipse cx="1216.2" cy="887.8" rx="28.4" ry="12.2" fill="#46a3d7"/><path d="M1188.5,887.8A27.6,11.6 0 0 1 1243.8,887.8" fill="none" stroke="#86c8ea" stroke-opacity="0.55" stroke-width="1.37"/><path d="M1249.6,887.8L1249.6,943.6A28.4,12.2 0 0 0 1306.4,943.6L1306.4,887.8Z" fill="url(#sb)"/><path d="M1249.6,887.8L1249.6,943.6A28.4,12.2 0 0 0 1306.4,943.6L1306.4,887.8Z" fill="url(#hs)"/><ellipse cx="1278.0" cy="887.8" rx="28.4" ry="12.2" fill="#46a3d7"/><path d="M1250.4,887.8A27.6,11.6 0 0 1 1305.6,887.8" fill="none" stroke="#86c8ea" stroke-opacity="0.55" stroke-width="1.37"/><path d="M1311.4,887.8L1311.4,943.6A28.4,12.2 0 0 0 1368.2,943.6L1368.2,887.8Z" fill="url(#sb)"/><path d="M1311.4,887.8L1311.4,943.6A28.4,12.2 0 0 0 1368.2,943.6L1368.2,887.8Z" fill="url(#hs)"/><ellipse cx="1339.8" cy="887.8" rx="28.4" ry="12.2" fill="#46a3d7"/><path d="M1312.2,887.8A27.6,11.6 0 0 1 1367.4,887.8" fill="none" stroke="#86c8ea" stroke-opacity="0.55" stroke-width="1.37"/><path d="M1373.2,887.8L1373.2,943.6A28.4,12.2 0 0 0 1430.0,943.6L1430.0,887.8Z" fill="url(#sb)"/><path d="M1373.2,887.8L1373.2,943.6A28.4,12.2 0 0 0 1430.0,943.6L1430.0,887.8Z" fill="url(#hs)"/><ellipse cx="1401.6" cy="887.8" rx="28.4" ry="12.2" fill="#46a3d7"/><path d="M1374.0,887.8A27.6,11.6 0 0 1 1429.2,887.8" fill="none" stroke="#86c8ea" stroke-opacity="0.55" stroke-width="1.37"/><path d="M61.1,917.7L61.1,1092.7A29.0,12.7 0 0 0 119.2,1092.7L119.2,917.7Z" fill="url(#fr)"/><ellipse cx="90.2" cy="917.7" rx="29.0" ry="12.7" fill="#48a3d6"/><path d="M61.9,917.7A28.2,12.1 0 0 1 118.4,917.7" fill="none" stroke="#7cc3ea" stroke-opacity="0.55" stroke-width="1.40"/><path d="M62.1,964.9Q90.2,969.9 118.2,964.9" fill="none" stroke="#0d5f94" stroke-opacity="0.22" stroke-width="1.2"/><path d="M62.1,966.4Q90.2,971.4 118.2,966.4" fill="none" stroke="#5ab4e4" stroke-opacity="0.25" stroke-width="1.2"/><path d="M62.1,999.9Q90.2,1004.9 118.2,999.9" fill="none" stroke="#0d5f94" stroke-opacity="0.22" stroke-width="1.2"/><path d="M62.1,1001.4Q90.2,1006.4 118.2,1001.4" fill="none" stroke="#5ab4e4" stroke-opacity="0.25" stroke-width="1.2"/><path d="M62.1,1033.2Q90.2,1038.2 118.2,1033.2" fill="none" stroke="#0d5f94" stroke-opacity="0.22" stroke-width="1.2"/><path d="M62.1,1034.7Q90.2,1039.7 118.2,1034.7" fill="none" stroke="#5ab4e4" stroke-opacity="0.25" stroke-width="1.2"/><path d="M62.1,1064.7Q90.2,1069.7 118.2,1064.7" fill="none" stroke="#0d5f94" stroke-opacity="0.22" stroke-width="1.2"/><path d="M62.1,1066.2Q90.2,1071.2 118.2,1066.2" fill="none" stroke="#5ab4e4" stroke-opacity="0.25" stroke-width="1.2"/><path d="M124.2,917.7L124.2,1092.7A29.0,12.7 0 0 0 182.3,1092.7L182.3,917.7Z" fill="url(#fr)"/><ellipse cx="153.2" cy="917.7" rx="29.0" ry="12.7" fill="#48a3d6"/><path d="M125.0,917.7A28.2,12.1 0 0 1 181.5,917.7" fill="none" stroke="#7cc3ea" stroke-opacity="0.55" stroke-width="1.40"/><path d="M125.2,964.9Q153.2,969.9 181.3,964.9" fill="none" stroke="#0d5f94" stroke-opacity="0.22" stroke-width="1.2"/><path d="M125.2,966.4Q153.2,971.4 181.3,966.4" fill="none" stroke="#5ab4e4" stroke-opacity="0.25" stroke-width="1.2"/><path d="M125.2,999.9Q153.2,1004.9 181.3,999.9" fill="none" stroke="#0d5f94" stroke-opacity="0.22" stroke-width="1.2"/><path d="M125.2,1001.4Q153.2,1006.4 181.3,1001.4" fill="none" stroke="#5ab4e4" stroke-opacity="0.25" stroke-width="1.2"/><path d="M125.2,1033.2Q153.2,1038.2 181.3,1033.2" fill="none" stroke="#0d5f94" stroke-opacity="0.22" stroke-width="1.2"/><path d="M125.2,1034.7Q153.2,1039.7 181.3,1034.7" fill="none" stroke="#5ab4e4" stroke-opacity="0.25" stroke-width="1.2"/><path d="M125.2,1064.7Q153.2,1069.7 181.3,1064.7" fill="none" stroke="#0d5f94" stroke-opacity="0.22" stroke-width="1.2"/><path d="M125.2,1066.2Q153.2,1071.2 181.3,1066.2" fill="none" stroke="#5ab4e4" stroke-opacity="0.25" stroke-width="1.2"/><path d="M187.3,917.7L187.3,1092.7A29.0,12.7 0 0 0 245.4,1092.7L245.4,917.7Z" fill="url(#fr)"/><ellipse cx="216.3" cy="917.7" rx="29.0" ry="12.7" fill="#48a3d6"/><path d="M188.1,917.7A28.2,12.1 0 0 1 244.6,917.7" fill="none" stroke="#7cc3ea" stroke-opacity="0.55" stroke-width="1.40"/><path d="M188.3,964.9Q216.3,969.9 244.4,964.9" fill="none" stroke="#0d5f94" stroke-opacity="0.22" stroke-width="1.2"/><path d="M188.3,966.4Q216.3,971.4 244.4,966.4" fill="none" stroke="#5ab4e4" stroke-opacity="0.25" stroke-width="1.2"/><path d="M188.3,999.9Q216.3,1004.9 244.4,999.9" fill="none" stroke="#0d5f94" stroke-opacity="0.22" stroke-width="1.2"/><path d="M188.3,1001.4Q216.3,1006.4 244.4,1001.4" fill="none" stroke="#5ab4e4" stroke-opacity="0.25" stroke-width="1.2"/><path d="M188.3,1033.2Q216.3,1038.2 244.4,1033.2" fill="none" stroke="#0d5f94" stroke-opacity="0.22" stroke-width="1.2"/><path d="M188.3,1034.7Q216.3,1039.7 244.4,1034.7" fill="none" stroke="#5ab4e4" stroke-opacity="0.25" stroke-width="1.2"/><path d="M188.3,1064.7Q216.3,1069.7 244.4,1064.7" fill="none" stroke="#0d5f94" stroke-opacity="0.22" stroke-width="1.2"/><path d="M188.3,1066.2Q216.3,1071.2 244.4,1066.2" fill="none" stroke="#5ab4e4" stroke-opacity="0.25" stroke-width="1.2"/><path d="M250.4,917.7L250.4,1092.7A29.0,12.7 0 0 0 308.4,1092.7L308.4,917.7Z" fill="url(#fr)"/><ellipse cx="279.4" cy="917.7" rx="29.0" ry="12.7" fill="#48a3d6"/><path d="M251.2,917.7A28.2,12.1 0 0 1 307.6,917.7" fill="none" stroke="#7cc3ea" stroke-opacity="0.55" stroke-width="1.40"/><path d="M251.4,964.9Q279.4,969.9 307.4,964.9" fill="none" stroke="#0d5f94" stroke-opacity="0.22" stroke-width="1.2"/><path d="M251.4,966.4Q279.4,971.4 307.4,966.4" fill="none" stroke="#5ab4e4" stroke-opacity="0.25" stroke-width="1.2"/><path d="M251.4,999.9Q279.4,1004.9 307.4,999.9" fill="none" stroke="#0d5f94" stroke-opacity="0.22" stroke-width="1.2"/><path d="M251.4,1001.4Q279.4,1006.4 307.4,1001.4" fill="none" stroke="#5ab4e4" stroke-opacity="0.25" stroke-width="1.2"/><path d="M251.4,1033.2Q279.4,1038.2 307.4,1033.2" fill="none" stroke="#0d5f94" stroke-opacity="0.22" stroke-width="1.2"/><path d="M251.4,1034.7Q279.4,1039.7 307.4,1034.7" fill="none" stroke="#5ab4e4" stroke-opacity="0.25" stroke-width="1.2"/><path d="M251.4,1064.7Q279.4,1069.7 307.4,1064.7" fill="none" stroke="#0d5f94" stroke-opacity="0.22" stroke-width="1.2"/><path d="M251.4,1066.2Q279.4,1071.2 307.4,1066.2" fill="none" stroke="#5ab4e4" stroke-opacity="0.25" stroke-width="1.2"/><path d="M313.5,917.7L313.5,1092.7A29.0,12.7 0 0 0 371.5,1092.7L371.5,917.7Z" fill="url(#fr)"/><ellipse cx="342.5" cy="917.7" rx="29.0" ry="12.7" fill="#48a3d6"/><path d="M314.3,917.7A28.2,12.1 0 0 1 370.7,917.7" fill="none" stroke="#7cc3ea" stroke-opacity="0.55" stroke-width="1.40"/><path d="M314.5,964.9Q342.5,969.9 370.5,964.9" fill="none" stroke="#0d5f94" stroke-opacity="0.22" stroke-width="1.2"/><path d="M314.5,966.4Q342.5,971.4 370.5,966.4" fill="none" stroke="#5ab4e4" stroke-opacity="0.25" stroke-width="1.2"/><path d="M314.5,999.9Q342.5,1004.9 370.5,999.9" fill="none" stroke="#0d5f94" stroke-opacity="0.22" stroke-width="1.2"/><path d="M314.5,1001.4Q342.5,1006.4 370.5,1001.4" fill="none" stroke="#5ab4e4" stroke-opacity="0.25" stroke-width="1.2"/><path d="M314.5,1033.2Q342.5,1038.2 370.5,1033.2" fill="none" stroke="#0d5f94" stroke-opacity="0.22" stroke-width="1.2"/><path d="M314.5,1034.7Q342.5,1039.7 370.5,1034.7" fill="none" stroke="#5ab4e4" stroke-opacity="0.25" stroke-width="1.2"/><path d="M314.5,1064.7Q342.5,1069.7 370.5,1064.7" fill="none" stroke="#0d5f94" stroke-opacity="0.22" stroke-width="1.2"/><path d="M314.5,1066.2Q342.5,1071.2 370.5,1066.2" fill="none" stroke="#5ab4e4" stroke-opacity="0.25" stroke-width="1.2"/><path d="M376.6,917.7L376.6,1092.7A29.0,12.7 0 0 0 434.6,1092.7L434.6,917.7Z" fill="url(#fr)"/><ellipse cx="405.6" cy="917.7" rx="29.0" ry="12.7" fill="#48a3d6"/><path d="M377.4,917.7A28.2,12.1 0 0 1 433.8,917.7" fill="none" stroke="#7cc3ea" stroke-opacity="0.55" stroke-width="1.40"/><path d="M377.6,964.9Q405.6,969.9 433.6,964.9" fill="none" stroke="#0d5f94" stroke-opacity="0.22" stroke-width="1.2"/><path d="M377.6,966.4Q405.6,971.4 433.6,966.4" fill="none" stroke="#5ab4e4" stroke-opacity="0.25" stroke-width="1.2"/><path d="M377.6,999.9Q405.6,1004.9 433.6,999.9" fill="none" stroke="#0d5f94" stroke-opacity="0.22" stroke-width="1.2"/><path d="M377.6,1001.4Q405.6,1006.4 433.6,1001.4" fill="none" stroke="#5ab4e4" stroke-opacity="0.25" stroke-width="1.2"/><path d="M377.6,1033.2Q405.6,1038.2 433.6,1033.2" fill="none" stroke="#0d5f94" stroke-opacity="0.22" stroke-width="1.2"/><path d="M377.6,1034.7Q405.6,1039.7 433.6,1034.7" fill="none" stroke="#5ab4e4" stroke-opacity="0.25" stroke-width="1.2"/><path d="M377.6,1064.7Q405.6,1069.7 433.6,1064.7" fill="none" stroke="#0d5f94" stroke-opacity="0.22" stroke-width="1.2"/><path d="M377.6,1066.2Q405.6,1071.2 433.6,1066.2" fill="none" stroke="#5ab4e4" stroke-opacity="0.25" stroke-width="1.2"/><path d="M439.7,917.7L439.7,1092.7A29.0,12.7 0 0 0 497.7,1092.7L497.7,917.7Z" fill="url(#fr)"/><ellipse cx="468.7" cy="917.7" rx="29.0" ry="12.7" fill="#48a3d6"/><path d="M440.5,917.7A28.2,12.1 0 0 1 496.9,917.7" fill="none" stroke="#7cc3ea" stroke-opacity="0.55" stroke-width="1.40"/><path d="M440.7,964.9Q468.7,969.9 496.7,964.9" fill="none" stroke="#0d5f94" stroke-opacity="0.22" stroke-width="1.2"/><path d="M440.7,966.4Q468.7,971.4 496.7,966.4" fill="none" stroke="#5ab4e4" stroke-opacity="0.25" stroke-width="1.2"/><path d="M440.7,999.9Q468.7,1004.9 496.7,999.9" fill="none" stroke="#0d5f94" stroke-opacity="0.22" stroke-width="1.2"/><path d="M440.7,1001.4Q468.7,1006.4 496.7,1001.4" fill="none" stroke="#5ab4e4" stroke-opacity="0.25" stroke-width="1.2"/><path d="M440.7,1033.2Q468.7,1038.2 496.7,1033.2" fill="none" stroke="#0d5f94" stroke-opacity="0.22" stroke-width="1.2"/><path d="M440.7,1034.7Q468.7,1039.7 496.7,1034.7" fill="none" stroke="#5ab4e4" stroke-opacity="0.25" stroke-width="1.2"/><path d="M440.7,1064.7Q468.7,1069.7 496.7,1064.7" fill="none" stroke="#0d5f94" stroke-opacity="0.22" stroke-width="1.2"/><path d="M440.7,1066.2Q468.7,1071.2 496.7,1066.2" fill="none" stroke="#5ab4e4" stroke-opacity="0.25" stroke-width="1.2"/><path d="M502.8,917.7L502.8,1092.7A29.0,12.7 0 0 0 560.8,1092.7L560.8,917.7Z" fill="url(#fr)"/><ellipse cx="531.8" cy="917.7" rx="29.0" ry="12.7" fill="#48a3d6"/><path d="M503.6,917.7A28.2,12.1 0 0 1 560.0,917.7" fill="none" stroke="#7cc3ea" stroke-opacity="0.55" stroke-width="1.40"/><path d="M503.8,964.9Q531.8,969.9 559.8,964.9" fill="none" stroke="#0d5f94" stroke-opacity="0.22" stroke-width="1.2"/><path d="M503.8,966.4Q531.8,971.4 559.8,966.4" fill="none" stroke="#5ab4e4" stroke-opacity="0.25" stroke-width="1.2"/><path d="M503.8,999.9Q531.8,1004.9 559.8,999.9" fill="none" stroke="#0d5f94" stroke-opacity="0.22" stroke-width="1.2"/><path d="M503.8,1001.4Q531.8,1006.4 559.8,1001.4" fill="none" stroke="#5ab4e4" stroke-opacity="0.25" stroke-width="1.2"/><path d="M503.8,1033.2Q531.8,1038.2 559.8,1033.2" fill="none" stroke="#0d5f94" stroke-opacity="0.22" stroke-width="1.2"/><path d="M503.8,1034.7Q531.8,1039.7 559.8,1034.7" fill="none" stroke="#5ab4e4" stroke-opacity="0.25" stroke-width="1.2"/><path d="M503.8,1064.7Q531.8,1069.7 559.8,1064.7" fill="none" stroke="#0d5f94" stroke-opacity="0.22" stroke-width="1.2"/><path d="M503.8,1066.2Q531.8,1071.2 559.8,1066.2" fill="none" stroke="#5ab4e4" stroke-opacity="0.25" stroke-width="1.2"/><path d="M565.9,917.7L565.9,1092.7A29.0,12.7 0 0 0 623.9,1092.7L623.9,917.7Z" fill="url(#fr)"/><ellipse cx="594.9" cy="917.7" rx="29.0" ry="12.7" fill="#48a3d6"/><path d="M566.7,917.7A28.2,12.1 0 0 1 623.1,917.7" fill="none" stroke="#7cc3ea" stroke-opacity="0.55" stroke-width="1.40"/><path d="M566.9,964.9Q594.9,969.9 622.9,964.9" fill="none" stroke="#0d5f94" stroke-opacity="0.22" stroke-width="1.2"/><path d="M566.9,966.4Q594.9,971.4 622.9,966.4" fill="none" stroke="#5ab4e4" stroke-opacity="0.25" stroke-width="1.2"/><path d="M566.9,999.9Q594.9,1004.9 622.9,999.9" fill="none" stroke="#0d5f94" stroke-opacity="0.22" stroke-width="1.2"/><path d="M566.9,1001.4Q594.9,1006.4 622.9,1001.4" fill="none" stroke="#5ab4e4" stroke-opacity="0.25" stroke-width="1.2"/><path d="M566.9,1033.2Q594.9,1038.2 622.9,1033.2" fill="none" stroke="#0d5f94" stroke-opacity="0.22" stroke-width="1.2"/><path d="M566.9,1034.7Q594.9,1039.7 622.9,1034.7" fill="none" stroke="#5ab4e4" stroke-opacity="0.25" stroke-width="1.2"/><path d="M566.9,1064.7Q594.9,1069.7 622.9,1064.7" fill="none" stroke="#0d5f94" stroke-opacity="0.22" stroke-width="1.2"/><path d="M566.9,1066.2Q594.9,1071.2 622.9,1066.2" fill="none" stroke="#5ab4e4" stroke-opacity="0.25" stroke-width="1.2"/><path d="M628.9,917.7L628.9,1092.7A29.0,12.7 0 0 0 687.0,1092.7L687.0,917.7Z" fill="url(#fr)"/><ellipse cx="658.0" cy="917.7" rx="29.0" ry="12.7" fill="#48a3d6"/><path d="M629.7,917.7A28.2,12.1 0 0 1 686.2,917.7" fill="none" stroke="#7cc3ea" stroke-opacity="0.55" stroke-width="1.40"/><path d="M629.9,964.9Q658.0,969.9 686.0,964.9" fill="none" stroke="#0d5f94" stroke-opacity="0.22" stroke-width="1.2"/><path d="M629.9,966.4Q658.0,971.4 686.0,966.4" fill="none" stroke="#5ab4e4" stroke-opacity="0.25" stroke-width="1.2"/><path d="M629.9,999.9Q658.0,1004.9 686.0,999.9" fill="none" stroke="#0d5f94" stroke-opacity="0.22" stroke-width="1.2"/><path d="M629.9,1001.4Q658.0,1006.4 686.0,1001.4" fill="none" stroke="#5ab4e4" stroke-opacity="0.25" stroke-width="1.2"/><path d="M629.9,1033.2Q658.0,1038.2 686.0,1033.2" fill="none" stroke="#0d5f94" stroke-opacity="0.22" stroke-width="1.2"/><path d="M629.9,1034.7Q658.0,1039.7 686.0,1034.7" fill="none" stroke="#5ab4e4" stroke-opacity="0.25" stroke-width="1.2"/><path d="M629.9,1064.7Q658.0,1069.7 686.0,1064.7" fill="none" stroke="#0d5f94" stroke-opacity="0.22" stroke-width="1.2"/><path d="M629.9,1066.2Q658.0,1071.2 686.0,1066.2" fill="none" stroke="#5ab4e4" stroke-opacity="0.25" stroke-width="1.2"/><path d="M692.0,917.7L692.0,1092.7A29.0,12.7 0 0 0 750.1,1092.7L750.1,917.7Z" fill="url(#fr)"/><ellipse cx="721.1" cy="917.7" rx="29.0" ry="12.7" fill="#48a3d6"/><path d="M692.8,917.7A28.2,12.1 0 0 1 749.3,917.7" fill="none" stroke="#7cc3ea" stroke-opacity="0.55" stroke-width="1.40"/><path d="M693.0,964.9Q721.1,969.9 749.1,964.9" fill="none" stroke="#0d5f94" stroke-opacity="0.22" stroke-width="1.2"/><path d="M693.0,966.4Q721.1,971.4 749.1,966.4" fill="none" stroke="#5ab4e4" stroke-opacity="0.25" stroke-width="1.2"/><path d="M693.0,999.9Q721.1,1004.9 749.1,999.9" fill="none" stroke="#0d5f94" stroke-opacity="0.22" stroke-width="1.2"/><path d="M693.0,1001.4Q721.1,1006.4 749.1,1001.4" fill="none" stroke="#5ab4e4" stroke-opacity="0.25" stroke-width="1.2"/><path d="M693.0,1033.2Q721.1,1038.2 749.1,1033.2" fill="none" stroke="#0d5f94" stroke-opacity="0.22" stroke-width="1.2"/><path d="M693.0,1034.7Q721.1,1039.7 749.1,1034.7" fill="none" stroke="#5ab4e4" stroke-opacity="0.25" stroke-width="1.2"/><path d="M693.0,1064.7Q721.1,1069.7 749.1,1064.7" fill="none" stroke="#0d5f94" stroke-opacity="0.22" stroke-width="1.2"/><path d="M693.0,1066.2Q721.1,1071.2 749.1,1066.2" fill="none" stroke="#5ab4e4" stroke-opacity="0.25" stroke-width="1.2"/><path d="M755.1,917.7L755.1,1092.7A29.0,12.7 0 0 0 813.2,1092.7L813.2,917.7Z" fill="url(#fr)"/><ellipse cx="784.1" cy="917.7" rx="29.0" ry="12.7" fill="#48a3d6"/><path d="M755.9,917.7A28.2,12.1 0 0 1 812.4,917.7" fill="none" stroke="#7cc3ea" stroke-opacity="0.55" stroke-width="1.40"/><path d="M756.1,964.9Q784.1,969.9 812.2,964.9" fill="none" stroke="#0d5f94" stroke-opacity="0.22" stroke-width="1.2"/><path d="M756.1,966.4Q784.1,971.4 812.2,966.4" fill="none" stroke="#5ab4e4" stroke-opacity="0.25" stroke-width="1.2"/><path d="M756.1,999.9Q784.1,1004.9 812.2,999.9" fill="none" stroke="#0d5f94" stroke-opacity="0.22" stroke-width="1.2"/><path d="M756.1,1001.4Q784.1,1006.4 812.2,1001.4" fill="none" stroke="#5ab4e4" stroke-opacity="0.25" stroke-width="1.2"/><path d="M756.1,1033.2Q784.1,1038.2 812.2,1033.2" fill="none" stroke="#0d5f94" stroke-opacity="0.22" stroke-width="1.2"/><path d="M756.1,1034.7Q784.1,1039.7 812.2,1034.7" fill="none" stroke="#5ab4e4" stroke-opacity="0.25" stroke-width="1.2"/><path d="M756.1,1064.7Q784.1,1069.7 812.2,1064.7" fill="none" stroke="#0d5f94" stroke-opacity="0.22" stroke-width="1.2"/><path d="M756.1,1066.2Q784.1,1071.2 812.2,1066.2" fill="none" stroke="#5ab4e4" stroke-opacity="0.25" stroke-width="1.2"/><path d="M818.2,917.7L818.2,1092.7A29.0,12.7 0 0 0 876.3,1092.7L876.3,917.7Z" fill="url(#fr)"/><ellipse cx="847.2" cy="917.7" rx="29.0" ry="12.7" fill="#48a3d6"/><path d="M819.0,917.7A28.2,12.1 0 0 1 875.5,917.7" fill="none" stroke="#7cc3ea" stroke-opacity="0.55" stroke-width="1.40"/><path d="M819.2,964.9Q847.2,969.9 875.3,964.9" fill="none" stroke="#0d5f94" stroke-opacity="0.22" stroke-width="1.2"/><path d="M819.2,966.4Q847.2,971.4 875.3,966.4" fill="none" stroke="#5ab4e4" stroke-opacity="0.25" stroke-width="1.2"/><path d="M819.2,999.9Q847.2,1004.9 875.3,999.9" fill="none" stroke="#0d5f94" stroke-opacity="0.22" stroke-width="1.2"/><path d="M819.2,1001.4Q847.2,1006.4 875.3,1001.4" fill="none" stroke="#5ab4e4" stroke-opacity="0.25" stroke-width="1.2"/><path d="M819.2,1033.2Q847.2,1038.2 875.3,1033.2" fill="none" stroke="#0d5f94" stroke-opacity="0.22" stroke-width="1.2"/><path d="M819.2,1034.7Q847.2,1039.7 875.3,1034.7" fill="none" stroke="#5ab4e4" stroke-opacity="0.25" stroke-width="1.2"/><path d="M819.2,1064.7Q847.2,1069.7 875.3,1064.7" fill="none" stroke="#0d5f94" stroke-opacity="0.22" stroke-width="1.2"/><path d="M819.2,1066.2Q847.2,1071.2 875.3,1066.2" fill="none" stroke="#5ab4e4" stroke-opacity="0.25" stroke-width="1.2"/><path d="M881.3,917.7L881.3,1092.7A29.0,12.7 0 0 0 939.3,1092.7L939.3,917.7Z" fill="url(#fr)"/><ellipse cx="910.3" cy="917.7" rx="29.0" ry="12.7" fill="#48a3d6"/><path d="M882.1,917.7A28.2,12.1 0 0 1 938.5,917.7" fill="none" stroke="#7cc3ea" stroke-opacity="0.55" stroke-width="1.40"/><path d="M882.3,964.9Q910.3,969.9 938.3,964.9" fill="none" stroke="#0d5f94" stroke-opacity="0.22" stroke-width="1.2"/><path d="M882.3,966.4Q910.3,971.4 938.3,966.4" fill="none" stroke="#5ab4e4" stroke-opacity="0.25" stroke-width="1.2"/><path d="M882.3,999.9Q910.3,1004.9 938.3,999.9" fill="none" stroke="#0d5f94" stroke-opacity="0.22" stroke-width="1.2"/><path d="M882.3,1001.4Q910.3,1006.4 938.3,1001.4" fill="none" stroke="#5ab4e4" stroke-opacity="0.25" stroke-width="1.2"/><path d="M882.3,1033.2Q910.3,1038.2 938.3,1033.2" fill="none" stroke="#0d5f94" stroke-opacity="0.22" stroke-width="1.2"/><path d="M882.3,1034.7Q910.3,1039.7 938.3,1034.7" fill="none" stroke="#5ab4e4" stroke-opacity="0.25" stroke-width="1.2"/><path d="M882.3,1064.7Q910.3,1069.7 938.3,1064.7" fill="none" stroke="#0d5f94" stroke-opacity="0.22" stroke-width="1.2"/><path d="M882.3,1066.2Q910.3,1071.2 938.3,1066.2" fill="none" stroke="#5ab4e4" stroke-opacity="0.25" stroke-width="1.2"/><path d="M944.4,917.7L944.4,1092.7A29.0,12.7 0 0 0 1002.4,1092.7L1002.4,917.7Z" fill="url(#fr)"/><ellipse cx="973.4" cy="917.7" rx="29.0" ry="12.7" fill="#48a3d6"/><path d="M945.2,917.7A28.2,12.1 0 0 1 1001.6,917.7" fill="none" stroke="#7cc3ea" stroke-opacity="0.55" stroke-width="1.40"/><path d="M945.4,964.9Q973.4,969.9 1001.4,964.9" fill="none" stroke="#0d5f94" stroke-opacity="0.22" stroke-width="1.2"/><path d="M945.4,966.4Q973.4,971.4 1001.4,966.4" fill="none" stroke="#5ab4e4" stroke-opacity="0.25" stroke-width="1.2"/><path d="M945.4,999.9Q973.4,1004.9 1001.4,999.9" fill="none" stroke="#0d5f94" stroke-opacity="0.22" stroke-width="1.2"/><path d="M945.4,1001.4Q973.4,1006.4 1001.4,1001.4" fill="none" stroke="#5ab4e4" stroke-opacity="0.25" stroke-width="1.2"/><path d="M945.4,1033.2Q973.4,1038.2 1001.4,1033.2" fill="none" stroke="#0d5f94" stroke-opacity="0.22" stroke-width="1.2"/><path d="M945.4,1034.7Q973.4,1039.7 1001.4,1034.7" fill="none" stroke="#5ab4e4" stroke-opacity="0.25" stroke-width="1.2"/><path d="M945.4,1064.7Q973.4,1069.7 1001.4,1064.7" fill="none" stroke="#0d5f94" stroke-opacity="0.22" stroke-width="1.2"/><path d="M945.4,1066.2Q973.4,1071.2 1001.4,1066.2" fill="none" stroke="#5ab4e4" stroke-opacity="0.25" stroke-width="1.2"/><path d="M1007.5,917.7L1007.5,1092.7A29.0,12.7 0 0 0 1065.5,1092.7L1065.5,917.7Z" fill="url(#fr)"/><ellipse cx="1036.5" cy="917.7" rx="29.0" ry="12.7" fill="#48a3d6"/><path d="M1008.3,917.7A28.2,12.1 0 0 1 1064.7,917.7" fill="none" stroke="#7cc3ea" stroke-opacity="0.55" stroke-width="1.40"/><path d="M1008.5,964.9Q1036.5,969.9 1064.5,964.9" fill="none" stroke="#0d5f94" stroke-opacity="0.22" stroke-width="1.2"/><path d="M1008.5,966.4Q1036.5,971.4 1064.5,966.4" fill="none" stroke="#5ab4e4" stroke-opacity="0.25" stroke-width="1.2"/><path d="M1008.5,999.9Q1036.5,1004.9 1064.5,999.9" fill="none" stroke="#0d5f94" stroke-opacity="0.22" stroke-width="1.2"/><path d="M1008.5,1001.4Q1036.5,1006.4 1064.5,1001.4" fill="none" stroke="#5ab4e4" stroke-opacity="0.25" stroke-width="1.2"/><path d="M1008.5,1033.2Q1036.5,1038.2 1064.5,1033.2" fill="none" stroke="#0d5f94" stroke-opacity="0.22" stroke-width="1.2"/><path d="M1008.5,1034.7Q1036.5,1039.7 1064.5,1034.7" fill="none" stroke="#5ab4e4" stroke-opacity="0.25" stroke-width="1.2"/><path d="M1008.5,1064.7Q1036.5,1069.7 1064.5,1064.7" fill="none" stroke="#0d5f94" stroke-opacity="0.22" stroke-width="1.2"/><path d="M1008.5,1066.2Q1036.5,1071.2 1064.5,1066.2" fill="none" stroke="#5ab4e4" stroke-opacity="0.25" stroke-width="1.2"/><path d="M1070.6,917.7L1070.6,1092.7A29.0,12.7 0 0 0 1128.6,1092.7L1128.6,917.7Z" fill="url(#fr)"/><ellipse cx="1099.6" cy="917.7" rx="29.0" ry="12.7" fill="#48a3d6"/><path d="M1071.4,917.7A28.2,12.1 0 0 1 1127.8,917.7" fill="none" stroke="#7cc3ea" stroke-opacity="0.55" stroke-width="1.40"/><path d="M1071.6,964.9Q1099.6,969.9 1127.6,964.9" fill="none" stroke="#0d5f94" stroke-opacity="0.22" stroke-width="1.2"/><path d="M1071.6,966.4Q1099.6,971.4 1127.6,966.4" fill="none" stroke="#5ab4e4" stroke-opacity="0.25" stroke-width="1.2"/><path d="M1071.6,999.9Q1099.6,1004.9 1127.6,999.9" fill="none" stroke="#0d5f94" stroke-opacity="0.22" stroke-width="1.2"/><path d="M1071.6,1001.4Q1099.6,1006.4 1127.6,1001.4" fill="none" stroke="#5ab4e4" stroke-opacity="0.25" stroke-width="1.2"/><path d="M1071.6,1033.2Q1099.6,1038.2 1127.6,1033.2" fill="none" stroke="#0d5f94" stroke-opacity="0.22" stroke-width="1.2"/><path d="M1071.6,1034.7Q1099.6,1039.7 1127.6,1034.7" fill="none" stroke="#5ab4e4" stroke-opacity="0.25" stroke-width="1.2"/><path d="M1071.6,1064.7Q1099.6,1069.7 1127.6,1064.7" fill="none" stroke="#0d5f94" stroke-opacity="0.22" stroke-width="1.2"/><path d="M1071.6,1066.2Q1099.6,1071.2 1127.6,1066.2" fill="none" stroke="#5ab4e4" stroke-opacity="0.25" stroke-width="1.2"/><path d="M1133.7,917.7L1133.7,1092.7A29.0,12.7 0 0 0 1191.7,1092.7L1191.7,917.7Z" fill="url(#fr)"/><ellipse cx="1162.7" cy="917.7" rx="29.0" ry="12.7" fill="#48a3d6"/><path d="M1134.5,917.7A28.2,12.1 0 0 1 1190.9,917.7" fill="none" stroke="#7cc3ea" stroke-opacity="0.55" stroke-width="1.40"/><path d="M1134.7,964.9Q1162.7,969.9 1190.7,964.9" fill="none" stroke="#0d5f94" stroke-opacity="0.22" stroke-width="1.2"/><path d="M1134.7,966.4Q1162.7,971.4 1190.7,966.4" fill="none" stroke="#5ab4e4" stroke-opacity="0.25" stroke-width="1.2"/><path d="M1134.7,999.9Q1162.7,1004.9 1190.7,999.9" fill="none" stroke="#0d5f94" stroke-opacity="0.22" stroke-width="1.2"/><path d="M1134.7,1001.4Q1162.7,1006.4 1190.7,1001.4" fill="none" stroke="#5ab4e4" stroke-opacity="0.25" stroke-width="1.2"/><path d="M1134.7,1033.2Q1162.7,1038.2 1190.7,1033.2" fill="none" stroke="#0d5f94" stroke-opacity="0.22" stroke-width="1.2"/><path d="M1134.7,1034.7Q1162.7,1039.7 1190.7,1034.7" fill="none" stroke="#5ab4e4" stroke-opacity="0.25" stroke-width="1.2"/><path d="M1134.7,1064.7Q1162.7,1069.7 1190.7,1064.7" fill="none" stroke="#0d5f94" stroke-opacity="0.22" stroke-width="1.2"/><path d="M1134.7,1066.2Q1162.7,1071.2 1190.7,1066.2" fill="none" stroke="#5ab4e4" stroke-opacity="0.25" stroke-width="1.2"/><path d="M1196.8,917.7L1196.8,1092.7A29.0,12.7 0 0 0 1254.8,1092.7L1254.8,917.7Z" fill="url(#fr)"/><ellipse cx="1225.8" cy="917.7" rx="29.0" ry="12.7" fill="#48a3d6"/><path d="M1197.6,917.7A28.2,12.1 0 0 1 1254.0,917.7" fill="none" stroke="#7cc3ea" stroke-opacity="0.55" stroke-width="1.40"/><path d="M1197.8,964.9Q1225.8,969.9 1253.8,964.9" fill="none" stroke="#0d5f94" stroke-opacity="0.22" stroke-width="1.2"/><path d="M1197.8,966.4Q1225.8,971.4 1253.8,966.4" fill="none" stroke="#5ab4e4" stroke-opacity="0.25" stroke-width="1.2"/><path d="M1197.8,999.9Q1225.8,1004.9 1253.8,999.9" fill="none" stroke="#0d5f94" stroke-opacity="0.22" stroke-width="1.2"/><path d="M1197.8,1001.4Q1225.8,1006.4 1253.8,1001.4" fill="none" stroke="#5ab4e4" stroke-opacity="0.25" stroke-width="1.2"/><path d="M1197.8,1033.2Q1225.8,1038.2 1253.8,1033.2" fill="none" stroke="#0d5f94" stroke-opacity="0.22" stroke-width="1.2"/><path d="M1197.8,1034.7Q1225.8,1039.7 1253.8,1034.7" fill="none" stroke="#5ab4e4" stroke-opacity="0.25" stroke-width="1.2"/><path d="M1197.8,1064.7Q1225.8,1069.7 1253.8,1064.7" fill="none" stroke="#0d5f94" stroke-opacity="0.22" stroke-width="1.2"/><path d="M1197.8,1066.2Q1225.8,1071.2 1253.8,1066.2" fill="none" stroke="#5ab4e4" stroke-opacity="0.25" stroke-width="1.2"/><path d="M1259.8,917.7L1259.8,1092.7A29.0,12.7 0 0 0 1317.9,1092.7L1317.9,917.7Z" fill="url(#fr)"/><ellipse cx="1288.9" cy="917.7" rx="29.0" ry="12.7" fill="#48a3d6"/><path d="M1260.6,917.7A28.2,12.1 0 0 1 1317.1,917.7" fill="none" stroke="#7cc3ea" stroke-opacity="0.55" stroke-width="1.40"/><path d="M1260.8,964.9Q1288.9,969.9 1316.9,964.9" fill="none" stroke="#0d5f94" stroke-opacity="0.22" stroke-width="1.2"/><path d="M1260.8,966.4Q1288.9,971.4 1316.9,966.4" fill="none" stroke="#5ab4e4" stroke-opacity="0.25" stroke-width="1.2"/><path d="M1260.8,999.9Q1288.9,1004.9 1316.9,999.9" fill="none" stroke="#0d5f94" stroke-opacity="0.22" stroke-width="1.2"/><path d="M1260.8,1001.4Q1288.9,1006.4 1316.9,1001.4" fill="none" stroke="#5ab4e4" stroke-opacity="0.25" stroke-width="1.2"/><path d="M1260.8,1033.2Q1288.9,1038.2 1316.9,1033.2" fill="none" stroke="#0d5f94" stroke-opacity="0.22" stroke-width="1.2"/><path d="M1260.8,1034.7Q1288.9,1039.7 1316.9,1034.7" fill="none" stroke="#5ab4e4" stroke-opacity="0.25" stroke-width="1.2"/><path d="M1260.8,1064.7Q1288.9,1069.7 1316.9,1064.7" fill="none" stroke="#0d5f94" stroke-opacity="0.22" stroke-width="1.2"/><path d="M1260.8,1066.2Q1288.9,1071.2 1316.9,1066.2" fill="none" stroke="#5ab4e4" stroke-opacity="0.25" stroke-width="1.2"/><path d="M1322.9,917.7L1322.9,1092.7A29.0,12.7 0 0 0 1381.0,1092.7L1381.0,917.7Z" fill="url(#fr)"/><ellipse cx="1352.0" cy="917.7" rx="29.0" ry="12.7" fill="#48a3d6"/><path d="M1323.7,917.7A28.2,12.1 0 0 1 1380.2,917.7" fill="none" stroke="#7cc3ea" stroke-opacity="0.55" stroke-width="1.40"/><path d="M1323.9,964.9Q1352.0,969.9 1380.0,964.9" fill="none" stroke="#0d5f94" stroke-opacity="0.22" stroke-width="1.2"/><path d="M1323.9,966.4Q1352.0,971.4 1380.0,966.4" fill="none" stroke="#5ab4e4" stroke-opacity="0.25" stroke-width="1.2"/><path d="M1323.9,999.9Q1352.0,1004.9 1380.0,999.9" fill="none" stroke="#0d5f94" stroke-opacity="0.22" stroke-width="1.2"/><path d="M1323.9,1001.4Q1352.0,1006.4 1380.0,1001.4" fill="none" stroke="#5ab4e4" stroke-opacity="0.25" stroke-width="1.2"/><path d="M1323.9,1033.2Q1352.0,1038.2 1380.0,1033.2" fill="none" stroke="#0d5f94" stroke-opacity="0.22" stroke-width="1.2"/><path d="M1323.9,1034.7Q1352.0,1039.7 1380.0,1034.7" fill="none" stroke="#5ab4e4" stroke-opacity="0.25" stroke-width="1.2"/><path d="M1323.9,1064.7Q1352.0,1069.7 1380.0,1064.7" fill="none" stroke="#0d5f94" stroke-opacity="0.22" stroke-width="1.2"/><path d="M1323.9,1066.2Q1352.0,1071.2 1380.0,1066.2" fill="none" stroke="#5ab4e4" stroke-opacity="0.25" stroke-width="1.2"/><path d="M1386.0,917.7L1386.0,1092.7A29.0,12.7 0 0 0 1444.1,1092.7L1444.1,917.7Z" fill="url(#fr)"/><ellipse cx="1415.0" cy="917.7" rx="29.0" ry="12.7" fill="#48a3d6"/><path d="M1386.8,917.7A28.2,12.1 0 0 1 1443.3,917.7" fill="none" stroke="#7cc3ea" stroke-opacity="0.55" stroke-width="1.40"/><path d="M1387.0,964.9Q1415.0,969.9 1443.1,964.9" fill="none" stroke="#0d5f94" stroke-opacity="0.22" stroke-width="1.2"/><path d="M1387.0,966.4Q1415.0,971.4 1443.1,966.4" fill="none" stroke="#5ab4e4" stroke-opacity="0.25" stroke-width="1.2"/><path d="M1387.0,999.9Q1415.0,1004.9 1443.1,999.9" fill="none" stroke="#0d5f94" stroke-opacity="0.22" stroke-width="1.2"/><path d="M1387.0,1001.4Q1415.0,1006.4 1443.1,1001.4" fill="none" stroke="#5ab4e4" stroke-opacity="0.25" stroke-width="1.2"/><path d="M1387.0,1033.2Q1415.0,1038.2 1443.1,1033.2" fill="none" stroke="#0d5f94" stroke-opacity="0.22" stroke-width="1.2"/><path d="M1387.0,1034.7Q1415.0,1039.7 1443.1,1034.7" fill="none" stroke="#5ab4e4" stroke-opacity="0.25" stroke-width="1.2"/><path d="M1387.0,1064.7Q1415.0,1069.7 1443.1,1064.7" fill="none" stroke="#0d5f94" stroke-opacity="0.22" stroke-width="1.2"/><path d="M1387.0,1066.2Q1415.0,1071.2 1443.1,1066.2" fill="none" stroke="#5ab4e4" stroke-opacity="0.25" stroke-width="1.2"/><g mask="url(#rfm)"><g transform="translate(0,2770.0) scale(1,-1)"><path d="M1099.5,1264.0L1099.5,1384.0A15.2,3.0 0 0 0 1130.0,1384.0L1130.0,1264.0A15.2,3.0 0 0 0 1099.5,1264.0Z" fill="url(#ib)"/><path d="M1100.5,1264.0A14.2,3.0 0 0 1 1129.0,1264.0" fill="none" stroke="#a6d0f0" stroke-opacity="0.8" stroke-width="1.6"/><path d="M1100.5,1264.0A14.2,2.7 0 0 0 1129.0,1264.0" fill="none" stroke="#000" stroke-opacity="0.12" stroke-width="1.2"/><path d="M1100.5,1290.2Q1114.8,1294.1 1129.0,1288.2" stroke="#ffffff" stroke-opacity="0.22" stroke-width="1.4" fill="none"/><path d="M1100.5,1292.2Q1114.8,1296.1 1129.0,1290.2" stroke="#000" stroke-opacity="0.10" stroke-width="1.5" fill="none"/><path d="M1101.5,1309.1L1128.0,1294.0" stroke="#fff" stroke-opacity="0.18" stroke-width="1.2" fill="none"/><path d="M1100.5,1315.4Q1114.8,1319.3 1129.0,1313.4" stroke="#ffffff" stroke-opacity="0.22" stroke-width="1.4" fill="none"/><path d="M1100.5,1317.4Q1114.8,1321.3 1129.0,1315.4" stroke="#000" stroke-opacity="0.10" stroke-width="1.5" fill="none"/><path d="M1101.5,1334.3L1128.0,1319.2" stroke="#fff" stroke-opacity="0.18" stroke-width="1.2" fill="none"/><path d="M1100.5,1340.6Q1114.8,1344.5 1129.0,1338.6" stroke="#ffffff" stroke-opacity="0.22" stroke-width="1.4" fill="none"/><path d="M1100.5,1342.6Q1114.8,1346.5 1129.0,1340.6" stroke="#000" stroke-opacity="0.10" stroke-width="1.5" fill="none"/><path d="M1101.5,1359.5L1128.0,1344.4" stroke="#fff" stroke-opacity="0.18" stroke-width="1.2" fill="none"/><path d="M1100.5,1365.8Q1114.8,1369.7 1129.0,1363.8" stroke="#ffffff" stroke-opacity="0.22" stroke-width="1.4" fill="none"/><path d="M1100.5,1367.8Q1114.8,1371.7 1129.0,1365.8" stroke="#000" stroke-opacity="0.10" stroke-width="1.5" fill="none"/><path d="M1101.5,1384.7L1128.0,1369.6" stroke="#fff" stroke-opacity="0.18" stroke-width="1.2" fill="none"/></g><g transform="translate(0,2768.0) scale(1,-1)"><path d="M1378.0,1263.0L1378.0,1383.0A15.2,3.0 0 0 0 1408.5,1383.0L1408.5,1263.0A15.2,3.0 0 0 0 1378.0,1263.0Z" fill="url(#iw)"/><path d="M1379.0,1263.0A14.2,3.0 0 0 1 1407.5,1263.0" fill="none" stroke="#f8f8f8" stroke-opacity="0.8" stroke-width="1.6"/><path d="M1379.0,1263.0A14.2,2.7 0 0 0 1407.5,1263.0" fill="none" stroke="#000" stroke-opacity="0.12" stroke-width="1.2"/><path d="M1379.0,1289.2Q1393.2,1293.1 1407.5,1287.2" stroke="#ffffff" stroke-opacity="0.22" stroke-width="1.4" fill="none"/><path d="M1379.0,1291.2Q1393.2,1295.1 1407.5,1289.2" stroke="#000" stroke-opacity="0.10" stroke-width="1.5" fill="none"/><path d="M1380.0,1308.1L1406.5,1293.0" stroke="#fff" stroke-opacity="0.18" stroke-width="1.2" fill="none"/><path d="M1379.0,1314.4Q1393.2,1318.3 1407.5,1312.4" stroke="#ffffff" stroke-opacity="0.22" stroke-width="1.4" fill="none"/><path d="M1379.0,1316.4Q1393.2,1320.3 1407.5,1314.4" stroke="#000" stroke-opacity="0.10" stroke-width="1.5" fill="none"/><path d="M1380.0,1333.3L1406.5,1318.2" stroke="#fff" stroke-opacity="0.18" stroke-width="1.2" fill="none"/><path d="M1379.0,1339.6Q1393.2,1343.5 1407.5,1337.6" stroke="#ffffff" stroke-opacity="0.22" stroke-width="1.4" fill="none"/><path d="M1379.0,1341.6Q1393.2,1345.5 1407.5,1339.6" stroke="#000" stroke-opacity="0.10" stroke-width="1.5" fill="none"/><path d="M1380.0,1358.5L1406.5,1343.4" stroke="#fff" stroke-opacity="0.18" stroke-width="1.2" fill="none"/><path d="M1379.0,1364.8Q1393.2,1368.7 1407.5,1362.8" stroke="#ffffff" stroke-opacity="0.22" stroke-width="1.4" fill="none"/><path d="M1379.0,1366.8Q1393.2,1370.7 1407.5,1364.8" stroke="#000" stroke-opacity="0.10" stroke-width="1.5" fill="none"/><path d="M1380.0,1383.7L1406.5,1368.6" stroke="#fff" stroke-opacity="0.18" stroke-width="1.2" fill="none"/></g><g transform="translate(0,2775.2) scale(1,-1)"><path d="M1127.0,1254.6L1127.0,1386.6A18.0,3.0 0 0 0 1163.0,1386.6L1163.0,1254.6A18.0,3.0 0 0 0 1127.0,1254.6Z" fill="url(#ib)"/><path d="M1128.0,1254.6A17.0,3.0 0 0 1 1162.0,1254.6" fill="none" stroke="#a6d0f0" stroke-opacity="0.8" stroke-width="1.6"/><path d="M1128.0,1254.6A17.0,2.7 0 0 0 1162.0,1254.6" fill="none" stroke="#000" stroke-opacity="0.12" stroke-width="1.2"/><path d="M1128.0,1283.2Q1145.0,1287.1 1162.0,1281.2" stroke="#ffffff" stroke-opacity="0.22" stroke-width="1.4" fill="none"/><path d="M1128.0,1285.2Q1145.0,1289.1 1162.0,1283.2" stroke="#000" stroke-opacity="0.10" stroke-width="1.5" fill="none"/><path d="M1129.0,1303.9L1161.0,1287.3" stroke="#fff" stroke-opacity="0.18" stroke-width="1.2" fill="none"/><path d="M1128.0,1310.8Q1145.0,1314.7 1162.0,1308.8" stroke="#ffffff" stroke-opacity="0.22" stroke-width="1.4" fill="none"/><path d="M1128.0,1312.8Q1145.0,1316.7 1162.0,1310.8" stroke="#000" stroke-opacity="0.10" stroke-width="1.5" fill="none"/><path d="M1129.0,1331.5L1161.0,1314.9" stroke="#fff" stroke-opacity="0.18" stroke-width="1.2" fill="none"/><path d="M1128.0,1338.4Q1145.0,1342.3 1162.0,1336.4" stroke="#ffffff" stroke-opacity="0.22" stroke-width="1.4" fill="none"/><path d="M1128.0,1340.4Q1145.0,1344.3 1162.0,1338.4" stroke="#000" stroke-opacity="0.10" stroke-width="1.5" fill="none"/><path d="M1129.0,1359.1L1161.0,1342.5" stroke="#fff" stroke-opacity="0.18" stroke-width="1.2" fill="none"/><path d="M1128.0,1366.0Q1145.0,1369.9 1162.0,1364.0" stroke="#ffffff" stroke-opacity="0.22" stroke-width="1.4" fill="none"/><path d="M1128.0,1368.0Q1145.0,1371.9 1162.0,1366.0" stroke="#000" stroke-opacity="0.10" stroke-width="1.5" fill="none"/><path d="M1129.0,1386.7L1161.0,1370.1" stroke="#fff" stroke-opacity="0.18" stroke-width="1.2" fill="none"/></g><g transform="translate(0,2772.0) scale(1,-1)"><path d="M1344.5,1254.6L1344.5,1385.0A18.2,3.0 0 0 0 1381.0,1385.0L1381.0,1254.6A18.2,3.0 0 0 0 1344.5,1254.6Z" fill="url(#iw)"/><path d="M1345.5,1254.6A17.2,3.0 0 0 1 1380.0,1254.6" fill="none" stroke="#f8f8f8" stroke-opacity="0.8" stroke-width="1.6"/><path d="M1345.5,1254.6A17.2,2.7 0 0 0 1380.0,1254.6" fill="none" stroke="#000" stroke-opacity="0.12" stroke-width="1.2"/><path d="M1345.5,1282.9Q1362.8,1286.8 1380.0,1280.9" stroke="#ffffff" stroke-opacity="0.22" stroke-width="1.4" fill="none"/><path d="M1345.5,1284.9Q1362.8,1288.8 1380.0,1282.9" stroke="#000" stroke-opacity="0.10" stroke-width="1.5" fill="none"/><path d="M1346.5,1303.3L1379.0,1287.0" stroke="#fff" stroke-opacity="0.18" stroke-width="1.2" fill="none"/><path d="M1345.5,1310.2Q1362.8,1314.1 1380.0,1308.2" stroke="#ffffff" stroke-opacity="0.22" stroke-width="1.4" fill="none"/><path d="M1345.5,1312.2Q1362.8,1316.1 1380.0,1310.2" stroke="#000" stroke-opacity="0.10" stroke-width="1.5" fill="none"/><path d="M1346.5,1330.6L1379.0,1314.3" stroke="#fff" stroke-opacity="0.18" stroke-width="1.2" fill="none"/><path d="M1345.5,1337.4Q1362.8,1341.3 1380.0,1335.4" stroke="#ffffff" stroke-opacity="0.22" stroke-width="1.4" fill="none"/><path d="M1345.5,1339.4Q1362.8,1343.3 1380.0,1337.4" stroke="#000" stroke-opacity="0.10" stroke-width="1.5" fill="none"/><path d="M1346.5,1357.9L1379.0,1341.5" stroke="#fff" stroke-opacity="0.18" stroke-width="1.2" fill="none"/><path d="M1345.5,1364.7Q1362.8,1368.6 1380.0,1362.7" stroke="#ffffff" stroke-opacity="0.22" stroke-width="1.4" fill="none"/><path d="M1345.5,1366.7Q1362.8,1370.6 1380.0,1364.7" stroke="#000" stroke-opacity="0.10" stroke-width="1.5" fill="none"/><path d="M1346.5,1385.2L1379.0,1368.8" stroke="#fff" stroke-opacity="0.18" stroke-width="1.2" fill="none"/></g><g transform="translate(0,2784.8) scale(1,-1)"><path d="M1160.5,1242.6L1160.5,1391.4A22.2,3.0 0 0 0 1205.0,1391.4L1205.0,1242.6A22.2,3.0 0 0 0 1160.5,1242.6Z" fill="url(#ib)"/><path d="M1161.5,1242.6A21.2,3.0 0 0 1 1204.0,1242.6" fill="none" stroke="#a6d0f0" stroke-opacity="0.8" stroke-width="1.6"/><path d="M1161.5,1242.6A21.2,2.7 0 0 0 1204.0,1242.6" fill="none" stroke="#000" stroke-opacity="0.12" stroke-width="1.2"/><path d="M1161.5,1274.6Q1182.8,1278.5 1204.0,1272.6" stroke="#ffffff" stroke-opacity="0.22" stroke-width="1.4" fill="none"/><path d="M1161.5,1276.6Q1182.8,1280.5 1204.0,1274.6" stroke="#000" stroke-opacity="0.10" stroke-width="1.5" fill="none"/><path d="M1162.5,1297.8L1203.0,1279.2" stroke="#fff" stroke-opacity="0.18" stroke-width="1.2" fill="none"/><path d="M1161.5,1305.5Q1182.8,1309.4 1204.0,1303.5" stroke="#ffffff" stroke-opacity="0.22" stroke-width="1.4" fill="none"/><path d="M1161.5,1307.5Q1182.8,1311.4 1204.0,1305.5" stroke="#000" stroke-opacity="0.10" stroke-width="1.5" fill="none"/><path d="M1162.5,1328.7L1203.0,1310.2" stroke="#fff" stroke-opacity="0.18" stroke-width="1.2" fill="none"/><path d="M1161.5,1336.5Q1182.8,1340.4 1204.0,1334.5" stroke="#ffffff" stroke-opacity="0.22" stroke-width="1.4" fill="none"/><path d="M1161.5,1338.5Q1182.8,1342.4 1204.0,1336.5" stroke="#000" stroke-opacity="0.10" stroke-width="1.5" fill="none"/><path d="M1162.5,1359.7L1203.0,1341.1" stroke="#fff" stroke-opacity="0.18" stroke-width="1.2" fill="none"/><path d="M1161.5,1367.4Q1182.8,1371.3 1204.0,1365.4" stroke="#ffffff" stroke-opacity="0.22" stroke-width="1.4" fill="none"/><path d="M1161.5,1369.4Q1182.8,1373.3 1204.0,1367.4" stroke="#000" stroke-opacity="0.10" stroke-width="1.5" fill="none"/><path d="M1162.5,1390.7L1203.0,1372.1" stroke="#fff" stroke-opacity="0.18" stroke-width="1.2" fill="none"/></g><g transform="translate(0,2784.8) scale(1,-1)"><path d="M1304.0,1242.6L1304.0,1391.4A22.0,3.0 0 0 0 1348.0,1391.4L1348.0,1242.6A22.0,3.0 0 0 0 1304.0,1242.6Z" fill="url(#iw)"/><path d="M1305.0,1242.6A21.0,3.0 0 0 1 1347.0,1242.6" fill="none" stroke="#f8f8f8" stroke-opacity="0.8" stroke-width="1.6"/><path d="M1305.0,1242.6A21.0,2.7 0 0 0 1347.0,1242.6" fill="none" stroke="#000" stroke-opacity="0.12" stroke-width="1.2"/><path d="M1305.0,1274.6Q1326.0,1278.5 1347.0,1272.6" stroke="#ffffff" stroke-opacity="0.22" stroke-width="1.4" fill="none"/><path d="M1305.0,1276.6Q1326.0,1280.5 1347.0,1274.6" stroke="#000" stroke-opacity="0.10" stroke-width="1.5" fill="none"/><path d="M1306.0,1297.8L1346.0,1279.2" stroke="#fff" stroke-opacity="0.18" stroke-width="1.2" fill="none"/><path d="M1305.0,1305.5Q1326.0,1309.4 1347.0,1303.5" stroke="#ffffff" stroke-opacity="0.22" stroke-width="1.4" fill="none"/><path d="M1305.0,1307.5Q1326.0,1311.4 1347.0,1305.5" stroke="#000" stroke-opacity="0.10" stroke-width="1.5" fill="none"/><path d="M1306.0,1328.7L1346.0,1310.2" stroke="#fff" stroke-opacity="0.18" stroke-width="1.2" fill="none"/><path d="M1305.0,1336.5Q1326.0,1340.4 1347.0,1334.5" stroke="#ffffff" stroke-opacity="0.22" stroke-width="1.4" fill="none"/><path d="M1305.0,1338.5Q1326.0,1342.4 1347.0,1336.5" stroke="#000" stroke-opacity="0.10" stroke-width="1.5" fill="none"/><path d="M1306.0,1359.7L1346.0,1341.1" stroke="#fff" stroke-opacity="0.18" stroke-width="1.2" fill="none"/><path d="M1305.0,1367.4Q1326.0,1371.3 1347.0,1365.4" stroke="#ffffff" stroke-opacity="0.22" stroke-width="1.4" fill="none"/><path d="M1305.0,1369.4Q1326.0,1373.3 1347.0,1367.4" stroke="#000" stroke-opacity="0.10" stroke-width="1.5" fill="none"/><path d="M1306.0,1390.7L1346.0,1372.1" stroke="#fff" stroke-opacity="0.18" stroke-width="1.2" fill="none"/></g><g transform="translate(0,2787.4) scale(1,-1)"><g clip-path="url(#cl)"><path d="M1203.5,1230.3L1203.5,1392.7A51.0,6.3 0 0 0 1305.5,1392.7L1305.5,1230.3A51.0,6.3 0 0 0 1203.5,1230.3Z" fill="url(#ibh)"/><path d="M1204.5,1230.3A50.0,6.3 0 0 1 1304.5,1230.3" fill="none" stroke="#a6d0f0" stroke-opacity="0.8" stroke-width="1.6"/><path d="M1204.5,1230.3A50.0,5.7 0 0 0 1304.5,1230.3" fill="none" stroke="#000" stroke-opacity="0.12" stroke-width="1.2"/><path d="M1204.5,1263.0Q1254.5,1271.2 1304.5,1261.0" stroke="#ffffff" stroke-opacity="0.22" stroke-width="1.4" fill="none"/><path d="M1204.5,1265.0Q1254.5,1273.2 1304.5,1263.0" stroke="#000" stroke-opacity="0.10" stroke-width="1.5" fill="none"/><path d="M1205.5,1289.2L1303.5,1268.2" stroke="#fff" stroke-opacity="0.18" stroke-width="1.2" fill="none"/><path d="M1204.5,1298.0Q1254.5,1306.2 1304.5,1296.0" stroke="#ffffff" stroke-opacity="0.22" stroke-width="1.4" fill="none"/><path d="M1204.5,1300.0Q1254.5,1308.2 1304.5,1298.0" stroke="#000" stroke-opacity="0.10" stroke-width="1.5" fill="none"/><path d="M1205.5,1324.2L1303.5,1303.2" stroke="#fff" stroke-opacity="0.18" stroke-width="1.2" fill="none"/><path d="M1204.5,1333.0Q1254.5,1341.2 1304.5,1331.0" stroke="#ffffff" stroke-opacity="0.22" stroke-width="1.4" fill="none"/><path d="M1204.5,1335.0Q1254.5,1343.2 1304.5,1333.0" stroke="#000" stroke-opacity="0.10" stroke-width="1.5" fill="none"/><path d="M1205.5,1359.2L1303.5,1338.2" stroke="#fff" stroke-opacity="0.18" stroke-width="1.2" fill="none"/><path d="M1204.5,1368.0Q1254.5,1376.2 1304.5,1366.0" stroke="#ffffff" stroke-opacity="0.22" stroke-width="1.4" fill="none"/><path d="M1204.5,1370.0Q1254.5,1378.2 1304.5,1368.0" stroke="#000" stroke-opacity="0.10" stroke-width="1.5" fill="none"/><path d="M1205.5,1394.2L1303.5,1373.2" stroke="#fff" stroke-opacity="0.18" stroke-width="1.2" fill="none"/></g><g clip-path="url(#cr)"><path d="M1203.5,1230.3L1203.5,1392.7A51.0,6.3 0 0 0 1305.5,1392.7L1305.5,1230.3A51.0,6.3 0 0 0 1203.5,1230.3Z" fill="url(#iwh)"/><path d="M1204.5,1230.3A50.0,6.3 0 0 1 1304.5,1230.3" fill="none" stroke="#f8f8f8" stroke-opacity="0.8" stroke-width="1.6"/><path d="M1204.5,1230.3A50.0,5.7 0 0 0 1304.5,1230.3" fill="none" stroke="#000" stroke-opacity="0.12" stroke-width="1.2"/><path d="M1204.5,1263.0Q1254.5,1271.2 1304.5,1261.0" stroke="#ffffff" stroke-opacity="0.22" stroke-width="1.4" fill="none"/><path d="M1204.5,1265.0Q1254.5,1273.2 1304.5,1263.0" stroke="#000" stroke-opacity="0.10" stroke-width="1.5" fill="none"/><path d="M1205.5,1289.2L1303.5,1268.2" stroke="#fff" stroke-opacity="0.18" stroke-width="1.2" fill="none"/><path d="M1204.5,1298.0Q1254.5,1306.2 1304.5,1296.0" stroke="#ffffff" stroke-opacity="0.22" stroke-width="1.4" fill="none"/><path d="M1204.5,1300.0Q1254.5,1308.2 1304.5,1298.0" stroke="#000" stroke-opacity="0.10" stroke-width="1.5" fill="none"/><path d="M1205.5,1324.2L1303.5,1303.2" stroke="#fff" stroke-opacity="0.18" stroke-width="1.2" fill="none"/><path d="M1204.5,1333.0Q1254.5,1341.2 1304.5,1331.0" stroke="#ffffff" stroke-opacity="0.22" stroke-width="1.4" fill="none"/><path d="M1204.5,1335.0Q1254.5,1343.2 1304.5,1333.0" stroke="#000" stroke-opacity="0.10" stroke-width="1.5" fill="none"/><path d="M1205.5,1359.2L1303.5,1338.2" stroke="#fff" stroke-opacity="0.18" stroke-width="1.2" fill="none"/><path d="M1204.5,1368.0Q1254.5,1376.2 1304.5,1366.0" stroke="#ffffff" stroke-opacity="0.22" stroke-width="1.4" fill="none"/><path d="M1204.5,1370.0Q1254.5,1378.2 1304.5,1368.0" stroke="#000" stroke-opacity="0.10" stroke-width="1.5" fill="none"/><path d="M1205.5,1394.2L1303.5,1373.2" stroke="#fff" stroke-opacity="0.18" stroke-width="1.2" fill="none"/></g></g></g><path d="M1099.5,1264.0L1099.5,1384.0A15.2,3.0 0 0 0 1130.0,1384.0L1130.0,1264.0A15.2,3.0 0 0 0 1099.5,1264.0Z" fill="url(#ib)"/><path d="M1100.5,1264.0A14.2,3.0 0 0 1 1129.0,1264.0" fill="none" stroke="#a6d0f0" stroke-opacity="0.8" stroke-width="1.6"/><path d="M1100.5,1264.0A14.2,2.7 0 0 0 1129.0,1264.0" fill="none" stroke="#000" stroke-opacity="0.12" stroke-width="1.2"/><path d="M1100.5,1290.2Q1114.8,1294.1 1129.0,1288.2" stroke="#ffffff" stroke-opacity="0.22" stroke-width="1.4" fill="none"/><path d="M1100.5,1292.2Q1114.8,1296.1 1129.0,1290.2" stroke="#000" stroke-opacity="0.10" stroke-width="1.5" fill="none"/><path d="M1101.5,1309.1L1128.0,1294.0" stroke="#fff" stroke-opacity="0.18" stroke-width="1.2" fill="none"/><path d="M1100.5,1315.4Q1114.8,1319.3 1129.0,1313.4" stroke="#ffffff" stroke-opacity="0.22" stroke-width="1.4" fill="none"/><path d="M1100.5,1317.4Q1114.8,1321.3 1129.0,1315.4" stroke="#000" stroke-opacity="0.10" stroke-width="1.5" fill="none"/><path d="M1101.5,1334.3L1128.0,1319.2" stroke="#fff" stroke-opacity="0.18" stroke-width="1.2" fill="none"/><path d="M1100.5,1340.6Q1114.8,1344.5 1129.0,1338.6" stroke="#ffffff" stroke-opacity="0.22" stroke-width="1.4" fill="none"/><path d="M1100.5,1342.6Q1114.8,1346.5 1129.0,1340.6" stroke="#000" stroke-opacity="0.10" stroke-width="1.5" fill="none"/><path d="M1101.5,1359.5L1128.0,1344.4" stroke="#fff" stroke-opacity="0.18" stroke-width="1.2" fill="none"/><path d="M1100.5,1365.8Q1114.8,1369.7 1129.0,1363.8" stroke="#ffffff" stroke-opacity="0.22" stroke-width="1.4" fill="none"/><path d="M1100.5,1367.8Q1114.8,1371.7 1129.0,1365.8" stroke="#000" stroke-opacity="0.10" stroke-width="1.5" fill="none"/><path d="M1101.5,1384.7L1128.0,1369.6" stroke="#fff" stroke-opacity="0.18" stroke-width="1.2" fill="none"/><path d="M1378.0,1263.0L1378.0,1383.0A15.2,3.0 0 0 0 1408.5,1383.0L1408.5,1263.0A15.2,3.0 0 0 0 1378.0,1263.0Z" fill="url(#iw)"/><path d="M1379.0,1263.0A14.2,3.0 0 0 1 1407.5,1263.0" fill="none" stroke="#f8f8f8" stroke-opacity="0.8" stroke-width="1.6"/><path d="M1379.0,1263.0A14.2,2.7 0 0 0 1407.5,1263.0" fill="none" stroke="#000" stroke-opacity="0.12" stroke-width="1.2"/><path d="M1379.0,1289.2Q1393.2,1293.1 1407.5,1287.2" stroke="#ffffff" stroke-opacity="0.22" stroke-width="1.4" fill="none"/><path d="M1379.0,1291.2Q1393.2,1295.1 1407.5,1289.2" stroke="#000" stroke-opacity="0.10" stroke-width="1.5" fill="none"/><path d="M1380.0,1308.1L1406.5,1293.0" stroke="#fff" stroke-opacity="0.18" stroke-width="1.2" fill="none"/><path d="M1379.0,1314.4Q1393.2,1318.3 1407.5,1312.4" stroke="#ffffff" stroke-opacity="0.22" stroke-width="1.4" fill="none"/><path d="M1379.0,1316.4Q1393.2,1320.3 1407.5,1314.4" stroke="#000" stroke-opacity="0.10" stroke-width="1.5" fill="none"/><path d="M1380.0,1333.3L1406.5,1318.2" stroke="#fff" stroke-opacity="0.18" stroke-width="1.2" fill="none"/><path d="M1379.0,1339.6Q1393.2,1343.5 1407.5,1337.6" stroke="#ffffff" stroke-opacity="0.22" stroke-width="1.4" fill="none"/><path d="M1379.0,1341.6Q1393.2,1345.5 1407.5,1339.6" stroke="#000" stroke-opacity="0.10" stroke-width="1.5" fill="none"/><path d="M1380.0,1358.5L1406.5,1343.4" stroke="#fff" stroke-opacity="0.18" stroke-width="1.2" fill="none"/><path d="M1379.0,1364.8Q1393.2,1368.7 1407.5,1362.8" stroke="#ffffff" stroke-opacity="0.22" stroke-width="1.4" fill="none"/><path d="M1379.0,1366.8Q1393.2,1370.7 1407.5,1364.8" stroke="#000" stroke-opacity="0.10" stroke-width="1.5" fill="none"/><path d="M1380.0,1383.7L1406.5,1368.6" stroke="#fff" stroke-opacity="0.18" stroke-width="1.2" fill="none"/><path d="M1127.0,1254.6L1127.0,1386.6A18.0,3.0 0 0 0 1163.0,1386.6L1163.0,1254.6A18.0,3.0 0 0 0 1127.0,1254.6Z" fill="url(#ib)"/><path d="M1128.0,1254.6A17.0,3.0 0 0 1 1162.0,1254.6" fill="none" stroke="#a6d0f0" stroke-opacity="0.8" stroke-width="1.6"/><path d="M1128.0,1254.6A17.0,2.7 0 0 0 1162.0,1254.6" fill="none" stroke="#000" stroke-opacity="0.12" stroke-width="1.2"/><path d="M1128.0,1283.2Q1145.0,1287.1 1162.0,1281.2" stroke="#ffffff" stroke-opacity="0.22" stroke-width="1.4" fill="none"/><path d="M1128.0,1285.2Q1145.0,1289.1 1162.0,1283.2" stroke="#000" stroke-opacity="0.10" stroke-width="1.5" fill="none"/><path d="M1129.0,1303.9L1161.0,1287.3" stroke="#fff" stroke-opacity="0.18" stroke-width="1.2" fill="none"/><path d="M1128.0,1310.8Q1145.0,1314.7 1162.0,1308.8" stroke="#ffffff" stroke-opacity="0.22" stroke-width="1.4" fill="none"/><path d="M1128.0,1312.8Q1145.0,1316.7 1162.0,1310.8" stroke="#000" stroke-opacity="0.10" stroke-width="1.5" fill="none"/><path d="M1129.0,1331.5L1161.0,1314.9" stroke="#fff" stroke-opacity="0.18" stroke-width="1.2" fill="none"/><path d="M1128.0,1338.4Q1145.0,1342.3 1162.0,1336.4" stroke="#ffffff" stroke-opacity="0.22" stroke-width="1.4" fill="none"/><path d="M1128.0,1340.4Q1145.0,1344.3 1162.0,1338.4" stroke="#000" stroke-opacity="0.10" stroke-width="1.5" fill="none"/><path d="M1129.0,1359.1L1161.0,1342.5" stroke="#fff" stroke-opacity="0.18" stroke-width="1.2" fill="none"/><path d="M1128.0,1366.0Q1145.0,1369.9 1162.0,1364.0" stroke="#ffffff" stroke-opacity="0.22" stroke-width="1.4" fill="none"/><path d="M1128.0,1368.0Q1145.0,1371.9 1162.0,1366.0" stroke="#000" stroke-opacity="0.10" stroke-width="1.5" fill="none"/><path d="M1129.0,1386.7L1161.0,1370.1" stroke="#fff" stroke-opacity="0.18" stroke-width="1.2" fill="none"/><path d="M1344.5,1254.6L1344.5,1385.0A18.2,3.0 0 0 0 1381.0,1385.0L1381.0,1254.6A18.2,3.0 0 0 0 1344.5,1254.6Z" fill="url(#iw)"/><path d="M1345.5,1254.6A17.2,3.0 0 0 1 1380.0,1254.6" fill="none" stroke="#f8f8f8" stroke-opacity="0.8" stroke-width="1.6"/><path d="M1345.5,1254.6A17.2,2.7 0 0 0 1380.0,1254.6" fill="none" stroke="#000" stroke-opacity="0.12" stroke-width="1.2"/><path d="M1345.5,1282.9Q1362.8,1286.8 1380.0,1280.9" stroke="#ffffff" stroke-opacity="0.22" stroke-width="1.4" fill="none"/><path d="M1345.5,1284.9Q1362.8,1288.8 1380.0,1282.9" stroke="#000" stroke-opacity="0.10" stroke-width="1.5" fill="none"/><path d="M1346.5,1303.3L1379.0,1287.0" stroke="#fff" stroke-opacity="0.18" stroke-width="1.2" fill="none"/><path d="M1345.5,1310.2Q1362.8,1314.1 1380.0,1308.2" stroke="#ffffff" stroke-opacity="0.22" stroke-width="1.4" fill="none"/><path d="M1345.5,1312.2Q1362.8,1316.1 1380.0,1310.2" stroke="#000" stroke-opacity="0.10" stroke-width="1.5" fill="none"/><path d="M1346.5,1330.6L1379.0,1314.3" stroke="#fff" stroke-opacity="0.18" stroke-width="1.2" fill="none"/><path d="M1345.5,1337.4Q1362.8,1341.3 1380.0,1335.4" stroke="#ffffff" stroke-opacity="0.22" stroke-width="1.4" fill="none"/><path d="M1345.5,1339.4Q1362.8,1343.3 1380.0,1337.4" stroke="#000" stroke-opacity="0.10" stroke-width="1.5" fill="none"/><path d="M1346.5,1357.9L1379.0,1341.5" stroke="#fff" stroke-opacity="0.18" stroke-width="1.2" fill="none"/><path d="M1345.5,1364.7Q1362.8,1368.6 1380.0,1362.7" stroke="#ffffff" stroke-opacity="0.22" stroke-width="1.4" fill="none"/><path d="M1345.5,1366.7Q1362.8,1370.6 1380.0,1364.7" stroke="#000" stroke-opacity="0.10" stroke-width="1.5" fill="none"/><path d="M1346.5,1385.2L1379.0,1368.8" stroke="#fff" stroke-opacity="0.18" stroke-width="1.2" fill="none"/><path d="M1160.5,1242.6L1160.5,1391.4A22.2,3.0 0 0 0 1205.0,1391.4L1205.0,1242.6A22.2,3.0 0 0 0 1160.5,1242.6Z" fill="url(#ib)"/><path d="M1161.5,1242.6A21.2,3.0 0 0 1 1204.0,1242.6" fill="none" stroke="#a6d0f0" stroke-opacity="0.8" stroke-width="1.6"/><path d="M1161.5,1242.6A21.2,2.7 0 0 0 1204.0,1242.6" fill="none" stroke="#000" stroke-opacity="0.12" stroke-width="1.2"/><path d="M1161.5,1274.6Q1182.8,1278.5 1204.0,1272.6" stroke="#ffffff" stroke-opacity="0.22" stroke-width="1.4" fill="none"/><path d="M1161.5,1276.6Q1182.8,1280.5 1204.0,1274.6" stroke="#000" stroke-opacity="0.10" stroke-width="1.5" fill="none"/><path d="M1162.5,1297.8L1203.0,1279.2" stroke="#fff" stroke-opacity="0.18" stroke-width="1.2" fill="none"/><path d="M1161.5,1305.5Q1182.8,1309.4 1204.0,1303.5" stroke="#ffffff" stroke-opacity="0.22" stroke-width="1.4" fill="none"/><path d="M1161.5,1307.5Q1182.8,1311.4 1204.0,1305.5" stroke="#000" stroke-opacity="0.10" stroke-width="1.5" fill="none"/><path d="M1162.5,1328.7L1203.0,1310.2" stroke="#fff" stroke-opacity="0.18" stroke-width="1.2" fill="none"/><path d="M1161.5,1336.5Q1182.8,1340.4 1204.0,1334.5" stroke="#ffffff" stroke-opacity="0.22" stroke-width="1.4" fill="none"/><path d="M1161.5,1338.5Q1182.8,1342.4 1204.0,1336.5" stroke="#000" stroke-opacity="0.10" stroke-width="1.5" fill="none"/><path d="M1162.5,1359.7L1203.0,1341.1" stroke="#fff" stroke-opacity="0.18" stroke-width="1.2" fill="none"/><path d="M1161.5,1367.4Q1182.8,1371.3 1204.0,1365.4" stroke="#ffffff" stroke-opacity="0.22" stroke-width="1.4" fill="none"/><path d="M1161.5,1369.4Q1182.8,1373.3 1204.0,1367.4" stroke="#000" stroke-opacity="0.10" stroke-width="1.5" fill="none"/><path d="M1162.5,1390.7L1203.0,1372.1" stroke="#fff" stroke-opacity="0.18" stroke-width="1.2" fill="none"/><path d="M1304.0,1242.6L1304.0,1391.4A22.0,3.0 0 0 0 1348.0,1391.4L1348.0,1242.6A22.0,3.0 0 0 0 1304.0,1242.6Z" fill="url(#iw)"/><path d="M1305.0,1242.6A21.0,3.0 0 0 1 1347.0,1242.6" fill="none" stroke="#f8f8f8" stroke-opacity="0.8" stroke-width="1.6"/><path d="M1305.0,1242.6A21.0,2.7 0 0 0 1347.0,1242.6" fill="none" stroke="#000" stroke-opacity="0.12" stroke-width="1.2"/><path d="M1305.0,1274.6Q1326.0,1278.5 1347.0,1272.6" stroke="#ffffff" stroke-opacity="0.22" stroke-width="1.4" fill="none"/><path d="M1305.0,1276.6Q1326.0,1280.5 1347.0,1274.6" stroke="#000" stroke-opacity="0.10" stroke-width="1.5" fill="none"/><path d="M1306.0,1297.8L1346.0,1279.2" stroke="#fff" stroke-opacity="0.18" stroke-width="1.2" fill="none"/><path d="M1305.0,1305.5Q1326.0,1309.4 1347.0,1303.5" stroke="#ffffff" stroke-opacity="0.22" stroke-width="1.4" fill="none"/><path d="M1305.0,1307.5Q1326.0,1311.4 1347.0,1305.5" stroke="#000" stroke-opacity="0.10" stroke-width="1.5" fill="none"/><path d="M1306.0,1328.7L1346.0,1310.2" stroke="#fff" stroke-opacity="0.18" stroke-width="1.2" fill="none"/><path d="M1305.0,1336.5Q1326.0,1340.4 1347.0,1334.5" stroke="#ffffff" stroke-opacity="0.22" stroke-width="1.4" fill="none"/><path d="M1305.0,1338.5Q1326.0,1342.4 1347.0,1336.5" stroke="#000" stroke-opacity="0.10" stroke-width="1.5" fill="none"/><path d="M1306.0,1359.7L1346.0,1341.1" stroke="#fff" stroke-opacity="0.18" stroke-width="1.2" fill="none"/><path d="M1305.0,1367.4Q1326.0,1371.3 1347.0,1365.4" stroke="#ffffff" stroke-opacity="0.22" stroke-width="1.4" fill="none"/><path d="M1305.0,1369.4Q1326.0,1373.3 1347.0,1367.4" stroke="#000" stroke-opacity="0.10" stroke-width="1.5" fill="none"/><path d="M1306.0,1390.7L1346.0,1372.1" stroke="#fff" stroke-opacity="0.18" stroke-width="1.2" fill="none"/><clipPath id="cl"><rect x="1202.5" y="1214" width="52.09999999999991" height="195"/></clipPath><clipPath id="cr"><rect x="1254.6" y="1214" width="51.90000000000009" height="195"/></clipPath><g clip-path="url(#cl)"><path d="M1203.5,1230.3L1203.5,1392.7A51.0,6.3 0 0 0 1305.5,1392.7L1305.5,1230.3A51.0,6.3 0 0 0 1203.5,1230.3Z" fill="url(#ibh)"/><path d="M1204.5,1230.3A50.0,6.3 0 0 1 1304.5,1230.3" fill="none" stroke="#a6d0f0" stroke-opacity="0.8" stroke-width="1.6"/><path d="M1204.5,1230.3A50.0,5.7 0 0 0 1304.5,1230.3" fill="none" stroke="#000" stroke-opacity="0.12" stroke-width="1.2"/><path d="M1204.5,1263.0Q1254.5,1271.2 1304.5,1261.0" stroke="#ffffff" stroke-opacity="0.22" stroke-width="1.4" fill="none"/><path d="M1204.5,1265.0Q1254.5,1273.2 1304.5,1263.0" stroke="#000" stroke-opacity="0.10" stroke-width="1.5" fill="none"/><path d="M1205.5,1289.2L1303.5,1268.2" stroke="#fff" stroke-opacity="0.18" stroke-width="1.2" fill="none"/><path d="M1204.5,1298.0Q1254.5,1306.2 1304.5,1296.0" stroke="#ffffff" stroke-opacity="0.22" stroke-width="1.4" fill="none"/><path d="M1204.5,1300.0Q1254.5,1308.2 1304.5,1298.0" stroke="#000" stroke-opacity="0.10" stroke-width="1.5" fill="none"/><path d="M1205.5,1324.2L1303.5,1303.2" stroke="#fff" stroke-opacity="0.18" stroke-width="1.2" fill="none"/><path d="M1204.5,1333.0Q1254.5,1341.2 1304.5,1331.0" stroke="#ffffff" stroke-opacity="0.22" stroke-width="1.4" fill="none"/><path d="M1204.5,1335.0Q1254.5,1343.2 1304.5,1333.0" stroke="#000" stroke-opacity="0.10" stroke-width="1.5" fill="none"/><path d="M1205.5,1359.2L1303.5,1338.2" stroke="#fff" stroke-opacity="0.18" stroke-width="1.2" fill="none"/><path d="M1204.5,1368.0Q1254.5,1376.2 1304.5,1366.0" stroke="#ffffff" stroke-opacity="0.22" stroke-width="1.4" fill="none"/><path d="M1204.5,1370.0Q1254.5,1378.2 1304.5,1368.0" stroke="#000" stroke-opacity="0.10" stroke-width="1.5" fill="none"/><path d="M1205.5,1394.2L1303.5,1373.2" stroke="#fff" stroke-opacity="0.18" stroke-width="1.2" fill="none"/></g><g clip-path="url(#cr)"><path d="M1203.5,1230.3L1203.5,1392.7A51.0,6.3 0 0 0 1305.5,1392.7L1305.5,1230.3A51.0,6.3 0 0 0 1203.5,1230.3Z" fill="url(#iwh)"/><path d="M1204.5,1230.3A50.0,6.3 0 0 1 1304.5,1230.3" fill="none" stroke="#f8f8f8" stroke-opacity="0.8" stroke-width="1.6"/><path d="M1204.5,1230.3A50.0,5.7 0 0 0 1304.5,1230.3" fill="none" stroke="#000" stroke-opacity="0.12" stroke-width="1.2"/><path d="M1204.5,1263.0Q1254.5,1271.2 1304.5,1261.0" stroke="#ffffff" stroke-opacity="0.22" stroke-width="1.4" fill="none"/><path d="M1204.5,1265.0Q1254.5,1273.2 1304.5,1263.0" stroke="#000" stroke-opacity="0.10" stroke-width="1.5" fill="none"/><path d="M1205.5,1289.2L1303.5,1268.2" stroke="#fff" stroke-opacity="0.18" stroke-width="1.2" fill="none"/><path d="M1204.5,1298.0Q1254.5,1306.2 1304.5,1296.0" stroke="#ffffff" stroke-opacity="0.22" stroke-width="1.4" fill="none"/><path d="M1204.5,1300.0Q1254.5,1308.2 1304.5,1298.0" stroke="#000" stroke-opacity="0.10" stroke-width="1.5" fill="none"/><path d="M1205.5,1324.2L1303.5,1303.2" stroke="#fff" stroke-opacity="0.18" stroke-width="1.2" fill="none"/><path d="M1204.5,1333.0Q1254.5,1341.2 1304.5,1331.0" stroke="#ffffff" stroke-opacity="0.22" stroke-width="1.4" fill="none"/><path d="M1204.5,1335.0Q1254.5,1343.2 1304.5,1333.0" stroke="#000" stroke-opacity="0.10" stroke-width="1.5" fill="none"/><path d="M1205.5,1359.2L1303.5,1338.2" stroke="#fff" stroke-opacity="0.18" stroke-width="1.2" fill="none"/><path d="M1204.5,1368.0Q1254.5,1376.2 1304.5,1366.0" stroke="#ffffff" stroke-opacity="0.22" stroke-width="1.4" fill="none"/><path d="M1204.5,1370.0Q1254.5,1378.2 1304.5,1368.0" stroke="#000" stroke-opacity="0.10" stroke-width="1.5" fill="none"/><path d="M1205.5,1394.2L1303.5,1373.2" stroke="#fff" stroke-opacity="0.18" stroke-width="1.2" fill="none"/></g><path d="M1227.5,1209.5A27.0,9.5 0 0 1 1281.5,1209.5 M1227.5,1214.5A27.0,9.5 0 0 1 1281.5,1214.5 M1227.5,1235.6Q1254.5,1219.8 1281.5,1234.0 M1227.5,1270.6Q1254.5,1260.8 1281.5,1271.0 M1227.5,1305.0Q1254.5,1301.5 1281.5,1308.0 M1227.5,1337.6Q1254.5,1341.8 1281.5,1346.0 M1227.5,1369.6Q1254.5,1380.3 1281.5,1385.0 M1227.5,1401.0A27.0,5 0 0 1 1281.5,1401.0" fill="none" stroke="#2a2a2e" stroke-width="4.4" stroke-linecap="round"/><path d="M1227.5,1209.5A27.0,9.5 0 0 1 1281.5,1209.5 M1227.5,1214.5A27.0,9.5 0 0 1 1281.5,1214.5 M1227.5,1235.6Q1254.5,1219.8 1281.5,1234.0 M1227.5,1270.6Q1254.5,1260.8 1281.5,1271.0 M1227.5,1305.0Q1254.5,1301.5 1281.5,1308.0 M1227.5,1337.6Q1254.5,1341.8 1281.5,1346.0 M1227.5,1369.6Q1254.5,1380.3 1281.5,1385.0 M1227.5,1401.0A27.0,5 0 0 1 1281.5,1401.0" fill="none" stroke="#c4c4c8" stroke-width="2.0" stroke-linecap="round"/><path d="M1281.5,1209.5A27.0,9.5 0 0 1 1227.5,1209.5 M1281.5,1214.5A27.0,9.5 0 0 1 1227.5,1214.5 M1280.5,1216.0Q1257.0,1230.0 1233.5,1236.0 M1281.5,1234.0Q1254.5,1274.3 1227.5,1270.6 M1281.5,1271.0Q1254.5,1306.0 1227.5,1305.0 M1281.5,1308.0Q1254.5,1336.8 1227.5,1337.6 M1281.5,1346.0Q1254.5,1367.8 1227.5,1369.6 M1281.5,1385.0Q1254.5,1399.9 1227.5,1400.8 M1281.5,1401.0A27.0,7.5 0 0 1 1227.5,1401.0" fill="none" stroke="#4a4a4e" stroke-width="4.8" stroke-linecap="round"/><path d="M1281.5,1209.5A27.0,9.5 0 0 1 1227.5,1209.5 M1281.5,1214.5A27.0,9.5 0 0 1 1227.5,1214.5 M1280.5,1216.0Q1257.0,1230.0 1233.5,1236.0 M1281.5,1234.0Q1254.5,1274.3 1227.5,1270.6 M1281.5,1271.0Q1254.5,1306.0 1227.5,1305.0 M1281.5,1308.0Q1254.5,1336.8 1227.5,1337.6 M1281.5,1346.0Q1254.5,1367.8 1227.5,1369.6 M1281.5,1385.0Q1254.5,1399.9 1227.5,1400.8 M1281.5,1401.0A27.0,7.5 0 0 1 1227.5,1401.0" fill="none" stroke="#f2f2f4" stroke-width="2.8" stroke-linecap="round"/></svg>
<div id="pill"></div>
<div class="t" id="p60" style="left:71px;top:126px;font-size:59px;transform:scaleX(1.2);transform-origin:0 0">60%</div>
<div class="t" id="title" style="left:244.5px;top:124px;font-size:61.5px">More Support Points Than Average Mattress</div>
<div class="t" id="sub1" style="left:260px;top:216px;font-size:46.8px">Provide contouring support and motion-isolation</div>
<div class="t" id="sub2" style="left:433.5px;top:267.5px;font-size:46.8px">for a restful sleeping experience</div>
<div class="t" id="b1" style="left:69.5px;top:1234px;font-size:42.5px">The dense <span style="color:#2a8fd2;font-weight:normal;letter-spacing:1.4px">2.3mm</span> independent pocket spring design</div>
<div class="t" id="b2" style="left:69.5px;top:1281.5px;font-size:42.5px">targets pressure points,achieving full-body alignment,</div>
<div class="t" id="b3" style="left:68px;top:1328.5px;font-size:42.5px">reducing back pain,and ensuring deep sleep.</div>
</body></html>
